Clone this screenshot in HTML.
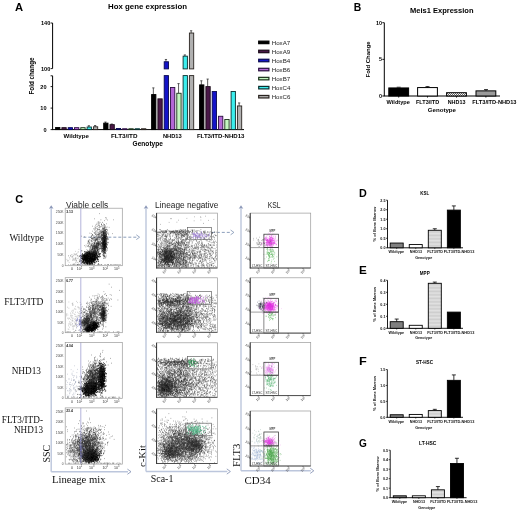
<!DOCTYPE html>
<html><head><meta charset="utf-8"><style>
html,body{margin:0;padding:0;background:#fff;width:520px;height:512px;overflow:hidden}
svg{display:block;will-change:transform}

</style></head><body>
<svg width="520" height="512" viewBox="0 0 520 512">
<defs>
<filter id="bl" x="-5%" y="-5%" width="110%" height="110%"><feGaussianBlur stdDeviation="1.5"/></filter>
<pattern id="chk" width="2" height="2" patternUnits="userSpaceOnUse"><rect width="2" height="2" fill="#fff"/><rect width="1" height="1" fill="#666"/><rect x="1" y="1" width="1" height="1" fill="#666"/></pattern>
<pattern id="dots" width="1" height="1.4" patternUnits="userSpaceOnUse"><rect width="1" height="1.4" fill="#e2e2e2"/><rect width="1" height=".5" fill="#c4c4c4"/></pattern>
</defs>
<text x="15" y="10.8" font-size="11.2" font-family="Liberation Sans" font-weight="bold" textLength="8.1" lengthAdjust="spacingAndGlyphs">A</text>
<text x="108" y="9.4" font-size="7.3" font-family="Liberation Sans" font-weight="bold" textLength="79" lengthAdjust="spacingAndGlyphs">Hox gene expression</text>
<line x1="52.6" y1="23" x2="52.6" y2="68.6" stroke="#000" stroke-width="1"/>
<line x1="50.6" y1="23.0" x2="52.6" y2="23.0" stroke="#000" stroke-width="0.9"/>
<text x="50.3" y="25.0" font-size="5.6" font-family="Liberation Sans" font-weight="bold" text-anchor="end">140</text>
<line x1="50.6" y1="68.6" x2="52.6" y2="68.6" stroke="#000" stroke-width="0.9"/>
<text x="50.3" y="70.6" font-size="5.6" font-family="Liberation Sans" font-weight="bold" text-anchor="end">100</text>
<line x1="52.6" y1="75.8" x2="52.6" y2="129.6" stroke="#000" stroke-width="1"/>
<line x1="50.6" y1="75.8" x2="52.6" y2="75.8" stroke="#000" stroke-width="0.9"/>
<line x1="50.6" y1="86.6" x2="52.6" y2="86.6" stroke="#000" stroke-width="0.9"/>
<text x="46.6" y="88.6" font-size="5.6" font-family="Liberation Sans" font-weight="bold" text-anchor="end">20</text>
<line x1="50.6" y1="108.1" x2="52.6" y2="108.1" stroke="#000" stroke-width="0.9"/>
<text x="46.6" y="110.1" font-size="5.6" font-family="Liberation Sans" font-weight="bold" text-anchor="end">10</text>
<line x1="50.6" y1="129.6" x2="52.6" y2="129.6" stroke="#000" stroke-width="0.9"/>
<text x="46.6" y="131.6" font-size="5.6" font-family="Liberation Sans" font-weight="bold" text-anchor="end">0</text>
<line x1="52.1" y1="129.6" x2="244" y2="129.6" stroke="#000" stroke-width="1"/>
<text x="34.2" y="76" font-size="6.3" font-family="Liberation Sans" font-weight="bold" text-anchor="middle" textLength="37" lengthAdjust="spacingAndGlyphs" transform="rotate(-90 34.2 76)">Fold change</text>
<text x="63.5" y="138" font-size="6.2" font-family="Liberation Sans" font-weight="bold" textLength="25.4" lengthAdjust="spacingAndGlyphs">Wildtype</text>
<text x="111" y="138" font-size="6.2" font-family="Liberation Sans" font-weight="bold" textLength="26.5" lengthAdjust="spacingAndGlyphs">FLT3/ITD</text>
<text x="162.9" y="138" font-size="6.2" font-family="Liberation Sans" font-weight="bold" textLength="18.9" lengthAdjust="spacingAndGlyphs">NHD13</text>
<text x="196.9" y="138" font-size="6.2" font-family="Liberation Sans" font-weight="bold" textLength="47.6" lengthAdjust="spacingAndGlyphs">FLT3/ITD-NHD13</text>
<text x="132.6" y="145.6" font-size="6.6" font-family="Liberation Sans" font-weight="bold" textLength="30.3" lengthAdjust="spacingAndGlyphs">Genotype</text>
<rect x="55.60" y="127.45" width="4.30" height="2.15" fill="#000000" stroke="#000" stroke-width="0.9"/>
<rect x="61.90" y="127.66" width="4.30" height="1.94" fill="#4a1848" stroke="#1a0a18" stroke-width="0.9"/>
<rect x="68.20" y="127.66" width="4.30" height="1.94" fill="#1414c8" stroke="#0a0a50" stroke-width="0.9"/>
<rect x="74.50" y="127.66" width="4.30" height="1.94" fill="#b466d6" stroke="#2a1040" stroke-width="0.9"/>
<rect x="80.80" y="127.66" width="4.30" height="1.94" fill="#c4f6c0" stroke="#1a301a" stroke-width="0.9"/>
<line x1="88.85000000000001" y1="125.72999999999999" x2="88.85000000000001" y2="127.02" stroke="#333" stroke-width="0.8"/>
<line x1="87.75000000000001" y1="125.72999999999999" x2="89.95" y2="125.72999999999999" stroke="#333" stroke-width="0.8"/>
<rect x="87.10" y="127.02" width="4.30" height="2.58" fill="#3ceeee" stroke="#0a3030" stroke-width="0.9"/>
<line x1="95.15" y1="125.515" x2="95.15" y2="126.80499999999999" stroke="#333" stroke-width="0.8"/>
<line x1="94.05000000000001" y1="125.515" x2="96.25" y2="125.515" stroke="#333" stroke-width="0.8"/>
<rect x="93.40" y="126.80" width="4.30" height="2.80" fill="#b0b0b0" stroke="#2a2420" stroke-width="0.9"/>
<line x1="105.45" y1="122.07499999999999" x2="105.45" y2="123.14999999999999" stroke="#333" stroke-width="0.8"/>
<line x1="104.35000000000001" y1="122.07499999999999" x2="106.55" y2="122.07499999999999" stroke="#333" stroke-width="0.8"/>
<rect x="103.70" y="123.15" width="4.30" height="6.45" fill="#000000" stroke="#000" stroke-width="0.9"/>
<line x1="111.75" y1="124.00999999999999" x2="111.75" y2="124.655" stroke="#333" stroke-width="0.8"/>
<line x1="110.65" y1="124.00999999999999" x2="112.85" y2="124.00999999999999" stroke="#333" stroke-width="0.8"/>
<rect x="110.00" y="124.66" width="4.30" height="4.94" fill="#4a1848" stroke="#1a0a18" stroke-width="0.9"/>
<rect x="116.30" y="128.53" width="4.30" height="1.07" fill="#1414c8" stroke="#0a0a50" stroke-width="0.9"/>
<rect x="122.60" y="128.74" width="4.30" height="0.86" fill="#b466d6" stroke="#2a1040" stroke-width="0.9"/>
<rect x="128.90" y="128.74" width="4.30" height="0.86" fill="#c4f6c0" stroke="#1a301a" stroke-width="0.9"/>
<rect x="135.20" y="128.74" width="4.30" height="0.86" fill="#3ceeee" stroke="#0a3030" stroke-width="0.9"/>
<rect x="141.50" y="128.74" width="4.30" height="0.86" fill="#b0b0b0" stroke="#2a2420" stroke-width="0.9"/>
<line x1="153.35" y1="87.89" x2="153.35" y2="94.55499999999999" stroke="#333" stroke-width="0.8"/>
<line x1="152.25" y1="87.89" x2="154.45" y2="87.89" stroke="#333" stroke-width="0.8"/>
<rect x="151.60" y="94.55" width="4.30" height="35.05" fill="#000000" stroke="#000" stroke-width="0.9"/>
<rect x="157.90" y="98.85" width="4.30" height="30.75" fill="#4a1848" stroke="#1a0a18" stroke-width="0.9"/>
<line x1="165.95" y1="59.48" x2="165.95" y2="61.76" stroke="#333" stroke-width="0.8"/>
<line x1="164.85" y1="59.48" x2="167.04999999999998" y2="59.48" stroke="#333" stroke-width="0.8"/>
<rect x="164.20" y="61.76" width="4.30" height="7.14" fill="#1414c8" stroke="#0a0a50" stroke-width="0.9"/>
<rect x="164.20" y="75.60" width="4.30" height="54.00" fill="#1414c8" stroke="#0a0a50" stroke-width="0.9"/>
<rect x="170.50" y="87.46" width="4.30" height="42.14" fill="#b466d6" stroke="#2a1040" stroke-width="0.9"/>
<line x1="178.54999999999998" y1="83.59" x2="178.54999999999998" y2="93.265" stroke="#333" stroke-width="0.8"/>
<line x1="177.45" y1="83.59" x2="179.64999999999998" y2="83.59" stroke="#333" stroke-width="0.8"/>
<rect x="176.80" y="93.27" width="4.30" height="36.33" fill="#c4f6c0" stroke="#1a301a" stroke-width="0.9"/>
<line x1="184.85" y1="54.919999999999995" x2="184.85" y2="56.17399999999999" stroke="#333" stroke-width="0.8"/>
<line x1="183.75" y1="54.919999999999995" x2="185.95" y2="54.919999999999995" stroke="#333" stroke-width="0.8"/>
<rect x="183.10" y="56.17" width="4.30" height="12.73" fill="#3ceeee" stroke="#0a3030" stroke-width="0.9"/>
<rect x="183.10" y="75.60" width="4.30" height="54.00" fill="#3ceeee" stroke="#0a3030" stroke-width="0.9"/>
<line x1="191.15" y1="30.75200000000001" x2="191.15" y2="33.03200000000001" stroke="#333" stroke-width="0.8"/>
<line x1="190.05" y1="30.75200000000001" x2="192.25" y2="30.75200000000001" stroke="#333" stroke-width="0.8"/>
<rect x="189.40" y="33.03" width="4.30" height="35.87" fill="#b0b0b0" stroke="#2a2420" stroke-width="0.9"/>
<rect x="189.40" y="75.60" width="4.30" height="54.00" fill="#b0b0b0" stroke="#2a2420" stroke-width="0.9"/>
<line x1="201.35" y1="80.79499999999999" x2="201.35" y2="84.88" stroke="#333" stroke-width="0.8"/>
<line x1="200.25" y1="80.79499999999999" x2="202.45" y2="80.79499999999999" stroke="#333" stroke-width="0.8"/>
<rect x="199.60" y="84.88" width="4.30" height="44.72" fill="#000000" stroke="#000" stroke-width="0.9"/>
<line x1="207.65" y1="79.07499999999999" x2="207.65" y2="86.6" stroke="#333" stroke-width="0.8"/>
<line x1="206.55" y1="79.07499999999999" x2="208.75" y2="79.07499999999999" stroke="#333" stroke-width="0.8"/>
<rect x="205.90" y="86.60" width="4.30" height="43.00" fill="#4a1848" stroke="#1a0a18" stroke-width="0.9"/>
<rect x="212.20" y="91.54" width="4.30" height="38.06" fill="#1414c8" stroke="#0a0a50" stroke-width="0.9"/>
<rect x="218.50" y="116.27" width="4.30" height="13.33" fill="#b466d6" stroke="#2a1040" stroke-width="0.9"/>
<rect x="224.80" y="119.49" width="4.30" height="10.11" fill="#c4f6c0" stroke="#1a301a" stroke-width="0.9"/>
<rect x="231.10" y="91.54" width="4.30" height="38.06" fill="#3ceeee" stroke="#0a3030" stroke-width="0.9"/>
<line x1="239.15" y1="102.94" x2="239.15" y2="105.94999999999999" stroke="#333" stroke-width="0.8"/>
<line x1="238.05" y1="102.94" x2="240.25" y2="102.94" stroke="#333" stroke-width="0.8"/>
<rect x="237.40" y="105.95" width="4.30" height="23.65" fill="#b0b0b0" stroke="#2a2420" stroke-width="0.9"/>
<rect x="258.70" y="41.15" width="10.20" height="2.50" fill="#000000" stroke="#000" stroke-width="1.2"/>
<text x="271.7" y="44.6" font-size="6.2" font-family="Liberation Sans" fill="#222" textLength="18.6" lengthAdjust="spacingAndGlyphs">HoxA7</text>
<rect x="258.70" y="50.20" width="10.20" height="2.50" fill="#4a1848" stroke="#1a0a18" stroke-width="1.2"/>
<text x="271.7" y="53.650000000000006" font-size="6.2" font-family="Liberation Sans" fill="#222" textLength="18.6" lengthAdjust="spacingAndGlyphs">HoxA9</text>
<rect x="258.70" y="59.25" width="10.20" height="2.50" fill="#1414c8" stroke="#0a0a50" stroke-width="1.2"/>
<text x="271.7" y="62.7" font-size="6.2" font-family="Liberation Sans" fill="#222" textLength="18.6" lengthAdjust="spacingAndGlyphs">HoxB4</text>
<rect x="258.70" y="68.30" width="10.20" height="2.50" fill="#b466d6" stroke="#2a1040" stroke-width="1.2"/>
<text x="271.7" y="71.75" font-size="6.2" font-family="Liberation Sans" fill="#222" textLength="18.6" lengthAdjust="spacingAndGlyphs">HoxB6</text>
<rect x="258.70" y="77.35" width="10.20" height="2.50" fill="#c4f6c0" stroke="#1a301a" stroke-width="1.2"/>
<text x="271.7" y="80.8" font-size="6.2" font-family="Liberation Sans" fill="#222" textLength="18.6" lengthAdjust="spacingAndGlyphs">HoxB7</text>
<rect x="258.70" y="86.40" width="10.20" height="2.50" fill="#3ceeee" stroke="#0a3030" stroke-width="1.2"/>
<text x="271.7" y="89.85000000000001" font-size="6.2" font-family="Liberation Sans" fill="#222" textLength="18.6" lengthAdjust="spacingAndGlyphs">HoxC4</text>
<rect x="258.70" y="95.45" width="10.20" height="2.50" fill="#b0b0b0" stroke="#2a2420" stroke-width="1.2"/>
<text x="271.7" y="98.9" font-size="6.2" font-family="Liberation Sans" fill="#222" textLength="18.6" lengthAdjust="spacingAndGlyphs">HoxC6</text>
<text x="353.8" y="11" font-size="10" font-family="Liberation Sans" font-weight="bold" textLength="7.5" lengthAdjust="spacingAndGlyphs">B</text>
<text x="410" y="13.3" font-size="7.3" font-family="Liberation Sans" font-weight="bold" textLength="63.5" lengthAdjust="spacingAndGlyphs">Meis1 Expression</text>
<line x1="384.3" y1="22.7" x2="384.3" y2="96" stroke="#000" stroke-width="1"/>
<line x1="382.3" y1="22.700000000000003" x2="384.3" y2="22.700000000000003" stroke="#000" stroke-width="0.9"/>
<text x="381.90000000000003" y="24.700000000000003" font-size="5.4" font-family="Liberation Sans" font-weight="bold" text-anchor="end">10</text>
<line x1="382.3" y1="59.35" x2="384.3" y2="59.35" stroke="#000" stroke-width="0.9"/>
<text x="381.90000000000003" y="61.35" font-size="5.4" font-family="Liberation Sans" font-weight="bold" text-anchor="end">5</text>
<line x1="382.3" y1="96.0" x2="384.3" y2="96.0" stroke="#000" stroke-width="0.9"/>
<text x="381.90000000000003" y="98.0" font-size="5.4" font-family="Liberation Sans" font-weight="bold" text-anchor="end">0</text>
<line x1="383.8" y1="96" x2="500" y2="96" stroke="#000" stroke-width="1"/>
<text x="370.2" y="59.4" font-size="5.9" font-family="Liberation Sans" font-weight="bold" text-anchor="middle" textLength="36" lengthAdjust="spacingAndGlyphs" transform="rotate(-90 370.2 59.4)">Fold Change</text>
<rect x="388.80" y="87.94" width="19.80" height="8.06" fill="#000" stroke="#000" stroke-width="1"/>
<line x1="398.7" y1="96" x2="398.7" y2="97.6" stroke="#000" stroke-width="0.8"/>
<rect x="417.60" y="87.57" width="19.80" height="8.43" fill="#fff" stroke="#000" stroke-width="1"/>
<line x1="427.5" y1="96" x2="427.5" y2="97.6" stroke="#000" stroke-width="0.8"/>
<rect x="446.60" y="92.70" width="19.80" height="3.30" fill="url(#chk)" stroke="#000" stroke-width="1"/>
<line x1="456.5" y1="96" x2="456.5" y2="97.6" stroke="#000" stroke-width="0.8"/>
<rect x="476.00" y="90.87" width="19.80" height="5.13" fill="#9a9a9a" stroke="#000" stroke-width="1"/>
<line x1="485.9" y1="96" x2="485.9" y2="97.6" stroke="#000" stroke-width="0.8"/>
<line x1="425.5" y1="86.6" x2="429.5" y2="86.6" stroke="#000" stroke-width="0.8"/>
<line x1="427.5" y1="86.6" x2="427.5" y2="87.6" stroke="#000" stroke-width="0.8"/>
<line x1="484" y1="89.6" x2="488" y2="89.6" stroke="#000" stroke-width="0.8"/>
<line x1="486" y1="89.6" x2="486" y2="90.8" stroke="#000" stroke-width="0.8"/>
<line x1="396.7" y1="87.2" x2="400.7" y2="87.2" stroke="#000" stroke-width="0.7"/>
<text x="386.5" y="103.8" font-size="5.6" font-family="Liberation Sans" font-weight="bold" textLength="23.4" lengthAdjust="spacingAndGlyphs">Wildtype</text>
<text x="416" y="103.8" font-size="5.6" font-family="Liberation Sans" font-weight="bold" textLength="23.2" lengthAdjust="spacingAndGlyphs">FLT3/ITD</text>
<text x="447.7" y="103.8" font-size="5.6" font-family="Liberation Sans" font-weight="bold" textLength="17.7" lengthAdjust="spacingAndGlyphs">NHD13</text>
<text x="472.3" y="103.8" font-size="5.6" font-family="Liberation Sans" font-weight="bold" textLength="44.2" lengthAdjust="spacingAndGlyphs">FLT3/ITD-NHD13</text>
<text x="427.8" y="112.3" font-size="6.1" font-family="Liberation Sans" font-weight="bold" textLength="28.2" lengthAdjust="spacingAndGlyphs">Genotype</text>
<text x="359" y="197.2" font-size="11" font-family="Liberation Sans" font-weight="bold" textLength="7.8" lengthAdjust="spacingAndGlyphs">D</text>
<text x="420.3" y="194.5" font-size="4.6" font-family="Liberation Sans" font-weight="bold" textLength="8.9" lengthAdjust="spacingAndGlyphs">KSL</text>
<line x1="387.5" y1="200.2" x2="387.5" y2="247.8" stroke="#000" stroke-width="0.9"/>
<line x1="386.0" y1="247.8" x2="387.5" y2="247.8" stroke="#000" stroke-width="0.7"/>
<text x="385.5" y="249.10000000000002" font-size="3.7" font-family="Liberation Sans" font-weight="bold" text-anchor="end" fill="#111">0.0</text>
<line x1="386.0" y1="238.28" x2="387.5" y2="238.28" stroke="#000" stroke-width="0.7"/>
<text x="385.5" y="239.58" font-size="3.7" font-family="Liberation Sans" font-weight="bold" text-anchor="end" fill="#111">0.5</text>
<line x1="386.0" y1="228.76" x2="387.5" y2="228.76" stroke="#000" stroke-width="0.7"/>
<text x="385.5" y="230.06" font-size="3.7" font-family="Liberation Sans" font-weight="bold" text-anchor="end" fill="#111">1.0</text>
<line x1="386.0" y1="219.24" x2="387.5" y2="219.24" stroke="#000" stroke-width="0.7"/>
<text x="385.5" y="220.54000000000002" font-size="3.7" font-family="Liberation Sans" font-weight="bold" text-anchor="end" fill="#111">1.5</text>
<line x1="386.0" y1="209.72" x2="387.5" y2="209.72" stroke="#000" stroke-width="0.7"/>
<text x="385.5" y="211.02" font-size="3.7" font-family="Liberation Sans" font-weight="bold" text-anchor="end" fill="#111">2.0</text>
<line x1="386.0" y1="200.2" x2="387.5" y2="200.2" stroke="#000" stroke-width="0.7"/>
<text x="385.5" y="201.5" font-size="3.7" font-family="Liberation Sans" font-weight="bold" text-anchor="end" fill="#111">2.5</text>
<line x1="387.1" y1="247.8" x2="463" y2="247.8" stroke="#000" stroke-width="0.9"/>
<rect x="390.20" y="243.04" width="13.00" height="4.76" fill="#808080" stroke="#000" stroke-width="0.9"/>
<line x1="396.7" y1="247.8" x2="396.7" y2="249.10000000000002" stroke="#000" stroke-width="0.6"/>
<rect x="409.25" y="244.56" width="13.00" height="3.24" fill="#ffffff" stroke="#000" stroke-width="0.9"/>
<line x1="415.75" y1="247.8" x2="415.75" y2="249.10000000000002" stroke="#000" stroke-width="0.6"/>
<line x1="434.8" y1="228.76" x2="434.8" y2="230.2832" stroke="#000" stroke-width="0.8"/>
<line x1="432.8" y1="228.76" x2="436.8" y2="228.76" stroke="#000" stroke-width="0.8"/>
<rect x="428.30" y="230.28" width="13.00" height="17.52" fill="url(#dots)" stroke="#000" stroke-width="0.9"/>
<line x1="434.8" y1="247.8" x2="434.8" y2="249.10000000000002" stroke="#000" stroke-width="0.6"/>
<line x1="453.85" y1="205.91199999999998" x2="453.85" y2="210.1008" stroke="#000" stroke-width="0.8"/>
<line x1="451.85" y1="205.91199999999998" x2="455.85" y2="205.91199999999998" stroke="#000" stroke-width="0.8"/>
<rect x="447.35" y="210.10" width="13.00" height="37.70" fill="#000000" stroke="#000" stroke-width="0.9"/>
<line x1="453.85" y1="247.8" x2="453.85" y2="249.10000000000002" stroke="#000" stroke-width="0.6"/>
<text x="388.59999999999997" y="253.3" font-size="3.9" font-family="Liberation Sans" font-weight="bold" fill="#111" textLength="15.5" lengthAdjust="spacingAndGlyphs">Wildtype</text>
<text x="409.85" y="253.3" font-size="3.9" font-family="Liberation Sans" font-weight="bold" fill="#111" textLength="12.2" lengthAdjust="spacingAndGlyphs">NHD13</text>
<text x="427.2" y="253.3" font-size="3.9" font-family="Liberation Sans" font-weight="bold" fill="#111" textLength="15.7" lengthAdjust="spacingAndGlyphs">FLT3/ITD</text>
<text x="443.85" y="253.3" font-size="3.9" font-family="Liberation Sans" font-weight="bold" fill="#111" textLength="30.5" lengthAdjust="spacingAndGlyphs">FLT3/ITD-NHD13</text>
<text x="415.2" y="259.3" font-size="4.3" font-family="Liberation Sans" font-weight="bold" fill="#111" textLength="17" lengthAdjust="spacingAndGlyphs">Genotype</text>
<text x="376.2" y="224.0" font-size="4.1" font-family="Liberation Sans" font-weight="bold" text-anchor="middle" fill="#111" textLength="35" lengthAdjust="spacingAndGlyphs" transform="rotate(-90 376.2 224.0)">% of Bone Marrow</text>
<text x="359" y="273.8" font-size="11" font-family="Liberation Sans" font-weight="bold" textLength="7.8" lengthAdjust="spacingAndGlyphs">E</text>
<text x="419.8" y="275" font-size="4.6" font-family="Liberation Sans" font-weight="bold" textLength="9.9" lengthAdjust="spacingAndGlyphs">MPP</text>
<line x1="387.5" y1="280.3" x2="387.5" y2="328.3" stroke="#000" stroke-width="0.9"/>
<line x1="386.0" y1="328.3" x2="387.5" y2="328.3" stroke="#000" stroke-width="0.7"/>
<text x="385.5" y="329.6" font-size="3.7" font-family="Liberation Sans" font-weight="bold" text-anchor="end" fill="#111">0.0</text>
<line x1="386.0" y1="316.3" x2="387.5" y2="316.3" stroke="#000" stroke-width="0.7"/>
<text x="385.5" y="317.6" font-size="3.7" font-family="Liberation Sans" font-weight="bold" text-anchor="end" fill="#111">0.1</text>
<line x1="386.0" y1="304.3" x2="387.5" y2="304.3" stroke="#000" stroke-width="0.7"/>
<text x="385.5" y="305.6" font-size="3.7" font-family="Liberation Sans" font-weight="bold" text-anchor="end" fill="#111">0.2</text>
<line x1="386.0" y1="292.3" x2="387.5" y2="292.3" stroke="#000" stroke-width="0.7"/>
<text x="385.5" y="293.6" font-size="3.7" font-family="Liberation Sans" font-weight="bold" text-anchor="end" fill="#111">0.3</text>
<line x1="386.0" y1="280.3" x2="387.5" y2="280.3" stroke="#000" stroke-width="0.7"/>
<text x="385.5" y="281.6" font-size="3.7" font-family="Liberation Sans" font-weight="bold" text-anchor="end" fill="#111">0.4</text>
<line x1="387.1" y1="328.3" x2="463" y2="328.3" stroke="#000" stroke-width="0.9"/>
<line x1="396.7" y1="319.06" x2="396.7" y2="321.7" stroke="#000" stroke-width="0.8"/>
<line x1="394.7" y1="319.06" x2="398.7" y2="319.06" stroke="#000" stroke-width="0.8"/>
<rect x="390.20" y="321.70" width="13.00" height="6.60" fill="#808080" stroke="#000" stroke-width="0.9"/>
<line x1="396.7" y1="328.3" x2="396.7" y2="329.6" stroke="#000" stroke-width="0.6"/>
<rect x="409.25" y="325.30" width="13.00" height="3.00" fill="#ffffff" stroke="#000" stroke-width="0.9"/>
<line x1="415.75" y1="328.3" x2="415.75" y2="329.6" stroke="#000" stroke-width="0.6"/>
<line x1="434.8" y1="282.1" x2="434.8" y2="283.3" stroke="#000" stroke-width="0.8"/>
<line x1="432.8" y1="282.1" x2="436.8" y2="282.1" stroke="#000" stroke-width="0.8"/>
<rect x="428.30" y="283.30" width="13.00" height="45.00" fill="url(#dots)" stroke="#000" stroke-width="0.9"/>
<line x1="434.8" y1="328.3" x2="434.8" y2="329.6" stroke="#000" stroke-width="0.6"/>
<rect x="447.35" y="312.10" width="13.00" height="16.20" fill="#000000" stroke="#000" stroke-width="0.9"/>
<line x1="453.85" y1="328.3" x2="453.85" y2="329.6" stroke="#000" stroke-width="0.6"/>
<text x="388.59999999999997" y="333.6" font-size="3.9" font-family="Liberation Sans" font-weight="bold" fill="#111" textLength="15.5" lengthAdjust="spacingAndGlyphs">Wildtype</text>
<text x="409.85" y="333.6" font-size="3.9" font-family="Liberation Sans" font-weight="bold" fill="#111" textLength="12.2" lengthAdjust="spacingAndGlyphs">NHD13</text>
<text x="427.2" y="333.6" font-size="3.9" font-family="Liberation Sans" font-weight="bold" fill="#111" textLength="15.7" lengthAdjust="spacingAndGlyphs">FLT3/ITD</text>
<text x="443.85" y="333.6" font-size="3.9" font-family="Liberation Sans" font-weight="bold" fill="#111" textLength="30.5" lengthAdjust="spacingAndGlyphs">FLT3/ITD-NHD13</text>
<text x="415.2" y="339.3" font-size="4.3" font-family="Liberation Sans" font-weight="bold" fill="#111" textLength="17" lengthAdjust="spacingAndGlyphs">Genotype</text>
<text x="376.2" y="304.3" font-size="4.1" font-family="Liberation Sans" font-weight="bold" text-anchor="middle" fill="#111" textLength="35" lengthAdjust="spacingAndGlyphs" transform="rotate(-90 376.2 304.3)">% of Bone Marrow</text>
<text x="359" y="365.3" font-size="11" font-family="Liberation Sans" font-weight="bold" textLength="7.8" lengthAdjust="spacingAndGlyphs">F</text>
<text x="416" y="364.2" font-size="4.6" font-family="Liberation Sans" font-weight="bold" textLength="17" lengthAdjust="spacingAndGlyphs">ST-HSC</text>
<line x1="387.3" y1="369.5" x2="387.3" y2="417.3" stroke="#000" stroke-width="0.9"/>
<line x1="385.8" y1="417.3" x2="387.3" y2="417.3" stroke="#000" stroke-width="0.7"/>
<text x="385.3" y="418.6" font-size="3.7" font-family="Liberation Sans" font-weight="bold" text-anchor="end" fill="#111">0.0</text>
<line x1="385.8" y1="401.3666666666667" x2="387.3" y2="401.3666666666667" stroke="#000" stroke-width="0.7"/>
<text x="385.3" y="402.6666666666667" font-size="3.7" font-family="Liberation Sans" font-weight="bold" text-anchor="end" fill="#111">0.5</text>
<line x1="385.8" y1="385.43333333333334" x2="387.3" y2="385.43333333333334" stroke="#000" stroke-width="0.7"/>
<text x="385.3" y="386.73333333333335" font-size="3.7" font-family="Liberation Sans" font-weight="bold" text-anchor="end" fill="#111">1.0</text>
<line x1="385.8" y1="369.5" x2="387.3" y2="369.5" stroke="#000" stroke-width="0.7"/>
<text x="385.3" y="370.8" font-size="3.7" font-family="Liberation Sans" font-weight="bold" text-anchor="end" fill="#111">1.5</text>
<line x1="386.90000000000003" y1="417.3" x2="463" y2="417.3" stroke="#000" stroke-width="0.9"/>
<rect x="390.20" y="414.75" width="13.00" height="2.55" fill="#808080" stroke="#000" stroke-width="0.9"/>
<line x1="396.7" y1="417.3" x2="396.7" y2="418.6" stroke="#000" stroke-width="0.6"/>
<rect x="409.25" y="414.43" width="13.00" height="2.87" fill="#ffffff" stroke="#000" stroke-width="0.9"/>
<line x1="415.75" y1="417.3" x2="415.75" y2="418.6" stroke="#000" stroke-width="0.6"/>
<line x1="434.8" y1="409.33333333333337" x2="434.8" y2="410.608" stroke="#000" stroke-width="0.8"/>
<line x1="432.8" y1="409.33333333333337" x2="436.8" y2="409.33333333333337" stroke="#000" stroke-width="0.8"/>
<rect x="428.30" y="410.61" width="13.00" height="6.69" fill="url(#dots)" stroke="#000" stroke-width="0.9"/>
<line x1="434.8" y1="417.3" x2="434.8" y2="418.6" stroke="#000" stroke-width="0.6"/>
<line x1="453.85" y1="374.9173333333333" x2="453.85" y2="380.3346666666667" stroke="#000" stroke-width="0.8"/>
<line x1="451.85" y1="374.9173333333333" x2="455.85" y2="374.9173333333333" stroke="#000" stroke-width="0.8"/>
<rect x="447.35" y="380.33" width="13.00" height="36.97" fill="#000000" stroke="#000" stroke-width="0.9"/>
<line x1="453.85" y1="417.3" x2="453.85" y2="418.6" stroke="#000" stroke-width="0.6"/>
<text x="388.59999999999997" y="423.1" font-size="3.9" font-family="Liberation Sans" font-weight="bold" fill="#111" textLength="15.5" lengthAdjust="spacingAndGlyphs">Wildtype</text>
<text x="409.85" y="423.1" font-size="3.9" font-family="Liberation Sans" font-weight="bold" fill="#111" textLength="12.2" lengthAdjust="spacingAndGlyphs">NHD13</text>
<text x="427.2" y="423.1" font-size="3.9" font-family="Liberation Sans" font-weight="bold" fill="#111" textLength="15.7" lengthAdjust="spacingAndGlyphs">FLT3/ITD</text>
<text x="443.85" y="423.1" font-size="3.9" font-family="Liberation Sans" font-weight="bold" fill="#111" textLength="30.5" lengthAdjust="spacingAndGlyphs">FLT3/ITD-NHD13</text>
<text x="415.2" y="428.8" font-size="4.3" font-family="Liberation Sans" font-weight="bold" fill="#111" textLength="17" lengthAdjust="spacingAndGlyphs">Genotype</text>
<text x="376.0" y="393.4" font-size="4.1" font-family="Liberation Sans" font-weight="bold" text-anchor="middle" fill="#111" textLength="35" lengthAdjust="spacingAndGlyphs" transform="rotate(-90 376.0 393.4)">% of Bone Marrow</text>
<text x="359" y="447.3" font-size="11" font-family="Liberation Sans" font-weight="bold" textLength="7.8" lengthAdjust="spacingAndGlyphs">G</text>
<text x="419" y="444.5" font-size="4.6" font-family="Liberation Sans" font-weight="bold" textLength="17.4" lengthAdjust="spacingAndGlyphs">LT-HSC</text>
<line x1="390.2" y1="450.2" x2="390.2" y2="497.7" stroke="#000" stroke-width="0.9"/>
<line x1="388.7" y1="497.7" x2="390.2" y2="497.7" stroke="#000" stroke-width="0.7"/>
<text x="388.2" y="499.0" font-size="3.7" font-family="Liberation Sans" font-weight="bold" text-anchor="end" fill="#111">0.0</text>
<line x1="388.7" y1="488.2" x2="390.2" y2="488.2" stroke="#000" stroke-width="0.7"/>
<text x="388.2" y="489.5" font-size="3.7" font-family="Liberation Sans" font-weight="bold" text-anchor="end" fill="#111">0.1</text>
<line x1="388.7" y1="478.7" x2="390.2" y2="478.7" stroke="#000" stroke-width="0.7"/>
<text x="388.2" y="480.0" font-size="3.7" font-family="Liberation Sans" font-weight="bold" text-anchor="end" fill="#111">0.2</text>
<line x1="388.7" y1="469.2" x2="390.2" y2="469.2" stroke="#000" stroke-width="0.7"/>
<text x="388.2" y="470.5" font-size="3.7" font-family="Liberation Sans" font-weight="bold" text-anchor="end" fill="#111">0.3</text>
<line x1="388.7" y1="459.7" x2="390.2" y2="459.7" stroke="#000" stroke-width="0.7"/>
<text x="388.2" y="461.0" font-size="3.7" font-family="Liberation Sans" font-weight="bold" text-anchor="end" fill="#111">0.4</text>
<line x1="388.7" y1="450.2" x2="390.2" y2="450.2" stroke="#000" stroke-width="0.7"/>
<text x="388.2" y="451.5" font-size="3.7" font-family="Liberation Sans" font-weight="bold" text-anchor="end" fill="#111">0.5</text>
<line x1="389.8" y1="497.7" x2="466.6" y2="497.7" stroke="#000" stroke-width="0.9"/>
<rect x="393.30" y="495.80" width="13.00" height="1.90" fill="#808080" stroke="#000" stroke-width="0.9"/>
<line x1="399.8" y1="497.7" x2="399.8" y2="499.0" stroke="#000" stroke-width="0.6"/>
<rect x="412.35" y="495.80" width="13.00" height="1.90" fill="#ffffff" stroke="#000" stroke-width="0.9"/>
<line x1="418.85" y1="497.7" x2="418.85" y2="499.0" stroke="#000" stroke-width="0.6"/>
<line x1="437.90000000000003" y1="486.585" x2="437.90000000000003" y2="489.815" stroke="#000" stroke-width="0.8"/>
<line x1="435.90000000000003" y1="486.585" x2="439.90000000000003" y2="486.585" stroke="#000" stroke-width="0.8"/>
<rect x="431.40" y="489.81" width="13.00" height="7.88" fill="url(#dots)" stroke="#000" stroke-width="0.9"/>
<line x1="437.90000000000003" y1="497.7" x2="437.90000000000003" y2="499.0" stroke="#000" stroke-width="0.6"/>
<line x1="456.95000000000005" y1="458.275" x2="456.95000000000005" y2="463.5" stroke="#000" stroke-width="0.8"/>
<line x1="454.95000000000005" y1="458.275" x2="458.95000000000005" y2="458.275" stroke="#000" stroke-width="0.8"/>
<rect x="450.45" y="463.50" width="13.00" height="34.20" fill="#000000" stroke="#000" stroke-width="0.9"/>
<line x1="456.95000000000005" y1="497.7" x2="456.95000000000005" y2="499.0" stroke="#000" stroke-width="0.6"/>
<text x="391.7" y="503.3" font-size="3.9" font-family="Liberation Sans" font-weight="bold" fill="#111" textLength="15.5" lengthAdjust="spacingAndGlyphs">Wildtype</text>
<text x="412.95000000000005" y="503.3" font-size="3.9" font-family="Liberation Sans" font-weight="bold" fill="#111" textLength="12.2" lengthAdjust="spacingAndGlyphs">NHD13</text>
<text x="430.3" y="503.3" font-size="3.9" font-family="Liberation Sans" font-weight="bold" fill="#111" textLength="15.7" lengthAdjust="spacingAndGlyphs">FLT3/ITD</text>
<text x="446.95000000000005" y="503.3" font-size="3.9" font-family="Liberation Sans" font-weight="bold" fill="#111" textLength="30.5" lengthAdjust="spacingAndGlyphs">FLT3/ITD-NHD13</text>
<text x="418.3" y="509" font-size="4.3" font-family="Liberation Sans" font-weight="bold" fill="#111" textLength="17" lengthAdjust="spacingAndGlyphs">Genotype</text>
<text x="378.9" y="473.95" font-size="4.1" font-family="Liberation Sans" font-weight="bold" text-anchor="middle" fill="#111" textLength="35" lengthAdjust="spacingAndGlyphs" transform="rotate(-90 378.9 473.95)">% of Bone Marrow</text>
<text x="15.2" y="203" font-size="10.3" font-family="Liberation Sans" font-weight="bold" textLength="7.9" lengthAdjust="spacingAndGlyphs">C</text>
<text x="66" y="207.7" font-size="8.5" font-family="Liberation Sans" fill="#222" textLength="42.3" lengthAdjust="spacingAndGlyphs">Viable cells</text>
<text x="155.1" y="207.7" font-size="8.5" font-family="Liberation Sans" fill="#222" textLength="63.2" lengthAdjust="spacingAndGlyphs">Lineage negative</text>
<text x="267.8" y="207.7" font-size="8.5" font-family="Liberation Sans" fill="#222" textLength="12.8" lengthAdjust="spacingAndGlyphs">KSL</text>
<text x="9.4" y="240.5" font-size="9.4" font-family="Liberation Serif" fill="#111" textLength="34.4" lengthAdjust="spacingAndGlyphs">Wildtype</text>
<text x="4.2" y="305.3" font-size="9.4" font-family="Liberation Serif" fill="#111" textLength="39.2" lengthAdjust="spacingAndGlyphs">FLT3/ITD</text>
<text x="11.7" y="373.7" font-size="9.4" font-family="Liberation Serif" fill="#111" textLength="29.3" lengthAdjust="spacingAndGlyphs">NHD13</text>
<text x="1.8" y="422.8" font-size="9.4" font-family="Liberation Serif" fill="#111" textLength="41.2" lengthAdjust="spacingAndGlyphs">FLT3/ITD-</text>
<text x="14" y="433.4" font-size="9.4" font-family="Liberation Serif" fill="#111" textLength="29" lengthAdjust="spacingAndGlyphs">NHD13</text>
<text x="52" y="482.6" font-size="11" font-family="Liberation Serif" fill="#111" textLength="53.6" lengthAdjust="spacingAndGlyphs">Lineage mix</text>
<text x="150.8" y="482" font-size="10.4" font-family="Liberation Serif" fill="#111" textLength="22.6" lengthAdjust="spacingAndGlyphs">Sca-1</text>
<text x="244.6" y="484" font-size="10.6" font-family="Liberation Serif" fill="#111" textLength="26" lengthAdjust="spacingAndGlyphs">CD34</text>
<text x="50" y="453.6" font-size="11" font-family="Liberation Serif" text-anchor="middle" fill="#111" textLength="17.6" lengthAdjust="spacingAndGlyphs" transform="rotate(-90 50 453.6)">SSC</text>
<text x="145.5" y="456" font-size="11" font-family="Liberation Serif" text-anchor="middle" fill="#111" textLength="22" lengthAdjust="spacingAndGlyphs" transform="rotate(-90 145.5 456)">c-Kit</text>
<text x="239.8" y="455.4" font-size="11" font-family="Liberation Serif" text-anchor="middle" fill="#111" textLength="23.2" lengthAdjust="spacingAndGlyphs" transform="rotate(-90 239.8 455.4)">FLT3</text>
<line x1="51.2" y1="208" x2="51.2" y2="471.7" stroke="#bcc6dc" stroke-width="1.4"/>
<line x1="51.2" y1="471.7" x2="128" y2="471.7" stroke="#bcc6dc" stroke-width="1.4"/>
<path d="M48.900000000000006 208.8L51.2 205.3L53.5 208.8L51.2 208Z" fill="#8c98b8"/>
<path d="M127.4 469.09999999999997L131 471.7L127.4 474.3" fill="none" stroke="#8c98b8" stroke-width="0.9"/>
<line x1="146" y1="208" x2="146" y2="471.5" stroke="#bcc6dc" stroke-width="1.4"/>
<line x1="146" y1="471.5" x2="227.4" y2="471.5" stroke="#bcc6dc" stroke-width="1.4"/>
<path d="M143.7 208.8L146 205.3L148.3 208.8L146 208Z" fill="#8c98b8"/>
<path d="M226.8 468.9L230.4 471.5L226.8 474.1" fill="none" stroke="#8c98b8" stroke-width="0.9"/>
<line x1="241" y1="208" x2="241" y2="470.8" stroke="#bcc6dc" stroke-width="1.4"/>
<line x1="241" y1="470.8" x2="310.8" y2="470.8" stroke="#bcc6dc" stroke-width="1.4"/>
<path d="M238.7 208.8L241 205.3L243.3 208.8L241 208Z" fill="#8c98b8"/>
<path d="M310.2 468.2L313.8 470.8L310.2 473.40000000000003" fill="none" stroke="#8c98b8" stroke-width="0.9"/>
<line x1="83.3" y1="237.2" x2="136.5" y2="237.2" stroke="#7f93b3" stroke-width="0.9" stroke-dasharray="3 2"/>
<path d="M136.3 234.8L139.6 237.2L136.3 239.6" fill="none" stroke="#7f93b3" stroke-width="0.8"/>
<line x1="211.8" y1="232.4" x2="231" y2="232.4" stroke="#7f93b3" stroke-width="0.9" stroke-dasharray="3 2"/>
<path d="M230.6 230L233.9 232.4L230.6 234.8" fill="none" stroke="#7f93b3" stroke-width="0.8"/>
<path transform="scale(.2)" d="M0 0m474 1236h4m4 1h4m-26 12h4m-16 2h4m33 0h4m-82 3h4m26 0h4m44 0h4m-13 2h4m-36 1h4m4 0h4m11 0h4m-50 1h4m15 1h4m-1 0h4m16 0h4m-39 1h4m4 0h4m2 0h4m1 0h4m18 0h4m-2 0h4m4 0h4m-44 1h4m3 0h4m-3 0h4m24 0h4m-51 1h4m-1 0h4m-2 0h4m-2 0h4m15 0h4m13 0h4m6 0h4m-51 1h4m5 0h4m-2 0h4m-3 0h4m-1 0h4m0 0h4m5 0h4m-2 0h4m-1 0h4m-2 0h4m-29 1h4m16 0h4m-2 0h4m-1 0h4m3 0h4m-58 1h4m9 0h4m4 0h4m-2 0h4m13 0h4m-40 1h4m8 0h4m-3 0h4m-1 0h4m12 0h4m2 0h4m-1 0h4m-3 0h4m-2 0h4m-1 0h4m-2 0h4m-3 0h4m-27 1h4m-1 0h4m4 0h4m-3 0h4m-2 0h4m3 0h4m2 0h4m-2 0h4m-75 1h4m13 0h4m-1 0h4m1 0h4m1 0h4m-1 0h4m-1 0h4m-2 0h4m-3 0h4m-1 0h4m3 0h4m-3 0h4m1 0h4m23 0h4m-73 1h4m5 0h4m-3 0h4m3 0h4m0 0h4m-2 0h4m0 0h4m3 0h4m3 0h4m8 0h4m-3 0h4m-3 0h4m-3 0h4m-2 0h4m14 0h4m-84 1h4m2 0h4m10 0h4m-3 0h4m0 0h4m-2 0h4m-3 0h4m-2 0h4m-2 0h4m-3 0h4m-3 0h4m-3 0h4m1 0h4m0 0h4m-3 0h4m4 0h4m-3 0h4m16 0h4m-3 0h4m-69 1h4m-3 0h4m3 0h4m-1 0h4m-3 0h4m2 0h4m-2 0h4m0 0h4m1 0h4m-3 0h4m3 0h4m-3 0h4m0 0h4m3 0h4m-1 0h4m10 0h4m-91 1h4m19 0h4m-2 0h4m0 0h4m-3 0h4m-2 0h4m-2 0h4m-3 0h4m0 0h4m0 0h4m-3 0h4m-2 0h4m-2 0h4m-2 0h4m-3 0h4m-3 0h4m-3 0h4m2 0h4m-1 0h4m0 0h4m0 0h4m7 0h4m-75 1h4m10 0h4m-2 0h4m-1 0h4m-3 0h4m-2 0h4m-3 0h4m-3 0h4m-2 0h4m-3 0h4m-3 0h4m-3 0h4m-2 0h4m-2 0h4m3 0h4m-3 0h4m-3 0h4m-3 0h4m-3 0h4m0 0h4m-3 0h4m-1 0h4m-2 0h4m0 0h4m3 0h4m-77 1h4m2 0h4m2 0h4m8 0h4m1 0h4m1 0h4m0 0h4m-3 0h4m-2 0h4m-1 0h4m2 0h4m6 0h4m-3 0h4m0 0h4m-61 1h4m1 0h4m-2 0h4m-1 0h4m0 0h4m-2 0h4m-2 0h4m-2 0h4m-2 0h4m-1 0h4m-2 0h4m-3 0h4m-2 0h4m-3 0h4m-1 0h4m-3 0h4m-1 0h4m0 0h4m-2 0h4m-2 0h4m3 0h4m-1 0h4m-2 0h4m16 0h4m-96 1h4m7 0h4m-1 0h4m-3 0h4m-1 0h4m-2 0h4m3 0h4m-3 0h4m-3 0h4m-2 0h4m-2 0h4m0 0h4m-3 0h4m-2 0h4m-3 0h4m-2 0h4m-1 0h4m-3 0h4m-3 0h4m2 0h4m-2 0h4m0 0h4m1 0h4m4 0h4m-3 0h4m-68 1h4m-2 0h4m-1 0h4m-3 0h4m2 0h4m-1 0h4m-2 0h4m-1 0h4m-1 0h4m-2 0h4m-2 0h4m-2 0h4m-3 0h4m-1 0h4m-3 0h4m-2 0h4m-1 0h4m-2 0h4m-3 0h4m-3 0h4m2 0h4m-1 0h4m-3 0h4m0 0h4m-3 0h4m-1 0h4m-3 0h4m-80 1h4m4 0h4m-2 0h4m1 0h4m1 0h4m-3 0h4m1 0h4m-2 0h4m-3 0h4m-3 0h4m5 0h4m-3 0h4m-2 0h4m2 0h4m-2 0h4m-3 0h4m-3 0h4m-2 0h4m-3 0h4m-3 0h4m-3 0h4m-2 0h4m-2 0h4m-2 0h4m1 0h4m-1 0h4m0 0h4m-3 0h4m3 0h4m-88 1h4m24 0h4m-3 0h4m-3 0h4m-2 0h4m0 0h4m-2 0h4m-1 0h4m0 0h4m-2 0h4m-3 0h4m-1 0h4m-1 0h4m-3 0h4m3 0h4m-2 0h4m-1 0h4m-2 0h4m-1 0h4m1 0h4m2 0h4m-3 0h4m-2 0h4m4 0h4m-77 1h4m-1 0h4m4 0h4m-2 0h4m-3 0h4m0 0h4m-1 0h4m-3 0h4m-3 0h4m-2 0h4m-3 0h4m-2 0h4m1 0h4m-3 0h4m-3 0h4m-1 0h4m-1 0h4m-2 0h4m-1 0h4m-2 0h4m-1 0h4m-3 0h4m0 0h4m-85 1h4m19 0h4m-2 0h4m-3 0h4m-1 0h4m0 0h4m-3 0h4m-3 0h4m-2 0h4m-3 0h4m-2 0h4m5 0h4m-3 0h4m-3 0h4m-2 0h4m-2 0h4m-3 0h4m-2 0h4m-2 0h4m-2 0h4m0 0h4m-3 0h4m-3 0h4m-2 0h4m3 0h4m0 0h4m12 0h4m-82 1h4m7 0h4m-3 0h4m-3 0h4m-3 0h4m-1 0h4m-2 0h4m-3 0h4m-1 0h4m-3 0h4m-3 0h4m-3 0h4m-3 0h4m-2 0h4m-2 0h4m-3 0h4m-2 0h4m-3 0h4m-2 0h4m-1 0h4m-2 0h4m-1 0h4m-3 0h4m-2 0h4m-1 0h4m19 0h4m-87 1h4m1 0h4m-2 0h4m1 0h4m-3 0h4m-2 0h4m-2 0h4m1 0h4m-3 0h4m-3 0h4m-1 0h4m-3 0h4m-2 0h4m0 0h4m-3 0h4m-3 0h4m-2 0h4m-3 0h4m-2 0h4m-1 0h4m-3 0h4m-3 0h4m-1 0h4m-2 0h4m-1 0h4m0 0h4m-3 0h4m-1 0h4m-3 0h4m-1 0h4m-1 0h4m4 0h4m-3 0h4m1 0h4m-3 0h4m0 0h4m2 0h4m-98 1h4m-1 0h4m1 0h4m1 0h4m-1 0h4m-3 0h4m-3 0h4m-2 0h4m-3 0h4m0 0h4m-2 0h4m0 0h4m-3 0h4m-3 0h4m-3 0h4m-3 0h4m-3 0h4m-3 0h4m-3 0h4m-3 0h4m0 0h4m-3 0h4m-3 0h4m-2 0h4m-3 0h4m-3 0h4m0 0h4m-3 0h4m-2 0h4m0 0h4m-3 0h4m-53 1h4m-2 0h4m-3 0h4m-1 0h4m-1 0h4m1 0h4m0 0h4m-1 0h4m-3 0h4m-3 0h4m-3 0h4m-3 0h4m-1 0h4m-3 0h4m-3 0h4m-2 0h4m-3 0h4m-3 0h4m-3 0h4m4 0h4m2 0h4m0 0h4m1 0h4m1 0h4m-84 1h4m10 0h4m1 0h4m-1 0h4m-3 0h4m-2 0h4m0 0h4m-2 0h4m-2 0h4m-1 0h4m-3 0h4m-3 0h4m-3 0h4m-2 0h4m-3 0h4m-3 0h4m-3 0h4m-3 0h4m-3 0h4m-2 0h4m-3 0h4m-3 0h4m-2 0h4m-3 0h4m-3 0h4m-2 0h4m-1 0h4m-3 0h4m2 0h4m-2 0h4m1 0h4m-2 0h4m-70 1h4m2 0h4m-3 0h4m-2 0h4m-1 0h4m-3 0h4m-2 0h4m-2 0h4m-1 0h4m-3 0h4m-1 0h4m0 0h4m-3 0h4m-2 0h4m-3 0h4m-3 0h4m-3 0h4m-3 0h4m-3 0h4m-3 0h4m-3 0h4m-2 0h4m-2 0h4m-2 0h4m-2 0h4m1 0h4m-1 0h4m-1 0h4m-3 0h4m-3 0h4m-3 0h4m6 0h4m-2 0h4m7 0h4m-80 1h4m-2 0h4m0 0h4m0 0h4m-3 0h4m-2 0h4m-3 0h4m1 0h4m-3 0h4m-3 0h4m-2 0h4m-3 0h4m-3 0h4m-2 0h4m-2 0h4m-3 0h4m-3 0h4m-2 0h4m-2 0h4m-3 0h4m-3 0h4m-3 0h4m-3 0h4m-2 0h4m-2 0h4m0 0h4m2 0h4m0 0h4m-2 0h4m-3 0h4m0 0h4m0 0h4m-71 1h4m6 0h4m-3 0h4m0 0h4m-3 0h4m-3 0h4m4 0h4m-3 0h4m-3 0h4m-3 0h4m-3 0h4m-1 0h4m-3 0h4m-3 0h4m-2 0h4m1 0h4m-3 0h4m-3 0h4m-3 0h4m-3 0h4m1 0h4m-3 0h4m1 0h4m-70 1h4m4 0h4m0 0h4m2 0h4m-2 0h4m2 0h4m-1 0h4m-3 0h4m-3 0h4m-3 0h4m-2 0h4m-3 0h4m-3 0h4m-3 0h4m-3 0h4m-3 0h4m-2 0h4m-3 0h4m-3 0h4m-3 0h4m-3 0h4m0 0h4m-3 0h4m-3 0h4m-1 0h4m-3 0h4m4 0h4m11 0h4m-82 1h4m-2 0h4m-3 0h4m4 0h4m4 0h4m-3 0h4m-3 0h4m3 0h4m-1 0h4m-1 0h4m-3 0h4m-3 0h4m-1 0h4m-2 0h4m-3 0h4m0 0h4m-2 0h4m-3 0h4m-3 0h4m-3 0h4m0 0h4m-3 0h4m-3 0h4m0 0h4m-66 1h4m-3 0h4m0 0h4m-1 0h4m5 0h4m-3 0h4m-1 0h4m-3 0h4m2 0h4m-2 0h4m-3 0h4m1 0h4m-1 0h4m-3 0h4m-3 0h4m-1 0h4m-3 0h4m-3 0h4m-2 0h4m-2 0h4m-3 0h4m3 0h4m0 0h4m7 0h4m0 0h4m-74 1h4m0 0h4m-3 0h4m-3 0h4m-2 0h4m-1 0h4m-3 0h4m0 0h4m-1 0h4m-3 0h4m-3 0h4m-3 0h4m-3 0h4m-1 0h4m-3 0h4m-3 0h4m-3 0h4m-3 0h4m-3 0h4m-3 0h4m-2 0h4m-3 0h4m-1 0h4m-2 0h4m1 0h4m-3 0h4m-3 0h4m-1 0h4m-1 0h4m-2 0h4m-3 0h4m-2 0h4m-1 0h4m-3 0h4m-77 1h4m1 0h4m-2 0h4m1 0h4m1 0h4m-3 0h4m-2 0h4m2 0h4m-3 0h4m-3 0h4m-2 0h4m5 0h4m-2 0h4m-3 0h4m-3 0h4m-1 0h4m-3 0h4m-3 0h4m-3 0h4m-2 0h4m-3 0h4m-2 0h4m-1 0h4m-2 0h4m3 0h4m-3 0h4m8 0h4m-1 0h4m-77 1h4m-1 0h4m-3 0h4m-3 0h4m0 0h4m-1 0h4m-3 0h4m-2 0h4m-2 0h4m-3 0h4m-3 0h4m1 0h4m-3 0h4m0 0h4m-1 0h4m-2 0h4m-3 0h4m-2 0h4m-2 0h4m-3 0h4m1 0h4m-3 0h4m2 0h4m-3 0h4m-3 0h4m1 0h4m-64 1h4m1 0h4m2 0h4m-1 0h4m-2 0h4m-3 0h4m-3 0h4m-2 0h4m-3 0h4m-3 0h4m0 0h4m-3 0h4m-3 0h4m-3 0h4m-3 0h4m-3 0h4m-3 0h4m-2 0h4m-3 0h4m-3 0h4m-3 0h4m-1 0h4m-2 0h4m-3 0h4m-1 0h4m-2 0h4m-2 0h4m-1 0h4m-3 0h4m-1 0h4m-2 0h4m1 0h4m6 0h4m-75 1h4m-3 0h4m-2 0h4m-1 0h4m2 0h4m-1 0h4m-2 0h4m-3 0h4m-2 0h4m-2 0h4m-3 0h4m-2 0h4m-3 0h4m-2 0h4m0 0h4m-3 0h4m-3 0h4m-3 0h4m-3 0h4m-3 0h4m-1 0h4m-3 0h4m-1 0h4m-3 0h4m-3 0h4m-2 0h4m-1 0h4m-2 0h4m-1 0h4m11 0h4m2 0h4m-82 1h4m5 0h4m-3 0h4m-3 0h4m-1 0h4m-2 0h4m0 0h4m2 0h4m-2 0h4m-2 0h4m-1 0h4m-3 0h4m-1 0h4m-2 0h4m0 0h4m8 0h4m-2 0h4m0 0h4m-3 0h4m-56 1h4m-1 0h4m2 0h4m-3 0h4m-2 0h4m-3 0h4m-3 0h4m-3 0h4m0 0h4m0 0h4m-3 0h4m-3 0h4m4 0h4m-2 0h4m-3 0h4m-3 0h4m-2 0h4m-2 0h4m-2 0h4m-3 0h4m-1 0h4m1 0h4m0 0h4m-66 1h4m-2 0h4m-3 0h4m-2 0h4m-1 0h4m-3 0h4m-3 0h4m2 0h4m2 0h4m-2 0h4m-1 0h4m-1 0h4m-3 0h4m-2 0h4m-3 0h4m-2 0h4m0 0h4m-3 0h4m-1 0h4m-2 0h4m-1 0h4m-3 0h4m-3 0h4m-3 0h4m12 0h4m-87 1h4m18 0h4m-3 0h4m-1 0h4m-2 0h4m-3 0h4m-3 0h4m5 0h4m-2 0h4m-2 0h4m-3 0h4m-1 0h4m-3 0h4m-3 0h4m3 0h4m-3 0h4m-2 0h4m-3 0h4m-2 0h4m-3 0h4m-3 0h4m-56 1h4m-2 0h4m4 0h4m-1 0h4m-3 0h4m-2 0h4m-3 0h4m-3 0h4m3 0h4m-2 0h4m-3 0h4m2 0h4m1 0h4m0 0h4m-3 0h4m-2 0h4m-2 0h4m-2 0h4m4 0h4m-60 1h4m5 0h4m-2 0h4m-1 0h4m-1 0h4m-3 0h4m1 0h4m-2 0h4m1 0h4m0 0h4m-2 0h4m-2 0h4m-3 0h4m-1 0h4m-3 0h4m-58 1h4m-1 0h4m20 0h4m-3 0h4m-2 0h4m1 0h4m-2 0h4m3 0h4m0 0h4m5 0h4m-3 0h4m0 0h4m1 0h4m-60 1h4m2 0h4m-1 0h4m-3 0h4m-3 0h4m-2 0h4m-3 0h4m1 0h4m-3 0h4m-3 0h4m-3 0h4m-3 0h4m0 0h4m-2 0h4m-1 0h4m3 0h4m0 0h4m0 0h4m-2 0h4m5 0h4m-83 1h4m0 0h4m9 0h4m-1 0h4m2 0h4m4 0h4m3 0h4m-3 0h4m-3 0h4m-2 0h4m-1 0h4m-2 0h4m-3 0h4m5 0h4m-3 0h4m-2 0h4m9 0h4m14 0h4m-3 0h4m-67 1h4m5 0h4m5 0h4m-3 0h4m-1 0h4m1 0h4m-3 0h4m0 0h4m-3 0h4m2 0h4m-3 0h4m11 0h4m-70 1h4m16 0h4m-1 0h4m-2 0h4m-2 0h4m-3 0h4m2 0h4m-3 0h4m-2 0h4m-3 0h4m-3 0h4m-2 0h4m-51 1h4m13 0h4m-3 0h4m3 0h4m-3 0h4m-3 0h4m-2 0h4m3 0h4m7 0h4m19 0h4m-70 1h4m13 0h4m-3 0h4m7 0h4m-1 0h4m3 0h4m0 0h4m-3 0h4m5 0h4m-64 1h4m0 0h4m4 0h4m2 0h4m4 0h4m6 0h4m-1 0h4m2 0h4m1 0h4m4 0h4m-59 1h4m3 0h4m10 0h4m1 0h4m5 0h4m3 0h4m-34 1h4m-2 0h4m1 0h4m1 0h4m16 0h4m-2 0h4m10 0h4m-3 0h4m-57 1h4m0 0h4m4 0h4m1 0h4m0 0h4m-1 0h4m-2 0h4m12 0h4m-2 0h4m10 0h4m-48 1h4m1 0h4m-3 0h4m4 0h4m-3 0h4m7 0h4m-56 1h4m4 0h4m18 0h4m2 0h4m-2 0h4m-2 0h4m5 0h4m-41 1h4m-1 0h4m9 0h4m-3 0h4m10 0h4m5 0h4m-1 0h4m-38 1h4m0 0h4m9 0h4m3 0h4m-21 1h4m11 0h4m4 0h4m29 0h4m-58 1h4m29 0h4m-35 2h4m7 0h4m0 0h4m4 0h4m-42 1h4m7 0h4m8 0h4m-63 1h4m53 0h4" stroke="#000" stroke-width="4" fill="none" filter="url(#bl)"/>
<path transform="scale(.2)" d="M0 0m510 1112h3m6 12h3m0 0h3m-4 1h3m-9 5h3m7 0h3m-5 3h3m-5 3h3m-4 1h3m-6 4h3m2 2h3m-11 1h3m-5 1h3m-2 0h3m3 1h3m8 0h3m-13 1h3m6 0h3m-6 1h3m1 0h3m-14 2h3m3 1h3m-9 1h3m1 0h3m-1 0h3m-10 1h3m0 0h3m3 0h3m-10 1h3m13 0h3m-27 1h3m1 1h3m-2 0h3m5 0h3m-10 1h3m-18 1h3m8 0h3m0 0h3m1 0h3m-12 1h3m15 0h3m-25 1h3m-1 0h3m8 0h3m0 0h3m-1 0h3m-11 1h3m3 0h3m-11 1h3m-4 1h3m-2 0h3m-13 1h3m4 0h3m-1 0h3m0 0h3m-2 0h3m1 0h3m-20 1h3m7 0h3m0 0h3m1 0h3m-2 0h3m-1 0h3m7 0h3m-24 1h3m-2 0h3m-1 0h3m0 0h3m2 0h3m4 0h3m-20 1h3m-4 1h3m-1 0h3m-2 0h3m3 0h3m1 0h3m-18 1h3m1 0h3m4 0h3m-15 1h3m4 0h3m3 0h3m1 0h3m-15 1h3m-2 0h3m0 0h3m5 1h3m-1 0h3m-15 1h3m7 0h3m-2 0h3m-26 1h3m1 0h3m5 0h3m-2 0h3m3 0h3m-1 0h3m-18 1h3m-2 0h3m-2 0h3m1 0h3m1 0h3m1 0h3m-21 1h3m3 0h3m1 0h3m-2 0h3m-9 1h3m-2 0h3m0 0h3m-14 1h3m3 0h3m-2 0h3m1 0h3m-2 0h3m0 0h3m-2 0h3m-2 0h3m0 0h3m2 0h3m-13 1h3m-2 0h3m-1 0h3m4 0h3m-15 1h3m0 0h3m2 0h3m-24 1h3m4 0h3m-1 0h3m-1 0h3m0 0h3m-2 0h3m0 0h3m-2 0h3m-7 1h3m-2 0h3m4 0h3m-2 0h3m-2 0h3m-21 1h3m-2 0h3m1 0h3m0 0h3m-1 0h3m0 0h3m-2 0h3m6 0h3m-25 1h3m-1 0h3m-1 0h3m-2 0h3m-2 0h3m-2 0h3m0 0h3m-2 0h3m-12 1h3m-2 0h3m-1 0h3m-2 0h3m-2 0h3m-2 0h3m1 0h3m-1 0h3m-18 1h3m3 1h3m-1 0h3m0 0h3m3 0h3m-23 1h3m-2 0h3m3 0h3m1 0h3m-2 0h3m-2 0h3m-17 1h3m-2 0h3m-1 0h3m0 0h3m-1 0h3m0 0h3m-1 0h3m-1 0h3m0 0h3m5 0h3m-36 1h3m5 0h3m5 0h3m-1 0h3m-1 0h3m-2 0h3m10 0h3m-27 1h3m-1 0h3m0 0h3m1 0h3m4 0h3m-2 0h3m-18 1h3m-1 0h3m-1 0h3m4 0h3m-2 0h3m-24 1h3m5 0h3m-1 0h3m-2 0h3m-1 0h3m0 0h3m-1 0h3m-1 0h3m-2 0h3m3 0h3m-25 1h3m-2 0h3m-2 0h3m2 0h3m1 0h3m-2 0h3m1 0h3m2 0h3m-2 0h3m-24 1h3m-2 0h3m-2 0h3m-2 0h3m-2 0h3m2 0h3m-1 0h3m-1 0h3m-1 0h3m-25 1h3m-1 0h3m10 0h3m-2 0h3m7 0h3m0 0h3m4 0h3m-32 1h3m-2 0h3m-1 0h3m1 0h3m0 0h3m0 0h3m-2 0h3m5 0h3m-23 1h3m-2 0h3m1 0h3m-2 0h3m-1 0h3m3 0h3m2 0h3m-26 1h3m5 0h3m-2 0h3m-2 0h3m-2 0h3m0 0h3m4 0h3m-21 1h3m-1 0h3m-2 0h3m1 0h3m-2 0h3m-2 0h3m-2 0h3m0 0h3m-21 1h3m5 0h3m-2 0h3m2 0h3m2 0h3m-25 1h3m2 0h3m2 0h3m4 0h3m0 0h3m-1 0h3m1 0h3m-23 1h3m0 0h3m3 0h3m-2 0h3m0 0h3m-2 0h3m-13 1h3m-1 0h3m-2 0h3m-1 0h3m0 0h3m4 0h3m0 0h3m-24 1h3m2 0h3m-2 0h3m-2 0h3m-2 0h3m-2 0h3m0 0h3m-2 0h3m-2 0h3m4 0h3m-15 1h3m-1 0h3m-11 1h3m-1 0h3m-2 0h3m-2 0h3m-2 0h3m0 0h3m5 0h3m-32 1h3m5 0h3m1 0h3m0 0h3m2 0h3m-2 0h3m0 0h3m-2 0h3m-20 1h3m3 0h3m-2 0h3m0 0h3m-2 0h3m3 0h3m0 0h3m-24 1h3m6 0h3m-1 0h3m-1 0h3m-2 0h3m2 0h3m-16 1h3m-1 0h3m-1 0h3m-2 0h3m-2 0h3m-1 0h3m-2 0h3m0 0h3m-27 1h3m6 0h3m1 0h3m-1 0h3m-2 0h3m-2 0h3m-2 0h3m-2 0h3m-2 0h3m11 0h3m0 0h3m-35 1h3m3 0h3m-2 0h3m0 0h3m-1 0h3m6 0h3m1 0h3m-25 1h3m-1 0h3m-1 0h3m1 0h3m0 0h3m-2 0h3m-1 0h3m-2 0h3m-2 0h3m-19 1h3m1 0h3m2 0h3m3 0h3m-1 0h3m-21 1h3m0 0h3m0 0h3m0 0h3m-1 0h3m0 0h3m5 0h3m-31 1h3m-2 0h3m5 0h3m-2 0h3m3 0h3m-2 0h3m0 0h3m-2 0h3m-2 0h3m2 0h3m-24 1h3m-1 0h3m-2 0h3m0 0h3m0 0h3m1 0h3m0 0h3m-18 1h3m-2 0h3m3 0h3m-2 0h3m-2 0h3m2 0h3m0 0h3m-2 0h3m-18 1h3m-2 0h3m-2 0h3m3 0h3m-2 0h3m-2 0h3m3 0h3m-22 1h3m-1 0h3m-2 0h3m-1 0h3m-2 0h3m-2 0h3m-2 0h3m-1 0h3m-2 0h3m-2 0h3m5 0h3m-25 1h3m1 0h3m-2 0h3m2 0h3m1 0h3m-1 0h3m-2 0h3m3 0h3m-1 0h3m-24 1h3m1 0h3m0 0h3m-2 0h3m-2 0h3m-12 1h3m4 0h3m-1 0h3m-2 0h3m0 0h3m5 0h3m-29 1h3m6 0h3m1 0h3m2 0h3m-2 0h3m-2 0h3m3 0h3m-24 1h3m2 0h3m-2 0h3m-1 0h3m0 0h3m-2 0h3m-2 0h3m-2 0h3m-1 0h3m-24 1h3m2 0h3m-2 0h3m-2 0h3m0 0h3m1 0h3m-1 0h3m-2 0h3m-2 0h3m-17 1h3m1 0h3m-1 0h3m-1 0h3m-2 0h3m-1 0h3m-2 0h3m-16 1h3m0 0h3m-1 0h3m5 0h3m3 0h3m-18 1h3m-1 0h3m-2 0h3m-2 0h3m6 0h3m-2 0h3m-24 1h3m0 0h3m-1 0h3m2 0h3m-1 0h3m-1 0h3m1 0h3m-16 1h3m2 0h3m-2 0h3m0 0h3m-2 0h3m1 0h3m-2 0h3m-2 0h3m-23 1h3m1 0h3m1 0h3m-1 0h3m0 0h3m1 0h3m0 0h3m-2 0h3m-18 1h3m0 0h3m-1 0h3m-2 0h3m5 0h3m-2 0h3m-27 1h3m11 0h3m-4 1h3m3 0h3m-2 0h3m3 0h3m-22 1h3m0 0h3m-2 0h3m-2 0h3m-1 0h3m-2 0h3m-1 0h3m-2 0h3m0 0h3m-23 1h3m8 0h3m3 0h3m5 0h3m-1 0h3m-26 1h3m-2 0h3m-2 0h3m-1 0h3m-2 0h3m-2 0h3m-2 0h3m-2 0h3m6 0h3m-1 0h3m-20 1h3m-1 0h3m-1 0h3m-2 0h3m-1 0h3m1 0h3m-20 1h3m8 0h3m-2 0h3m-2 0h3m-2 0h3m2 0h3m-2 0h3m-17 1h3m-1 0h3m2 0h3m12 0h3m-32 1h3m2 0h3m-2 0h3m-1 0h3m0 0h3m-1 0h3m-1 0h3m-2 0h3m2 0h3m-19 1h3m5 0h3m-2 0h3m-1 0h3m-1 0h3m-2 0h3m-2 0h3m-12 1h3m1 0h3m-1 0h3m-19 1h3m-1 0h3m0 0h3m3 0h3m-1 0h3m-1 0h3m-9 1h3m9 0h3m-15 1h3m-2 0h3m-2 0h3m-2 0h3m-2 0h3m5 0h3m-11 1h3m0 0h3m-10 1h3m4 0h3m-1 0h3m-2 0h3m7 0h3m-27 1h3m2 0h3m0 0h3m6 0h3m-21 1h3m-2 0h3m2 0h3m3 0h3m-21 1h3m12 0h3m-2 0h3m3 0h3m-20 1h3m0 0h3m5 0h3m-1 0h3m-2 0h3m-18 1h3m6 0h3m-2 0h3m-11 1h3m1 0h3m0 0h3m9 0h3m-28 1h3m8 0h3m-2 1h3m2 0h3m1 0h3m-21 1h3m2 0h3m7 0h3m-8 2h3m-7 1h3m3 0h3m-2 0h3m-1 0h3m-17 1h3m7 0h3m-3 1h3m1 0h3m0 0h3m-14 1h3m8 0h3m-8 1h3m2 0h3m-12 1h3m8 0h3m-29 1h3m10 0h3m2 0h3m-9 3h3m-4 3h3m6 1h3m-11 1h3m-2 0h3m-2 0h3m10 0h3m-15 1h3m1 0h3m-2 3h3m-8 2h3m3 0h3m-6 1h3m-3 1h3m6 0h3m-5 2h3m-14 5h3m0 0h3m2 0h3" stroke="#111" stroke-width="3" fill="none" filter="url(#bl)"/>
<path transform="scale(.2)" d="M0 0m505 1181h3m-14 11h3m-41 1h3m24 1h3m1 1h3m-8 1h3m20 0h3m-37 4h3m6 3h3m-5 1h3m-5 1h3m34 0h3m-29 1h3m10 0h3m9 0h3m-23 1h3m16 1h3m-25 1h3m-49 1h3m23 0h3m24 0h3m-5 2h3m-29 1h3m1 0h3m10 0h3m24 0h3m-23 1h3m-1 0h3m-2 0h3m8 0h3m1 1h3m-44 1h3m8 0h3m6 0h3m-2 0h3m-2 0h3m11 0h3m30 0h3m-71 1h3m-2 0h3m0 0h3m22 0h3m3 0h3m-22 1h3m-1 0h3m-1 0h3m-1 0h3m0 0h3m-26 1h3m5 0h3m-1 0h3m0 0h3m-1 0h3m-2 0h3m0 0h3m-46 1h3m29 0h3m-2 0h3m-2 0h3m-1 0h3m1 0h3m6 0h3m5 0h3m-17 1h3m-1 0h3m-2 0h3m5 0h3m-17 1h3m7 0h3m2 0h3m-33 1h3m13 0h3m6 0h3m-2 0h3m-34 1h3m12 0h3m5 0h3m-37 1h3m12 0h3m5 0h3m2 0h3m1 0h3m-24 1h3m5 0h3m13 0h3m2 0h3m-28 1h3m14 0h3m-2 0h3m-1 0h3m8 0h3m-47 1h3m8 0h3m4 0h3m1 0h3m-1 0h3m1 0h3m-28 1h3m0 0h3m14 0h3m2 0h3m10 0h3m1 0h3m-43 1h3m8 0h3m5 0h3m18 0h3m-41 1h3m0 0h3m-1 0h3m-1 0h3m3 0h3m-2 0h3m-2 0h3m6 0h3m9 0h3m1 0h3m-41 1h3m-2 0h3m-2 0h3m10 0h3m13 0h3m7 0h3m-56 1h3m4 0h3m6 0h3m-1 0h3m0 0h3m2 0h3m0 0h3m3 0h3m-32 1h3m3 0h3m6 0h3m-1 0h3m-2 0h3m2 0h3m0 0h3m-30 1h3m10 0h3m1 0h3m-20 1h3m-2 0h3m10 0h3m-2 0h3m6 0h3m-2 0h3m3 0h3m-29 1h3m4 0h3m2 0h3m0 0h3m7 0h3m-34 1h3m8 0h3m4 0h3m0 0h3m-1 0h3m0 0h3m-32 1h3m7 0h3m6 0h3m3 0h3m0 0h3m13 0h3m-43 1h3m6 0h3m-2 0h3m-2 0h3m-2 0h3m6 0h3m0 0h3m0 0h3m4 0h3m0 0h3m-41 1h3m16 0h3m18 0h3m-36 1h3m-2 0h3m4 0h3m3 0h3m1 0h3m5 0h3m6 0h3m-41 1h3m6 0h3m-1 0h3m5 0h3m-37 1h3m8 0h3m-1 0h3m0 0h3m3 0h3m-2 0h3m6 0h3m0 0h3m0 0h3m7 0h3m-43 1h3m10 0h3m-2 0h3m33 0h3m-63 1h3m11 0h3m-2 0h3m6 0h3m-2 0h3m2 0h3m4 0h3m1 0h3m-29 1h3m3 0h3m14 0h3m-35 1h3m-1 0h3m35 0h3m17 0h3m-50 1h3m5 0h3m1 0h3m7 0h3m2 0h3m-41 1h3m0 0h3m4 0h3m9 0h3m5 0h3m1 0h3m0 0h3m-25 1h3m-2 0h3m-1 0h3m-1 0h3m-1 0h3m4 0h3m-1 0h3m-45 1h3m22 0h3m15 0h3m-31 1h3m6 0h3m1 0h3m-1 0h3m-27 1h3m6 0h3m2 0h3m-2 0h3m5 0h3m-1 0h3m0 0h3m3 0h3m-30 1h3m-2 0h3m17 0h3m-2 0h3m-26 1h3m0 0h3m7 0h3m1 0h3m4 0h3m4 0h3m0 0h3m-40 1h3m10 0h3m-1 0h3m-2 0h3m-2 0h3m2 0h3m4 0h3m-23 1h3m1 0h3m-1 0h3m2 0h3m15 0h3m-45 1h3m4 0h3m-2 0h3m5 0h3m9 0h3m3 0h3m-1 0h3m-34 1h3m8 0h3m1 0h3m-1 0h3m6 0h3m5 0h3m2 0h3m-51 1h3m-2 0h3m10 0h3m-2 0h3m-2 0h3m6 0h3m3 0h3m-2 0h3m5 0h3m-29 1h3m2 0h3m-1 0h3m7 0h3m2 0h3m5 0h3m-2 0h3m-32 1h3m17 0h3m-32 1h3m2 0h3m12 0h3m13 0h3m-15 1h3m-2 0h3m6 0h3m3 0h3m-42 1h3m-2 0h3m23 0h3m-34 1h3m16 0h3m6 0h3m4 0h3m-33 1h3m9 0h3m-19 1h3m38 0h3m-44 2h3m23 0h3m-33 1h3m-10 1h3m-1 0h3m30 0h3m-9 1h3m-17 1h3m1 0h3m2 0h3m-1 0h3m-10 1h3m-2 0h3m-1 0h3m-22 1h3m7 0h3m0 2h3m-1 0h3m-11 1h3m21 0h3m-28 1h3m24 1h3m-11 1h3m-18 1h3m-10 1h3m6 1h3m-11 1h3m10 1h3m-10 9h3m5 5h3" stroke="#222" stroke-width="3" fill="none" filter="url(#bl)"/>
<path transform="scale(.2)" d="M0 0m497 1068h3m27 20h3m0 2h3m-61 4h3m54 2h3m-29 3h3m59 0h3m-31 1h3m-19 3h3m-35 6h3m1 1h3m-3 2h3m3 0h3m-18 4h3m4 2h3m3 1h3m31 0h3m-28 1h3m6 0h3m-37 2h3m21 0h3m-1 0h3m-22 3h3m-1 0h3m-17 1h3m28 0h3m-17 1h3m14 1h3m-16 1h3m-38 2h3m31 0h3m-20 1h3m4 1h3m14 0h3m-2 0h3m-34 2h3m34 0h3m21 0h3m-38 1h3m-9 1h3m23 0h3m22 0h3m-71 1h3m47 0h3m0 0h3m-37 1h3m14 1h3m-33 1h3m30 0h3m-43 1h3m40 1h3m-54 1h3m0 0h3m13 0h3m32 0h3m-14 1h3m12 0h3m-43 1h3m27 0h3m-29 1h3m-1 0h3m2 0h3m17 0h3m-23 1h3m36 0h3m-63 1h3m7 0h3m-16 1h3m31 0h3m17 0h3m-30 1h3m6 2h3m-30 1h3m18 0h3m-20 1h3m6 0h3m16 0h3m-55 1h3m11 1h3m29 0h3m4 0h3m13 0h3m-22 1h3m14 0h3m-52 1h3m16 0h3m-2 0h3m3 1h3m15 0h3m-2 0h3m5 0h3m-37 1h3m21 0h3m-56 1h3m32 0h3m0 0h3m-35 1h3m15 0h3m17 0h3m15 0h3m-49 1h3m15 0h3m9 0h3m0 0h3m-49 1h3m17 0h3m7 0h3m5 0h3m14 0h3m-82 1h3m21 0h3m5 0h3m57 0h3m-47 1h3m-42 1h3m37 0h3m3 0h3m23 0h3m30 0h3m-90 1h3m12 0h3m11 0h3m10 0h3m-44 2h3m16 0h3m-1 0h3m-1 0h3m17 0h3m-37 1h3m4 0h3m-2 0h3m15 0h3m3 0h3m-59 1h3m-2 0h3m12 0h3m2 0h3m3 0h3m-2 0h3m14 0h3m-2 0h3m6 0h3m23 0h3m-56 1h3m-30 1h3m41 0h3m7 0h3m-27 1h3m4 0h3m6 0h3m9 0h3m-42 1h3m13 0h3m16 0h3m-64 1h3m3 0h3m20 0h3m12 0h3m13 0h3m-49 1h3m19 0h3m17 0h3m-2 0h3m13 0h3m-66 1h3m-61 1h3m69 0h3m25 0h3m-53 1h3m25 0h3m11 0h3m21 0h3m-71 1h3m23 0h3m6 0h3m8 0h3m4 0h3m-91 1h3m76 0h3m21 0h3m0 0h3m-54 1h3m15 0h3m0 0h3m-2 0h3m-10 1h3m0 0h3m-45 1h3m18 0h3m-2 0h3m7 0h3m-2 0h3m1 0h3m2 0h3m-27 1h3m27 0h3m6 0h3m3 0h3m-62 1h3m9 0h3m2 0h3m11 0h3m9 0h3m3 0h3m-1 0h3m-47 1h3m39 0h3m29 0h3m-82 1h3m0 0h3m1 0h3m15 0h3m0 0h3m0 0h3m8 0h3m-37 1h3m5 0h3m-2 0h3m12 0h3m14 0h3m14 0h3m-64 1h3m18 0h3m21 0h3m-54 1h3m80 0h3m-67 1h3m38 0h3m-59 1h3m0 0h3m11 0h3m3 0h3m-2 0h3m-7 1h3m-1 0h3m-1 0h3m4 0h3m3 0h3m-2 0h3m3 0h3m10 0h3m-55 1h3m2 0h3m2 0h3m5 0h3m-2 0h3m-43 1h3m0 1h3m25 0h3m1 0h3m6 0h3m15 0h3m-56 1h3m3 0h3m12 0h3m11 0h3m-26 1h3m5 0h3m1 0h3m6 0h3m22 0h3m-73 1h3m-5 1h3m14 0h3m-2 0h3m17 0h3m-7 1h3m22 0h3m-2 0h3m14 0h3m-2 0h3m-64 1h3m-17 1h3m40 0h3m6 0h3m-55 1h3m15 0h3m14 0h3m9 1h3m39 0h3m-94 1h3m11 0h3m32 0h3m12 0h3m-69 1h3m5 0h3m22 0h3m30 0h3m-18 1h3m30 0h3m-47 1h3m-2 0h3m-2 0h3m20 0h3m-60 1h3m38 0h3m-6 1h3m4 0h3m-33 1h3m22 0h3m4 0h3m-59 2h3m17 0h3m3 0h3m5 0h3m-2 0h3m21 0h3m2 0h3m-62 1h3m3 0h3m24 0h3m-30 1h3m39 0h3m7 0h3m-41 1h3m1 0h3m14 0h3m-2 0h3m4 1h3m-27 1h3m9 0h3m-27 1h3m0 0h3m19 0h3m8 0h3m5 1h3m-73 1h3m8 0h3m11 0h3m0 0h3m13 0h3m-1 0h3m-26 1h3m4 0h3m15 0h3m13 0h3m-74 1h3m30 0h3m-17 1h3m20 0h3m-27 1h3m36 0h3m1 0h3m-1 0h3m-53 1h3m0 0h3m26 0h3m-2 0h3m26 0h3m14 0h3m-70 2h3m1 0h3m22 0h3m32 0h3m-86 1h3m13 1h3m3 0h3m17 0h3m14 0h3m-41 1h3m-1 1h3m13 0h3m9 0h3m1 0h3m20 0h3m-27 1h3m-17 1h3m3 0h3m15 0h3m-23 1h3m-14 1h3m20 0h3m-13 1h3m19 0h3m-48 1h3m27 0h3m15 0h3m-11 1h3m16 0h3m-51 1h3m38 0h3m-49 1h3m4 1h3m15 0h3m-52 1h3m58 0h3m-20 1h3m-29 3h3m-6 1h3m27 0h3m-14 1h3m-15 1h3m38 0h3m-44 2h3m-31 1h3m0 0h3m36 2h3m-2 0h3m17 1h3m-51 3h3m18 4h3m10 5h3m-21 2h3m-15 3h3m25 1h3m-39 2h3m16 0h3m-20 6h3m31 0h3m-12 1h3m-2 1h3m-28 9h3m-34 8h3" stroke="#333" stroke-width="3" fill="none" filter="url(#bl)"/>
<path transform="scale(.2)" d="M0 0m393 1247h3m-21 10h3m14 2h3m-7 2h3m-22 7h3m11 0h3m-12 2h3m3 0h3m-28 3h3m15 0h3m-13 1h3m7 0h3m0 0h3m1 0h3m-32 3h3m33 0h3m-49 1h3m6 0h3m13 0h3m17 1h3m-47 1h3m40 0h3m9 0h3m-42 1h3m30 0h3m-44 1h3m8 0h3m-9 3h3m4 0h3m-2 0h3m12 2h3m-36 1h3m52 1h3m-14 1h3m1 0h3m18 0h3m-54 1h3m9 0h3m0 0h3m-7 1h3m8 1h3m-21 1h3m4 0h3m-29 1h3m25 0h3m0 0h3m-13 1h3m30 0h3m-72 1h3m38 1h3m-13 1h3m28 0h3m-1 0h3m-37 1h3m2 0h3m23 0h3m-37 1h3m16 0h3m-44 1h3m32 0h3m3 1h3m0 0h3m-45 1h3m-6 1h3m67 0h3m-29 1h3m11 3h3m-23 2h3m-34 1h3m37 0h3m1 0h3m-13 3h3m30 0h3m-22 1h3m8 0h3m-35 3h3m-9 1h3m-4 1h3m4 1h3m-22 1h3m-1 1h3" stroke="#888" stroke-width="3" fill="none" filter="url(#bl)"/>
<path transform="scale(.2)" d="M0 0m360 1322h3m2 0h3m1 0h3m4 0h3m10 0h3m21 0h3m2 0h3m4 0h3m1 0h3m11 0h3m11 0h3m0 0h3m3 0h3m3 0h3m17 0h3m4 0h3m34 0h3m2 0h3m-2 0h3m7 0h3m14 0h3m1 0h3m-1 0h3m23 0h3m-264 1h3m42 0h3m-1 0h3m-2 0h3m-2 0h3m5 0h3m10 0h3m25 0h3m-2 0h3m15 0h3m4 0h3m19 0h3m0 0h3m1 0h3m9 0h3m20 0h3m5 0h3m14 0h3m3 0h3m33 0h3m-230 1h3m9 0h3m10 0h3m1 0h3m-1 0h3m4 0h3m22 0h3m38 0h3m17 0h3m1 0h3m5 0h3m-2 0h3m0 0h3m9 0h3m1 0h3m13 0h3m12 0h3m7 0h3m11 0h3m-2 0h3m2 0h3m0 0h3m-1 0h3" stroke="#666" stroke-width="3" fill="none" filter="url(#bl)"/>
<line x1="80.8" y1="208.2" x2="80.8" y2="265.7" stroke="#8080c0" stroke-width="0.6"/>
<rect x="65.20" y="208.20" width="57.10" height="57.50" fill="none" stroke="#9a9a9a" stroke-width="0.7"/>
<text x="63.6" y="212.79999999999998" font-size="3.2" font-family="Liberation Sans" text-anchor="end" fill="#444" textLength="7.8" lengthAdjust="spacingAndGlyphs">250K</text>
<text x="63.6" y="223.6" font-size="3.2" font-family="Liberation Sans" text-anchor="end" fill="#444" textLength="7.8" lengthAdjust="spacingAndGlyphs">200K</text>
<text x="63.6" y="234.39999999999998" font-size="3.2" font-family="Liberation Sans" text-anchor="end" fill="#444" textLength="7.8" lengthAdjust="spacingAndGlyphs">150K</text>
<text x="63.6" y="245.2" font-size="3.2" font-family="Liberation Sans" text-anchor="end" fill="#444" textLength="7.8" lengthAdjust="spacingAndGlyphs">100K</text>
<text x="63.6" y="255.99999999999997" font-size="3.2" font-family="Liberation Sans" text-anchor="end" fill="#444" textLength="6" lengthAdjust="spacingAndGlyphs">50K</text>
<text x="63.6" y="266.8" font-size="3.2" font-family="Liberation Sans" text-anchor="end" fill="#444">0</text>
<text x="72" y="270.3" font-size="3.6" font-family="Liberation Sans" text-anchor="middle" fill="#333">0</text>
<text x="76.7" y="270.3" font-size="3.6" font-family="Liberation Sans" fill="#333">10<tspan dy="-1.3" font-size="2.6">2</tspan></text>
<text x="89.0" y="270.3" font-size="3.6" font-family="Liberation Sans" fill="#333">10<tspan dy="-1.3" font-size="2.6">3</tspan></text>
<text x="102.39999999999999" y="270.3" font-size="3.6" font-family="Liberation Sans" fill="#333">10<tspan dy="-1.3" font-size="2.6">4</tspan></text>
<text x="114.1" y="270.3" font-size="3.6" font-family="Liberation Sans" fill="#333">10<tspan dy="-1.3" font-size="2.6">5</tspan></text>
<text x="66.2" y="212.6" font-size="3.4" font-family="Liberation Sans" font-weight="bold" fill="#222">3.13</text>
<path transform="scale(.2)" d="M0 0m494 1588h4m-18 13h4m-5 1h4m10 0h4m21 3h4m-60 1h4m2 0h4m2 0h4m2 0h4m21 0h4m-39 1h4m-8 1h4m-13 1h4m10 0h4m26 0h4m-49 1h4m0 0h4m21 0h4m3 0h4m-44 1h4m8 0h4m3 0h4m1 0h4m2 0h4m-35 1h4m22 0h4m20 0h4m-49 1h4m6 0h4m-1 0h4m1 0h4m-1 0h4m-3 0h4m-20 1h4m-1 0h4m-1 0h4m-3 0h4m13 0h4m3 0h4m-3 0h4m-63 1h4m13 0h4m4 0h4m-1 0h4m0 0h4m1 0h4m-1 0h4m8 0h4m0 0h4m-36 1h4m5 0h4m4 0h4m-3 0h4m-3 0h4m1 0h4m4 0h4m-61 1h4m29 0h4m2 0h4m-3 0h4m-1 0h4m0 0h4m-28 1h4m0 0h4m-1 0h4m-3 0h4m-2 0h4m-2 0h4m1 0h4m0 0h4m3 0h4m11 0h4m-67 1h4m0 0h4m7 0h4m-3 0h4m10 0h4m1 0h4m2 0h4m-2 0h4m4 0h4m-64 1h4m20 0h4m-2 0h4m4 0h4m1 0h4m-3 0h4m-3 0h4m-3 0h4m0 0h4m-2 0h4m1 0h4m-26 1h4m-3 0h4m-3 0h4m-2 0h4m5 0h4m-2 0h4m0 0h4m-2 0h4m-39 1h4m-3 0h4m-2 0h4m1 0h4m-1 0h4m5 0h4m-3 0h4m0 0h4m-2 0h4m-1 0h4m-3 0h4m0 0h4m-46 1h4m2 0h4m8 0h4m-1 0h4m-2 0h4m-2 0h4m-1 0h4m-2 0h4m0 0h4m-2 0h4m-1 0h4m-2 0h4m7 0h4m-60 1h4m7 0h4m-2 0h4m0 0h4m-3 0h4m-1 0h4m-3 0h4m0 0h4m-3 0h4m-2 0h4m-2 0h4m-3 0h4m-1 0h4m-1 0h4m-1 0h4m0 0h4m-2 0h4m-3 0h4m-3 0h4m6 0h4m-58 1h4m4 0h4m-2 0h4m-2 0h4m1 0h4m-2 0h4m-3 0h4m0 0h4m-3 0h4m-1 0h4m-1 0h4m-3 0h4m2 0h4m-1 0h4m9 0h4m-76 1h4m10 0h4m2 0h4m4 0h4m-3 0h4m1 0h4m-2 0h4m-3 0h4m-1 0h4m-3 0h4m0 0h4m-3 0h4m7 0h4m2 0h4m-3 0h4m-54 1h4m3 0h4m0 0h4m0 0h4m-2 0h4m-2 0h4m-3 0h4m-1 0h4m-3 0h4m-3 0h4m-3 0h4m-1 0h4m-3 0h4m-2 0h4m-3 0h4m0 0h4m-3 0h4m-3 0h4m-3 0h4m-1 0h4m4 0h4m-61 1h4m10 0h4m0 0h4m0 0h4m-2 0h4m0 0h4m-3 0h4m-3 0h4m-3 0h4m-3 0h4m-3 0h4m-3 0h4m-3 0h4m0 0h4m-1 0h4m-3 0h4m-3 0h4m-3 0h4m1 0h4m-3 0h4m-49 1h4m-1 0h4m0 0h4m0 0h4m-1 0h4m-3 0h4m-2 0h4m-3 0h4m0 0h4m-3 0h4m-3 0h4m-3 0h4m-3 0h4m-1 0h4m-3 0h4m-2 0h4m0 0h4m-3 0h4m0 0h4m0 0h4m-64 1h4m13 0h4m-1 0h4m3 0h4m-3 0h4m-2 0h4m2 0h4m-1 0h4m0 0h4m-2 0h4m-2 0h4m-3 0h4m-1 0h4m-2 0h4m-3 0h4m-3 0h4m4 0h4m-1 0h4m-56 1h4m-2 0h4m1 0h4m-3 0h4m-2 0h4m-3 0h4m0 0h4m-3 0h4m-3 0h4m-2 0h4m-3 0h4m-2 0h4m-3 0h4m-2 0h4m-1 0h4m-2 0h4m-3 0h4m-2 0h4m0 0h4m-1 0h4m8 0h4m7 0h4m-64 1h4m-2 0h4m-2 0h4m3 0h4m-3 0h4m-2 0h4m-3 0h4m-3 0h4m-3 0h4m-3 0h4m-3 0h4m-2 0h4m-3 0h4m-2 0h4m-1 0h4m0 0h4m-2 0h4m-2 0h4m-2 0h4m6 0h4m2 0h4m-62 1h4m5 0h4m-3 0h4m0 0h4m-3 0h4m-2 0h4m-1 0h4m-3 0h4m-3 0h4m-3 0h4m0 0h4m-3 0h4m-3 0h4m-3 0h4m-2 0h4m-3 0h4m-3 0h4m-3 0h4m-2 0h4m-2 0h4m-2 0h4m-1 0h4m-2 0h4m-3 0h4m-1 0h4m-2 0h4m-2 0h4m-62 1h4m2 0h4m2 0h4m-3 0h4m-3 0h4m-2 0h4m-2 0h4m-2 0h4m-2 0h4m-2 0h4m-3 0h4m-3 0h4m-3 0h4m-2 0h4m-3 0h4m-2 0h4m-3 0h4m-3 0h4m-1 0h4m-3 0h4m2 0h4m2 0h4m-3 0h4m11 0h4m-65 1h4m4 0h4m-1 0h4m-3 0h4m-3 0h4m-3 0h4m-2 0h4m2 0h4m-2 0h4m-3 0h4m-2 0h4m-3 0h4m-3 0h4m0 0h4m-3 0h4m-2 0h4m-3 0h4m-3 0h4m-3 0h4m-3 0h4m-2 0h4m-49 1h4m-2 0h4m1 0h4m-3 0h4m-3 0h4m-2 0h4m-3 0h4m-2 0h4m-3 0h4m-3 0h4m-2 0h4m-2 0h4m-2 0h4m-2 0h4m-3 0h4m-3 0h4m-3 0h4m-3 0h4m-3 0h4m-2 0h4m-1 0h4m-2 0h4m-2 0h4m-2 0h4m-2 0h4m-2 0h4m-2 0h4m1 0h4m0 0h4m2 0h4m-55 1h4m-1 0h4m-3 0h4m-2 0h4m-3 0h4m-2 0h4m-3 0h4m-3 0h4m-3 0h4m-3 0h4m-3 0h4m-3 0h4m-3 0h4m-3 0h4m-3 0h4m-3 0h4m-2 0h4m-3 0h4m0 0h4m-3 0h4m-1 0h4m-3 0h4m1 0h4m-1 0h4m-58 1h4m4 0h4m-2 0h4m1 0h4m-2 0h4m-3 0h4m-3 0h4m-3 0h4m-1 0h4m1 0h4m-3 0h4m-3 0h4m-3 0h4m-3 0h4m-3 0h4m-3 0h4m-2 0h4m-2 0h4m-1 0h4m-2 0h4m-3 0h4m-3 0h4m1 0h4m2 0h4m-3 0h4m-56 1h4m1 0h4m2 0h4m-1 0h4m-3 0h4m-3 0h4m-3 0h4m-3 0h4m-3 0h4m-1 0h4m-3 0h4m-3 0h4m-1 0h4m-3 0h4m-2 0h4m-3 0h4m-2 0h4m-3 0h4m-2 0h4m-3 0h4m-2 0h4m-3 0h4m-2 0h4m6 0h4m-55 1h4m-3 0h4m-1 0h4m-3 0h4m0 0h4m-3 0h4m-3 0h4m-3 0h4m-3 0h4m-2 0h4m-3 0h4m-3 0h4m-2 0h4m-2 0h4m0 0h4m-3 0h4m-3 0h4m-2 0h4m-2 0h4m-3 0h4m-2 0h4m-2 0h4m0 0h4m3 0h4m-2 0h4m-3 0h4m-1 0h4m-64 1h4m8 0h4m0 0h4m-2 0h4m-3 0h4m-3 0h4m-2 0h4m2 0h4m-2 0h4m0 0h4m2 0h4m-3 0h4m0 0h4m-3 0h4m-3 0h4m-3 0h4m4 0h4m-58 1h4m3 0h4m-2 0h4m0 0h4m-3 0h4m-1 0h4m-3 0h4m-2 0h4m-3 0h4m-3 0h4m-3 0h4m-2 0h4m-2 0h4m-3 0h4m-2 0h4m-3 0h4m-2 0h4m-3 0h4m-1 0h4m-1 0h4m-2 0h4m-2 0h4m-51 1h4m0 0h4m0 0h4m2 0h4m-3 0h4m-1 0h4m-3 0h4m-3 0h4m-3 0h4m-3 0h4m-3 0h4m-2 0h4m-2 0h4m-3 0h4m-3 0h4m-1 0h4m0 0h4m-2 0h4m-2 0h4m-3 0h4m4 0h4m-3 0h4m-3 0h4m-46 1h4m-1 0h4m-3 0h4m0 0h4m-3 0h4m-3 0h4m-3 0h4m-3 0h4m-3 0h4m-3 0h4m-3 0h4m-3 0h4m-3 0h4m-2 0h4m-1 0h4m-1 0h4m-2 0h4m-3 0h4m-3 0h4m-3 0h4m-3 0h4m4 0h4m2 0h4m-58 1h4m3 0h4m0 0h4m-3 0h4m0 0h4m0 0h4m-3 0h4m-3 0h4m0 0h4m-3 0h4m-3 0h4m-3 0h4m-3 0h4m-2 0h4m-3 0h4m-3 0h4m-3 0h4m-1 0h4m3 0h4m-1 0h4m-45 1h4m-1 0h4m-2 0h4m-3 0h4m-3 0h4m0 0h4m-3 0h4m3 0h4m-1 0h4m-3 0h4m0 0h4m1 0h4m-1 0h4m6 0h4m-3 0h4m-67 1h4m1 0h4m-1 0h4m2 0h4m-2 0h4m4 0h4m0 0h4m-3 0h4m0 0h4m-3 0h4m-3 0h4m-2 0h4m-3 0h4m-2 0h4m-3 0h4m-3 0h4m-2 0h4m-3 0h4m-1 0h4m0 0h4m3 0h4m-52 1h4m-2 0h4m7 0h4m-3 0h4m-3 0h4m4 0h4m0 0h4m-2 0h4m-2 0h4m2 0h4m-3 0h4m3 0h4m14 0h4m-60 1h4m1 0h4m-3 0h4m-1 0h4m2 0h4m-2 0h4m-3 0h4m-2 0h4m0 0h4m-2 0h4m-3 0h4m1 0h4m-3 0h4m2 0h4m-56 1h4m6 0h4m-3 0h4m1 0h4m-3 0h4m-3 0h4m-3 0h4m-3 0h4m-3 0h4m3 0h4m-2 0h4m7 0h4m-3 0h4m-3 0h4m-39 1h4m-2 0h4m2 0h4m-3 0h4m-3 0h4m2 0h4m4 0h4m-3 0h4m-3 0h4m-2 0h4m3 0h4m0 0h4m7 0h4m-48 1h4m-2 0h4m-3 0h4m1 0h4m7 0h4m-1 0h4m-3 0h4m-2 0h4m-2 0h4m-3 0h4m1 0h4m-3 0h4m-39 1h4m0 0h4m-2 0h4m-3 0h4m-1 0h4m-3 0h4m-2 0h4m-3 0h4m-3 0h4m-3 0h4m5 0h4m-2 0h4m-52 1h4m9 0h4m5 0h4m-3 0h4m2 0h4m5 0h4m0 0h4m0 0h4m1 0h4m-2 0h4m-32 1h4m9 0h4m7 0h4m7 0h4m-43 1h4m-2 0h4m3 0h4m0 0h4m6 0h4m-3 0h4m0 0h4m6 0h4m-38 1h4m0 0h4m1 0h4m9 0h4m-39 1h4m2 0h4m5 0h4m0 0h4m1 0h4m6 0h4m-44 1h4m12 0h4m8 0h4m-12 1h4m1 0h4m23 0h4" stroke="#000" stroke-width="4" fill="none" filter="url(#bl)"/>
<path transform="scale(.2)" d="M0 0m516 1500h3m0 2h3m-3 10h3m-1 2h3m-26 2h3m25 1h3m-7 2h3m-11 2h3m-3 7h3m0 0h3m-2 0h3m2 0h3m-14 3h3m-15 2h3m1 0h3m7 0h3m3 0h3m-14 2h3m-2 0h3m-7 1h3m3 0h3m6 0h3m6 0h3m-30 1h3m6 0h3m1 0h3m-2 0h3m-2 0h3m-21 1h3m13 0h3m-1 0h3m-9 1h3m10 0h3m-12 1h3m-8 1h3m-1 0h3m-2 0h3m-7 1h3m1 0h3m0 0h3m0 0h3m-2 0h3m0 0h3m-19 1h3m0 0h3m2 0h3m7 0h3m-22 1h3m2 0h3m-6 1h3m1 0h3m-1 0h3m4 0h3m-19 1h3m0 0h3m4 0h3m-1 0h3m-1 0h3m6 0h3m-22 1h3m-1 0h3m-1 0h3m7 0h3m-19 1h3m10 0h3m-25 1h3m3 0h3m5 0h3m0 0h3m6 0h3m-14 1h3m-13 1h3m9 0h3m1 0h3m1 0h3m-32 1h3m0 0h3m10 0h3m2 0h3m-2 0h3m0 0h3m7 0h3m-23 1h3m8 0h3m1 0h3m-22 1h3m7 0h3m-1 0h3m9 0h3m-24 1h3m0 0h3m-1 0h3m-1 0h3m0 0h3m3 0h3m-20 1h3m6 0h3m-2 0h3m-1 0h3m4 0h3m7 0h3m-30 1h3m0 0h3m0 0h3m0 0h3m6 0h3m-25 1h3m0 0h3m-2 0h3m2 0h3m-2 0h3m-1 0h3m-2 0h3m-2 0h3m-18 1h3m6 0h3m1 0h3m0 0h3m-13 1h3m0 0h3m-1 0h3m-2 0h3m-2 0h3m2 0h3m-18 1h3m1 0h3m5 0h3m-2 0h3m-21 1h3m5 0h3m-2 0h3m-2 0h3m-1 0h3m-2 0h3m0 0h3m-2 0h3m-1 0h3m2 0h3m-30 1h3m5 0h3m0 0h3m2 0h3m1 0h3m-2 0h3m-2 0h3m-19 1h3m9 0h3m1 0h3m3 0h3m-20 1h3m-1 0h3m-1 0h3m0 0h3m-1 0h3m-2 0h3m-2 0h3m-2 0h3m-2 0h3m-24 1h3m1 0h3m-1 0h3m0 0h3m1 0h3m1 0h3m0 0h3m-23 1h3m3 0h3m-2 0h3m-2 0h3m0 0h3m-2 0h3m-2 0h3m-1 0h3m-2 0h3m0 0h3m-24 1h3m-2 0h3m-1 0h3m-1 0h3m3 0h3m1 0h3m0 0h3m-2 0h3m5 0h3m-29 1h3m4 0h3m-2 0h3m-2 0h3m-2 0h3m1 0h3m-1 0h3m0 0h3m-1 0h3m-17 1h3m-1 0h3m-2 0h3m-2 0h3m-2 0h3m-1 0h3m-2 0h3m0 0h3m-1 0h3m-21 1h3m-1 0h3m0 0h3m-2 0h3m0 0h3m0 0h3m-15 1h3m-2 0h3m-2 0h3m1 0h3m-1 0h3m4 0h3m0 0h3m-24 1h3m-1 0h3m-1 0h3m1 0h3m0 0h3m-2 0h3m-2 0h3m-2 0h3m-1 0h3m0 0h3m-19 1h3m7 0h3m-2 0h3m0 0h3m-2 0h3m4 0h3m4 0h3m-31 1h3m0 0h3m-1 0h3m-1 0h3m-2 0h3m-2 0h3m2 0h3m7 0h3m-33 1h3m9 0h3m0 0h3m-1 0h3m-2 0h3m-2 0h3m2 0h3m1 0h3m-23 1h3m-2 0h3m0 0h3m0 0h3m-2 0h3m-2 0h3m-2 0h3m3 0h3m-1 0h3m0 0h3m-27 1h3m5 0h3m-2 0h3m-2 0h3m-2 0h3m3 0h3m-1 0h3m4 0h3m-26 1h3m-2 0h3m-1 0h3m5 0h3m-1 0h3m-2 0h3m-1 0h3m-25 1h3m0 0h3m-1 0h3m-1 0h3m-1 0h3m0 0h3m0 0h3m3 0h3m-19 1h3m1 0h3m0 0h3m3 0h3m1 0h3m-17 1h3m2 0h3m0 0h3m0 0h3m-1 0h3m-21 1h3m9 0h3m-2 0h3m-15 1h3m-2 0h3m4 0h3m1 0h3m3 0h3m-10 1h3m4 0h3m1 0h3m1 0h3m-1 0h3m-24 1h3m-1 0h3m-2 0h3m-1 0h3m-2 0h3m4 0h3m-23 1h3m5 0h3m0 0h3m-16 1h3m1 0h3m0 0h3m0 0h3m-2 0h3m-14 1h3m-2 0h3m10 0h3m0 0h3m-2 0h3m-26 1h3m12 0h3m-2 0h3m7 0h3m-26 1h3m5 0h3m2 0h3m6 0h3m4 0h3m-30 1h3m3 0h3m2 0h3m1 0h3m-1 0h3m-22 1h3m6 0h3m-2 0h3m0 0h3m2 0h3m-2 0h3m-11 1h3m12 0h3m-24 1h3m3 0h3m-1 0h3m-2 0h3m-2 0h3m0 0h3m-1 0h3m1 0h3m-30 1h3m12 0h3m6 0h3m-1 0h3m-17 1h3m1 0h3m1 0h3m-17 1h3m3 0h3m-8 1h3m12 0h3m-2 0h3m1 0h3m-17 1h3m0 0h3m-1 0h3m10 0h3m-14 1h3m-2 0h3m2 0h3m-11 1h3m-2 0h3m-10 1h3m4 0h3m-2 0h3m3 0h3m2 0h3m-34 1h3m8 0h3m5 0h3m7 0h3m-19 2h3m3 0h3m-6 1h3m3 0h3m-12 2h3m2 6h3m-5 4h3m-13 1h3m5 1h3m2 3h3m-12 1h3m6 4h3m-3 3h3m8 2h3m-17 6h3m-7 6h3" stroke="#111" stroke-width="3" fill="none" filter="url(#bl)"/>
<path transform="scale(.2)" d="M0 0m450 1567h3m-5 6h3m-1 0h3m-18 1h3m6 0h3m7 0h3m-1 0h3m-45 1h3m33 1h3m-25 1h3m12 0h3m-6 1h3m10 0h3m-24 2h3m0 0h3m11 0h3m-18 2h3m17 0h3m14 0h3m-42 1h3m3 0h3m8 0h3m-23 1h3m1 0h3m6 0h3m-12 1h3m0 0h3m2 0h3m0 0h3m6 0h3m-26 1h3m10 0h3m3 0h3m3 0h3m-24 1h3m-17 1h3m16 0h3m0 0h3m5 0h3m2 0h3m-38 1h3m8 0h3m1 0h3m-19 1h3m11 0h3m4 0h3m2 0h3m-24 1h3m10 0h3m5 0h3m-16 1h3m-1 0h3m1 0h3m1 0h3m-2 0h3m-1 0h3m2 0h3m-35 1h3m0 0h3m2 0h3m0 0h3m0 0h3m1 0h3m-1 0h3m1 0h3m3 0h3m-26 1h3m4 0h3m1 0h3m2 0h3m-2 0h3m-2 0h3m2 0h3m6 0h3m-39 1h3m1 0h3m3 0h3m-1 0h3m0 0h3m-1 0h3m1 0h3m9 0h3m-39 1h3m5 0h3m-1 0h3m-1 0h3m0 0h3m9 0h3m-2 0h3m-2 0h3m-16 1h3m9 0h3m9 0h3m3 0h3m-54 1h3m7 0h3m0 0h3m4 0h3m-1 0h3m8 0h3m4 0h3m1 0h3m-51 1h3m16 0h3m1 0h3m-2 0h3m-2 0h3m-2 0h3m-2 0h3m-1 0h3m7 0h3m4 0h3m-55 1h3m11 0h3m8 0h3m0 0h3m-2 0h3m5 0h3m2 0h3m-50 1h3m7 0h3m8 0h3m-2 0h3m-1 0h3m5 0h3m1 0h3m-1 0h3m-2 0h3m2 0h3m-2 0h3m-2 0h3m-32 1h3m3 0h3m4 0h3m14 0h3m0 0h3m-25 1h3m1 0h3m-2 0h3m-2 0h3m3 0h3m0 0h3m-1 0h3m-2 0h3m9 0h3m-57 1h3m12 0h3m5 0h3m2 0h3m-1 0h3m4 0h3m23 0h3m-55 1h3m0 0h3m0 0h3m-2 0h3m9 0h3m3 0h3m-1 0h3m-2 0h3m-45 1h3m6 0h3m-1 0h3m5 0h3m-2 0h3m-2 0h3m1 0h3m-1 0h3m-2 0h3m8 0h3m0 0h3m-2 0h3m5 0h3m4 0h3m-52 1h3m11 0h3m-1 0h3m-2 0h3m-2 0h3m-1 0h3m2 0h3m-1 0h3m-1 0h3m16 0h3m1 0h3m-50 1h3m6 0h3m3 0h3m1 0h3m-1 0h3m0 0h3m-2 0h3m-1 0h3m0 0h3m-1 0h3m-34 1h3m3 0h3m-2 0h3m1 0h3m1 0h3m1 0h3m-1 0h3m-2 0h3m0 0h3m15 0h3m-59 1h3m-1 0h3m1 0h3m1 0h3m-1 0h3m1 0h3m-2 0h3m1 0h3m-1 0h3m8 0h3m-2 0h3m-2 0h3m0 0h3m-1 0h3m-1 0h3m-2 0h3m3 0h3m-1 0h3m-50 1h3m9 0h3m1 0h3m-2 0h3m-1 0h3m0 0h3m-1 0h3m-2 0h3m8 0h3m1 0h3m11 0h3m-49 1h3m3 0h3m-1 0h3m-1 0h3m0 0h3m0 0h3m-1 0h3m-2 0h3m3 0h3m-2 0h3m1 0h3m-1 0h3m-45 1h3m1 0h3m2 0h3m-2 0h3m3 0h3m-2 0h3m4 0h3m0 0h3m7 0h3m7 0h3m-2 0h3m-1 0h3m-52 1h3m5 0h3m0 0h3m2 0h3m0 0h3m-2 0h3m-1 0h3m-1 0h3m-1 0h3m0 0h3m0 0h3m4 0h3m-39 1h3m0 0h3m-2 0h3m-1 0h3m-2 0h3m2 0h3m-2 0h3m5 0h3m-23 1h3m3 0h3m9 0h3m-1 0h3m-2 0h3m-1 0h3m-2 0h3m1 0h3m-1 0h3m-1 0h3m5 0h3m15 0h3m1 0h3m-71 1h3m0 0h3m10 0h3m2 0h3m0 0h3m1 0h3m-2 0h3m-2 0h3m-2 0h3m-1 0h3m-2 0h3m8 0h3m0 0h3m2 0h3m-46 1h3m1 0h3m19 0h3m1 0h3m5 0h3m-46 1h3m3 0h3m2 0h3m-1 0h3m-2 0h3m0 0h3m6 0h3m-2 0h3m-1 0h3m2 0h3m-2 0h3m-52 1h3m3 0h3m12 0h3m2 0h3m0 0h3m1 0h3m1 0h3m0 0h3m1 0h3m-29 1h3m10 0h3m16 0h3m-2 0h3m-52 1h3m1 0h3m17 0h3m5 0h3m3 0h3m-1 0h3m-2 0h3m-2 0h3m-1 0h3m3 0h3m-38 1h3m6 0h3m-2 0h3m-2 0h3m1 0h3m3 0h3m0 0h3m1 0h3m7 0h3m-44 1h3m6 0h3m-2 0h3m-2 0h3m3 0h3m1 0h3m9 0h3m-39 1h3m13 0h3m-26 1h3m15 0h3m14 0h3m8 0h3m-33 1h3m-1 0h3m6 0h3m-1 0h3m-1 0h3m7 0h3m-34 1h3m-1 0h3m9 0h3m-43 1h3m36 0h3m13 0h3m2 0h3m7 0h3m-44 1h3m10 0h3m7 0h3m-2 0h3m0 0h3m11 0h3m-44 1h3m19 0h3m-1 0h3m-34 1h3m20 0h3m-13 1h3m6 0h3m10 0h3m-26 1h3m1 0h3m-20 1h3m16 2h3m-9 2h3m-2 1h3m-13 1h3m8 0h3m0 0h3m2 0h3m-16 5h3m23 4h3" stroke="#222" stroke-width="3" fill="none" filter="url(#bl)"/>
<path transform="scale(.2)" d="M0 0m544 1421h3m9 15h3m38 16h3m-82 6h3m4 11h3m-39 1h3m29 2h3m25 1h3m-56 2h3m57 1h3m-81 2h3m3 0h3m43 0h3m-2 0h3m-71 1h3m5 1h3m38 0h3m-5 1h3m-16 2h3m-12 1h3m15 0h3m0 1h3m-66 1h3m66 1h3m-29 1h3m17 0h3m-28 1h3m14 0h3m0 0h3m-22 1h3m-18 1h3m66 0h3m-54 1h3m20 0h3m5 1h3m2 0h3m26 0h3m-65 1h3m38 0h3m-81 1h3m54 0h3m4 0h3m-42 1h3m23 1h3m47 0h3m-102 1h3m21 0h3m48 0h3m-46 1h3m21 1h3m21 0h3m8 0h3m38 0h3m-113 1h3m6 0h3m55 0h3m-95 1h3m70 0h3m2 0h3m-53 2h3m27 0h3m-7 1h3m-28 1h3m1 0h3m-20 1h3m-8 1h3m-2 0h3m5 0h3m2 0h3m1 0h3m6 0h3m0 0h3m3 0h3m3 0h3m13 0h3m-67 1h3m17 0h3m46 0h3m-67 1h3m10 0h3m3 0h3m26 0h3m-77 1h3m11 0h3m5 0h3m55 0h3m0 0h3m-35 1h3m0 0h3m5 0h3m8 0h3m-58 1h3m15 0h3m18 0h3m29 0h3m-82 1h3m34 0h3m17 0h3m14 0h3m-69 1h3m18 0h3m0 0h3m18 0h3m13 0h3m20 0h3m-109 1h3m46 0h3m47 0h3m-105 1h3m10 0h3m18 0h3m6 0h3m7 0h3m13 0h3m9 0h3m-2 0h3m-60 1h3m1 0h3m31 0h3m1 0h3m5 0h3m2 0h3m0 0h3m20 0h3m-24 1h3m12 0h3m-98 1h3m29 0h3m11 0h3m3 0h3m1 0h3m19 0h3m-55 1h3m6 0h3m10 0h3m3 0h3m-1 0h3m-23 1h3m29 0h3m2 0h3m4 0h3m4 0h3m13 0h3m-94 1h3m11 0h3m9 0h3m2 0h3m-5 1h3m0 0h3m2 0h3m11 0h3m8 0h3m4 0h3m-55 1h3m46 0h3m0 0h3m5 0h3m2 0h3m-65 1h3m-1 0h3m14 0h3m-2 0h3m14 0h3m-2 0h3m-59 1h3m10 0h3m-1 0h3m-1 0h3m16 0h3m2 0h3m1 0h3m1 0h3m18 0h3m19 0h3m-105 1h3m12 0h3m3 0h3m1 0h3m-2 0h3m11 0h3m6 0h3m1 0h3m-1 0h3m5 0h3m3 0h3m0 0h3m-2 0h3m4 0h3m-64 1h3m8 0h3m1 0h3m6 0h3m3 0h3m8 0h3m5 0h3m32 0h3m-78 1h3m5 0h3m20 0h3m7 0h3m-63 1h3m29 0h3m2 0h3m-1 0h3m13 0h3m-75 1h3m12 0h3m10 0h3m0 0h3m0 0h3m11 0h3m10 0h3m7 0h3m49 0h3m-114 1h3m29 0h3m-2 0h3m15 0h3m4 0h3m-58 1h3m12 0h3m4 0h3m10 0h3m10 0h3m2 0h3m-94 1h3m49 0h3m9 0h3m12 0h3m13 0h3m3 0h3m-27 1h3m-2 0h3m5 0h3m31 0h3m-101 1h3m1 0h3m13 0h3m-1 0h3m7 0h3m11 0h3m17 0h3m-2 0h3m18 0h3m-81 1h3m24 0h3m3 0h3m2 0h3m38 0h3m1 0h3m4 0h3m-93 1h3m12 0h3m6 0h3m-2 0h3m-2 0h3m12 0h3m5 0h3m6 0h3m-1 0h3m0 0h3m8 0h3m-66 1h3m20 0h3m33 0h3m-1 0h3m-75 1h3m2 0h3m1 0h3m6 0h3m0 0h3m11 0h3m-2 0h3m1 0h3m8 0h3m20 0h3m-111 1h3m7 0h3m53 0h3m9 0h3m12 0h3m10 0h3m4 0h3m-70 1h3m10 0h3m-1 0h3m4 0h3m-1 0h3m-1 0h3m3 0h3m3 0h3m-33 1h3m0 0h3m12 0h3m7 0h3m1 0h3m10 0h3m3 0h3m-93 1h3m-1 0h3m20 0h3m3 0h3m5 0h3m0 0h3m6 0h3m18 0h3m20 0h3m-116 1h3m37 0h3m14 0h3m3 0h3m0 0h3m7 0h3m2 0h3m-70 1h3m4 0h3m14 0h3m16 0h3m-1 0h3m-2 0h3m4 0h3m-2 0h3m13 0h3m-2 0h3m7 0h3m7 0h3m31 0h3m-102 1h3m-2 0h3m1 0h3m11 0h3m1 0h3m21 0h3m0 0h3m-2 0h3m8 0h3m5 0h3m-100 1h3m29 0h3m-1 0h3m16 0h3m4 0h3m12 0h3m8 0h3m-2 0h3m0 0h3m-61 1h3m23 0h3m2 0h3m12 0h3m1 0h3m-74 1h3m18 0h3m7 0h3m1 0h3m6 0h3m-2 0h3m-1 0h3m10 0h3m12 0h3m2 0h3m-105 1h3m24 0h3m25 0h3m4 0h3m15 0h3m8 0h3m13 0h3m6 0h3m-95 1h3m22 0h3m3 0h3m5 0h3m-22 1h3m16 0h3m12 0h3m8 0h3m20 0h3m14 0h3m-99 1h3m16 0h3m5 0h3m4 0h3m30 0h3m-98 1h3m30 0h3m9 0h3m1 0h3m11 0h3m-2 0h3m7 0h3m0 0h3m1 0h3m-48 1h3m2 0h3m0 0h3m3 0h3m6 0h3m18 0h3m-69 1h3m9 0h3m6 0h3m4 0h3m14 0h3m1 0h3m5 0h3m14 0h3m-49 1h3m8 0h3m2 0h3m2 0h3m-2 0h3m2 0h3m16 0h3m-80 1h3m32 0h3m0 0h3m-1 0h3m-57 1h3m11 0h3m24 0h3m2 0h3m11 0h3m-1 0h3m2 0h3m-1 0h3m2 0h3m4 0h3m-2 0h3m-75 1h3m1 0h3m4 0h3m17 0h3m7 0h3m27 0h3m20 0h3m-2 0h3m-2 0h3m-71 1h3m-1 0h3m4 0h3m-2 0h3m4 0h3m1 0h3m1 0h3m-2 0h3m-2 0h3m0 0h3m4 0h3m16 0h3m-98 1h3m9 0h3m-2 0h3m30 0h3m5 0h3m3 0h3m24 0h3m-1 0h3m8 0h3m14 0h3m-76 1h3m0 0h3m9 0h3m1 0h3m3 0h3m9 0h3m5 0h3m5 0h3m10 0h3m11 0h3m-129 1h3m25 0h3m1 0h3m8 0h3m15 0h3m-1 0h3m4 0h3m20 0h3m-51 1h3m10 0h3m8 0h3m6 0h3m38 0h3m0 0h3m-116 1h3m13 0h3m-2 0h3m4 0h3m1 0h3m9 0h3m1 0h3m-2 0h3m2 0h3m-2 0h3m2 0h3m-2 0h3m8 0h3m11 0h3m41 0h3m-111 1h3m5 0h3m2 0h3m2 0h3m0 0h3m18 0h3m33 0h3m-87 1h3m26 0h3m6 0h3m2 0h3m0 0h3m0 0h3m-2 0h3m-2 0h3m2 0h3m0 0h3m7 0h3m-2 0h3m0 0h3m-64 1h3m16 0h3m-2 0h3m7 0h3m16 0h3m-18 1h3m1 0h3m10 0h3m-63 1h3m-1 0h3m11 0h3m14 0h3m6 0h3m40 0h3m7 0h3m4 0h3m-116 1h3m20 0h3m8 0h3m1 0h3m-2 0h3m35 0h3m-66 1h3m3 0h3m17 0h3m28 0h3m2 0h3m2 0h3m2 0h3m-65 1h3m7 0h3m-2 0h3m1 0h3m15 0h3m13 0h3m2 0h3m5 0h3m-83 1h3m13 0h3m8 0h3m-1 0h3m9 0h3m-1 0h3m9 0h3m-61 1h3m13 0h3m9 0h3m19 0h3m25 0h3m3 0h3m4 0h3m-119 1h3m40 0h3m9 0h3m5 0h3m2 0h3m34 0h3m25 0h3m-111 1h3m10 0h3m12 0h3m2 0h3m-2 0h3m-2 0h3m-2 0h3m5 0h3m0 0h3m-2 0h3m6 0h3m-1 0h3m10 0h3m-62 1h3m-1 0h3m5 0h3m1 0h3m5 0h3m8 0h3m-1 0h3m6 0h3m-68 1h3m17 0h3m45 0h3m1 0h3m-74 1h3m21 0h3m8 0h3m2 0h3m2 0h3m9 0h3m6 0h3m4 0h3m-72 1h3m7 0h3m21 0h3m22 0h3m-31 1h3m1 0h3m53 0h3m-58 1h3m0 0h3m27 0h3m-86 1h3m1 0h3m19 0h3m-2 0h3m22 0h3m-1 0h3m-1 0h3m2 0h3m1 0h3m1 0h3m24 0h3m-54 1h3m29 0h3m-1 0h3m-2 0h3m1 0h3m19 0h3m-51 1h3m2 0h3m7 0h3m-72 1h3m25 0h3m25 0h3m-1 0h3m3 0h3m13 0h3m-64 1h3m7 0h3m-2 0h3m20 0h3m0 0h3m9 0h3m2 0h3m0 0h3m4 0h3m19 0h3m-93 1h3m12 0h3m6 0h3m7 0h3m2 0h3m43 0h3m-85 1h3m7 0h3m4 0h3m-20 1h3m34 0h3m15 0h3m-64 1h3m0 0h3m34 0h3m4 0h3m2 0h3m10 0h3m-71 1h3m-2 0h3m11 0h3m5 0h3m4 0h3m11 0h3m-1 0h3m17 0h3m0 0h3m-2 0h3m25 0h3m-114 1h3m26 0h3m-2 0h3m3 0h3m5 0h3m39 0h3m-1 0h3m16 0h3m-86 1h3m33 0h3m51 0h3m8 0h3m-98 1h3m0 0h3m6 0h3m14 0h3m6 0h3m7 0h3m-28 1h3m-1 0h3m22 0h3m13 0h3m-116 1h3m25 0h3m8 0h3m7 0h3m-2 0h3m6 0h3m2 0h3m-2 0h3m10 0h3m10 0h3m-72 1h3m-2 0h3m49 0h3m-1 1h3m-1 0h3m14 0h3m-90 1h3m18 0h3m3 0h3m3 0h3m13 0h3m3 0h3m1 0h3m20 0h3m8 0h3m-1 0h3m12 0h3m5 0h3m-93 1h3m3 0h3m23 0h3m13 0h3m-33 1h3m7 0h3m45 0h3m-104 1h3m3 0h3m6 0h3m27 0h3m26 0h3m-1 0h3m-55 1h3m3 0h3m27 0h3m-51 1h3m51 0h3m-46 1h3m-10 1h3m1 0h3m30 0h3m29 0h3m-73 1h3m60 0h3m35 0h3m-99 1h3m71 0h3m33 0h3m-75 1h3m-43 1h3m3 0h3m38 0h3m18 1h3m-62 1h3m0 0h3m4 0h3m41 0h3m-31 2h3m-75 1h3m59 1h3m17 0h3m-58 1h3m19 1h3m6 0h3m3 0h3m12 0h3m-2 0h3m-40 1h3m30 0h3m1 0h3m-56 1h3m28 0h3m10 1h3m59 0h3m-86 1h3m23 0h3m-42 3h3m13 0h3m56 0h3m-38 2h3m2 1h3m10 0h3m-16 1h3m-6 1h3m-5 2h3m-79 2h3m20 0h3m7 0h3m16 1h3m18 1h3m-16 1h3m-79 4h3m82 1h3m-30 1h3m-27 1h3m72 2h3m-98 2h3m49 2h3m11 0h3m-40 5h3" stroke="#333" stroke-width="3" fill="none" filter="url(#bl)"/>
<path transform="scale(.2)" d="M0 0m380 1507h3m-40 3h3m53 2h3m-17 1h3m-25 2h3m-7 3h3m-2 1h3m42 2h3m-45 2h3m35 1h3m-41 1h3m-3 2h3m11 5h3m32 1h3m-30 2h3m2 0h3m-58 1h3m55 2h3m-2 2h3m-54 1h3m27 1h3m18 3h3m-24 1h3m2 1h3m-17 3h3m-8 3h3m39 1h3m-37 1h3m-12 3h3m36 0h3m-24 3h3m8 0h3m26 0h3m-6 1h3m-56 2h3m-13 1h3m11 1h3m25 0h3m3 0h3m-68 2h3m64 0h3m-50 2h3m39 0h3m-26 1h3m-45 2h3m41 0h3m-39 2h3m70 0h3m-58 2h3m30 0h3m-42 1h3m9 0h3m-35 1h3m58 0h3m8 1h3m-27 1h3m3 0h3m-13 2h3m-24 1h3m2 0h3m21 1h3m33 0h3m-32 1h3m-37 3h3m-15 1h3m69 0h3m-81 1h3m20 0h3m1 0h3m17 0h3m-41 1h3m26 2h3m-38 1h3m28 1h3m-24 1h3m36 0h3m-14 3h3m-23 1h3m0 0h3m32 0h3m3 0h3m-42 1h3m13 0h3m-6 2h3m3 2h3m12 1h3m-37 1h3m-20 1h3m24 0h3m41 1h3m-66 1h3m16 3h3m5 0h3m-35 1h3m39 1h3m-17 1h3m21 0h3m-42 1h3m-25 2h3m4 0h3m24 0h3m-27 1h3m6 0h3m13 1h3m36 2h3m-59 1h3m-10 1h3m15 2h3m55 0h3m-89 1h3m34 0h3m-17 1h3m-2 1h3m3 0h3m-13 1h3m-18 4h3m15 3h3m37 4h3m-68 2h3m1 2h3m29 4h3m13 1h3m-18 1h3m25 2h3m-36 4h3m-9 1h3" stroke="#888" stroke-width="3" fill="none" filter="url(#bl)"/>
<path transform="scale(.2)" d="M0 0m334 1659h3m2 0h3m1 0h3m2 0h3m18 0h3m27 0h3m5 0h3m4 0h3m1 0h3m66 0h3m1 0h3m2 0h3m3 0h3m-1 0h3m3 0h3m13 0h3m2 0h3m5 0h3m4 0h3m16 0h3m20 0h3m-1 0h3m-260 1h3m2 0h3m11 0h3m60 0h3m14 0h3m-2 0h3m-2 0h3m6 0h3m0 0h3m9 0h3m12 0h3m21 0h3m-1 0h3m5 0h3m11 0h3m1 0h3m11 0h3m23 0h3m11 0h3m4 0h3m0 0h3m5 0h3" stroke="#666" stroke-width="3" fill="none" filter="url(#bl)"/>
<line x1="80.8" y1="277.7" x2="80.8" y2="332.7" stroke="#8080c0" stroke-width="0.6"/>
<rect x="65.20" y="277.70" width="57.10" height="55.00" fill="none" stroke="#9a9a9a" stroke-width="0.7"/>
<text x="63.6" y="282.3" font-size="3.2" font-family="Liberation Sans" text-anchor="end" fill="#444" textLength="7.8" lengthAdjust="spacingAndGlyphs">250K</text>
<text x="63.6" y="292.6" font-size="3.2" font-family="Liberation Sans" text-anchor="end" fill="#444" textLength="7.8" lengthAdjust="spacingAndGlyphs">200K</text>
<text x="63.6" y="302.90000000000003" font-size="3.2" font-family="Liberation Sans" text-anchor="end" fill="#444" textLength="7.8" lengthAdjust="spacingAndGlyphs">150K</text>
<text x="63.6" y="313.2" font-size="3.2" font-family="Liberation Sans" text-anchor="end" fill="#444" textLength="7.8" lengthAdjust="spacingAndGlyphs">100K</text>
<text x="63.6" y="323.5" font-size="3.2" font-family="Liberation Sans" text-anchor="end" fill="#444" textLength="6" lengthAdjust="spacingAndGlyphs">50K</text>
<text x="63.6" y="333.8" font-size="3.2" font-family="Liberation Sans" text-anchor="end" fill="#444">0</text>
<text x="72" y="337.3" font-size="3.6" font-family="Liberation Sans" text-anchor="middle" fill="#333">0</text>
<text x="76.7" y="337.3" font-size="3.6" font-family="Liberation Sans" fill="#333">10<tspan dy="-1.3" font-size="2.6">2</tspan></text>
<text x="89.0" y="337.3" font-size="3.6" font-family="Liberation Sans" fill="#333">10<tspan dy="-1.3" font-size="2.6">3</tspan></text>
<text x="102.39999999999999" y="337.3" font-size="3.6" font-family="Liberation Sans" fill="#333">10<tspan dy="-1.3" font-size="2.6">4</tspan></text>
<text x="114.1" y="337.3" font-size="3.6" font-family="Liberation Sans" fill="#333">10<tspan dy="-1.3" font-size="2.6">5</tspan></text>
<text x="66.2" y="282.09999999999997" font-size="3.4" font-family="Liberation Sans" font-weight="bold" fill="#222">6.77</text>
<path transform="scale(.2)" d="M0 0m478 1888h4m8 0h4m-27 1h4m-36 1h4m25 0h4m13 4h4m-40 4h4m-3 0h4m-3 0h4m-2 0h4m2 0h4m4 1h4m23 0h4m-2 0h4m-7 2h4m-46 1h4m12 1h4m14 1h4m-31 1h4m14 0h4m-41 2h4m7 0h4m3 0h4m0 0h4m6 0h4m10 0h4m-22 1h4m29 0h4m-51 1h4m27 0h4m6 0h4m-38 1h4m3 0h4m16 0h4m2 0h4m-45 1h4m3 0h4m-2 0h4m6 0h4m2 0h4m-46 1h4m6 0h4m-2 0h4m-1 0h4m3 0h4m-1 0h4m2 0h4m6 0h4m28 0h4m-79 1h4m15 0h4m-1 0h4m3 0h4m2 0h4m-3 0h4m13 0h4m1 0h4m-22 1h4m3 0h4m-1 0h4m-54 1h4m16 0h4m0 0h4m1 0h4m-2 0h4m4 0h4m10 0h4m-48 1h4m13 0h4m5 0h4m-3 0h4m-2 0h4m2 0h4m-2 0h4m18 0h4m-72 1h4m5 0h4m-3 0h4m-3 0h4m1 0h4m-3 0h4m13 0h4m-3 0h4m-3 0h4m-1 0h4m-2 0h4m-2 0h4m-1 0h4m-59 1h4m1 0h4m3 0h4m3 0h4m-1 0h4m7 0h4m-1 0h4m-2 0h4m6 0h4m-2 0h4m0 0h4m4 0h4m-58 1h4m12 0h4m-2 0h4m0 0h4m-1 0h4m-3 0h4m-1 0h4m-2 0h4m-2 0h4m3 0h4m1 0h4m-2 0h4m3 0h4m-3 0h4m7 0h4m6 0h4m-72 1h4m-3 0h4m15 0h4m0 0h4m3 0h4m1 0h4m2 0h4m0 0h4m-3 0h4m-2 0h4m-62 1h4m9 0h4m-1 0h4m3 0h4m-2 0h4m-3 0h4m14 0h4m-1 0h4m-1 0h4m1 0h4m-2 0h4m-1 0h4m-57 1h4m15 0h4m1 0h4m16 0h4m-3 0h4m-3 0h4m-2 0h4m-68 1h4m25 0h4m-2 0h4m-1 0h4m-3 0h4m-3 0h4m-2 0h4m-3 0h4m2 0h4m3 0h4m3 0h4m-2 0h4m5 0h4m-2 0h4m-68 1h4m1 0h4m-3 0h4m11 0h4m-2 0h4m0 0h4m-3 0h4m-2 0h4m3 0h4m2 0h4m8 0h4m4 0h4m-73 1h4m8 0h4m-2 0h4m-3 0h4m-3 0h4m4 0h4m2 0h4m-3 0h4m0 0h4m2 0h4m-1 0h4m-3 0h4m-2 0h4m-3 0h4m3 0h4m-3 0h4m-1 0h4m10 0h4m4 0h4m-76 1h4m1 0h4m8 0h4m2 0h4m-3 0h4m-1 0h4m-2 0h4m0 0h4m-2 0h4m0 0h4m2 0h4m-3 0h4m2 0h4m-2 0h4m-50 1h4m-3 0h4m-3 0h4m-3 0h4m5 0h4m-3 0h4m-2 0h4m-3 0h4m5 0h4m0 0h4m-3 0h4m-1 0h4m-2 0h4m0 0h4m0 0h4m16 0h4m-65 1h4m1 0h4m-2 0h4m4 0h4m-3 0h4m0 0h4m-3 0h4m-3 0h4m-2 0h4m-3 0h4m-1 0h4m-1 0h4m-3 0h4m-3 0h4m-1 0h4m-3 0h4m2 0h4m9 0h4m9 0h4m-90 1h4m2 0h4m-2 0h4m-3 0h4m0 0h4m4 0h4m-1 0h4m-1 0h4m-3 0h4m-3 0h4m5 0h4m-3 0h4m-3 0h4m-2 0h4m-2 0h4m4 0h4m-2 0h4m-3 0h4m26 0h4m2 0h4m-102 1h4m13 0h4m-3 0h4m-2 0h4m-3 0h4m-2 0h4m-2 0h4m-1 0h4m6 0h4m-3 0h4m-3 0h4m1 0h4m-3 0h4m-3 0h4m-3 0h4m-1 0h4m12 0h4m2 0h4m1 0h4m3 0h4m-80 1h4m-1 0h4m3 0h4m-1 0h4m-3 0h4m-1 0h4m-2 0h4m-3 0h4m-3 0h4m-1 0h4m-3 0h4m2 0h4m0 0h4m-3 0h4m3 0h4m-3 0h4m-2 0h4m-2 0h4m-3 0h4m-1 0h4m0 0h4m-2 0h4m8 0h4m-72 1h4m-2 0h4m-2 0h4m2 0h4m-1 0h4m-2 0h4m-3 0h4m-3 0h4m-1 0h4m-2 0h4m-2 0h4m0 0h4m-3 0h4m10 0h4m0 0h4m-1 0h4m-3 0h4m-3 0h4m-3 0h4m9 0h4m1 0h4m10 0h4m-73 1h4m-1 0h4m-1 0h4m-1 0h4m-3 0h4m-3 0h4m-2 0h4m-1 0h4m-3 0h4m-3 0h4m0 0h4m3 0h4m0 0h4m-3 0h4m13 0h4m-92 1h4m19 0h4m-2 0h4m-2 0h4m0 0h4m-3 0h4m-3 0h4m-1 0h4m0 0h4m-1 0h4m0 0h4m1 0h4m-2 0h4m-3 0h4m-3 0h4m-3 0h4m-1 0h4m-3 0h4m1 0h4m4 0h4m-82 1h4m28 0h4m-1 0h4m-2 0h4m1 0h4m-3 0h4m-3 0h4m4 0h4m-2 0h4m-2 0h4m-3 0h4m-3 0h4m-2 0h4m-1 0h4m-3 0h4m-2 0h4m-3 0h4m-1 0h4m-2 0h4m5 0h4m1 0h4m-2 0h4m-2 0h4m-78 1h4m6 0h4m-2 0h4m1 0h4m-3 0h4m-3 0h4m-1 0h4m-1 0h4m-3 0h4m-1 0h4m-2 0h4m-3 0h4m-3 0h4m-3 0h4m-2 0h4m-2 0h4m-3 0h4m0 0h4m1 0h4m-3 0h4m-1 0h4m-1 0h4m-3 0h4m-2 0h4m-3 0h4m-3 0h4m-49 1h4m-1 0h4m2 0h4m-1 0h4m0 0h4m-3 0h4m-1 0h4m1 0h4m-3 0h4m-2 0h4m-3 0h4m-3 0h4m0 0h4m6 0h4m6 0h4m-2 0h4m0 0h4m-93 1h4m7 0h4m3 0h4m15 0h4m-2 0h4m-3 0h4m-2 0h4m-1 0h4m0 0h4m-3 0h4m-3 0h4m-2 0h4m-2 0h4m-2 0h4m-3 0h4m-3 0h4m-1 0h4m0 0h4m-3 0h4m-3 0h4m-3 0h4m-2 0h4m2 0h4m-3 0h4m-1 0h4m6 0h4m-78 1h4m7 0h4m2 0h4m-3 0h4m-2 0h4m0 0h4m-3 0h4m-3 0h4m-2 0h4m-1 0h4m-3 0h4m-3 0h4m-3 0h4m-1 0h4m-2 0h4m-3 0h4m0 0h4m-3 0h4m-1 0h4m-1 0h4m-66 1h4m-1 0h4m-1 0h4m6 0h4m1 0h4m-2 0h4m-3 0h4m0 0h4m-1 0h4m-3 0h4m-3 0h4m-3 0h4m-2 0h4m-1 0h4m-1 0h4m-2 0h4m-2 0h4m-3 0h4m-3 0h4m-2 0h4m-2 0h4m-1 0h4m-2 0h4m0 0h4m0 0h4m-2 0h4m1 0h4m10 0h4m-64 1h4m-3 0h4m-3 0h4m-3 0h4m-1 0h4m-2 0h4m0 0h4m-3 0h4m1 0h4m1 0h4m-3 0h4m-1 0h4m-1 0h4m0 0h4m1 0h4m13 0h4m2 0h4m-85 1h4m-2 0h4m-2 0h4m-3 0h4m9 0h4m-3 0h4m-3 0h4m-2 0h4m-3 0h4m-1 0h4m-1 0h4m-3 0h4m-3 0h4m-3 0h4m-3 0h4m-3 0h4m-3 0h4m-3 0h4m-2 0h4m-3 0h4m-3 0h4m-3 0h4m-3 0h4m2 0h4m-2 0h4m-3 0h4m-2 0h4m-2 0h4m-3 0h4m-2 0h4m-2 0h4m-1 0h4m-1 0h4m17 0h4m-118 1h4m25 0h4m-3 0h4m1 0h4m-3 0h4m-3 0h4m-1 0h4m-3 0h4m2 0h4m-2 0h4m-3 0h4m-2 0h4m-3 0h4m-2 0h4m-3 0h4m-3 0h4m-2 0h4m-3 0h4m-3 0h4m-2 0h4m-3 0h4m-2 0h4m2 0h4m0 0h4m0 0h4m-3 0h4m-3 0h4m3 0h4m-3 0h4m5 0h4m-87 1h4m6 0h4m1 0h4m3 0h4m-3 0h4m0 0h4m-3 0h4m-2 0h4m0 0h4m2 0h4m-1 0h4m-3 0h4m-3 0h4m-3 0h4m-2 0h4m-3 0h4m-2 0h4m-2 0h4m1 0h4m-3 0h4m-2 0h4m-3 0h4m5 0h4m12 0h4m12 0h4m-119 1h4m2 0h4m0 0h4m-2 0h4m-1 0h4m-1 0h4m15 0h4m-3 0h4m-3 0h4m0 0h4m0 0h4m-2 0h4m-3 0h4m-2 0h4m-3 0h4m-2 0h4m-2 0h4m-2 0h4m-3 0h4m-2 0h4m-2 0h4m-2 0h4m-2 0h4m1 0h4m-3 0h4m0 0h4m-3 0h4m-3 0h4m-1 0h4m3 0h4m-1 0h4m0 0h4m-100 1h4m-1 0h4m0 0h4m6 0h4m21 0h4m-2 0h4m5 0h4m-2 0h4m-3 0h4m-3 0h4m0 0h4m-3 0h4m-1 0h4m-2 0h4m-3 0h4m-2 0h4m-3 0h4m-1 0h4m-3 0h4m-2 0h4m-3 0h4m1 0h4m-2 0h4m4 0h4m1 0h4m1 0h4m-88 1h4m6 0h4m-2 0h4m-1 0h4m-2 0h4m-3 0h4m-1 0h4m-2 0h4m-3 0h4m-2 0h4m-3 0h4m-3 0h4m-3 0h4m-2 0h4m-3 0h4m0 0h4m-3 0h4m-3 0h4m-3 0h4m-3 0h4m-2 0h4m-3 0h4m-3 0h4m-3 0h4m-3 0h4m-3 0h4m-2 0h4m-2 0h4m2 0h4m6 0h4m-2 0h4m1 0h4m2 0h4m-81 1h4m2 0h4m-3 0h4m-1 0h4m-3 0h4m-2 0h4m-1 0h4m-3 0h4m-3 0h4m-3 0h4m-2 0h4m-2 0h4m-3 0h4m-3 0h4m-2 0h4m3 0h4m-1 0h4m-3 0h4m-2 0h4m-1 0h4m-2 0h4m-3 0h4m-3 0h4m-1 0h4m-3 0h4m0 0h4m4 0h4m-3 0h4m-75 1h4m15 0h4m2 0h4m0 0h4m1 0h4m-3 0h4m-2 0h4m-1 0h4m-3 0h4m-2 0h4m-3 0h4m-1 0h4m-3 0h4m-3 0h4m-1 0h4m-3 0h4m-1 0h4m-1 0h4m-1 0h4m-1 0h4m2 0h4m-2 0h4m-64 1h4m-2 0h4m-3 0h4m-2 0h4m-1 0h4m-1 0h4m-2 0h4m-3 0h4m0 0h4m-3 0h4m-2 0h4m-2 0h4m-3 0h4m2 0h4m-2 0h4m-3 0h4m-3 0h4m-3 0h4m-3 0h4m-3 0h4m-3 0h4m1 0h4m-1 0h4m-3 0h4m-2 0h4m0 0h4m14 0h4m-88 1h4m10 0h4m1 0h4m-3 0h4m-1 0h4m-3 0h4m-2 0h4m-3 0h4m-1 0h4m0 0h4m-3 0h4m-2 0h4m-2 0h4m-3 0h4m-2 0h4m-1 0h4m-3 0h4m-2 0h4m3 0h4m-3 0h4m1 0h4m1 0h4m-2 0h4m-2 0h4m-3 0h4m14 0h4m-95 1h4m3 0h4m6 0h4m-1 0h4m0 0h4m-2 0h4m-2 0h4m-1 0h4m-3 0h4m-2 0h4m-3 0h4m-2 0h4m-2 0h4m-3 0h4m0 0h4m-3 0h4m-1 0h4m-1 0h4m2 0h4m-3 0h4m-3 0h4m-1 0h4m-3 0h4m7 0h4m-75 1h4m8 0h4m4 0h4m5 0h4m-2 0h4m2 0h4m1 0h4m-2 0h4m-2 0h4m-3 0h4m-2 0h4m0 0h4m-3 0h4m-3 0h4m-3 0h4m-1 0h4m-3 0h4m-2 0h4m-2 0h4m4 0h4m-75 1h4m2 0h4m-2 0h4m2 0h4m1 0h4m-1 0h4m3 0h4m0 0h4m1 0h4m-2 0h4m2 0h4m7 0h4m-3 0h4m-54 1h4m1 0h4m0 0h4m-1 0h4m4 0h4m-3 0h4m0 0h4m-3 0h4m-1 0h4m-3 0h4m-3 0h4m-3 0h4m1 0h4m-3 0h4m-3 0h4m-2 0h4m-3 0h4m-2 0h4m-3 0h4m-3 0h4m-1 0h4m1 0h4m-3 0h4m-2 0h4m-70 1h4m12 0h4m0 0h4m4 0h4m0 0h4m-1 0h4m0 0h4m2 0h4m-3 0h4m-2 0h4m-3 0h4m-3 0h4m-2 0h4m1 0h4m-2 0h4m-2 0h4m-3 0h4m-2 0h4m-2 0h4m-71 1h4m1 0h4m7 0h4m-1 0h4m-3 0h4m0 0h4m1 0h4m-1 0h4m-2 0h4m1 0h4m-1 0h4m-3 0h4m2 0h4m-2 0h4m-2 0h4m-1 0h4m-1 0h4m2 0h4m10 0h4m5 0h4m-90 1h4m-2 0h4m13 0h4m-3 0h4m5 0h4m-3 0h4m-3 0h4m-3 0h4m0 0h4m-2 0h4m-2 0h4m-3 0h4m2 0h4m1 0h4m-1 0h4m4 0h4m7 0h4m-60 1h4m6 0h4m-1 0h4m-3 0h4m3 0h4m-2 0h4m-3 0h4m-1 0h4m3 0h4m-2 0h4m13 0h4m-74 1h4m5 0h4m-2 0h4m0 0h4m-3 0h4m2 0h4m-2 0h4m0 0h4m-3 0h4m-1 0h4m1 0h4m-3 0h4m0 0h4m-1 0h4m7 0h4m-1 0h4m-49 1h4m1 0h4m8 0h4m-3 0h4m1 0h4m-1 0h4m-2 0h4m-3 0h4m-3 0h4m-3 0h4m-3 0h4m-2 0h4m-3 0h4m6 0h4m1 0h4m7 0h4m-72 1h4m1 0h4m-1 0h4m-1 0h4m2 0h4m-2 0h4m2 0h4m2 0h4m-2 0h4m-1 0h4m-3 0h4m21 0h4m-48 1h4m-1 0h4m-3 0h4m-2 0h4m-2 0h4m-1 0h4m3 0h4m4 0h4m-3 0h4m-3 0h4m2 0h4m4 0h4m21 0h4m-93 1h4m2 0h4m0 0h4m-1 0h4m3 0h4m6 0h4m-3 0h4m-1 0h4m-2 0h4m-1 0h4m-2 0h4m1 0h4m0 0h4m-50 1h4m1 0h4m3 0h4m2 0h4m5 0h4m0 0h4m7 0h4m8 0h4m-57 1h4m5 0h4m9 0h4m11 0h4m1 0h4m-1 0h4m-3 0h4m1 0h4m-3 0h4m-30 1h4m2 0h4m1 0h4m3 0h4m0 0h4m-56 1h4m2 0h4m-2 0h4m1 0h4m9 0h4m-1 0h4m2 0h4m-2 0h4m-3 0h4m1 0h4m5 0h4m-45 1h4m-3 0h4m1 0h4m-2 0h4m-2 0h4m0 0h4m5 0h4m5 0h4m6 0h4m-2 0h4m-57 1h4m18 0h4m0 0h4m8 0h4m8 0h4m-59 1h4m-1 0h4m-1 0h4m6 0h4m5 0h4m0 0h4m20 0h4m1 0h4m-88 1h4m35 0h4m7 0h4m-1 0h4m4 0h4m2 0h4m4 0h4m9 0h4m-81 1h4m25 0h4m9 0h4m-3 0h4m8 0h4m-26 1h4m8 0h4m8 0h4m-35 1h4m8 0h4m1 0h4m31 0h4m-42 1h4m-2 0h4m0 0h4m1 0h4m-28 1h4m2 0h4m4 0h4m-3 0h4m0 0h4m10 0h4m1 0h4m1 0h4m3 0h4m-52 1h4m3 0h4m0 0h4m5 0h4m30 0h4m-81 1h4m26 0h4m-8 2h4m6 0h4m-1 0h4m6 1h4m-41 1h4m7 1h4m37 0h4m-53 1h4m21 0h4m0 0h4m-57 3h4" stroke="#000" stroke-width="4" fill="none" filter="url(#bl)"/>
<path transform="scale(.2)" d="M0 0m518 1798h4m-26 5h4m16 11h4m-18 2h4m-1 1h4m-13 1h4m1 0h4m15 0h4m-27 2h4m9 1h4m-4 1h4m2 1h4m-12 2h4m-9 1h4m9 0h4m6 0h4m-23 2h4m10 1h4m-26 1h4m0 0h4m0 2h4m2 0h4m-10 1h4m-3 0h4m-1 0h4m-7 2h4m-2 0h4m5 0h4m-7 1h4m-23 1h4m-1 0h4m-1 0h4m-1 0h4m-7 1h4m7 0h4m-18 1h4m-3 0h4m-2 0h4m-1 1h4m0 1h4m1 0h4m-1 0h4m-32 1h4m-1 0h4m2 0h4m0 0h4m-1 0h4m0 0h4m6 0h4m-21 1h4m-3 0h4m8 0h4m2 0h4m-34 1h4m6 0h4m-2 0h4m17 0h4m-14 1h4m-2 0h4m-22 1h4m-3 0h4m0 0h4m-2 0h4m-2 0h4m-3 0h4m-1 0h4m-1 0h4m-3 0h4m-12 1h4m8 0h4m-22 1h4m-2 0h4m2 0h4m-19 1h4m3 0h4m4 0h4m-13 1h4m7 0h4m-3 0h4m-2 0h4m-15 1h4m-3 0h4m2 0h4m-1 0h4m-3 0h4m-20 1h4m-2 0h4m14 0h4m1 1h4m-39 1h4m6 0h4m-1 0h4m-2 0h4m-3 0h4m0 0h4m7 0h4m-26 1h4m0 0h4m-3 0h4m4 0h4m2 0h4m-25 1h4m1 0h4m4 0h4m6 0h4m-3 0h4m-27 1h4m-2 0h4m0 0h4m-2 0h4m-3 0h4m-2 0h4m1 0h4m-1 0h4m-2 0h4m-29 1h4m4 0h4m1 0h4m1 0h4m-3 0h4m-2 0h4m-3 0h4m1 0h4m-3 0h4m-27 1h4m2 0h4m-1 0h4m4 0h4m-20 1h4m1 0h4m-2 0h4m-3 0h4m-1 0h4m-2 0h4m0 0h4m-15 1h4m-2 0h4m-3 0h4m-3 0h4m-3 0h4m0 0h4m-2 0h4m-1 0h4m-27 1h4m7 0h4m3 0h4m-3 0h4m-3 0h4m-10 1h4m-21 1h4m7 0h4m4 0h4m-2 0h4m6 0h4m-30 1h4m-1 0h4m-2 0h4m-3 0h4m-1 0h4m-1 0h4m-2 0h4m0 0h4m-3 0h4m4 0h4m-26 1h4m2 0h4m-2 0h4m-2 0h4m-2 0h4m-2 0h4m-3 0h4m0 0h4m-41 1h4m9 0h4m2 0h4m-1 0h4m-3 0h4m-2 0h4m-3 0h4m-3 0h4m13 0h4m-43 1h4m4 0h4m1 0h4m1 0h4m-3 0h4m-1 0h4m-3 0h4m1 0h4m-21 1h4m-3 0h4m-3 0h4m-2 0h4m-2 0h4m0 0h4m-2 0h4m-3 0h4m-2 0h4m-1 0h4m8 0h4m-34 1h4m1 0h4m-3 0h4m-2 0h4m-3 0h4m1 0h4m-1 0h4m5 0h4m-34 1h4m-3 0h4m-1 0h4m-2 0h4m-1 0h4m1 0h4m-3 0h4m-1 0h4m-3 0h4m-2 0h4m-28 1h4m0 0h4m-3 0h4m0 0h4m-3 0h4m-3 0h4m-3 0h4m-2 0h4m-2 0h4m4 0h4m-27 1h4m-2 0h4m1 0h4m0 0h4m-2 0h4m-3 0h4m-1 0h4m-2 0h4m2 0h4m-3 0h4m-27 1h4m0 0h4m4 0h4m-3 0h4m-3 0h4m0 0h4m-19 1h4m-3 0h4m-2 0h4m-3 0h4m-3 0h4m0 0h4m-3 0h4m2 0h4m-2 0h4m-3 0h4m-23 1h4m3 0h4m-3 0h4m3 0h4m-2 0h4m-3 0h4m-25 1h4m-3 0h4m-3 0h4m-2 0h4m0 0h4m3 0h4m-1 0h4m-2 0h4m-28 1h4m-1 0h4m-1 0h4m-2 0h4m-1 0h4m-3 0h4m-3 0h4m-3 0h4m1 0h4m0 0h4m-3 0h4m-3 0h4m-2 0h4m-21 1h4m-2 0h4m-3 0h4m-3 0h4m-3 0h4m-2 0h4m-1 0h4m-29 1h4m1 0h4m1 0h4m-3 0h4m-1 0h4m-2 0h4m-3 0h4m-2 0h4m-3 0h4m-30 1h4m1 0h4m1 0h4m2 0h4m-2 0h4m-3 0h4m-2 0h4m-3 0h4m-3 0h4m-3 0h4m-3 0h4m-1 0h4m-3 0h4m2 0h4m-1 0h4m-31 1h4m1 0h4m-3 0h4m-2 0h4m-2 0h4m1 0h4m-3 0h4m2 0h4m-24 1h4m0 0h4m-3 0h4m-3 0h4m-3 0h4m-3 0h4m-3 0h4m-3 0h4m-2 0h4m-3 0h4m-3 0h4m0 0h4m1 0h4m-2 0h4m1 0h4m-2 0h4m-31 1h4m-2 0h4m-1 0h4m-3 0h4m-3 0h4m-3 0h4m-2 0h4m-3 0h4m5 0h4m-3 0h4m-39 1h4m12 0h4m-1 0h4m-2 0h4m-1 0h4m6 0h4m-39 1h4m4 0h4m0 0h4m-2 0h4m-2 0h4m-3 0h4m0 0h4m-3 0h4m0 0h4m-23 1h4m0 0h4m-3 0h4m-2 0h4m-2 0h4m-1 0h4m1 0h4m-3 0h4m-3 0h4m2 0h4m-3 0h4m-20 1h4m-1 0h4m-3 0h4m-2 0h4m-3 0h4m-3 0h4m-1 0h4m-29 1h4m1 0h4m1 0h4m1 0h4m-2 0h4m1 0h4m-3 0h4m-3 0h4m-18 1h4m-2 0h4m-3 0h4m-3 0h4m-2 0h4m4 0h4m3 0h4m3 0h4m-32 1h4m2 0h4m-3 0h4m-2 0h4m-1 0h4m8 0h4m-34 1h4m7 0h4m-3 0h4m-3 0h4m-3 0h4m6 0h4m-24 1h4m3 0h4m-2 0h4m-3 0h4m0 0h4m3 0h4m1 0h4m-34 1h4m5 0h4m-3 0h4m-2 0h4m-3 0h4m-3 0h4m-3 0h4m-3 0h4m-3 0h4m-3 0h4m0 0h4m-1 0h4m-31 1h4m3 0h4m0 0h4m-3 0h4m0 0h4m2 0h4m-2 0h4m0 0h4m-31 1h4m6 0h4m-3 0h4m1 0h4m-3 0h4m-3 0h4m-3 0h4m-20 1h4m-3 0h4m1 0h4m1 0h4m-3 0h4m-10 1h4m1 0h4m-2 0h4m8 0h4m-35 1h4m4 0h4m-1 0h4m0 0h4m-1 0h4m2 0h4m-2 0h4m-18 1h4m-2 0h4m0 0h4m-2 0h4m-3 0h4m-1 0h4m-20 1h4m3 0h4m0 0h4m-1 0h4m-2 0h4m-3 0h4m1 0h4m5 0h4m-35 1h4m2 0h4m2 0h4m-2 0h4m-2 0h4m0 0h4m-22 1h4m-2 0h4m-3 0h4m-2 0h4m-3 0h4m0 0h4m1 0h4m-2 0h4m-2 0h4m-3 0h4m-2 0h4m-26 1h4m1 0h4m-3 0h4m0 0h4m0 0h4m2 0h4m-2 0h4m-36 1h4m6 0h4m-3 0h4m-1 0h4m0 0h4m-3 0h4m-3 0h4m-3 0h4m-2 0h4m-3 0h4m-2 0h4m1 0h4m-26 1h4m-2 0h4m1 0h4m-3 0h4m-1 0h4m5 0h4m-23 1h4m-3 0h4m0 0h4m-3 0h4m-3 0h4m-1 0h4m-3 0h4m-1 0h4m-1 0h4m2 0h4m-33 1h4m-3 0h4m0 0h4m-2 0h4m-3 0h4m-3 0h4m1 0h4m0 0h4m-1 0h4m-1 0h4m7 0h4m-39 1h4m1 0h4m0 0h4m0 0h4m-2 0h4m-3 0h4m-1 0h4m1 0h4m-31 1h4m-3 0h4m2 0h4m3 0h4m-3 0h4m-1 0h4m-2 0h4m-6 1h4m-20 1h4m5 0h4m-2 0h4m-3 0h4m-3 0h4m-2 0h4m0 0h4m-17 1h4m-2 0h4m-2 0h4m-3 0h4m1 0h4m-3 0h4m-3 0h4m-2 0h4m-2 0h4m-15 1h4m-2 0h4m-1 0h4m-18 1h4m3 0h4m0 0h4m-3 0h4m-2 0h4m0 0h4m-1 0h4m-3 0h4m-16 1h4m-3 0h4m3 0h4m-12 1h4m-3 0h4m1 0h4m-2 0h4m4 0h4m-21 1h4m9 0h4m-3 0h4m-16 1h4m-2 0h4m-1 0h4m-3 0h4m-2 0h4m4 0h4m-30 1h4m0 0h4m2 0h4m2 0h4m-3 0h4m-2 0h4m-3 0h4m-27 1h4m-3 0h4m8 0h4m0 0h4m4 0h4m-19 1h4m-2 0h4m0 0h4m1 0h4m-3 0h4m-2 0h4m-2 0h4m-23 1h4m1 0h4m1 0h4m2 0h4m0 0h4m-26 1h4m-3 0h4m-3 0h4m3 0h4m-3 0h4m-14 1h4m-1 0h4m0 0h4m2 0h4m8 1h4m-26 1h4m-1 0h4m-2 0h4m-3 0h4m2 0h4m0 0h4m-1 0h4m-32 1h4m11 0h4m-9 1h4m4 0h4m-2 0h4m1 0h4m9 0h4m-27 1h4m-1 0h4m10 0h4m-21 1h4m1 0h4m3 0h4m5 0h4m-33 1h4m6 0h4m-6 1h4m7 0h4m5 0h4m-17 1h4m-3 0h4m3 0h4m-33 1h4m6 0h4m7 0h4m4 0h4m-21 1h4m-3 1h4m-2 1h4m-2 0h4m-1 0h4m-2 1h4m-25 1h4m3 1h4m2 0h4m-2 0h4m-11 2h4m1 1h4m10 0h4m-13 1h4m-18 1h4m20 1h4m-28 2h4m22 0h4m-27 1h4m1 0h4m3 0h4m-3 1h4m-8 1h4m14 2h4m-30 1h4m19 1h4m-17 3h4m-22 2h4m0 1h4m6 0h4m-8 4h4m1 2h4m-12 7h4m4 5h4m-3 4h4" stroke="#000" stroke-width="4" fill="none" filter="url(#bl)"/>
<path transform="scale(.2)" d="M0 0m513 1752h3m-6 9h3m-13 6h3m-2 5h3m-48 3h3m36 5h3m2 1h3m-3 3h3m-26 1h3m-10 4h3m-2 1h3m46 0h3m27 2h3m-37 2h3m-48 2h3m11 0h3m12 3h3m8 0h3m-44 2h3m5 0h3m25 0h3m-34 2h3m-6 1h3m10 0h3m-47 1h3m36 0h3m-8 1h3m22 1h3m-53 2h3m41 0h3m33 0h3m-69 1h3m1 0h3m30 0h3m-8 1h3m-9 1h3m-24 2h3m1 0h3m3 0h3m-37 1h3m48 0h3m-20 1h3m13 0h3m9 0h3m46 0h3m-89 1h3m4 0h3m3 0h3m10 0h3m8 0h3m-37 1h3m-7 1h3m5 0h3m13 0h3m-2 0h3m0 0h3m-40 1h3m13 0h3m21 0h3m2 0h3m-66 1h3m53 0h3m-43 1h3m-8 1h3m9 0h3m6 0h3m21 0h3m24 0h3m-79 1h3m14 0h3m5 0h3m24 0h3m18 0h3m-56 1h3m17 0h3m47 0h3m-92 1h3m11 0h3m10 0h3m10 0h3m3 0h3m3 0h3m2 0h3m-1 0h3m0 0h3m-62 1h3m6 0h3m26 0h3m5 0h3m7 0h3m16 0h3m-66 1h3m19 0h3m0 0h3m0 0h3m-56 1h3m12 0h3m6 0h3m19 0h3m1 0h3m-1 0h3m-2 0h3m9 0h3m-60 1h3m12 0h3m14 0h3m0 0h3m17 0h3m-1 0h3m-66 1h3m22 0h3m-1 0h3m2 0h3m-2 0h3m8 0h3m24 0h3m-55 1h3m1 0h3m44 0h3m0 0h3m-2 0h3m-70 1h3m18 0h3m6 0h3m4 0h3m11 0h3m-2 0h3m15 0h3m-76 1h3m12 0h3m14 0h3m14 0h3m5 0h3m-1 0h3m-97 1h3m44 0h3m-8 1h3m10 0h3m0 0h3m19 0h3m7 0h3m-46 1h3m4 0h3m8 0h3m18 0h3m-2 0h3m-2 0h3m-56 1h3m6 0h3m-2 0h3m5 0h3m35 0h3m8 0h3m12 0h3m-74 1h3m9 0h3m-1 0h3m-1 0h3m-2 0h3m5 0h3m13 0h3m22 0h3m-89 1h3m28 0h3m44 0h3m-54 1h3m20 0h3m6 0h3m-52 1h3m14 0h3m11 0h3m3 0h3m23 0h3m4 0h3m-2 0h3m2 0h3m-64 1h3m5 0h3m14 0h3m15 0h3m-58 1h3m3 0h3m25 0h3m8 0h3m4 0h3m-41 1h3m0 0h3m17 0h3m5 0h3m2 0h3m7 0h3m-78 1h3m15 0h3m25 0h3m-2 0h3m-2 0h3m3 0h3m5 0h3m0 0h3m3 0h3m-2 0h3m-1 0h3m-2 0h3m-82 1h3m13 0h3m11 0h3m13 0h3m-1 0h3m4 0h3m8 0h3m2 0h3m-1 0h3m16 0h3m-113 1h3m51 0h3m14 0h3m11 0h3m20 0h3m-1 0h3m-85 1h3m18 0h3m0 0h3m9 0h3m-1 0h3m1 0h3m-36 1h3m2 0h3m13 0h3m-1 0h3m-2 0h3m4 0h3m0 0h3m25 0h3m-84 1h3m12 0h3m7 0h3m0 0h3m-2 0h3m3 0h3m1 0h3m0 0h3m7 0h3m-2 0h3m-2 0h3m8 0h3m-1 0h3m-1 0h3m-75 1h3m13 0h3m0 0h3m1 0h3m1 0h3m14 0h3m-1 0h3m4 0h3m-2 0h3m-1 0h3m0 0h3m3 0h3m-1 0h3m12 0h3m-71 1h3m0 0h3m13 0h3m4 0h3m-2 0h3m-1 0h3m1 0h3m1 0h3m14 0h3m1 0h3m-2 0h3m-72 1h3m14 0h3m0 0h3m1 0h3m9 0h3m0 0h3m3 0h3m6 0h3m3 0h3m11 0h3m1 0h3m-61 1h3m19 0h3m13 0h3m7 0h3m3 0h3m6 0h3m0 0h3m-81 1h3m7 0h3m-2 0h3m0 0h3m5 0h3m6 0h3m-2 0h3m3 0h3m5 0h3m-2 0h3m5 0h3m-2 0h3m4 0h3m-64 1h3m8 0h3m-2 0h3m0 0h3m-2 0h3m0 0h3m11 0h3m-1 0h3m10 0h3m0 0h3m-81 1h3m23 0h3m-1 0h3m1 0h3m4 0h3m-2 0h3m9 0h3m4 0h3m11 0h3m2 0h3m18 0h3m-104 1h3m17 0h3m2 0h3m4 0h3m3 0h3m0 0h3m11 0h3m16 0h3m4 0h3m3 0h3m-73 1h3m19 0h3m3 0h3m23 0h3m11 0h3m3 0h3m-74 1h3m2 0h3m13 0h3m3 0h3m1 0h3m4 0h3m5 0h3m0 0h3m5 0h3m-2 0h3m-60 1h3m2 0h3m2 0h3m-1 0h3m0 0h3m3 0h3m3 0h3m12 0h3m-2 0h3m-2 0h3m11 0h3m3 0h3m-2 0h3m14 0h3m-2 0h3m-99 1h3m13 0h3m11 0h3m4 0h3m-1 0h3m3 0h3m-1 0h3m4 0h3m3 0h3m0 0h3m0 0h3m2 0h3m4 0h3m-2 0h3m5 0h3m1 0h3m3 0h3m1 0h3m-111 1h3m25 0h3m8 0h3m-1 0h3m23 0h3m9 0h3m0 0h3m-1 0h3m5 0h3m-1 0h3m4 0h3m-97 1h3m21 0h3m1 0h3m5 0h3m1 0h3m7 0h3m7 0h3m1 0h3m9 0h3m-2 0h3m1 0h3m-67 1h3m11 0h3m2 0h3m1 0h3m5 0h3m2 0h3m0 0h3m13 0h3m0 0h3m0 0h3m3 0h3m-97 1h3m28 0h3m0 0h3m5 0h3m4 0h3m-1 0h3m-1 0h3m9 0h3m-2 0h3m3 0h3m-2 0h3m-2 0h3m-1 0h3m4 0h3m6 0h3m1 0h3m-68 1h3m-1 0h3m2 0h3m1 0h3m-2 0h3m4 0h3m-1 0h3m4 0h3m0 0h3m7 0h3m-2 0h3m11 0h3m0 0h3m9 0h3m3 0h3m-92 1h3m21 0h3m8 0h3m5 0h3m2 0h3m10 0h3m-2 0h3m0 0h3m0 0h3m3 0h3m-75 1h3m15 0h3m-1 0h3m3 0h3m0 0h3m2 0h3m6 0h3m0 0h3m-2 0h3m0 0h3m3 0h3m-64 1h3m15 0h3m14 0h3m3 0h3m4 0h3m2 0h3m2 0h3m5 0h3m8 0h3m-81 1h3m3 0h3m14 0h3m6 0h3m0 0h3m9 0h3m-2 0h3m17 0h3m5 0h3m-68 1h3m8 0h3m1 0h3m-1 0h3m3 0h3m0 0h3m-1 0h3m-2 0h3m-1 0h3m-1 0h3m-2 0h3m0 0h3m26 0h3m-1 0h3m6 0h3m-83 1h3m8 0h3m0 0h3m0 0h3m9 0h3m8 0h3m-2 0h3m-1 0h3m3 0h3m1 0h3m-2 0h3m-70 1h3m13 0h3m14 0h3m9 0h3m-2 0h3m0 0h3m8 0h3m0 0h3m0 0h3m-2 0h3m10 0h3m-56 1h3m1 0h3m8 0h3m13 0h3m0 0h3m-1 0h3m10 0h3m28 0h3m-105 1h3m24 0h3m7 0h3m0 0h3m1 0h3m4 0h3m-2 0h3m12 0h3m7 0h3m8 0h3m-91 1h3m0 0h3m5 0h3m1 0h3m2 0h3m6 0h3m2 0h3m-2 0h3m-1 0h3m3 0h3m-1 0h3m18 0h3m10 0h3m-75 1h3m-1 0h3m6 0h3m-2 0h3m-2 0h3m0 0h3m0 0h3m1 0h3m-1 0h3m2 0h3m-2 0h3m-1 0h3m12 0h3m4 0h3m6 0h3m3 0h3m-100 1h3m21 0h3m4 0h3m2 0h3m5 0h3m3 0h3m4 0h3m7 0h3m0 0h3m12 0h3m6 0h3m-41 1h3m-2 0h3m6 0h3m11 0h3m13 0h3m-81 1h3m10 0h3m1 0h3m-1 0h3m3 0h3m-1 0h3m3 0h3m-1 0h3m0 0h3m2 0h3m5 0h3m-56 1h3m36 0h3m-2 0h3m-1 0h3m2 0h3m-2 0h3m1 0h3m2 0h3m5 0h3m-1 0h3m-2 0h3m0 0h3m1 0h3m21 0h3m-117 1h3m19 0h3m-2 0h3m6 0h3m-1 0h3m1 0h3m0 0h3m9 0h3m12 0h3m3 0h3m5 0h3m6 0h3m9 0h3m-92 1h3m16 0h3m-2 0h3m0 0h3m-2 0h3m6 0h3m-2 0h3m-2 0h3m-2 0h3m9 0h3m-1 0h3m-2 0h3m17 0h3m14 0h3m-105 1h3m15 0h3m8 0h3m14 0h3m-1 0h3m2 0h3m-1 0h3m2 0h3m0 0h3m-1 0h3m2 0h3m-2 0h3m0 0h3m3 0h3m4 0h3m-63 1h3m-1 0h3m4 0h3m5 0h3m4 0h3m-1 0h3m1 0h3m1 0h3m-1 0h3m-2 0h3m15 0h3m-74 1h3m23 0h3m3 0h3m1 0h3m5 0h3m7 0h3m0 0h3m-1 0h3m3 0h3m1 0h3m-1 0h3m15 0h3m-105 1h3m15 0h3m15 0h3m-2 0h3m16 0h3m2 0h3m6 0h3m17 0h3m2 0h3m-81 1h3m19 0h3m24 0h3m-2 0h3m3 0h3m-2 0h3m6 0h3m16 0h3m-69 1h3m16 0h3m-2 0h3m-1 0h3m5 0h3m1 0h3m-1 0h3m-2 0h3m-2 0h3m1 0h3m0 0h3m-1 0h3m-77 1h3m7 0h3m1 0h3m2 0h3m4 0h3m3 0h3m-1 0h3m0 0h3m0 0h3m2 0h3m-1 0h3m-2 0h3m0 0h3m1 0h3m0 0h3m9 0h3m12 0h3m1 0h3m-88 1h3m12 0h3m2 0h3m15 0h3m6 0h3m-2 0h3m0 0h3m-2 0h3m0 0h3m7 0h3m-1 0h3m6 0h3m6 0h3m-2 0h3m-2 0h3m-87 1h3m13 0h3m1 0h3m7 0h3m8 0h3m-2 0h3m1 0h3m-1 0h3m-1 0h3m-1 0h3m6 0h3m-1 0h3m4 0h3m-85 1h3m25 0h3m-1 0h3m13 0h3m6 0h3m-2 0h3m30 0h3m-85 1h3m-2 0h3m-1 0h3m7 0h3m1 0h3m14 0h3m4 0h3m3 0h3m-2 0h3m-1 0h3m0 0h3m3 0h3m-1 0h3m1 0h3m-69 1h3m14 0h3m2 0h3m6 0h3m-1 0h3m1 0h3m7 0h3m3 0h3m0 0h3m-2 0h3m-2 0h3m0 0h3m-1 0h3m27 0h3m-96 1h3m0 0h3m9 0h3m-2 0h3m3 0h3m5 0h3m6 0h3m-2 0h3m0 0h3m-2 0h3m-1 0h3m4 0h3m10 0h3m0 0h3m-2 0h3m8 0h3m-1 0h3m4 0h3m-88 1h3m4 0h3m2 0h3m21 0h3m6 0h3m-2 0h3m4 0h3m11 0h3m-2 0h3m30 0h3m7 0h3m-89 1h3m7 0h3m-2 0h3m15 0h3m5 0h3m0 0h3m5 0h3m-63 1h3m2 0h3m-2 0h3m5 0h3m-2 0h3m2 0h3m3 0h3m1 0h3m12 0h3m1 0h3m7 0h3m-69 1h3m10 0h3m3 0h3m2 0h3m-2 0h3m1 0h3m6 0h3m6 0h3m-2 0h3m-2 0h3m3 0h3m1 0h3m5 0h3m8 0h3m18 0h3m-77 1h3m0 0h3m3 0h3m-2 0h3m0 0h3m0 0h3m1 0h3m3 0h3m-2 0h3m0 0h3m11 0h3m7 0h3m-93 1h3m3 0h3m16 0h3m9 0h3m2 0h3m4 0h3m-2 0h3m21 0h3m3 0h3m3 0h3m3 0h3m0 0h3m-81 1h3m4 0h3m2 0h3m-1 0h3m4 0h3m6 0h3m3 0h3m0 0h3m17 0h3m6 0h3m17 0h3m-99 1h3m13 0h3m-1 0h3m-2 0h3m3 0h3m3 0h3m7 0h3m0 0h3m-2 0h3m9 0h3m-2 0h3m26 0h3m-2 0h3m-86 1h3m7 0h3m-1 0h3m11 0h3m-2 0h3m0 0h3m-53 1h3m14 0h3m23 0h3m1 0h3m1 0h3m5 0h3m-2 0h3m-65 1h3m6 0h3m26 0h3m12 0h3m-2 0h3m3 0h3m0 0h3m2 0h3m4 0h3m-91 1h3m36 0h3m2 0h3m-2 0h3m5 0h3m4 0h3m-1 0h3m3 0h3m0 0h3m7 0h3m-1 0h3m-1 0h3m-1 0h3m26 0h3m-90 1h3m13 0h3m-2 0h3m2 0h3m4 0h3m8 0h3m8 0h3m17 0h3m16 0h3m-125 1h3m0 0h3m54 0h3m3 0h3m9 0h3m-1 0h3m-1 0h3m14 0h3m-74 1h3m21 0h3m-1 0h3m10 0h3m6 0h3m2 0h3m1 0h3m0 0h3m1 0h3m-2 0h3m3 0h3m-88 1h3m33 0h3m8 0h3m-1 0h3m2 0h3m20 0h3m2 0h3m-34 1h3m-2 0h3m0 0h3m1 0h3m-2 0h3m5 0h3m10 0h3m-55 1h3m1 0h3m-2 0h3m7 0h3m2 0h3m27 0h3m5 0h3m32 0h3m-132 1h3m21 0h3m13 0h3m11 0h3m4 0h3m2 0h3m13 0h3m0 0h3m6 0h3m-1 0h3m-76 1h3m-2 0h3m14 0h3m7 0h3m8 0h3m21 0h3m7 0h3m-85 1h3m5 0h3m4 0h3m-1 0h3m2 0h3m-1 0h3m12 0h3m7 0h3m3 0h3m3 0h3m-43 1h3m9 0h3m-1 0h3m1 0h3m2 0h3m0 0h3m-2 0h3m-2 0h3m-2 0h3m26 0h3m-67 1h3m11 0h3m6 0h3m2 0h3m-2 0h3m4 0h3m-1 0h3m2 0h3m0 0h3m-2 0h3m7 0h3m1 0h3m10 0h3m-68 1h3m1 0h3m1 0h3m2 0h3m3 0h3m0 0h3m7 0h3m-1 0h3m5 0h3m-47 1h3m17 0h3m-2 0h3m14 0h3m16 0h3m-50 1h3m4 0h3m-2 0h3m7 0h3m17 0h3m1 0h3m-73 1h3m9 0h3m18 0h3m-2 0h3m2 0h3m2 0h3m-2 0h3m-1 0h3m-1 0h3m8 0h3m3 0h3m8 0h3m2 0h3m-95 1h3m26 0h3m43 0h3m9 0h3m-72 1h3m20 0h3m-9 1h3m0 0h3m6 0h3m4 0h3m-2 0h3m4 0h3m1 0h3m3 0h3m-57 1h3m14 0h3m-2 0h3m3 0h3m-31 1h3m0 0h3m15 0h3m5 0h3m10 0h3m8 0h3m16 0h3m-59 1h3m7 0h3m3 0h3m25 0h3m6 0h3m-103 1h3m35 0h3m-1 0h3m1 0h3m3 0h3m9 0h3m-2 0h3m3 0h3m-2 0h3m2 0h3m14 0h3m6 0h3m7 0h3m-106 1h3m16 0h3m24 0h3m0 0h3m-2 0h3m-11 1h3m3 0h3m-15 1h3m19 0h3m10 0h3m11 0h3m-80 1h3m2 0h3m15 0h3m15 0h3m2 0h3m24 0h3m4 0h3m-72 1h3m4 0h3m0 0h3m-2 0h3m10 0h3m8 0h3m15 0h3m0 0h3m-47 1h3m16 0h3m1 0h3m-2 0h3m-2 0h3m-1 0h3m4 0h3m-46 1h3m14 0h3m-2 0h3m-2 0h3m4 0h3m-1 0h3m-2 0h3m23 0h3m20 0h3m-75 1h3m36 0h3m8 0h3m-75 1h3m8 0h3m5 0h3m2 0h3m2 0h3m39 0h3m-63 1h3m22 0h3m3 0h3m15 0h3m-15 1h3m40 0h3m11 0h3m-87 1h3m-2 0h3m16 1h3m11 0h3m-22 1h3m-2 0h3m9 0h3m-43 1h3m16 0h3m10 0h3m0 0h3m22 0h3m-57 1h3m9 0h3m19 0h3m1 0h3m24 0h3m-110 1h3m10 0h3m40 0h3m5 0h3m5 0h3m11 0h3m6 0h3m-36 1h3m38 0h3m-74 1h3m24 0h3m44 0h3m-60 1h3m3 0h3m9 0h3m-2 0h3m2 0h3m-1 0h3m61 0h3m-82 1h3m22 0h3m-39 1h3m0 0h3m34 0h3m-33 1h3m-1 0h3m7 0h3m9 0h3m2 0h3m-87 1h3m45 0h3m14 0h3m1 0h3m-9 2h3m0 0h3m-15 1h3m-14 1h3m-4 2h3m15 0h3m4 0h3m-6 1h3m5 0h3m8 0h3m-39 3h3m1 0h3m4 0h3m5 2h3m-26 1h3m44 0h3m-31 2h3m-42 2h3m45 0h3m25 0h3m-52 1h3m20 0h3m7 6h3m3 1h3m-17 4h3m-56 1h3m38 1h3m-5 1h3" stroke="#222" stroke-width="3" fill="none" filter="url(#bl)"/>
<path transform="scale(.2)" d="M0 0m370 1829h3m13 18h3m-35 1h3m7 8h3m16 7h3m-27 3h3m-25 5h3m18 0h3m0 5h3m1 3h3m3 0h3m6 1h3m15 3h3m-18 2h3m-20 3h3m13 1h3m-45 6h3m4 0h3m7 0h3m6 3h3m1 0h3m-16 4h3m5 0h3m4 0h3m18 0h3m-31 1h3m-36 1h3m40 3h3m0 2h3m9 1h3m-17 1h3m-2 0h3m-43 1h3m10 0h3m38 1h3m-18 1h3m-34 1h3m44 0h3m-23 4h3m-14 1h3m8 1h3m-42 2h3m11 0h3m-2 0h3m1 0h3m1 2h3m8 2h3m39 0h3m-48 2h3m14 1h3m11 0h3m-46 4h3m-22 1h3m38 0h3m7 1h3m-21 1h3m2 2h3m24 0h3m15 1h3m-88 3h3m13 0h3m15 0h3m-20 1h3m41 0h3m-30 1h3m4 0h3m32 1h3m0 1h3m-64 1h3m1 0h3m41 3h3m-64 2h3m6 0h3m6 0h3m17 0h3m-38 2h3m11 1h3m20 1h3m-31 3h3m59 4h3m-65 1h3m23 0h3m-10 1h3m-24 3h3m19 4h3m-9 1h3m-31 1h3m6 4h3m19 2h3m33 1h3m-67 1h3m16 1h3m27 0h3m-47 1h3" stroke="#8890a8" stroke-width="3" fill="none" filter="url(#bl)"/>
<path transform="scale(.2)" d="M0 0m339 1985h3m24 0h3m2 0h3m58 0h3m41 0h3m1 0h3m2 0h3m38 0h3m25 0h3m7 0h3m-1 0h3m6 0h3m-242 1h3m-2 0h3m0 0h3m21 0h3m47 0h3m0 0h3m49 0h3m26 0h3m13 0h3m14 0h3m14 0h3m11 0h3m7 0h3m16 0h3m3 0h3m-242 1h3m12 0h3m10 0h3m19 0h3m4 0h3m38 0h3m21 0h3m17 0h3m14 0h3m21 0h3m2 0h3m11 0h3m-2 0h3m4 0h3m-2 0h3m26 0h3m-242 1h3m21 0h3m16 0h3m9 0h3m7 0h3m7 0h3m51 0h3m9 0h3m2 0h3m3 0h3m11 0h3m13 0h3m20 0h3m11 0h3" stroke="#666" stroke-width="3" fill="none" filter="url(#bl)"/>
<line x1="80.8" y1="342.4" x2="80.8" y2="398.3" stroke="#8080c0" stroke-width="0.6"/>
<rect x="65.20" y="342.40" width="57.10" height="55.90" fill="none" stroke="#9a9a9a" stroke-width="0.7"/>
<text x="63.6" y="347.0" font-size="3.2" font-family="Liberation Sans" text-anchor="end" fill="#444" textLength="7.8" lengthAdjust="spacingAndGlyphs">250K</text>
<text x="63.6" y="357.48" font-size="3.2" font-family="Liberation Sans" text-anchor="end" fill="#444" textLength="7.8" lengthAdjust="spacingAndGlyphs">200K</text>
<text x="63.6" y="367.96000000000004" font-size="3.2" font-family="Liberation Sans" text-anchor="end" fill="#444" textLength="7.8" lengthAdjust="spacingAndGlyphs">150K</text>
<text x="63.6" y="378.44" font-size="3.2" font-family="Liberation Sans" text-anchor="end" fill="#444" textLength="7.8" lengthAdjust="spacingAndGlyphs">100K</text>
<text x="63.6" y="388.92" font-size="3.2" font-family="Liberation Sans" text-anchor="end" fill="#444" textLength="6" lengthAdjust="spacingAndGlyphs">50K</text>
<text x="63.6" y="399.40000000000003" font-size="3.2" font-family="Liberation Sans" text-anchor="end" fill="#444">0</text>
<text x="72" y="402.90000000000003" font-size="3.6" font-family="Liberation Sans" text-anchor="middle" fill="#333">0</text>
<text x="76.7" y="402.90000000000003" font-size="3.6" font-family="Liberation Sans" fill="#333">10<tspan dy="-1.3" font-size="2.6">2</tspan></text>
<text x="89.0" y="402.90000000000003" font-size="3.6" font-family="Liberation Sans" fill="#333">10<tspan dy="-1.3" font-size="2.6">3</tspan></text>
<text x="102.39999999999999" y="402.90000000000003" font-size="3.6" font-family="Liberation Sans" fill="#333">10<tspan dy="-1.3" font-size="2.6">4</tspan></text>
<text x="114.1" y="402.90000000000003" font-size="3.6" font-family="Liberation Sans" fill="#333">10<tspan dy="-1.3" font-size="2.6">5</tspan></text>
<text x="66.2" y="346.79999999999995" font-size="3.4" font-family="Liberation Sans" font-weight="bold" fill="#222">4.04</text>
<path transform="scale(.2)" d="M0 0m425 2231h4m35 2h4m-23 2h4m9 0h4m23 1h4m-21 4h4m11 2h4m-43 1h4m40 0h4m-47 1h4m1 0h4m0 0h4m6 2h4m-6 1h4m-3 0h4m15 0h4m-57 1h4m11 0h4m16 0h4m-3 0h4m9 0h4m-39 1h4m-3 0h4m0 0h4m1 0h4m4 0h4m-3 0h4m-31 1h4m-3 0h4m3 0h4m8 0h4m15 0h4m-3 0h4m2 0h4m-68 1h4m14 0h4m-3 0h4m-2 0h4m17 0h4m9 0h4m-59 1h4m6 0h4m11 0h4m12 0h4m-3 0h4m-25 1h4m18 0h4m8 0h4m12 0h4m-54 1h4m3 0h4m-1 0h4m-3 0h4m15 0h4m11 0h4m-41 1h4m-1 0h4m2 0h4m-1 0h4m15 0h4m-64 1h4m10 0h4m26 0h4m4 0h4m-24 1h4m-2 0h4m0 0h4m-3 0h4m1 0h4m2 0h4m4 0h4m-3 0h4m7 0h4m5 0h4m-75 1h4m-3 0h4m-2 0h4m13 0h4m-2 0h4m9 0h4m-2 0h4m9 0h4m-43 1h4m0 0h4m0 0h4m-2 0h4m-3 0h4m-1 0h4m1 0h4m12 0h4m3 0h4m19 0h4m-99 1h4m8 0h4m1 0h4m0 0h4m6 0h4m0 0h4m1 0h4m24 0h4m-1 0h4m21 0h4m-71 1h4m26 0h4m0 0h4m-3 0h4m15 0h4m-59 1h4m1 0h4m-1 0h4m6 0h4m-3 0h4m-3 0h4m0 0h4m5 0h4m6 0h4m-3 0h4m-45 1h4m-3 0h4m4 0h4m6 0h4m1 0h4m5 0h4m-3 0h4m-56 1h4m-1 0h4m4 0h4m4 0h4m3 0h4m1 0h4m-3 0h4m11 0h4m-3 0h4m0 0h4m8 0h4m4 0h4m8 0h4m-103 1h4m10 0h4m1 0h4m1 0h4m9 0h4m2 0h4m-1 0h4m-3 0h4m4 0h4m-3 0h4m5 0h4m-1 0h4m41 0h4m-82 1h4m-3 0h4m4 0h4m-2 0h4m-3 0h4m-2 0h4m-2 0h4m-2 0h4m-2 0h4m-1 0h4m0 0h4m8 0h4m4 0h4m5 0h4m-64 1h4m-2 0h4m-3 0h4m-2 0h4m2 0h4m-2 0h4m9 0h4m1 0h4m-2 0h4m2 0h4m-55 1h4m-3 0h4m3 0h4m-3 0h4m-1 0h4m-3 0h4m-1 0h4m-1 0h4m1 0h4m3 0h4m-2 0h4m1 0h4m-3 0h4m-2 0h4m-3 0h4m-3 0h4m-3 0h4m1 0h4m3 0h4m16 0h4m3 0h4m-114 1h4m-1 0h4m25 0h4m-3 0h4m5 0h4m0 0h4m2 0h4m-3 0h4m4 0h4m2 0h4m-1 0h4m3 0h4m15 0h4m19 0h4m-106 1h4m10 0h4m0 0h4m3 0h4m-2 0h4m-3 0h4m-3 0h4m12 0h4m5 0h4m-3 0h4m7 0h4m-2 0h4m2 0h4m5 0h4m-81 1h4m2 0h4m13 0h4m-3 0h4m-3 0h4m-1 0h4m-1 0h4m-3 0h4m-3 0h4m-2 0h4m-3 0h4m-3 0h4m-3 0h4m-2 0h4m3 0h4m-3 0h4m-1 0h4m7 0h4m-88 1h4m12 0h4m3 0h4m6 0h4m-2 0h4m-3 0h4m-2 0h4m-2 0h4m-2 0h4m-2 0h4m-2 0h4m2 0h4m2 0h4m-3 0h4m-3 0h4m-1 0h4m1 0h4m2 0h4m-1 0h4m-3 0h4m-2 0h4m-68 1h4m21 0h4m3 0h4m-1 0h4m0 0h4m4 0h4m13 0h4m0 0h4m-66 1h4m-1 0h4m1 0h4m8 0h4m-2 0h4m-3 0h4m-3 0h4m-1 0h4m-3 0h4m0 0h4m-3 0h4m-1 0h4m-1 0h4m-1 0h4m-3 0h4m-2 0h4m-2 0h4m5 0h4m8 0h4m0 0h4m2 0h4m-81 1h4m3 0h4m0 0h4m-1 0h4m1 0h4m-3 0h4m1 0h4m-1 0h4m-2 0h4m-1 0h4m-2 0h4m2 0h4m-2 0h4m-2 0h4m1 0h4m-2 0h4m-3 0h4m-2 0h4m0 0h4m4 0h4m-69 1h4m-3 0h4m-2 0h4m9 0h4m-3 0h4m-2 0h4m-2 0h4m-2 0h4m-1 0h4m3 0h4m2 0h4m0 0h4m-2 0h4m-3 0h4m12 0h4m6 0h4m1 0h4m-104 1h4m8 0h4m4 0h4m5 0h4m-1 0h4m-3 0h4m1 0h4m-2 0h4m-1 0h4m0 0h4m-3 0h4m-1 0h4m-3 0h4m0 0h4m1 0h4m-2 0h4m-3 0h4m10 0h4m8 0h4m2 0h4m-81 1h4m-1 0h4m-2 0h4m4 0h4m-2 0h4m-2 0h4m-1 0h4m0 0h4m6 0h4m2 0h4m-3 0h4m-3 0h4m2 0h4m-2 0h4m0 0h4m9 0h4m0 0h4m10 0h4m-96 1h4m10 0h4m2 0h4m-2 0h4m0 0h4m-2 0h4m-3 0h4m-3 0h4m2 0h4m-3 0h4m-2 0h4m-3 0h4m-1 0h4m-3 0h4m-3 0h4m-3 0h4m-2 0h4m-3 0h4m0 0h4m-3 0h4m-3 0h4m0 0h4m-3 0h4m7 0h4m3 0h4m-100 1h4m10 0h4m4 0h4m6 0h4m-1 0h4m4 0h4m-3 0h4m1 0h4m-3 0h4m2 0h4m0 0h4m-2 0h4m-2 0h4m3 0h4m-1 0h4m0 0h4m-2 0h4m2 0h4m-3 0h4m3 0h4m-72 1h4m3 0h4m-3 0h4m0 0h4m-1 0h4m0 0h4m2 0h4m-1 0h4m1 0h4m-3 0h4m-2 0h4m-1 0h4m-3 0h4m2 0h4m-3 0h4m3 0h4m0 0h4m-3 0h4m-72 1h4m-1 0h4m7 0h4m-3 0h4m-3 0h4m-2 0h4m-3 0h4m0 0h4m5 0h4m-3 0h4m0 0h4m4 0h4m2 0h4m-2 0h4m-1 0h4m-2 0h4m-1 0h4m-1 0h4m-1 0h4m-2 0h4m-78 1h4m16 0h4m-3 0h4m-3 0h4m-3 0h4m1 0h4m-2 0h4m-2 0h4m1 0h4m-1 0h4m5 0h4m13 0h4m5 0h4m1 0h4m7 0h4m-74 1h4m-2 0h4m-2 0h4m3 0h4m7 0h4m0 0h4m-3 0h4m2 0h4m-3 0h4m-2 0h4m-3 0h4m-3 0h4m-2 0h4m-3 0h4m-1 0h4m-3 0h4m-2 0h4m-65 1h4m0 0h4m10 0h4m-2 0h4m1 0h4m-1 0h4m0 0h4m0 0h4m-2 0h4m-3 0h4m1 0h4m-3 0h4m-2 0h4m-3 0h4m0 0h4m-1 0h4m-1 0h4m-3 0h4m-61 1h4m4 0h4m-2 0h4m0 0h4m-2 0h4m11 0h4m2 0h4m0 0h4m-3 0h4m-3 0h4m-3 0h4m-1 0h4m-1 0h4m-1 0h4m-1 0h4m-2 0h4m0 0h4m-2 0h4m-2 0h4m-1 0h4m-71 1h4m3 0h4m6 0h4m-2 0h4m3 0h4m-2 0h4m-3 0h4m-2 0h4m-3 0h4m3 0h4m-3 0h4m-3 0h4m-1 0h4m1 0h4m12 0h4m1 0h4m4 0h4m-67 1h4m3 0h4m-3 0h4m6 0h4m-1 0h4m-1 0h4m5 0h4m0 0h4m-3 0h4m-2 0h4m-1 0h4m3 0h4m0 0h4m-3 0h4m-70 1h4m5 0h4m-3 0h4m-3 0h4m-2 0h4m-2 0h4m-1 0h4m-2 0h4m-2 0h4m-2 0h4m7 0h4m4 0h4m-2 0h4m-1 0h4m-1 0h4m2 0h4m13 0h4m-104 1h4m11 0h4m8 0h4m-3 0h4m3 0h4m-2 0h4m0 0h4m-2 0h4m0 0h4m-2 0h4m-2 0h4m-2 0h4m-3 0h4m0 0h4m-3 0h4m1 0h4m3 0h4m-2 0h4m1 0h4m-3 0h4m0 0h4m-68 1h4m8 0h4m-3 0h4m8 0h4m-2 0h4m-1 0h4m-1 0h4m3 0h4m-3 0h4m-2 0h4m-1 0h4m-3 0h4m-3 0h4m6 0h4m-2 0h4m1 0h4m-3 0h4m1 0h4m-3 0h4m-67 1h4m9 0h4m3 0h4m-2 0h4m-3 0h4m-2 0h4m-3 0h4m-2 0h4m0 0h4m1 0h4m-3 0h4m-3 0h4m5 0h4m0 0h4m-2 0h4m12 0h4m-85 1h4m2 0h4m11 0h4m-2 0h4m5 0h4m-2 0h4m-3 0h4m-3 0h4m1 0h4m-1 0h4m0 0h4m-1 0h4m4 0h4m-3 0h4m2 0h4m9 0h4m-93 1h4m21 0h4m-2 0h4m0 0h4m7 0h4m-3 0h4m3 0h4m5 0h4m0 0h4m10 0h4m1 0h4m-68 1h4m15 0h4m11 0h4m-2 0h4m3 0h4m0 0h4m-1 0h4m9 0h4m-88 1h4m25 0h4m-2 0h4m1 0h4m-2 0h4m-3 0h4m1 0h4m0 0h4m4 0h4m9 0h4m-2 0h4m-2 0h4m-2 0h4m13 0h4m8 0h4m-90 1h4m-1 0h4m6 0h4m7 0h4m0 0h4m7 0h4m0 0h4m3 0h4m0 0h4m-3 0h4m-2 0h4m1 0h4m-64 1h4m8 0h4m2 0h4m-1 0h4m9 0h4m-3 0h4m-3 0h4m1 0h4m0 0h4m4 0h4m-1 0h4m-3 0h4m-2 0h4m-1 0h4m2 0h4m-2 0h4m-3 0h4m-67 1h4m14 0h4m-2 0h4m12 0h4m-3 0h4m3 0h4m-3 0h4m9 0h4m2 0h4m-77 1h4m-1 0h4m2 0h4m9 0h4m4 0h4m-3 0h4m0 0h4m20 0h4m12 0h4m-69 1h4m-2 0h4m2 0h4m1 0h4m6 0h4m-3 0h4m-1 0h4m-3 0h4m-3 0h4m-2 0h4m-2 0h4m-1 0h4m-3 0h4m3 0h4m0 0h4m-2 0h4m3 0h4m-63 1h4m13 0h4m2 0h4m-3 0h4m-2 0h4m-2 0h4m6 0h4m-1 0h4m9 0h4m1 0h4m-71 1h4m2 0h4m17 0h4m4 0h4m-3 0h4m-3 0h4m6 0h4m10 0h4m-42 1h4m8 0h4m1 0h4m15 0h4m8 0h4m-62 1h4m1 0h4m15 0h4m-1 0h4m-3 0h4m7 0h4m-41 1h4m-3 0h4m-3 0h4m20 0h4m-1 0h4m3 0h4m-74 1h4m23 0h4m18 0h4m11 0h4m-2 0h4m11 0h4m-65 1h4m25 0h4m5 0h4m5 0h4m-3 0h4m-31 1h4m5 0h4m-1 0h4m41 0h4m-92 1h4m17 0h4m13 0h4m-17 1h4m3 0h4m-1 0h4m9 0h4m24 0h4m-47 1h4m1 0h4m20 1h4m-2 3h4m-36 1h4" stroke="#000" stroke-width="4" fill="none" filter="url(#bl)"/>
<path transform="scale(.2)" d="M0 0m431 2055h3m12 36h3m-4 8h3m-52 5h3m36 6h3m12 3h3m-40 1h3m25 0h3m-27 2h3m-29 2h3m19 1h3m15 1h3m57 7h3m31 0h3m-91 1h3m61 0h3m-98 1h3m13 1h3m-20 1h3m7 0h3m85 2h3m7 0h3m-186 1h3m136 1h3m21 0h3m-57 2h3m10 0h3m65 0h3m-85 1h3m36 0h3m-68 1h3m18 0h3m9 0h3m-78 1h3m68 0h3m11 0h3m6 0h3m-48 1h3m12 0h3m3 0h3m34 0h3m-75 2h3m30 0h3m30 0h3m1 0h3m-72 1h3m18 0h3m1 0h3m2 0h3m6 0h3m2 0h3m4 1h3m5 0h3m21 0h3m-98 1h3m33 0h3m24 0h3m-2 0h3m19 0h3m14 0h3m5 0h3m-69 1h3m-25 1h3m8 0h3m6 0h3m26 0h3m53 0h3m-188 1h3m41 0h3m25 0h3m65 0h3m1 0h3m12 0h3m1 0h3m-2 0h3m-52 1h3m2 0h3m5 0h3m30 0h3m-78 1h3m6 0h3m30 0h3m-1 0h3m20 0h3m-1 0h3m-60 1h3m-2 0h3m62 0h3m-73 1h3m15 0h3m-2 0h3m16 0h3m-53 1h3m29 0h3m-32 1h3m3 0h3m57 0h3m-58 1h3m10 0h3m6 0h3m6 0h3m9 0h3m5 0h3m-2 0h3m-111 1h3m2 0h3m10 0h3m36 0h3m10 0h3m-1 0h3m4 0h3m23 0h3m-114 1h3m27 0h3m43 0h3m-52 1h3m41 0h3m0 0h3m59 0h3m-64 1h3m10 0h3m14 0h3m63 0h3m-136 1h3m25 0h3m28 0h3m-66 1h3m57 0h3m-2 0h3m-1 0h3m-2 0h3m0 0h3m41 0h3m-101 1h3m-2 0h3m-1 0h3m21 0h3m0 0h3m19 0h3m6 0h3m22 0h3m-92 1h3m3 0h3m22 0h3m2 0h3m4 0h3m31 0h3m5 0h3m-70 1h3m3 0h3m5 0h3m21 0h3m17 0h3m-72 1h3m52 0h3m-51 1h3m14 0h3m-61 1h3m21 0h3m16 0h3m9 0h3m30 0h3m-1 0h3m15 0h3m-85 1h3m7 0h3m2 0h3m2 0h3m5 0h3m18 0h3m49 0h3m4 0h3m-139 1h3m14 0h3m46 0h3m11 0h3m2 0h3m39 0h3m-114 1h3m2 0h3m14 0h3m16 0h3m13 0h3m13 0h3m10 0h3m-65 1h3m11 0h3m2 0h3m0 0h3m12 0h3m11 0h3m36 0h3m25 0h3m-149 1h3m2 0h3m6 0h3m24 0h3m24 0h3m1 0h3m15 0h3m-102 1h3m16 0h3m6 0h3m24 0h3m4 0h3m-2 0h3m19 0h3m-2 0h3m-1 0h3m8 0h3m-115 1h3m-1 0h3m24 0h3m8 0h3m5 0h3m17 0h3m0 0h3m30 0h3m-104 1h3m67 0h3m14 0h3m7 0h3m10 0h3m12 0h3m-108 1h3m6 0h3m1 0h3m12 0h3m0 0h3m0 0h3m6 0h3m1 0h3m13 0h3m11 0h3m52 0h3m-114 1h3m0 0h3m12 0h3m13 0h3m-1 0h3m-2 0h3m20 0h3m8 0h3m-120 1h3m1 0h3m32 0h3m0 0h3m3 0h3m3 0h3m14 0h3m-2 0h3m33 0h3m-102 1h3m32 0h3m9 0h3m5 0h3m0 0h3m1 0h3m9 0h3m-1 0h3m1 0h3m6 0h3m14 0h3m70 0h3m-173 1h3m26 0h3m10 0h3m29 0h3m-1 0h3m29 0h3m-119 1h3m13 0h3m3 0h3m0 0h3m11 0h3m9 0h3m4 0h3m2 0h3m8 0h3m12 0h3m0 0h3m-127 1h3m27 0h3m21 0h3m4 0h3m9 0h3m7 0h3m1 0h3m12 0h3m22 0h3m1 0h3m68 0h3m-191 1h3m8 0h3m49 0h3m-1 0h3m-2 0h3m3 0h3m3 0h3m0 0h3m5 0h3m21 0h3m-115 1h3m7 0h3m52 0h3m0 0h3m-2 0h3m3 0h3m-2 0h3m3 0h3m1 0h3m-1 0h3m4 0h3m6 0h3m0 0h3m2 0h3m1 0h3m1 0h3m24 0h3m-107 1h3m7 0h3m14 0h3m18 0h3m5 0h3m1 0h3m-82 1h3m4 0h3m24 0h3m-2 0h3m4 0h3m11 0h3m-1 0h3m6 0h3m4 0h3m13 0h3m12 0h3m3 0h3m-126 1h3m8 0h3m6 0h3m8 0h3m3 0h3m5 0h3m1 0h3m0 0h3m-2 0h3m2 0h3m8 0h3m10 0h3m3 0h3m1 0h3m4 0h3m6 0h3m-100 1h3m14 0h3m14 0h3m0 0h3m-1 0h3m-2 0h3m-2 0h3m-2 0h3m2 0h3m3 0h3m7 0h3m1 0h3m4 0h3m20 0h3m5 0h3m14 0h3m-125 1h3m9 0h3m-2 0h3m9 0h3m10 0h3m-2 0h3m0 0h3m7 0h3m-1 0h3m5 0h3m18 0h3m-1 0h3m16 0h3m51 0h3m-158 1h3m3 0h3m8 0h3m0 0h3m4 0h3m2 0h3m4 0h3m3 0h3m5 0h3m19 0h3m-1 0h3m4 0h3m19 0h3m-91 1h3m7 0h3m4 0h3m2 0h3m4 0h3m11 0h3m3 0h3m-1 0h3m5 0h3m3 0h3m5 0h3m2 0h3m25 0h3m-116 1h3m44 0h3m8 0h3m-1 0h3m4 0h3m1 0h3m5 0h3m-2 0h3m30 0h3m-129 1h3m9 0h3m-1 0h3m6 0h3m-1 0h3m0 0h3m4 0h3m9 0h3m8 0h3m9 0h3m1 0h3m0 0h3m0 0h3m3 0h3m4 0h3m41 0h3m-142 1h3m19 0h3m21 0h3m2 0h3m-2 0h3m34 0h3m7 0h3m9 0h3m-1 0h3m-2 0h3m4 0h3m-134 1h3m34 0h3m-1 0h3m13 0h3m-2 0h3m4 0h3m2 0h3m0 0h3m0 0h3m-1 0h3m0 0h3m-2 0h3m2 0h3m20 0h3m13 0h3m-170 1h3m35 0h3m1 0h3m14 0h3m0 0h3m-2 0h3m4 0h3m3 0h3m1 0h3m5 0h3m4 0h3m2 0h3m5 0h3m6 0h3m11 0h3m-2 0h3m3 0h3m0 0h3m48 0h3m38 0h3m-226 1h3m39 0h3m8 0h3m11 0h3m11 0h3m5 0h3m4 0h3m-1 0h3m3 0h3m2 0h3m2 0h3m4 0h3m2 0h3m-2 0h3m4 0h3m-1 0h3m9 0h3m-1 0h3m-140 1h3m28 0h3m19 0h3m-2 0h3m-1 0h3m0 0h3m8 0h3m-1 0h3m8 0h3m5 0h3m1 0h3m2 0h3m-2 0h3m4 0h3m0 0h3m23 0h3m-153 1h3m8 0h3m15 0h3m9 0h3m4 0h3m-1 0h3m1 0h3m1 0h3m3 0h3m3 0h3m17 0h3m1 0h3m15 0h3m6 0h3m1 0h3m2 0h3m-71 1h3m-1 0h3m17 0h3m1 0h3m1 0h3m3 0h3m1 0h3m8 0h3m-2 0h3m3 0h3m50 0h3m-150 1h3m13 0h3m3 0h3m-1 0h3m15 0h3m-2 0h3m3 0h3m-2 0h3m1 0h3m-2 0h3m10 0h3m2 0h3m1 0h3m1 0h3m-1 0h3m3 0h3m-1 0h3m16 0h3m-1 0h3m-129 1h3m23 0h3m18 0h3m-1 0h3m2 0h3m-1 0h3m1 0h3m-1 0h3m1 0h3m12 0h3m4 0h3m-2 0h3m3 0h3m-1 0h3m21 0h3m-115 1h3m0 0h3m23 0h3m7 0h3m16 0h3m5 0h3m2 0h3m-1 0h3m-1 0h3m-1 0h3m-1 0h3m5 0h3m1 0h3m-1 0h3m1 0h3m12 0h3m-105 1h3m6 0h3m8 0h3m20 0h3m2 0h3m7 0h3m-1 0h3m-2 0h3m0 0h3m4 0h3m4 0h3m0 0h3m9 0h3m1 0h3m4 0h3m0 0h3m-95 1h3m19 0h3m0 0h3m0 0h3m0 0h3m0 0h3m1 0h3m-1 0h3m-2 0h3m3 0h3m-1 0h3m7 0h3m9 0h3m8 0h3m9 0h3m-106 1h3m1 0h3m0 0h3m-1 0h3m-2 0h3m16 0h3m-1 0h3m4 0h3m-2 0h3m9 0h3m-1 0h3m5 0h3m1 0h3m-1 0h3m5 0h3m15 0h3m29 0h3m-128 1h3m0 0h3m-1 0h3m7 0h3m-1 0h3m6 0h3m4 0h3m0 0h3m1 0h3m3 0h3m2 0h3m2 0h3m-2 0h3m2 0h3m27 0h3m-87 1h3m16 0h3m7 0h3m3 0h3m3 0h3m8 0h3m1 0h3m9 0h3m5 0h3m1 0h3m-1 0h3m6 0h3m5 0h3m1 0h3m-134 1h3m-2 0h3m0 0h3m19 0h3m2 0h3m8 0h3m-2 0h3m0 0h3m0 0h3m8 0h3m-2 0h3m4 0h3m-2 0h3m2 0h3m-2 0h3m-2 0h3m5 0h3m0 0h3m13 0h3m-2 0h3m-2 0h3m9 0h3m16 0h3m37 0h3m-188 1h3m31 0h3m6 0h3m0 0h3m-1 0h3m8 0h3m2 0h3m1 0h3m3 0h3m-2 0h3m1 0h3m3 0h3m1 0h3m1 0h3m1 0h3m-1 0h3m-2 0h3m15 0h3m15 0h3m10 0h3m5 0h3m-169 1h3m26 0h3m0 0h3m2 0h3m0 0h3m0 0h3m5 0h3m5 0h3m1 0h3m-1 0h3m-2 0h3m7 0h3m-1 0h3m1 0h3m-2 0h3m5 0h3m-2 0h3m20 0h3m8 0h3m0 0h3m9 0h3m-2 0h3m1 0h3m-108 1h3m5 0h3m1 0h3m7 0h3m9 0h3m7 0h3m1 0h3m-2 0h3m0 0h3m-2 0h3m-1 0h3m2 0h3m-2 0h3m-2 0h3m9 0h3m6 0h3m8 0h3m8 0h3m-2 0h3m42 0h3m-144 1h3m5 0h3m4 0h3m-2 0h3m9 0h3m3 0h3m-1 0h3m11 0h3m4 0h3m5 0h3m9 0h3m2 0h3m2 0h3m9 0h3m-1 0h3m36 0h3m-179 1h3m32 0h3m-1 0h3m12 0h3m-2 0h3m8 0h3m0 0h3m3 0h3m-1 0h3m8 0h3m0 0h3m-1 0h3m35 0h3m13 0h3m-148 1h3m2 0h3m4 0h3m4 0h3m1 0h3m7 0h3m11 0h3m1 0h3m10 0h3m5 0h3m8 0h3m5 0h3m0 0h3m7 0h3m4 0h3m12 0h3m8 0h3m8 0h3m0 0h3m1 0h3m19 0h3m-165 1h3m-2 0h3m19 0h3m9 0h3m-1 0h3m4 0h3m-1 0h3m0 0h3m-1 0h3m0 0h3m-2 0h3m0 0h3m0 0h3m-2 0h3m6 0h3m-1 0h3m-2 0h3m11 0h3m-1 0h3m8 0h3m5 0h3m12 0h3m-135 1h3m-1 0h3m-2 0h3m30 0h3m-1 0h3m-1 0h3m4 0h3m-1 0h3m1 0h3m-2 0h3m0 0h3m-2 0h3m-1 0h3m10 0h3m-2 0h3m-1 0h3m3 0h3m-1 0h3m-1 0h3m-2 0h3m1 0h3m-1 0h3m3 0h3m0 0h3m18 0h3m-109 1h3m-1 0h3m11 0h3m-2 0h3m-2 0h3m-2 0h3m0 0h3m6 0h3m10 0h3m2 0h3m3 0h3m1 0h3m2 0h3m-1 0h3m6 0h3m0 0h3m0 0h3m4 0h3m3 0h3m9 0h3m10 0h3m-2 0h3m-132 1h3m8 0h3m-1 0h3m-1 0h3m2 0h3m7 0h3m-2 0h3m2 0h3m-2 0h3m-2 0h3m-1 0h3m1 0h3m-2 0h3m2 0h3m2 0h3m-2 0h3m2 0h3m-1 0h3m1 0h3m3 0h3m1 0h3m8 0h3m-2 0h3m8 0h3m-2 0h3m-2 0h3m-2 0h3m11 0h3m1 0h3m12 0h3m10 0h3m-189 1h3m74 0h3m0 0h3m1 0h3m2 0h3m0 0h3m9 0h3m5 0h3m-2 0h3m15 0h3m13 0h3m-125 1h3m11 0h3m8 0h3m13 0h3m25 0h3m5 0h3m0 0h3m1 0h3m2 0h3m5 0h3m8 0h3m5 0h3m6 0h3m-122 1h3m39 0h3m5 0h3m-1 0h3m1 0h3m-2 0h3m9 0h3m-1 0h3m7 0h3m-2 0h3m4 0h3m7 0h3m6 0h3m46 0h3m-199 1h3m0 0h3m12 0h3m31 0h3m7 0h3m-1 0h3m19 0h3m1 0h3m-2 0h3m6 0h3m7 0h3m0 0h3m17 0h3m2 0h3m-2 0h3m-2 0h3m16 0h3m9 0h3m-137 1h3m-2 0h3m-2 0h3m24 0h3m11 0h3m2 0h3m6 0h3m0 0h3m3 0h3m7 0h3m2 0h3m9 0h3m3 0h3m4 0h3m2 0h3m54 0h3m-168 1h3m15 0h3m0 0h3m0 0h3m-1 0h3m11 0h3m1 0h3m3 0h3m3 0h3m-1 0h3m0 0h3m-2 0h3m-2 0h3m-1 0h3m7 0h3m-2 0h3m8 0h3m9 0h3m-1 0h3m3 0h3m0 0h3m-2 0h3m-1 0h3m1 0h3m-2 0h3m8 0h3m-151 1h3m26 0h3m28 0h3m0 0h3m13 0h3m-2 0h3m-2 0h3m5 0h3m-1 0h3m-1 0h3m-2 0h3m-1 0h3m1 0h3m-2 0h3m5 0h3m-2 0h3m-1 0h3m1 0h3m0 0h3m2 0h3m26 0h3m-163 1h3m33 0h3m12 0h3m6 0h3m0 0h3m8 0h3m2 0h3m4 0h3m-2 0h3m-2 0h3m-1 0h3m1 0h3m-2 0h3m4 0h3m0 0h3m-2 0h3m4 0h3m2 0h3m7 0h3m22 0h3m2 0h3m-136 1h3m7 0h3m1 0h3m10 0h3m1 0h3m7 0h3m-2 0h3m3 0h3m-2 0h3m0 0h3m-1 0h3m-1 0h3m-2 0h3m-2 0h3m2 0h3m-2 0h3m3 0h3m0 0h3m0 0h3m0 0h3m2 0h3m-2 0h3m19 0h3m0 0h3m17 0h3m-153 1h3m22 0h3m14 0h3m12 0h3m15 0h3m-1 0h3m3 0h3m-2 0h3m-2 0h3m1 0h3m-1 0h3m1 0h3m2 0h3m-1 0h3m2 0h3m10 0h3m-2 0h3m5 0h3m38 0h3m-143 1h3m16 0h3m1 0h3m1 0h3m-1 0h3m3 0h3m8 0h3m-2 0h3m3 0h3m0 0h3m1 0h3m4 0h3m-2 0h3m9 0h3m-1 0h3m-2 0h3m0 0h3m-1 0h3m18 0h3m-1 0h3m-2 0h3m6 0h3m9 0h3m-163 1h3m43 0h3m-1 0h3m2 0h3m-1 0h3m-2 0h3m-2 0h3m3 0h3m-1 0h3m-1 0h3m11 0h3m-1 0h3m-1 0h3m20 0h3m1 0h3m7 0h3m6 0h3m10 0h3m1 0h3m3 0h3m0 0h3m-174 1h3m30 0h3m31 0h3m2 0h3m0 0h3m0 0h3m0 0h3m1 0h3m0 0h3m4 0h3m1 0h3m-2 0h3m-1 0h3m6 0h3m-2 0h3m6 0h3m10 0h3m16 0h3m-149 1h3m40 0h3m5 0h3m-2 0h3m0 0h3m8 0h3m0 0h3m0 0h3m0 0h3m-1 0h3m2 0h3m3 0h3m1 0h3m2 0h3m5 0h3m-1 0h3m0 0h3m-2 0h3m3 0h3m2 0h3m9 0h3m-109 1h3m27 0h3m1 0h3m3 0h3m15 0h3m0 0h3m-1 0h3m5 0h3m-2 0h3m-2 0h3m2 0h3m30 0h3m-115 1h3m1 0h3m-2 0h3m8 0h3m5 0h3m-1 0h3m4 0h3m-1 0h3m1 0h3m1 0h3m8 0h3m-2 0h3m-1 0h3m-1 0h3m3 0h3m0 0h3m3 0h3m3 0h3m3 0h3m1 0h3m0 0h3m16 0h3m13 0h3m-130 1h3m18 0h3m8 0h3m0 0h3m-2 0h3m0 0h3m11 0h3m0 0h3m0 0h3m-1 0h3m11 0h3m1 0h3m1 0h3m6 0h3m-2 0h3m-1 0h3m9 0h3m2 0h3m28 0h3m-133 1h3m-1 0h3m0 0h3m1 0h3m12 0h3m3 0h3m4 0h3m0 0h3m12 0h3m-1 0h3m-2 0h3m-1 0h3m-2 0h3m-2 0h3m8 0h3m1 0h3m-1 0h3m13 0h3m2 0h3m4 0h3m10 0h3m-153 1h3m40 0h3m7 0h3m0 0h3m10 0h3m-1 0h3m-2 0h3m4 0h3m8 0h3m4 0h3m-1 0h3m-1 0h3m2 0h3m-2 0h3m4 0h3m6 0h3m3 0h3m-2 0h3m-115 1h3m4 0h3m-1 0h3m-1 0h3m7 0h3m2 0h3m4 0h3m1 0h3m-1 0h3m3 0h3m7 0h3m5 0h3m-2 0h3m7 0h3m-2 0h3m-1 0h3m-1 0h3m-1 0h3m-1 0h3m0 0h3m-1 0h3m8 0h3m13 0h3m28 0h3m-175 1h3m6 0h3m18 0h3m12 0h3m1 0h3m0 0h3m-1 0h3m-1 0h3m5 0h3m7 0h3m-2 0h3m-1 0h3m1 0h3m-1 0h3m-1 0h3m2 0h3m3 0h3m3 0h3m6 0h3m0 0h3m-2 0h3m6 0h3m35 0h3m-2 0h3m-134 1h3m25 0h3m5 0h3m-2 0h3m12 0h3m5 0h3m0 0h3m1 0h3m37 0h3m10 0h3m8 0h3m-123 1h3m0 0h3m19 0h3m12 0h3m-1 0h3m-1 0h3m3 0h3m3 0h3m10 0h3m-2 0h3m1 0h3m5 0h3m2 0h3m-106 1h3m2 0h3m-2 0h3m2 0h3m7 0h3m3 0h3m-2 0h3m1 0h3m-2 0h3m0 0h3m4 0h3m2 0h3m0 0h3m3 0h3m-2 0h3m1 0h3m-1 0h3m-2 0h3m0 0h3m16 0h3m16 0h3m14 0h3m-137 1h3m16 0h3m1 0h3m1 0h3m7 0h3m10 0h3m0 0h3m6 0h3m1 0h3m-2 0h3m11 0h3m-2 0h3m-1 0h3m1 0h3m3 0h3m6 0h3m-2 0h3m2 0h3m3 0h3m1 0h3m4 0h3m20 0h3m-166 1h3m5 0h3m35 0h3m0 0h3m-1 0h3m4 0h3m1 0h3m0 0h3m0 0h3m-2 0h3m0 0h3m-2 0h3m3 0h3m4 0h3m4 0h3m4 0h3m-2 0h3m3 0h3m-2 0h3m4 0h3m14 0h3m9 0h3m8 0h3m-121 1h3m4 0h3m2 0h3m2 0h3m6 0h3m1 0h3m-1 0h3m-1 0h3m12 0h3m7 0h3m2 0h3m8 0h3m8 0h3m2 0h3m7 0h3m-132 1h3m32 0h3m1 0h3m2 0h3m12 0h3m-2 0h3m-1 0h3m0 0h3m7 0h3m0 0h3m1 0h3m3 0h3m1 0h3m2 0h3m-1 0h3m-1 0h3m12 0h3m5 0h3m-1 0h3m9 0h3m-2 0h3m-131 1h3m16 0h3m-1 0h3m2 0h3m11 0h3m10 0h3m6 0h3m-2 0h3m13 0h3m-2 0h3m-1 0h3m4 0h3m3 0h3m0 0h3m12 0h3m1 0h3m0 0h3m-108 1h3m-2 0h3m2 0h3m7 0h3m0 0h3m5 0h3m0 0h3m-2 0h3m11 0h3m0 0h3m-1 0h3m0 0h3m0 0h3m23 0h3m-1 0h3m3 0h3m-135 1h3m14 0h3m19 0h3m-2 0h3m-1 0h3m5 0h3m1 0h3m6 0h3m-2 0h3m14 0h3m7 0h3m8 0h3m0 0h3m0 0h3m-2 0h3m0 0h3m-1 0h3m6 0h3m33 0h3m-155 1h3m8 0h3m4 0h3m7 0h3m7 0h3m4 0h3m16 0h3m2 0h3m1 0h3m0 0h3m-1 0h3m2 0h3m0 0h3m3 0h3m8 0h3m10 0h3m10 0h3m7 0h3m13 0h3m-2 0h3m-158 1h3m31 0h3m5 0h3m7 0h3m8 0h3m2 0h3m1 0h3m2 0h3m19 0h3m-1 0h3m0 0h3m-2 0h3m10 0h3m10 0h3m34 0h3m-183 1h3m18 0h3m2 0h3m14 0h3m6 0h3m4 0h3m-1 0h3m11 0h3m3 0h3m-2 0h3m4 0h3m5 0h3m20 0h3m-1 0h3m0 0h3m13 0h3m17 0h3m2 0h3m15 0h3m-138 1h3m3 0h3m2 0h3m19 0h3m2 0h3m12 0h3m9 0h3m0 0h3m3 0h3m-1 0h3m-1 0h3m5 0h3m1 0h3m27 0h3m-168 1h3m25 0h3m3 0h3m2 0h3m3 0h3m2 0h3m2 0h3m0 0h3m-2 0h3m12 0h3m5 0h3m-1 0h3m-1 0h3m1 0h3m-1 0h3m4 0h3m6 0h3m-1 0h3m-1 0h3m6 0h3m7 0h3m1 0h3m18 0h3m-138 1h3m3 0h3m24 0h3m6 0h3m-2 0h3m0 0h3m6 0h3m2 0h3m3 0h3m7 0h3m0 0h3m-2 0h3m36 0h3m-2 0h3m20 0h3m-158 1h3m44 0h3m13 0h3m-2 0h3m11 0h3m0 0h3m23 0h3m3 0h3m3 0h3m7 0h3m19 0h3m-139 1h3m21 0h3m4 0h3m-1 0h3m0 0h3m5 0h3m6 0h3m2 0h3m6 0h3m9 0h3m6 0h3m1 0h3m1 0h3m17 0h3m36 0h3m-174 1h3m31 0h3m14 0h3m9 0h3m7 0h3m0 0h3m0 0h3m0 0h3m1 0h3m6 0h3m-2 0h3m2 0h3m25 0h3m4 0h3m-127 1h3m7 0h3m23 0h3m10 0h3m3 0h3m-2 0h3m5 0h3m30 0h3m-2 0h3m0 0h3m3 0h3m25 0h3m-134 1h3m6 0h3m24 0h3m8 0h3m-1 0h3m-2 0h3m3 0h3m0 0h3m5 0h3m10 0h3m0 0h3m-2 0h3m-80 1h3m5 0h3m1 0h3m6 0h3m0 0h3m8 0h3m3 0h3m7 0h3m2 0h3m0 0h3m1 0h3m-2 0h3m5 0h3m-1 0h3m7 0h3m0 0h3m5 0h3m5 0h3m8 0h3m13 0h3m-158 1h3m16 0h3m30 0h3m-2 0h3m8 0h3m-1 0h3m-1 0h3m1 0h3m-2 0h3m0 0h3m-1 0h3m1 0h3m12 0h3m-1 0h3m7 0h3m21 0h3m-103 1h3m4 0h3m4 0h3m4 0h3m11 0h3m7 0h3m13 0h3m-1 0h3m3 0h3m1 0h3m1 0h3m-2 0h3m5 0h3m6 0h3m-108 1h3m8 0h3m12 0h3m4 0h3m-1 0h3m-1 0h3m1 0h3m3 0h3m-1 0h3m4 0h3m27 0h3m-2 0h3m12 0h3m-2 0h3m-90 1h3m8 0h3m-2 0h3m21 0h3m3 0h3m0 0h3m4 0h3m4 0h3m35 0h3m7 0h3m-107 1h3m0 0h3m-2 0h3m13 0h3m0 0h3m5 0h3m0 0h3m0 0h3m3 0h3m-98 1h3m61 0h3m-1 0h3m0 0h3m25 0h3m-1 0h3m3 0h3m3 0h3m0 0h3m9 0h3m5 0h3m18 0h3m-138 1h3m10 0h3m14 0h3m-2 0h3m2 0h3m2 0h3m5 0h3m0 0h3m2 0h3m3 0h3m-2 0h3m22 0h3m12 0h3m0 0h3m9 0h3m-116 1h3m27 0h3m22 0h3m4 0h3m-1 0h3m-2 0h3m0 0h3m-2 0h3m-1 0h3m0 0h3m-2 0h3m2 0h3m1 0h3m0 0h3m5 0h3m1 0h3m1 0h3m0 0h3m-78 1h3m25 0h3m-2 0h3m1 0h3m-1 0h3m-1 0h3m2 0h3m0 0h3m3 0h3m2 0h3m3 0h3m9 0h3m-2 0h3m-1 0h3m-2 0h3m-64 1h3m7 0h3m2 0h3m6 0h3m4 0h3m29 0h3m18 0h3m-128 1h3m16 0h3m1 0h3m2 0h3m0 0h3m-1 0h3m8 0h3m17 0h3m7 0h3m26 0h3m-94 1h3m3 0h3m1 0h3m9 0h3m1 0h3m1 0h3m34 0h3m17 0h3m-111 1h3m38 0h3m10 0h3m6 0h3m5 0h3m1 0h3m15 0h3m5 0h3m2 0h3m-102 1h3m26 0h3m3 0h3m4 0h3m4 0h3m11 0h3m3 0h3m4 0h3m-2 0h3m-2 0h3m2 0h3m3 0h3m13 0h3m32 0h3m-121 1h3m9 0h3m10 0h3m1 0h3m-2 0h3m2 0h3m-1 0h3m-2 0h3m4 0h3m2 0h3m14 0h3m29 0h3m-146 1h3m-2 0h3m33 0h3m3 0h3m16 0h3m2 0h3m-2 0h3m1 0h3m4 0h3m18 0h3m2 0h3m1 0h3m3 0h3m5 0h3m5 0h3m25 0h3m-152 1h3m5 0h3m5 0h3m16 0h3m6 0h3m0 0h3m2 0h3m-1 0h3m3 0h3m1 0h3m3 0h3m-2 0h3m-2 0h3m21 0h3m42 0h3m-124 1h3m12 0h3m4 0h3m11 0h3m6 0h3m-1 0h3m-2 0h3m4 0h3m11 0h3m18 0h3m12 0h3m7 0h3m-95 1h3m5 0h3m-2 0h3m1 0h3m-2 0h3m3 0h3m4 0h3m0 0h3m10 0h3m-1 0h3m-83 1h3m43 0h3m10 0h3m0 0h3m0 0h3m0 0h3m2 0h3m2 0h3m-1 0h3m0 0h3m8 0h3m22 0h3m8 0h3m-167 1h3m36 0h3m13 0h3m17 0h3m-2 0h3m3 0h3m3 0h3m4 0h3m-2 0h3m21 0h3m9 0h3m5 0h3m-99 1h3m51 0h3m5 0h3m-1 0h3m-1 0h3m41 0h3m4 0h3m-143 1h3m27 0h3m9 0h3m6 0h3m11 0h3m-1 0h3m2 0h3m14 0h3m27 0h3m-76 1h3m12 0h3m9 0h3m12 0h3m3 0h3m2 0h3m9 0h3m2 0h3m-63 1h3m0 0h3m8 0h3m2 0h3m-62 1h3m29 0h3m0 0h3m2 0h3m0 0h3m10 0h3m4 0h3m6 0h3m27 0h3m0 0h3m-69 1h3m37 0h3m21 0h3m-1 0h3m-87 1h3m3 0h3m17 0h3m15 0h3m-2 0h3m10 0h3m-84 1h3m41 0h3m-2 0h3m4 0h3m2 0h3m4 0h3m22 0h3m-48 1h3m5 0h3m0 0h3m5 0h3m2 0h3m-2 0h3m82 0h3m-136 1h3m-2 0h3m8 0h3m81 0h3m-92 1h3m6 0h3m39 0h3m1 0h3m-101 1h3m1 0h3m9 0h3m-2 0h3m32 0h3m17 0h3m37 0h3m18 0h3m-144 1h3m24 0h3m6 0h3m25 0h3m6 0h3m-38 1h3m56 0h3m-21 1h3m8 0h3m4 0h3m-97 1h3m8 0h3m16 0h3m47 0h3m12 0h3m17 0h3m6 0h3m26 0h3m-108 1h3m14 0h3m22 0h3m22 0h3m-81 1h3m0 0h3m37 0h3m2 0h3m41 0h3m-110 1h3m11 0h3m0 0h3m14 0h3m-2 0h3m26 0h3m-1 0h3m15 0h3m3 0h3m-1 0h3m21 0h3m-64 1h3m12 0h3m6 0h3m27 0h3m-118 1h3m33 0h3m0 0h3m7 0h3m2 0h3m15 0h3m-58 1h3m4 0h3m14 0h3m7 0h3m9 0h3m52 0h3m-118 1h3m40 0h3m1 0h3m0 0h3m-1 0h3m20 0h3m25 0h3m11 0h3m-1 0h3m-105 1h3m0 0h3m36 0h3m12 0h3m-1 0h3m6 0h3m15 0h3m-103 1h3m19 0h3m51 1h3m8 0h3m16 0h3m-71 1h3m15 0h3m13 0h3m6 0h3m-14 1h3m-2 0h3m-10 1h3m9 0h3m-72 1h3m50 0h3m-51 1h3m3 0h3m53 0h3m10 0h3m34 0h3m-51 1h3m11 0h3m-52 1h3m33 0h3" stroke="#2a2a2a" stroke-width="3" fill="none" filter="url(#bl)"/>
<path transform="scale(.2)" d="M0 0m388 2146h3m-55 12h3m31 7h3m-14 10h3m5 0h3m7 5h3m17 6h3m-37 6h3m-4 2h3m12 1h3m-21 5h3m43 1h3m-72 2h3m29 1h3m4 2h3m-3 1h3m-21 2h3m16 1h3m-42 1h3m22 0h3m-2 1h3m2 1h3m-26 1h3m38 3h3m14 0h3m-70 2h3m-1 0h3m28 0h3m13 0h3m9 0h3m-38 1h3m7 1h3m16 0h3m-61 1h3m18 0h3m28 0h3m2 1h3m-38 1h3m33 0h3m-45 1h3m0 0h3m17 0h3m-22 1h3m47 0h3m-50 1h3m-6 1h3m7 0h3m8 0h3m-43 1h3m13 0h3m5 1h3m11 0h3m5 0h3m2 0h3m-12 3h3m-25 1h3m9 0h3m30 0h3m-37 1h3m32 0h3m-36 1h3m-40 1h3m19 0h3m48 0h3m-54 1h3m6 0h3m-2 0h3m-2 0h3m18 0h3m-51 2h3m16 0h3m-13 1h3m-2 0h3m39 0h3m-53 1h3m4 0h3m10 0h3m11 0h3m-40 1h3m14 0h3m-10 2h3m0 0h3m15 0h3m21 0h3m-29 1h3m-35 1h3m28 1h3m4 0h3m29 0h3m-46 1h3m0 0h3m-33 1h3m26 0h3m5 1h3m17 0h3m-5 1h3m-36 1h3m18 0h3m11 0h3m-45 1h3m17 0h3m1 0h3m30 0h3m-64 1h3m3 0h3m3 0h3m0 0h3m1 0h3m35 0h3m-66 1h3m16 0h3m0 0h3m12 0h3m27 0h3m-64 1h3m10 0h3m13 1h3m-27 1h3m35 0h3m-42 1h3m6 0h3m9 0h3m18 0h3m-43 1h3m4 0h3m5 0h3m-36 1h3m72 0h3m-71 1h3m-1 0h3m10 0h3m2 0h3m12 0h3m12 0h3m9 1h3m-70 1h3m14 0h3m10 0h3m4 0h3m-32 1h3m33 2h3m1 0h3m-13 1h3m1 1h3m28 0h3m-63 1h3m29 0h3m-11 1h3m8 0h3m8 0h3m-58 1h3m11 0h3m34 0h3m19 0h3m-24 1h3m-51 1h3m22 0h3m-1 0h3m8 0h3m-36 2h3m20 1h3m-14 5h3m16 0h3m-13 1h3m11 0h3m-23 1h3m41 5h3m-41 1h3m6 1h3m23 1h3m-35 3h3m-10 1h3m-18 1h3m26 0h3m-14 1h3m-7 1h3m-2 1h3m12 1h3m6 0h3m-28 1h3m11 2h3m-15 5h3m26 2h3m6 0h3m-2 2h3m-63 1h3m21 0h3m31 0h3m1 0h3m0 0h3m8 0h3m2 0h3m20 0h3m2 0h3m5 0h3m21 0h3m3 0h3m8 0h3m27 0h3m13 0h3m18 0h3m14 0h3m5 0h3m-251 1h3m6 0h3m18 0h3m50 0h3m38 0h3m12 0h3m21 0h3m9 0h3m-2 0h3m-1 0h3m0 0h3m5 0h3m-2 0h3m0 0h3m-2 0h3m19 0h3m-2 0h3m1 0h3m26 0h3m-258 1h3m5 0h3m19 0h3m2 0h3m12 0h3m26 0h3m7 0h3m10 0h3m2 0h3m16 0h3m11 0h3m20 0h3m-1 0h3m6 0h3m-2 0h3m20 0h3m-2 0h3m8 0h3m14 0h3m11 0h3m18 0h3" stroke="#555" stroke-width="3" fill="none" filter="url(#bl)"/>
<line x1="80.8" y1="407.9" x2="80.8" y2="464.1" stroke="#8080c0" stroke-width="0.6"/>
<rect x="65.20" y="407.90" width="57.10" height="56.20" fill="none" stroke="#9a9a9a" stroke-width="0.7"/>
<text x="63.6" y="412.5" font-size="3.2" font-family="Liberation Sans" text-anchor="end" fill="#444" textLength="7.8" lengthAdjust="spacingAndGlyphs">250K</text>
<text x="63.6" y="423.04" font-size="3.2" font-family="Liberation Sans" text-anchor="end" fill="#444" textLength="7.8" lengthAdjust="spacingAndGlyphs">200K</text>
<text x="63.6" y="433.58000000000004" font-size="3.2" font-family="Liberation Sans" text-anchor="end" fill="#444" textLength="7.8" lengthAdjust="spacingAndGlyphs">150K</text>
<text x="63.6" y="444.12" font-size="3.2" font-family="Liberation Sans" text-anchor="end" fill="#444" textLength="7.8" lengthAdjust="spacingAndGlyphs">100K</text>
<text x="63.6" y="454.66" font-size="3.2" font-family="Liberation Sans" text-anchor="end" fill="#444" textLength="6" lengthAdjust="spacingAndGlyphs">50K</text>
<text x="63.6" y="465.20000000000005" font-size="3.2" font-family="Liberation Sans" text-anchor="end" fill="#444">0</text>
<text x="72" y="468.70000000000005" font-size="3.6" font-family="Liberation Sans" text-anchor="middle" fill="#333">0</text>
<text x="76.7" y="468.70000000000005" font-size="3.6" font-family="Liberation Sans" fill="#333">10<tspan dy="-1.3" font-size="2.6">2</tspan></text>
<text x="89.0" y="468.70000000000005" font-size="3.6" font-family="Liberation Sans" fill="#333">10<tspan dy="-1.3" font-size="2.6">3</tspan></text>
<text x="102.39999999999999" y="468.70000000000005" font-size="3.6" font-family="Liberation Sans" fill="#333">10<tspan dy="-1.3" font-size="2.6">4</tspan></text>
<text x="114.1" y="468.70000000000005" font-size="3.6" font-family="Liberation Sans" fill="#333">10<tspan dy="-1.3" font-size="2.6">5</tspan></text>
<text x="66.2" y="412.29999999999995" font-size="3.4" font-family="Liberation Sans" font-weight="bold" fill="#222">23.4</text>
<path transform="scale(.2)" d="M0 0m395 1584h3m5 5h3m-8 1h3m-14 1h3m13 1h3m-20 3h3m-5 2h3m10 0h3m-5 1h3m-18 3h3m-1 0h3m2 0h3m10 1h3m-8 1h3m-4 2h3m-17 1h3m6 3h3m3 0h3m2 0h3m0 0h3m-5 2h3m-8 2h3m-2 3h3m0 1h3m-7 2h3m-1 2h3m0 0h3m-25 1h3m14 0h3m-13 1h3m18 0h3m-16 2h3m-8 4h3m15 1h3m-23 3h3m12 1h3m-3 2h3m-1 9h3m-12 6h3" stroke="#6060c0" stroke-width="3" fill="none" filter="url(#bl)"/>
<path transform="scale(.2)" d="M0 0m411 2175h3m-23 7h3m27 2h3m-18 8h3m-3 9h3m-8 1h3m11 0h3m-20 5h3m-2 4h3m1 8h3m3 0h3m-17 8h3m4 0h3m4 0h3m-12 5h3m4 0h3m-13 2h3m2 0h3m1 1h3m1 1h3m-7 3h3m7 0h3m-15 1h3m-6 2h3m15 0h3m-23 1h3m18 3h3m-18 1h3m0 0h3m-19 3h3m5 2h3m-1 0h3m-2 0h3m-1 0h3m-3 2h3m-7 11h3m1 1h3m-6 1h3m8 1h3m-8 6h3m-1 2h3m-5 4h3m-7 2h3m-1 0h3m-17 3h3m14 1h3m-10 18h3" stroke="#7070b8" stroke-width="3" fill="none" filter="url(#bl)"/>
<path transform="scale(.2)" d="M0 0m825 1209h3m29 10h3m-2 2h3m1 1h3m-22 3h3m-14 5h3m35 0h3m-40 1h3m-2 0h3m6 1h3m18 0h3m-32 2h3m7 2h3m-30 1h3m18 0h3m-28 1h3m84 2h3m-55 1h3m-24 1h3m30 0h3m-29 1h3m1 0h3m32 0h3m-27 1h3m15 0h3m0 0h3m-53 1h3m47 0h3m7 0h3m-69 1h3m44 0h3m-61 1h3m13 0h3m48 0h3m-86 1h3m14 0h3m-2 0h3m23 0h3m-2 0h3m3 0h3m5 0h3m7 0h3m-48 1h3m14 0h3m2 0h3m-2 0h3m3 0h3m9 0h3m-47 1h3m26 0h3m9 0h3m-1 0h3m6 0h3m10 0h3m-49 1h3m22 0h3m13 0h3m-1 1h3m8 0h3m3 0h3m-101 1h3m15 0h3m1 0h3m6 0h3m6 0h3m9 0h3m3 0h3m1 0h3m11 0h3m4 0h3m7 0h3m-2 0h3m-65 1h3m5 0h3m3 0h3m-1 0h3m1 0h3m0 0h3m6 0h3m1 0h3m-34 1h3m-2 0h3m15 0h3m-37 1h3m34 0h3m5 0h3m-50 1h3m0 0h3m2 0h3m4 0h3m4 0h3m-2 0h3m-2 0h3m-2 0h3m1 0h3m-2 0h3m3 0h3m3 0h3m6 0h3m0 0h3m1 0h3m-73 1h3m13 0h3m4 0h3m-1 0h3m2 0h3m3 0h3m-2 0h3m9 0h3m-2 0h3m1 0h3m-2 0h3m4 0h3m24 0h3m5 0h3m-96 1h3m7 0h3m8 0h3m-2 0h3m2 0h3m6 0h3m2 0h3m-2 0h3m0 0h3m14 0h3m-2 0h3m-37 1h3m0 0h3m10 0h3m7 0h3m0 0h3m-2 0h3m-1 0h3m21 0h3m-100 1h3m29 0h3m1 0h3m-1 0h3m-2 0h3m-2 0h3m20 0h3m2 0h3m7 0h3m-82 1h3m14 0h3m14 0h3m6 0h3m3 0h3m-1 0h3m1 0h3m14 0h3m-41 1h3m17 0h3m-1 0h3m-1 0h3m-1 0h3m-58 1h3m23 0h3m2 0h3m0 0h3m0 0h3m-1 0h3m-1 0h3m14 0h3m0 0h3m9 0h3m-61 1h3m13 0h3m-1 0h3m10 0h3m10 0h3m-1 0h3m-2 0h3m5 0h3m12 0h3m33 0h3m-120 1h3m0 0h3m-2 0h3m10 0h3m4 0h3m-1 0h3m0 0h3m-1 0h3m-1 0h3m22 0h3m-2 0h3m-1 0h3m3 0h3m-81 1h3m6 0h3m4 0h3m3 0h3m13 0h3m4 0h3m0 0h3m2 0h3m2 0h3m-1 0h3m1 0h3m-2 0h3m3 0h3m5 0h3m-70 1h3m14 0h3m2 0h3m3 0h3m-1 0h3m1 0h3m10 0h3m4 0h3m2 0h3m-45 1h3m3 0h3m6 0h3m-2 0h3m-1 0h3m3 0h3m0 0h3m-1 0h3m6 0h3m1 0h3m11 0h3m6 0h3m-87 1h3m-1 0h3m14 0h3m-2 0h3m4 0h3m16 0h3m4 0h3m1 0h3m-2 0h3m-2 0h3m0 0h3m7 0h3m22 0h3m-1 0h3m6 0h3m-99 1h3m0 0h3m8 0h3m2 0h3m3 0h3m3 0h3m21 0h3m-74 1h3m16 0h3m8 0h3m6 0h3m5 0h3m5 0h3m1 0h3m4 0h3m2 0h3m-1 0h3m4 0h3m-84 1h3m7 0h3m0 0h3m12 0h3m10 0h3m2 0h3m3 0h3m-1 0h3m1 0h3m14 0h3m-1 0h3m-73 1h3m13 0h3m2 0h3m12 0h3m14 0h3m1 0h3m11 0h3m9 0h3m11 0h3m-94 1h3m-2 0h3m-2 0h3m11 0h3m12 0h3m-2 0h3m-2 0h3m0 0h3m-1 0h3m-1 0h3m9 0h3m1 0h3m4 0h3m1 0h3m29 0h3m-110 1h3m11 0h3m8 0h3m3 0h3m-1 0h3m0 0h3m4 0h3m-2 0h3m4 0h3m-2 0h3m-2 0h3m-2 0h3m2 0h3m2 0h3m-2 0h3m-2 0h3m8 0h3m-67 1h3m2 0h3m4 0h3m6 0h3m6 0h3m6 0h3m1 0h3m-58 1h3m10 0h3m2 0h3m-1 0h3m5 0h3m4 0h3m1 0h3m-1 0h3m0 0h3m-1 0h3m3 0h3m1 0h3m-2 0h3m-59 1h3m19 0h3m6 0h3m1 0h3m0 0h3m-2 0h3m3 0h3m13 0h3m5 0h3m-49 1h3m4 0h3m1 0h3m-1 0h3m13 0h3m8 0h3m9 0h3m4 0h3m-90 1h3m0 0h3m9 0h3m6 0h3m-2 0h3m-1 0h3m1 0h3m0 0h3m-2 0h3m1 0h3m-1 0h3m6 0h3m2 0h3m-2 0h3m0 0h3m-2 0h3m1 0h3m-1 0h3m6 0h3m-65 1h3m4 0h3m5 0h3m-2 0h3m1 0h3m2 0h3m-2 0h3m7 0h3m2 0h3m-2 0h3m1 0h3m2 0h3m-2 0h3m3 0h3m-59 1h3m8 0h3m1 0h3m0 0h3m-2 0h3m-2 0h3m2 0h3m-2 0h3m-2 0h3m-2 0h3m0 0h3m13 0h3m-2 0h3m4 0h3m-73 1h3m-1 0h3m19 0h3m-2 0h3m0 0h3m-1 0h3m0 0h3m3 0h3m5 0h3m2 0h3m1 0h3m0 0h3m-2 0h3m-2 0h3m-1 0h3m1 0h3m5 0h3m-73 1h3m-1 0h3m-2 0h3m1 0h3m18 0h3m-2 0h3m1 0h3m1 0h3m1 0h3m-2 0h3m1 0h3m-1 0h3m3 0h3m-1 0h3m2 0h3m-1 0h3m0 0h3m-1 0h3m3 0h3m-52 1h3m-2 0h3m1 0h3m4 0h3m-1 0h3m12 0h3m2 0h3m2 0h3m2 0h3m-44 1h3m0 0h3m-2 0h3m0 0h3m1 0h3m5 0h3m-2 0h3m0 0h3m6 0h3m-2 0h3m-1 0h3m-2 0h3m-2 0h3m-1 0h3m14 0h3m6 0h3m-75 1h3m3 0h3m-2 0h3m1 0h3m3 0h3m-1 0h3m3 0h3m-2 0h3m2 0h3m3 0h3m20 0h3m-69 1h3m5 0h3m7 0h3m0 0h3m-2 0h3m0 0h3m-1 0h3m0 0h3m8 0h3m0 0h3m8 0h3m-59 1h3m12 0h3m-1 0h3m-1 0h3m-1 0h3m22 0h3m6 0h3m-2 0h3m-2 0h3m-60 1h3m6 0h3m-2 0h3m-2 0h3m12 0h3m-1 0h3m-1 0h3m3 0h3m13 0h3m8 0h3m-52 1h3m-2 0h3m3 0h3m4 0h3m-1 0h3m0 0h3m-2 0h3m-1 0h3m-1 0h3m-57 1h3m12 0h3m6 0h3m-2 0h3m-2 0h3m1 0h3m-2 0h3m1 0h3m0 0h3m0 0h3m15 0h3m-1 0h3m7 0h3m3 0h3m-75 1h3m-1 0h3m10 0h3m9 0h3m-2 0h3m11 0h3m-2 0h3m-2 0h3m6 0h3m3 0h3m1 0h3m-1 0h3m-66 1h3m8 0h3m3 0h3m7 0h3m-2 0h3m4 0h3m-1 0h3m-2 0h3m-2 0h3m0 0h3m2 0h3m1 0h3m11 0h3m5 0h3m-72 1h3m10 0h3m1 0h3m-1 0h3m0 0h3m-2 0h3m-2 0h3m-2 0h3m1 0h3m0 0h3m9 0h3m-2 0h3m-1 0h3m1 0h3m2 0h3m-65 1h3m14 0h3m3 0h3m-1 0h3m3 0h3m1 0h3m3 0h3m-1 0h3m8 0h3m2 0h3m17 0h3m-1 0h3m4 0h3m-90 1h3m2 0h3m3 0h3m2 0h3m2 0h3m-1 0h3m1 0h3m3 0h3m2 0h3m-2 0h3m-2 0h3m7 0h3m-2 0h3m4 0h3m2 0h3m-1 0h3m-60 1h3m0 0h3m2 0h3m3 0h3m5 0h3m6 0h3m-2 0h3m7 0h3m10 0h3m-76 1h3m16 0h3m2 0h3m1 0h3m4 0h3m-2 0h3m-2 0h3m0 0h3m1 0h3m2 0h3m1 0h3m0 0h3m0 0h3m0 0h3m4 0h3m9 0h3m-53 1h3m-2 0h3m1 0h3m2 0h3m1 0h3m-2 0h3m17 0h3m17 0h3m35 0h3m-110 1h3m-1 0h3m3 0h3m-1 0h3m-1 0h3m-1 0h3m0 0h3m6 0h3m10 0h3m1 0h3m53 0h3m-108 1h3m-1 0h3m33 0h3m-2 0h3m-1 0h3m-2 0h3m0 0h3m4 0h3m1 0h3m-2 0h3m0 0h3m7 0h3m2 0h3m-69 1h3m4 0h3m-2 0h3m0 0h3m11 0h3m-1 0h3m9 0h3m2 0h3m-69 1h3m9 0h3m2 0h3m10 0h3m6 0h3m0 0h3m2 0h3m6 0h3m7 0h3m18 0h3m-87 1h3m16 0h3m-1 0h3m-1 0h3m8 0h3m5 0h3m-36 1h3m-1 0h3m11 0h3m-1 0h3m7 0h3m13 0h3m6 0h3m-44 1h3m5 0h3m4 0h3m0 0h3m-1 0h3m-1 0h3m0 0h3m4 0h3m0 0h3m6 0h3m3 0h3m10 0h3m-87 1h3m6 0h3m9 0h3m6 0h3m-2 0h3m1 0h3m0 0h3m8 0h3m2 0h3m3 0h3m7 0h3m18 0h3m-54 1h3m6 0h3m2 0h3m-1 0h3m0 0h3m-58 1h3m5 0h3m1 0h3m7 0h3m2 0h3m4 0h3m2 0h3m-2 0h3m0 0h3m1 0h3m12 0h3m0 0h3m21 0h3m-66 1h3m0 0h3m1 0h3m11 0h3m9 0h3m1 0h3m-1 0h3m17 0h3m-95 1h3m17 0h3m10 0h3m24 0h3m0 0h3m-2 0h3m17 0h3m-77 1h3m-1 0h3m9 0h3m10 0h3m5 0h3m-2 0h3m0 0h3m-1 0h3m10 0h3m2 0h3m2 0h3m12 0h3m-58 1h3m-2 0h3m-2 0h3m8 0h3m-2 0h3m18 0h3m-28 1h3m-10 1h3m18 0h3m10 0h3m5 0h3m6 0h3m-79 1h3m18 0h3m0 0h3m30 0h3m-41 1h3m10 0h3m1 0h3m-35 1h3m10 0h3m38 0h3m-71 1h3m0 0h3m13 0h3m25 0h3m5 0h3m10 0h3m-35 1h3m8 0h3m-1 0h3m-33 1h3m3 0h3m17 0h3m2 0h3m-14 1h3m2 0h3m1 0h3m6 0h3m-19 1h3m2 0h3m6 0h3m6 0h3m5 0h3m-9 1h3m19 0h3m-72 1h3m-27 1h3m-2 0h3m11 0h3m0 0h3m8 0h3m59 0h3m-90 1h3m25 0h3m17 0h3m4 0h3m31 0h3m-73 1h3m5 0h3m3 0h3m5 0h3m40 0h3m-57 1h3m9 0h3m8 0h3m-53 1h3m7 0h3m0 2h3m55 0h3m-17 1h3" stroke="#111" stroke-width="3" fill="none" filter="url(#bl)"/>
<path transform="scale(.2)" d="M0 0m1016 1117h3m-217 38h3m41 0h3m12 0h3m45 0h3m9 0h3m-116 1h3m21 0h3m4 0h3m4 0h3m22 0h3m2 0h3m46 0h3m-103 1h3m36 0h3m16 0h3m-57 1h3m15 0h3m0 0h3m1 0h3m21 0h3m18 0h3m-84 1h3m9 0h3m-2 0h3m24 0h3m26 0h3m8 0h3m0 0h3m-102 1h3m56 0h3m2 0h3m91 0h3m37 0h3m67 0h3m-265 1h3m2 0h3m6 0h3m1 0h3m31 0h3m26 0h3m-1 0h3m6 0h3m37 0h3m72 0h3m3 0h3m12 0h3m7 0h3m22 0h3m5 0h3m-295 1h3m11 0h3m15 0h3m26 0h3m21 0h3m10 0h3m8 0h3m16 0h3m37 0h3m81 0h3m16 0h3m-269 1h3m22 0h3m53 0h3m2 0h3m1 0h3m12 0h3m46 0h3m31 0h3m22 0h3m-220 1h3m22 0h3m43 0h3m4 0h3m35 0h3m64 0h3m9 0h3m42 0h3m25 0h3m0 0h3m-262 1h3m68 0h3m3 0h3m39 0h3m84 0h3m11 0h3m1 0h3m34 0h3m-2 0h3m-251 1h3m25 0h3m7 0h3m4 0h3m25 0h3m39 0h3m72 0h3m-172 1h3m15 0h3m9 0h3m22 0h3m7 0h3m3 0h3m9 0h3m8 0h3m77 0h3m10 0h3m34 0h3m-213 1h3m50 0h3m9 0h3m72 0h3m-173 1h3m28 0h3m29 0h3m10 0h3m27 0h3m4 0h3m-2 0h3m-130 1h3m6 0h3m57 0h3m8 0h3m0 0h3m18 0h3m5 0h3m6 0h3m-1 0h3m0 0h3m0 0h3m5 0h3m10 0h3m58 0h3m35 0h3m-271 1h3m-2 0h3m33 0h3m6 0h3m0 0h3m8 0h3m-2 0h3m28 0h3m14 0h3m3 0h3m0 0h3m12 0h3m0 0h3m-2 0h3m3 0h3m32 0h3m4 0h3m22 0h3m29 0h3m23 0h3m-245 1h3m76 0h3m140 0h3m4 0h3m-231 1h3m26 0h3m31 0h3m9 0h3m13 0h3m2 0h3m7 0h3m1 0h3m3 0h3m27 0h3m12 0h3m35 0h3m15 0h3m39 0h3m-289 1h3m3 0h3m29 0h3m36 0h3m7 0h3m3 0h3m-1 0h3m5 0h3m1 0h3m12 0h3m7 0h3m19 0h3m9 0h3m-165 1h3m18 0h3m1 0h3m62 0h3m25 0h3m5 0h3m13 0h3m59 0h3m43 0h3m-168 1h3m12 0h3m24 0h3m47 0h3m70 0h3m-248 1h3m13 0h3m11 0h3m56 0h3m19 0h3m1 0h3m13 0h3m3 0h3m59 0h3m78 0h3m-245 1h3m11 0h3m48 0h3m10 0h3m0 0h3m23 0h3m34 0h3m54 0h3m37 0h3m2 0h3m-282 1h3m5 0h3m32 0h3m16 0h3m38 0h3m3 0h3m3 0h3m2 0h3m120 0h3m-238 1h3m7 0h3m4 0h3m0 0h3m3 0h3m43 0h3m22 0h3m-2 0h3m5 0h3m2 0h3m111 0h3m16 0h3m9 0h3m-280 1h3m32 0h3m7 0h3m15 0h3m8 0h3m15 0h3m67 0h3m39 0h3m-172 1h3m1 0h3m-2 0h3m1 0h3m84 0h3m12 0h3m11 0h3m99 0h3m-265 1h3m14 0h3m1 0h3m19 0h3m45 0h3m22 0h3m8 0h3m3 0h3m24 0h3m24 0h3m5 0h3m23 0h3m-167 1h3m33 0h3m2 0h3m4 0h3m9 0h3m5 0h3m13 0h3m70 0h3m20 0h3m2 0h3m29 0h3m-1 0h3m-274 1h3m84 0h3m8 0h3m40 0h3m7 0h3m84 0h3m-203 1h3m17 0h3m37 0h3m45 0h3m45 0h3m-2 0h3m4 0h3m51 0h3m16 0h3m-199 1h3m3 0h3m25 0h3m1 0h3m31 0h3m6 0h3m1 0h3m23 0h3m-185 1h3m5 0h3m21 0h3m61 0h3m28 0h3m29 0h3m12 0h3m22 0h3m1 0h3m11 0h3m50 0h3m-194 1h3m19 0h3m-106 1h3m6 0h3m17 0h3m0 0h3m62 0h3m46 0h3m0 0h3m70 0h3m-2 0h3m20 0h3m-250 1h3m15 0h3m64 0h3m20 0h3m23 0h3m0 0h3m11 0h3m24 0h3m7 0h3m-163 1h3m21 0h3m39 0h3m38 0h3m14 0h3m1 0h3m85 0h3m-224 1h3m26 0h3m24 0h3m4 0h3m1 0h3m37 0h3m5 0h3m81 0h3m-230 1h3m32 0h3m96 0h3m71 0h3m-218 1h3m0 0h3m8 0h3m-1 0h3m37 0h3m24 0h3m31 0h3m26 0h3m81 0h3m5 0h3m-237 1h3m18 0h3m8 0h3m26 0h3m38 0h3m5 0h3m0 0h3m139 0h3m22 0h3m-275 1h3m25 0h3m1 0h3m75 0h3m2 0h3m-2 0h3m10 0h3m-1 0h3m-2 0h3m84 0h3m0 0h3m39 0h3m-219 1h3m5 0h3m5 0h3m4 0h3m0 0h3m7 0h3m34 0h3m7 0h3m45 0h3m19 0h3m-179 1h3m3 0h3m30 0h3m52 0h3m53 0h3m52 0h3m2 0h3m-223 1h3m17 0h3m13 0h3m33 0h3m23 0h3m3 0h3m3 0h3m-98 1h3m11 0h3m2 0h3m15 0h3m21 0h3m0 0h3m35 0h3m70 0h3m28 0h3m12 0h3m5 0h3m-268 1h3m22 0h3m10 0h3m33 0h3m78 0h3m-150 1h3m17 0h3m40 0h3m4 0h3m33 0h3m1 0h3m54 0h3m-134 1h3m17 0h3m3 0h3m58 0h3m-2 0h3m21 0h3m2 0h3m2 0h3m19 0h3m-2 0h3m49 0h3m-208 1h3m6 0h3m20 0h3m11 0h3m5 0h3m6 0h3m13 0h3m5 0h3m7 0h3m77 0h3m58 0h3m-282 1h3m15 0h3m5 0h3m5 0h3m4 0h3m11 0h3m64 0h3m0 0h3m9 0h3m56 0h3m90 0h3m-238 1h3m47 0h3m9 0h3m91 0h3m46 0h3m-263 1h3m46 0h3m8 0h3m11 0h3m17 0h3m22 0h3m37 0h3m91 0h3m-224 1h3m9 0h3m57 0h3m15 0h3m12 0h3m67 0h3m-176 1h3m4 0h3m21 0h3m4 0h3m14 0h3m5 0h3m6 0h3m-2 0h3m7 0h3m-1 0h3m26 0h3m4 0h3m18 0h3m29 0h3m70 0h3m0 0h3m-275 1h3m30 0h3m54 0h3m7 0h3m8 0h3m5 0h3m39 0h3m47 0h3m37 0h3m-215 1h3m4 0h3m5 0h3m2 0h3m21 0h3m-2 0h3m2 0h3m0 0h3m5 0h3m10 0h3m19 0h3m10 0h3m110 0h3m7 0h3m8 0h3m-247 1h3m16 0h3m22 0h3m11 0h3m8 0h3m14 0h3m7 0h3m6 0h3m42 0h3m-181 1h3m18 0h3m15 0h3m21 0h3m7 0h3m19 0h3m6 0h3m0 0h3m4 0h3m13 0h3m117 0h3m7 0h3m-266 1h3m-2 0h3m4 0h3m25 0h3m0 0h3m25 0h3m14 0h3m1 0h3m2 0h3m6 0h3m6 0h3m74 0h3m11 0h3m-1 0h3m-202 1h3m33 0h3m11 0h3m3 0h3m18 0h3m-2 0h3m18 0h3m7 0h3m11 0h3m11 0h3m38 0h3m6 0h3m8 0h3m-189 1h3m0 0h3m20 0h3m3 0h3m14 0h3m4 0h3m8 0h3m-1 0h3m5 0h3m18 0h3m-121 1h3m28 0h3m6 0h3m1 0h3m-1 0h3m26 0h3m16 0h3m3 0h3m-1 0h3m4 0h3m7 0h3m35 0h3m13 0h3m63 0h3m-192 1h3m11 0h3m8 0h3m5 0h3m4 0h3m19 0h3m23 0h3m96 0h3m28 0h3m-270 1h3m9 0h3m14 0h3m14 0h3m14 0h3m17 0h3m33 0h3m56 0h3m22 0h3m2 0h3m-126 1h3m8 0h3m10 0h3m19 0h3m52 0h3m-201 1h3m37 0h3m28 0h3m-2 0h3m16 0h3m6 0h3m9 0h3m9 0h3m9 0h3m14 0h3m44 0h3m15 0h3m-219 1h3m12 0h3m24 0h3m6 0h3m14 0h3m12 0h3m11 0h3m0 0h3m36 0h3m85 0h3m30 0h3m-250 1h3m15 0h3m43 0h3m19 0h3m10 0h3m6 0h3m15 0h3m44 0h3m18 0h3m9 0h3m17 0h3m7 0h3m0 0h3m-234 1h3m3 0h3m3 0h3m6 0h3m16 0h3m6 0h3m9 0h3m13 0h3m0 0h3m24 0h3m0 0h3m-1 0h3m0 0h3m3 0h3m32 0h3m7 0h3m36 0h3m27 0h3m12 0h3m13 0h3m-292 1h3m7 0h3m52 0h3m8 0h3m8 0h3m10 0h3m1 0h3m0 0h3m1 0h3m-1 0h3m-2 0h3m9 0h3m7 0h3m11 0h3m10 0h3m66 0h3m26 0h3m9 0h3m1 0h3m-235 1h3m7 0h3m22 0h3m0 0h3m-2 0h3m-2 0h3m22 0h3m23 0h3m-1 0h3m6 0h3m-2 0h3m21 0h3m46 0h3m1 0h3m3 0h3m25 0h3m1 0h3m14 0h3m-261 1h3m22 0h3m-1 0h3m4 0h3m35 0h3m8 0h3m4 0h3m19 0h3m31 0h3m36 0h3m3 0h3m22 0h3m-2 0h3m-226 1h3m9 0h3m3 0h3m11 0h3m10 0h3m20 0h3m9 0h3m28 0h3m50 0h3m8 0h3m20 0h3m-2 0h3m13 0h3m18 0h3m-251 1h3m38 0h3m8 0h3m0 0h3m0 0h3m27 0h3m28 0h3m38 0h3m-163 1h3m73 0h3m5 0h3m25 0h3m45 0h3m30 0h3m0 0h3m40 0h3m-231 1h3m35 0h3m35 0h3m0 0h3m17 0h3m25 0h3m77 0h3m-229 1h3m28 0h3m13 0h3m6 0h3m-1 0h3m19 0h3m6 0h3m65 0h3m11 0h3m48 0h3m5 0h3m3 0h3m-232 1h3m3 0h3m35 0h3m30 0h3m3 0h3m-1 0h3m38 0h3m2 0h3m7 0h3m8 0h3m0 0h3m10 0h3m14 0h3m1 0h3m26 0h3m14 0h3m7 0h3m-242 1h3m1 0h3m13 0h3m1 0h3m32 0h3m9 0h3m4 0h3m2 0h3m0 0h3m-1 0h3m-1 0h3m6 0h3m1 0h3m26 0h3m3 0h3m-1 0h3m30 0h3m31 0h3m4 0h3m11 0h3m-240 1h3m37 0h3m65 0h3m16 0h3m18 0h3m75 0h3m13 0h3m-2 0h3m18 0h3m-1 0h3m0 0h3m17 0h3m-272 1h3m18 0h3m36 0h3m1 0h3m18 0h3m63 0h3m8 0h3m0 0h3m7 0h3m-1 0h3m14 0h3m10 0h3m17 0h3m3 0h3m11 0h3m-245 1h3m8 0h3m6 0h3m27 0h3m6 0h3m9 0h3m-1 0h3m-2 0h3m29 0h3m0 0h3m2 0h3m9 0h3m47 0h3m4 0h3m-2 0h3m17 0h3m18 0h3m-247 1h3m1 0h3m29 0h3m7 0h3m5 0h3m11 0h3m-1 0h3m18 0h3m1 0h3m38 0h3m2 0h3m41 0h3m25 0h3m-223 1h3m11 0h3m71 0h3m2 0h3m9 0h3m7 0h3m11 0h3m4 0h3m3 0h3m18 0h3m14 0h3m6 0h3m79 0h3m-244 1h3m1 0h3m0 0h3m-2 0h3m1 0h3m6 0h3m12 0h3m23 0h3m16 0h3m5 0h3m13 0h3m41 0h3m6 0h3m11 0h3m58 0h3m-254 1h3m14 0h3m-1 0h3m-1 0h3m8 0h3m8 0h3m-1 0h3m12 0h3m-1 0h3m10 0h3m13 0h3m7 0h3m59 0h3m9 0h3m64 0h3m6 0h3m-241 1h3m17 0h3m-2 0h3m-2 0h3m4 0h3m8 0h3m8 0h3m4 0h3m-2 0h3m9 0h3m2 0h3m2 0h3m5 0h3m2 0h3m10 0h3m65 0h3m45 0h3m27 0h3m3 0h3m-239 1h3m15 0h3m31 0h3m4 0h3m3 0h3m-2 0h3m26 0h3m23 0h3m8 0h3m5 0h3m40 0h3m21 0h3m-256 1h3m27 0h3m-1 0h3m5 0h3m13 0h3m2 0h3m11 0h3m17 0h3m3 0h3m5 0h3m9 0h3m31 0h3m5 0h3m7 0h3m15 0h3m-1 0h3m16 0h3m-2 0h3m-214 1h3m3 0h3m5 0h3m47 0h3m-2 0h3m7 0h3m8 0h3m-1 0h3m-2 0h3m8 0h3m12 0h3m8 0h3m2 0h3m0 0h3m-1 0h3m76 0h3m3 0h3m-192 1h3m-2 0h3m1 0h3m12 0h3m0 0h3m7 0h3m2 0h3m8 0h3m-2 0h3m-2 0h3m3 0h3m7 0h3m15 0h3m-1 0h3m6 0h3m22 0h3m70 0h3m2 0h3m-239 1h3m-2 0h3m4 0h3m26 0h3m27 0h3m24 0h3m8 0h3m3 0h3m9 0h3m3 0h3m-2 0h3m1 0h3m63 0h3m11 0h3m-192 1h3m61 0h3m12 0h3m2 0h3m21 0h3m21 0h3m14 0h3m58 0h3m1 0h3m3 0h3m13 0h3m-264 1h3m21 0h3m1 0h3m9 0h3m20 0h3m19 0h3m-2 0h3m3 0h3m10 0h3m8 0h3m11 0h3m-1 0h3m7 0h3m15 0h3m74 0h3m0 0h3m21 0h3m-226 1h3m-1 0h3m5 0h3m4 0h3m17 0h3m2 0h3m5 0h3m-1 0h3m-2 0h3m39 0h3m12 0h3m19 0h3m45 0h3m27 0h3m9 0h3m24 0h3m-267 1h3m1 0h3m5 0h3m9 0h3m5 0h3m26 0h3m4 0h3m7 0h3m6 0h3m-1 0h3m10 0h3m11 0h3m1 0h3m29 0h3m4 0h3m37 0h3m13 0h3m9 0h3m11 0h3m20 0h3m-262 1h3m3 0h3m10 0h3m12 0h3m6 0h3m18 0h3m3 0h3m9 0h3m16 0h3m46 0h3m62 0h3m-236 1h3m15 0h3m25 0h3m-2 0h3m6 0h3m12 0h3m1 0h3m24 0h3m2 0h3m32 0h3m11 0h3m-2 0h3m38 0h3m20 0h3m-236 1h3m0 0h3m41 0h3m8 0h3m3 0h3m-2 0h3m4 0h3m18 0h3m16 0h3m-2 0h3m6 0h3m6 0h3m29 0h3m3 0h3m3 0h3m29 0h3m60 0h3m3 0h3m-259 1h3m0 0h3m4 0h3m5 0h3m5 0h3m43 0h3m4 0h3m14 0h3m6 0h3m1 0h3m0 0h3m40 0h3m21 0h3m52 0h3m28 0h3m-282 1h3m57 0h3m4 0h3m-2 0h3m14 0h3m3 0h3m-1 0h3m0 0h3m2 0h3m-2 0h3m9 0h3m31 0h3m32 0h3m20 0h3m14 0h3m18 0h3m6 0h3m8 0h3m-1 0h3m-264 1h3m-1 0h3m-2 0h3m19 0h3m5 0h3m12 0h3m-2 0h3m1 0h3m4 0h3m27 0h3m13 0h3m1 0h3m83 0h3m21 0h3m-237 1h3m26 0h3m38 0h3m-2 0h3m4 0h3m-1 0h3m27 0h3m-1 0h3m5 0h3m5 0h3m3 0h3m19 0h3m1 0h3m10 0h3m37 0h3m52 0h3m-270 1h3m-2 0h3m8 0h3m8 0h3m35 0h3m17 0h3m3 0h3m-2 0h3m13 0h3m4 0h3m-2 0h3m1 0h3m4 0h3m7 0h3m10 0h3m19 0h3m-2 0h3m12 0h3m9 0h3m-1 0h3m4 0h3m7 0h3m17 0h3m0 0h3m11 0h3m-234 1h3m-2 0h3m7 0h3m-1 0h3m-2 0h3m11 0h3m30 0h3m29 0h3m9 0h3m6 0h3m58 0h3m57 0h3m33 0h3m-286 1h3m4 0h3m8 0h3m17 0h3m0 0h3m7 0h3m2 0h3m24 0h3m1 0h3m2 0h3m6 0h3m3 0h3m16 0h3m5 0h3m-2 0h3m6 0h3m14 0h3m72 0h3m-249 1h3m-1 0h3m15 0h3m15 0h3m26 0h3m33 0h3m5 0h3m10 0h3m1 0h3m16 0h3m8 0h3m20 0h3m15 0h3m7 0h3m80 0h3m-283 1h3m6 0h3m7 0h3m18 0h3m6 0h3m35 0h3m11 0h3m-1 0h3m10 0h3m12 0h3m39 0h3m-1 0h3m21 0h3m62 0h3m-1 0h3m8 0h3m-292 1h3m6 0h3m18 0h3m18 0h3m11 0h3m-2 0h3m-2 0h3m-1 0h3m13 0h3m1 0h3m3 0h3m2 0h3m14 0h3m29 0h3m11 0h3m7 0h3m-2 0h3m103 0h3m-241 1h3m9 0h3m1 0h3m25 0h3m1 0h3m-1 0h3m5 0h3m2 0h3m5 0h3m4 0h3m1 0h3m3 0h3m-1 0h3m-1 0h3m6 0h3m67 0h3m43 0h3m4 0h3m-267 1h3m33 0h3m4 0h3m4 0h3m4 0h3m1 0h3m10 0h3m5 0h3m0 0h3m4 0h3m-2 0h3m18 0h3m5 0h3m-1 0h3m0 0h3m6 0h3m32 0h3m-2 0h3m13 0h3m47 0h3m0 0h3m11 0h3m3 0h3m-250 1h3m41 0h3m19 0h3m19 0h3m8 0h3m14 0h3m-1 0h3m1 0h3m1 0h3m20 0h3m5 0h3m1 0h3m0 0h3m0 0h3m-2 0h3m9 0h3m22 0h3m9 0h3m52 0h3m-286 1h3m3 0h3m25 0h3m8 0h3m-2 0h3m30 0h3m9 0h3m-2 0h3m-2 0h3m4 0h3m2 0h3m1 0h3m-2 0h3m2 0h3m17 0h3m4 0h3m22 0h3m17 0h3m40 0h3m-214 1h3m7 0h3m1 0h3m-2 0h3m-2 0h3m2 0h3m1 0h3m4 0h3m6 0h3m16 0h3m5 0h3m2 0h3m4 0h3m6 0h3m-1 0h3m-1 0h3m-2 0h3m5 0h3m18 0h3m41 0h3m14 0h3m18 0h3m7 0h3m-231 1h3m13 0h3m3 0h3m0 0h3m12 0h3m2 0h3m2 0h3m27 0h3m15 0h3m15 0h3m0 0h3m9 0h3m4 0h3m22 0h3m7 0h3m11 0h3m12 0h3m6 0h3m8 0h3m24 0h3m-1 0h3m9 0h3m17 0h3m-284 1h3m16 0h3m4 0h3m-2 0h3m48 0h3m5 0h3m13 0h3m5 0h3m1 0h3m-1 0h3m10 0h3m3 0h3m13 0h3m50 0h3m28 0h3m11 0h3m-264 1h3m13 0h3m5 0h3m-2 0h3m-1 0h3m-1 0h3m-2 0h3m51 0h3m22 0h3m16 0h3m1 0h3m10 0h3m9 0h3m1 0h3m8 0h3m2 0h3m70 0h3m-211 1h3m6 0h3m2 0h3m21 0h3m2 0h3m7 0h3m4 0h3m37 0h3m7 0h3m22 0h3m38 0h3m10 0h3m55 0h3m-292 1h3m15 0h3m17 0h3m52 0h3m34 0h3m4 0h3m12 0h3m21 0h3m8 0h3m6 0h3m11 0h3m-1 0h3m50 0h3m-270 1h3m10 0h3m3 0h3m9 0h3m32 0h3m13 0h3m1 0h3m33 0h3m16 0h3m3 0h3m8 0h3m1 0h3m46 0h3m4 0h3m16 0h3m-202 1h3m44 0h3m-1 0h3m-2 0h3m7 0h3m2 0h3m-1 0h3m0 0h3m3 0h3m4 0h3m10 0h3m23 0h3m17 0h3m5 0h3m13 0h3m59 0h3m0 0h3m-264 1h3m23 0h3m1 0h3m6 0h3m22 0h3m-1 0h3m6 0h3m-2 0h3m7 0h3m6 0h3m2 0h3m3 0h3m6 0h3m4 0h3m-2 0h3m22 0h3m4 0h3m10 0h3m4 0h3m2 0h3m29 0h3m23 0h3m-187 1h3m12 0h3m32 0h3m44 0h3m8 0h3m10 0h3m5 0h3m-1 0h3m25 0h3m15 0h3m29 0h3m19 0h3m-2 0h3m-261 1h3m18 0h3m25 0h3m11 0h3m5 0h3m-1 0h3m-2 0h3m10 0h3m14 0h3m0 0h3m12 0h3m23 0h3m18 0h3m24 0h3m1 0h3m10 0h3m-213 1h3m-2 0h3m37 0h3m37 0h3m-2 0h3m10 0h3m8 0h3m-1 0h3m-1 0h3m-1 0h3m11 0h3m16 0h3m8 0h3m12 0h3m17 0h3m16 0h3m-251 1h3m13 0h3m22 0h3m-1 0h3m8 0h3m9 0h3m4 0h3m15 0h3m-1 0h3m9 0h3m0 0h3m7 0h3m66 0h3m30 0h3m35 0h3m27 0h3m-2 0h3m-269 1h3m9 0h3m15 0h3m7 0h3m22 0h3m9 0h3m14 0h3m-1 0h3m2 0h3m9 0h3m4 0h3m30 0h3m24 0h3m34 0h3m22 0h3m-229 1h3m-2 0h3m1 0h3m0 0h3m0 0h3m2 0h3m26 0h3m0 0h3m4 0h3m12 0h3m-2 0h3m14 0h3m12 0h3m18 0h3m26 0h3m14 0h3m10 0h3m-218 1h3m6 0h3m14 0h3m24 0h3m11 0h3m6 0h3m5 0h3m0 0h3m2 0h3m13 0h3m1 0h3m4 0h3m-1 0h3m0 0h3m2 0h3m12 0h3m17 0h3m-2 0h3m13 0h3m0 0h3m66 0h3m-249 1h3m17 0h3m14 0h3m0 0h3m9 0h3m22 0h3m9 0h3m14 0h3m5 0h3m-1 0h3m0 0h3m-2 0h3m-1 0h3m0 0h3m-1 0h3m19 0h3m0 0h3m1 0h3m7 0h3m-2 0h3m-2 0h3m0 0h3m12 0h3m11 0h3m28 0h3m24 0h3m-263 1h3m16 0h3m4 0h3m20 0h3m-1 0h3m5 0h3m28 0h3m3 0h3m-2 0h3m2 0h3m19 0h3m13 0h3m3 0h3m3 0h3m45 0h3m12 0h3m8 0h3m6 0h3m-246 1h3m4 0h3m4 0h3m-2 0h3m33 0h3m35 0h3m11 0h3m4 0h3m11 0h3m17 0h3m2 0h3m6 0h3m21 0h3m3 0h3m25 0h3m14 0h3m27 0h3m19 0h3m-281 1h3m6 0h3m-2 0h3m34 0h3m23 0h3m-1 0h3m0 0h3m93 0h3m19 0h3m0 0h3m2 0h3m24 0h3m1 0h3m-225 1h3m25 0h3m13 0h3m-2 0h3m11 0h3m-1 0h3m1 0h3m7 0h3m-2 0h3m-1 0h3m-2 0h3m0 0h3m9 0h3m7 0h3m5 0h3m3 0h3m16 0h3m8 0h3m10 0h3m10 0h3m5 0h3m63 0h3m-1 0h3m7 0h3m-250 1h3m6 0h3m19 0h3m1 0h3m6 0h3m6 0h3m4 0h3m-1 0h3m8 0h3m35 0h3m10 0h3m-2 0h3m12 0h3m30 0h3m-1 0h3m20 0h3m-200 1h3m5 0h3m0 0h3m17 0h3m18 0h3m-1 0h3m3 0h3m9 0h3m12 0h3m0 0h3m-1 0h3m5 0h3m18 0h3m13 0h3m5 0h3m2 0h3m26 0h3m39 0h3m30 0h3m-292 1h3m39 0h3m-1 0h3m44 0h3m6 0h3m3 0h3m1 0h3m-1 0h3m13 0h3m21 0h3m19 0h3m44 0h3m40 0h3m9 0h3m-236 1h3m1 0h3m23 0h3m20 0h3m12 0h3m1 0h3m-2 0h3m-2 0h3m5 0h3m-1 0h3m27 0h3m0 0h3m38 0h3m6 0h3m34 0h3m2 0h3m2 0h3m16 0h3m12 0h3m-272 1h3m0 0h3m16 0h3m-2 0h3m7 0h3m1 0h3m0 0h3m4 0h3m1 0h3m1 0h3m23 0h3m1 0h3m37 0h3m10 0h3m74 0h3m37 0h3m-274 1h3m7 0h3m3 0h3m9 0h3m-1 0h3m-1 0h3m-2 0h3m0 0h3m-1 0h3m-2 0h3m1 0h3m-2 0h3m3 0h3m0 0h3m17 0h3m8 0h3m28 0h3m6 0h3m1 0h3m6 0h3m73 0h3m2 0h3m5 0h3m-237 1h3m17 0h3m16 0h3m-2 0h3m24 0h3m22 0h3m-1 0h3m-2 0h3m5 0h3m9 0h3m10 0h3m0 0h3m25 0h3m-2 0h3m10 0h3m26 0h3m20 0h3m50 0h3m4 0h3m-269 1h3m0 0h3m4 0h3m31 0h3m2 0h3m0 0h3m7 0h3m18 0h3m9 0h3m0 0h3m7 0h3m22 0h3m85 0h3m-220 1h3m28 0h3m4 0h3m0 0h3m31 0h3m0 0h3m1 0h3m9 0h3m4 0h3m2 0h3m-1 0h3m3 0h3m8 0h3m33 0h3m34 0h3m12 0h3m53 0h3m-289 1h3m23 0h3m27 0h3m-1 0h3m27 0h3m8 0h3m19 0h3m0 0h3m39 0h3m90 0h3m-241 1h3m34 0h3m7 0h3m13 0h3m2 0h3m14 0h3m9 0h3m-1 0h3m3 0h3m43 0h3m11 0h3m27 0h3m12 0h3m-219 1h3m0 0h3m10 0h3m13 0h3m11 0h3m0 0h3m2 0h3m24 0h3m28 0h3m2 0h3m0 0h3m-1 0h3m13 0h3m69 0h3m-207 1h3m23 0h3m8 0h3m4 0h3m1 0h3m20 0h3m0 0h3m5 0h3m-1 0h3m3 0h3m16 0h3m23 0h3m7 0h3m-1 0h3m80 0h3m22 0h3m1 0h3m-285 1h3m15 0h3m0 0h3m12 0h3m-1 0h3m9 0h3m-2 0h3m3 0h3m4 0h3m2 0h3m48 0h3m-2 0h3m9 0h3m-1 0h3m54 0h3m-2 0h3m11 0h3m0 0h3m25 0h3m37 0h3m-278 1h3m8 0h3m9 0h3m20 0h3m4 0h3m17 0h3m10 0h3m2 0h3m-2 0h3m7 0h3m28 0h3m0 0h3m68 0h3m18 0h3m-230 1h3m31 0h3m16 0h3m4 0h3m2 0h3m9 0h3m-1 0h3m12 0h3m7 0h3m1 0h3m7 0h3m11 0h3m3 0h3m21 0h3m48 0h3m-193 1h3m0 0h3m22 0h3m48 0h3m101 0h3m11 0h3m-216 1h3m-2 0h3m34 0h3m4 0h3m6 0h3m6 0h3m10 0h3m16 0h3m-1 0h3m18 0h3m23 0h3m60 0h3m46 0h3m-216 1h3m15 0h3m8 0h3m6 0h3m-1 0h3m2 0h3m11 0h3m3 0h3m10 0h3m4 0h3m25 0h3m34 0h3m-1 0h3m-195 1h3m-2 0h3m19 0h3m7 0h3m13 0h3m21 0h3m6 0h3m6 0h3m1 0h3m10 0h3m-2 0h3m-2 0h3m11 0h3m0 0h3m-1 0h3m119 0h3m14 0h3m-288 1h3m25 0h3m35 0h3m28 0h3m7 0h3m-1 0h3m6 0h3m1 0h3m1 0h3m-2 0h3m5 0h3m0 0h3m0 0h3m5 0h3m4 0h3m-1 0h3m82 0h3m-219 1h3m5 0h3m3 0h3m14 0h3m21 0h3m15 0h3m0 0h3m-2 0h3m-2 0h3m30 0h3m29 0h3m11 0h3m31 0h3m36 0h3m2 0h3m-268 1h3m13 0h3m1 0h3m20 0h3m3 0h3m3 0h3m22 0h3m8 0h3m13 0h3m7 0h3m9 0h3m0 0h3m10 0h3m-2 0h3m74 0h3m-220 1h3m24 0h3m40 0h3m-2 0h3m-1 0h3m-2 0h3m21 0h3m7 0h3m15 0h3m4 0h3m16 0h3m5 0h3m-2 0h3m22 0h3m25 0h3m-208 1h3m7 0h3m23 0h3m18 0h3m2 0h3m-1 0h3m7 0h3m18 0h3m17 0h3m21 0h3m6 0h3m7 0h3m-173 1h3m45 0h3m41 0h3m11 0h3m19 0h3m-1 0h3m4 0h3m14 0h3m47 0h3m39 0h3m-244 1h3m90 0h3m3 0h3m0 0h3m1 0h3m8 0h3m11 0h3m6 0h3m19 0h3m34 0h3m21 0h3m39 0h3m3 0h3m0 0h3m-270 1h3m19 0h3m11 0h3m33 0h3m20 0h3m11 0h3m10 0h3m6 0h3m14 0h3m26 0h3m-1 0h3m15 0h3m7 0h3m23 0h3m5 0h3m-256 1h3m9 0h3m23 0h3m-2 0h3m0 0h3m30 0h3m7 0h3m12 0h3m8 0h3m12 0h3m2 0h3m3 0h3m22 0h3m0 0h3m5 0h3m-93 1h3m-2 0h3m-2 0h3m6 0h3m13 0h3m-1 0h3m-2 0h3m2 0h3m-2 0h3m4 0h3m-1 0h3m45 0h3m5 0h3m83 0h3m-273 1h3m6 0h3m25 0h3m16 0h3m18 0h3m2 0h3m7 0h3m10 0h3m1 0h3m4 0h3m16 0h3m7 0h3m38 0h3m30 0h3m33 0h3m6 0h3m-252 1h3m-2 0h3m5 0h3m5 0h3m-2 0h3m5 0h3m28 0h3m6 0h3m9 0h3m18 0h3m3 0h3m19 0h3m7 0h3m-122 1h3m8 0h3m25 0h3m22 0h3m9 0h3m13 0h3m3 0h3m15 0h3m23 0h3m-140 1h3m21 0h3m22 0h3m8 0h3m0 0h3m10 0h3m0 0h3m1 0h3m2 0h3m1 0h3m18 0h3m69 0h3m19 0h3m18 0h3m-264 1h3m-2 0h3m18 0h3m17 0h3m5 0h3m24 0h3m11 0h3m4 0h3m7 0h3m3 0h3m7 0h3m6 0h3m7 0h3m16 0h3m5 0h3m-1 0h3m11 0h3m8 0h3m23 0h3m12 0h3m11 0h3m8 0h3m-258 1h3m43 0h3m9 0h3m8 0h3m8 0h3m16 0h3m19 0h3m0 0h3m-1 0h3m77 0h3m0 0h3m1 0h3m-1 0h3m1 0h3m6 0h3m16 0h3m5 0h3m-261 1h3m30 0h3m19 0h3m13 0h3m53 0h3m0 0h3m8 0h3m61 0h3m62 0h3m-174 1h3m8 0h3m17 0h3m18 0h3m37 0h3m63 0h3m-1 0h3m-270 1h3m2 0h3m13 0h3m64 0h3m11 0h3m40 0h3m17 0h3m19 0h3m6 0h3m46 0h3m-231 1h3m7 0h3m49 0h3m6 0h3m14 0h3m13 0h3m-1 0h3m-1 0h3m4 0h3m0 0h3m3 0h3m51 0h3m29 0h3m43 0h3m-223 1h3m0 0h3m6 0h3m8 0h3m17 0h3m0 0h3m3 0h3m-1 0h3m14 0h3m75 0h3m17 0h3m27 0h3m0 0h3m-261 1h3m12 0h3m35 0h3m36 0h3m59 0h3m4 0h3m14 0h3m21 0h3m84 0h3m-258 1h3m14 0h3m-1 0h3m-1 0h3m-1 0h3m21 0h3m0 0h3m3 0h3m31 0h3m3 0h3m-2 0h3m12 0h3m71 0h3m54 0h3m-230 1h3m5 0h3m32 0h3m-1 0h3m40 0h3m50 0h3m10 0h3m40 0h3m-226 1h3m5 0h3m9 0h3m23 0h3m13 0h3m16 0h3m-2 0h3m9 0h3m-2 0h3m13 0h3m5 0h3m-2 0h3m4 0h3m52 0h3m25 0h3m9 0h3m44 0h3m-297 1h3m-1 0h3m1 0h3m26 0h3m62 0h3m15 0h3m3 0h3m17 0h3m-1 0h3m86 0h3m29 0h3m-130 1h3m29 0h3m45 0h3" stroke="#333" stroke-width="3" fill="none" filter="url(#bl)"/>
<path transform="scale(.2)" d="M0 0m836 1147h3m164 0h3m-211 1h3m4 0h3m119 0h3m-27 1h3m0 0h3m20 0h3m33 0h3m4 0h3m-59 1h3m0 0h3m35 0h3m-63 1h3m9 0h3m9 0h3m-91 1h3m42 0h3m16 0h3m14 0h3m11 0h3m-102 1h3m10 0h3m37 0h3m6 0h3m14 0h3m30 0h3m18 0h3m0 0h3m24 0h3m-183 1h3m4 0h3m1 0h3m59 0h3m2 0h3m8 0h3m30 0h3m2 0h3m1 0h3m39 0h3m-179 1h3m16 0h3m25 0h3m10 0h3m38 0h3m50 0h3m1 0h3m3 0h3m13 0h3m9 0h3m18 0h3m-209 1h3m17 0h3m18 0h3m8 0h3m-1 0h3m3 0h3m3 0h3m3 0h3m12 0h3m4 0h3m11 0h3m0 0h3m10 0h3m1 0h3m-2 0h3m30 0h3m49 0h3m-225 1h3m51 0h3m22 0h3m9 0h3m18 0h3m10 0h3m14 0h3m11 0h3m-146 1h3m38 0h3m-2 0h3m19 0h3m13 0h3m8 0h3m5 0h3m13 0h3m13 0h3m0 0h3m24 0h3m37 0h3m16 0h3m-186 1h3m16 0h3m17 0h3m-2 0h3m27 0h3m90 0h3m29 0h3m-265 1h3m-1 0h3m4 0h3m12 0h3m10 0h3m1 0h3m57 0h3m19 0h3m1 0h3m-2 0h3m96 0h3m-223 1h3m12 0h3m7 0h3m30 0h3m9 0h3m2 0h3m34 0h3m1 0h3m-1 0h3m29 0h3m12 0h3m-133 1h3m21 0h3m1 0h3m21 0h3m26 0h3m12 0h3m-2 0h3m8 0h3m-143 1h3m27 0h3m38 0h3m23 0h3m22 0h3m1 0h3m12 0h3m81 0h3m-232 1h3m26 0h3m26 0h3m15 0h3m19 0h3m38 0h3m-35 1h3m41 0h3m-71 1h3m82 0h3m-79 3h3m16 0h3" stroke="#222" stroke-width="3" fill="none" filter="url(#bl)"/>
<path transform="scale(.2)" d="M0 0m1027 1081h3m-60 3h3m27 0h3m0 3h3m-73 5h3m-84 1h3m0 0h3m210 4h3m-68 3h3m-114 1h3m147 1h3m-76 2h3m-89 7h3m-42 1h3m-47 10h3" stroke="#555" stroke-width="3" fill="none" filter="url(#bl)"/>
<path transform="scale(.2)" d="M0 0m1006 1158h4m-27 4h4m18 2h4m-43 1h4m15 1h4m-21 1h4m1 0h4m26 0h4m-46 1h4m3 0h4m14 0h4m7 0h4m46 0h4m-70 1h4m26 0h4m-27 2h4m28 0h4m-21 1h4m-3 0h4m19 0h4m-65 1h4m-3 0h4m0 0h4m14 0h4m50 0h4m-73 1h4m21 0h4m-29 1h4m67 0h4m-75 1h4m34 0h4m-40 1h4m-2 0h4m-3 0h4m19 0h4m-3 0h4m15 0h4m14 0h4m-65 1h4m-2 0h4m7 0h4m16 0h4m-29 1h4m-24 1h4m5 0h4m-2 0h4m10 0h4m1 0h4m9 0h4m15 0h4m-3 0h4m-61 1h4m10 0h4m5 0h4m9 0h4m13 0h4m-62 1h4m3 0h4m8 0h4m38 0h4m-76 2h4m4 0h4m27 0h4m22 0h4m13 0h4m-61 1h4m30 0h4m-56 1h4m26 0h4m-8 1h4m-10 2h4m25 0h4m-19 1h4m3 0h4m10 0h4m-57 1h4m35 0h4m-32 2h4m5 0h4" stroke="#a080d8" stroke-width="4" fill="none" filter="url(#bl)"/>
<rect x="187.60" y="227.40" width="24.00" height="11.90" fill="none" stroke="#666" stroke-width="0.7"/>
<rect x="156.60" y="213.10" width="60.80" height="54.90" fill="none" stroke="#9a9a9a" stroke-width="0.7"/>
<line x1="156.6" y1="213.1" x2="156.6" y2="268.4" stroke="#222" stroke-width="0.9"/>
<line x1="156.2" y1="268" x2="217.4" y2="268" stroke="#333" stroke-width="0.8"/>
<text x="155.2" y="218.79999999999998" font-size="3.3" font-family="Liberation Sans" fill="#333" text-anchor="end" transform="rotate(38 155.2 218.79999999999998)">10<tspan dy="-1" font-size="2.2">5</tspan></text>
<line x1="155.4" y1="217.79999999999998" x2="156.6" y2="217.79999999999998" stroke="#333" stroke-width="0.6"/>
<text x="155.2" y="232.87436363636363" font-size="3.3" font-family="Liberation Sans" fill="#333" text-anchor="end" transform="rotate(38 155.2 232.87436363636363)">10<tspan dy="-1" font-size="2.2">5</tspan></text>
<line x1="155.4" y1="231.87436363636363" x2="156.6" y2="231.87436363636363" stroke="#333" stroke-width="0.6"/>
<text x="155.2" y="246.94872727272727" font-size="3.3" font-family="Liberation Sans" fill="#333" text-anchor="end" transform="rotate(38 155.2 246.94872727272727)">10<tspan dy="-1" font-size="2.2">5</tspan></text>
<line x1="155.4" y1="245.94872727272727" x2="156.6" y2="245.94872727272727" stroke="#333" stroke-width="0.6"/>
<text x="155.2" y="261.0230909090909" font-size="3.3" font-family="Liberation Sans" fill="#333" text-anchor="end" transform="rotate(38 155.2 261.0230909090909)">10<tspan dy="-1" font-size="2.2">5</tspan></text>
<line x1="155.4" y1="260.0230909090909" x2="156.6" y2="260.0230909090909" stroke="#333" stroke-width="0.6"/>
<text x="164.7" y="272.6" font-size="3.3" font-family="Liberation Sans" fill="#333" text-anchor="middle" transform="rotate(-40 164.7 271.6)">10<tspan dy="-1" font-size="2.2">5</tspan></text>
<line x1="164.7" y1="268" x2="164.7" y2="269.2" stroke="#333" stroke-width="0.6"/>
<text x="179.6" y="272.6" font-size="3.3" font-family="Liberation Sans" fill="#333" text-anchor="middle" transform="rotate(-40 179.6 271.6)">10<tspan dy="-1" font-size="2.2">5</tspan></text>
<line x1="179.6" y1="268" x2="179.6" y2="269.2" stroke="#333" stroke-width="0.6"/>
<text x="194.5" y="272.6" font-size="3.3" font-family="Liberation Sans" fill="#333" text-anchor="middle" transform="rotate(-40 194.5 271.6)">10<tspan dy="-1" font-size="2.2">5</tspan></text>
<line x1="194.5" y1="268" x2="194.5" y2="269.2" stroke="#333" stroke-width="0.6"/>
<text x="209.39999999999998" y="272.6" font-size="3.3" font-family="Liberation Sans" fill="#333" text-anchor="middle" transform="rotate(-40 209.39999999999998 271.6)">10<tspan dy="-1" font-size="2.2">5</tspan></text>
<line x1="209.39999999999998" y1="268" x2="209.39999999999998" y2="269.2" stroke="#333" stroke-width="0.6"/>
<path transform="scale(.2)" d="M0 0m816 1470h3m-32 2h3m90 0h3m21 0h3m-82 2h3m56 0h3m-70 1h3m17 2h3m19 0h3m-16 1h3m-33 1h3m-2 1h3m76 0h3m-10 1h3m4 0h3m-62 1h3m5 0h3m35 0h3m-59 1h3m4 0h3m3 0h3m21 0h3m-45 1h3m48 0h3m-67 1h3m12 0h3m-22 1h3m23 0h3m17 0h3m5 0h3m23 0h3m0 1h3m-1 1h3m-1 0h3m11 0h3m23 0h3m38 0h3m-144 1h3m12 0h3m45 0h3m0 0h3m17 0h3m-108 1h3m0 0h3m9 0h3m9 0h3m10 0h3m24 0h3m17 0h3m32 0h3m14 0h3m-111 1h3m38 0h3m-57 1h3m-1 0h3m29 0h3m7 0h3m57 0h3m30 0h3m-127 1h3m0 0h3m6 0h3m7 0h3m7 0h3m11 0h3m6 0h3m55 0h3m-143 1h3m3 0h3m5 0h3m15 0h3m4 0h3m3 0h3m-2 0h3m20 0h3m47 0h3m1 0h3m7 0h3m-134 1h3m13 0h3m25 0h3m4 0h3m3 0h3m3 0h3m3 0h3m33 0h3m43 0h3m-178 1h3m13 0h3m1 0h3m18 0h3m-2 0h3m25 0h3m10 0h3m71 0h3m-135 1h3m11 0h3m33 0h3m42 0h3m20 0h3m46 0h3m-181 1h3m3 0h3m21 0h3m-2 0h3m2 0h3m26 0h3m21 0h3m14 0h3m6 0h3m-2 0h3m-119 1h3m11 0h3m13 0h3m15 0h3m7 0h3m12 0h3m40 0h3m9 0h3m17 0h3m-149 1h3m9 0h3m4 0h3m2 0h3m40 0h3m11 0h3m1 0h3m28 0h3m16 0h3m-161 1h3m10 0h3m30 0h3m39 0h3m3 0h3m10 0h3m11 0h3m14 0h3m-140 1h3m24 0h3m5 0h3m0 0h3m0 0h3m-2 0h3m2 0h3m13 0h3m33 0h3m2 0h3m8 0h3m1 0h3m21 0h3m3 0h3m-143 1h3m12 0h3m1 0h3m8 0h3m-1 0h3m6 0h3m11 0h3m0 0h3m26 0h3m0 0h3m2 0h3m6 0h3m3 0h3m-115 1h3m12 0h3m20 0h3m-2 0h3m8 0h3m17 0h3m-1 0h3m4 0h3m0 0h3m0 0h3m4 0h3m23 0h3m18 0h3m11 0h3m21 0h3m-1 0h3m-183 1h3m30 0h3m0 0h3m0 0h3m1 0h3m19 0h3m7 0h3m2 0h3m20 0h3m12 0h3m23 0h3m-152 1h3m-2 0h3m3 0h3m-1 0h3m20 0h3m10 0h3m4 0h3m5 0h3m18 0h3m-1 0h3m0 0h3m0 0h3m1 0h3m-2 0h3m0 0h3m-1 0h3m4 0h3m16 0h3m4 0h3m7 0h3m1 0h3m-142 1h3m26 0h3m1 0h3m6 0h3m0 0h3m9 0h3m14 0h3m11 0h3m7 0h3m0 0h3m0 0h3m-114 1h3m27 0h3m3 0h3m-2 0h3m4 0h3m1 0h3m6 0h3m2 0h3m3 0h3m15 0h3m15 0h3m17 0h3m14 0h3m16 0h3m-132 1h3m-2 0h3m20 0h3m4 0h3m7 0h3m28 0h3m-1 0h3m-2 0h3m31 0h3m-1 0h3m33 0h3m-176 1h3m13 0h3m12 0h3m5 0h3m3 0h3m-2 0h3m8 0h3m5 0h3m-2 0h3m0 0h3m2 0h3m2 0h3m1 0h3m3 0h3m3 0h3m-101 1h3m0 0h3m19 0h3m8 0h3m1 0h3m4 0h3m13 0h3m2 0h3m-1 0h3m24 0h3m12 0h3m-1 0h3m-104 1h3m7 0h3m-2 0h3m4 0h3m5 0h3m0 0h3m1 0h3m12 0h3m1 0h3m2 0h3m2 0h3m15 0h3m9 0h3m25 0h3m43 0h3m3 0h3m-179 1h3m-1 0h3m7 0h3m13 0h3m2 0h3m2 0h3m-2 0h3m4 0h3m4 0h3m25 0h3m1 0h3m7 0h3m-1 0h3m10 0h3m31 0h3m-138 1h3m4 0h3m1 0h3m2 0h3m19 0h3m1 0h3m5 0h3m-2 0h3m17 0h3m51 0h3m13 0h3m-135 1h3m-2 0h3m-2 0h3m23 0h3m2 0h3m33 0h3m24 0h3m-2 0h3m7 0h3m19 0h3m-2 0h3m23 0h3m-189 1h3m15 0h3m39 0h3m3 0h3m0 0h3m13 0h3m6 0h3m13 0h3m0 0h3m-86 1h3m3 0h3m0 0h3m11 0h3m4 0h3m42 0h3m19 0h3m7 0h3m-127 1h3m0 0h3m33 0h3m6 0h3m9 0h3m0 0h3m4 0h3m11 0h3m6 0h3m0 0h3m50 0h3m-166 1h3m24 0h3m44 0h3m1 0h3m7 0h3m32 0h3m0 0h3m8 0h3m-135 1h3m5 0h3m28 0h3m0 0h3m18 0h3m2 0h3m30 0h3m37 0h3m-142 1h3m13 0h3m3 0h3m17 0h3m30 0h3m-2 0h3m15 0h3m61 0h3m-130 1h3m10 0h3m0 0h3m35 0h3m24 0h3m-105 1h3m28 0h3m5 0h3m18 0h3m13 0h3m3 0h3m8 0h3m-1 0h3m-96 1h3m25 0h3m7 0h3m-2 0h3m1 0h3m-2 0h3m-1 0h3m79 0h3m-146 1h3m31 0h3m38 0h3m63 0h3m18 0h3m2 0h3m-109 1h3m1 0h3m4 0h3m6 0h3m15 0h3m67 0h3m-159 1h3m0 0h3m23 0h3m25 0h3m11 0h3m8 0h3m-57 1h3m9 0h3m31 0h3m-1 0h3m-89 1h3m3 0h3m2 0h3m25 0h3m13 0h3m-2 0h3m-20 1h3m1 0h3m2 0h3m18 0h3m-21 1h3m20 0h3m5 0h3m29 0h3m1 0h3m-92 1h3m47 1h3m40 0h3m46 1h3m-82 1h3m40 4h3m-146 1h3m117 0h3m-56 1h3m80 0h3m-49 1h3m-2 1h3m9 0h3m61 0h3m-119 1h3m28 0h3m-16 2h3m24 0h3m4 2h3m-51 1h3m-2 1h3m-44 1h3m61 0h3m15 0h3m-88 1h3m110 1h3m22 0h3m-2 0h3m-124 1h3m54 0h3m-95 1h3m50 0h3m44 0h3m14 0h3m-77 1h3m-8 1h3m2 0h3m4 0h3m61 0h3m-75 1h3m13 0h3m125 0h3m-184 1h3m-1 0h3m6 0h3m1 0h3m102 0h3m15 0h3m-57 1h3m12 0h3m33 0h3m-122 1h3m22 0h3m11 0h3m23 0h3m6 0h3m25 0h3m52 0h3m-133 1h3m18 0h3m9 0h3m-69 1h3m28 0h3m13 0h3m15 0h3m8 0h3m-69 1h3m54 0h3m0 0h3m17 0h3m-72 1h3m18 0h3m31 0h3m2 0h3m15 0h3m-94 1h3m66 1h3m5 0h3m23 0h3m25 0h3m-144 1h3m23 0h3m3 0h3m1 0h3m8 0h3m6 0h3m13 0h3m11 0h3m-99 1h3m2 0h3m44 0h3m14 0h3m7 0h3m39 0h3m-109 1h3m30 0h3m7 0h3m-2 0h3m8 0h3m10 0h3m29 0h3m34 0h3m-148 1h3m-1 0h3m0 0h3m10 0h3m10 0h3m17 0h3m0 0h3m1 0h3m-2 0h3m1 0h3m12 0h3m61 0h3m-147 1h3m52 0h3m28 0h3m0 0h3m10 0h3m19 0h3m50 0h3m-190 1h3m90 0h3m4 0h3m0 0h3m25 0h3m27 0h3m-134 1h3m9 0h3m1 0h3m16 0h3m30 0h3m-1 0h3m34 0h3m-134 1h3m0 0h3m73 0h3m3 0h3m-2 0h3m1 0h3m9 0h3m-86 1h3m16 0h3m34 0h3m-1 0h3m8 0h3m1 0h3m12 0h3m4 0h3m5 0h3m7 0h3m0 0h3m5 0h3m-1 0h3m-146 1h3m6 0h3m7 0h3m21 0h3m16 0h3m53 0h3m3 0h3m22 0h3m-129 1h3m1 0h3m19 0h3m18 0h3m-1 0h3m2 0h3m0 0h3m-2 0h3m3 0h3m11 0h3m5 0h3m-43 1h3m14 0h3m8 0h3m0 0h3m1 0h3m9 0h3m19 0h3m31 0h3m20 0h3m-213 1h3m17 0h3m-2 0h3m1 0h3m5 0h3m8 0h3m16 0h3m3 0h3m-1 0h3m9 0h3m5 0h3m0 0h3m14 0h3m-68 1h3m-1 0h3m11 0h3m7 0h3m1 0h3m4 0h3m0 0h3m13 0h3m-92 1h3m8 0h3m2 0h3m11 0h3m1 0h3m38 0h3m-2 0h3m-1 0h3m-1 0h3m-77 1h3m13 0h3m2 0h3m21 0h3m6 0h3m1 0h3m4 0h3m20 0h3m6 0h3m31 0h3m24 0h3m-145 1h3m9 0h3m-2 0h3m3 0h3m24 0h3m0 0h3m0 0h3m3 0h3m34 0h3m-110 1h3m11 0h3m5 0h3m2 0h3m55 0h3m7 0h3m9 0h3m-2 0h3m57 0h3m-174 1h3m9 0h3m26 0h3m9 0h3m13 0h3m1 0h3m10 0h3m8 0h3m61 0h3m7 0h3m-166 1h3m11 0h3m37 0h3m-2 0h3m2 0h3m4 0h3m-1 0h3m3 0h3m6 0h3m1 0h3m19 0h3m-1 0h3m55 0h3m-178 1h3m0 0h3m2 0h3m2 0h3m-1 0h3m8 0h3m16 0h3m10 0h3m17 0h3m0 0h3m2 0h3m0 0h3m30 0h3m10 0h3m-133 1h3m-2 0h3m-1 0h3m-1 0h3m10 0h3m10 0h3m-1 0h3m-1 0h3m-1 0h3m3 0h3m0 0h3m10 0h3m13 0h3m6 0h3m10 0h3m8 0h3m1 0h3m24 0h3m26 0h3m-172 1h3m19 0h3m-2 0h3m31 0h3m13 0h3m16 0h3m1 0h3m4 0h3m6 0h3m20 0h3m1 0h3m26 0h3m-187 1h3m4 0h3m6 0h3m0 0h3m3 0h3m19 0h3m-1 0h3m2 0h3m19 0h3m44 0h3m0 0h3m-1 0h3m3 0h3m-2 0h3m10 0h3m-152 1h3m3 0h3m-1 0h3m0 0h3m0 0h3m16 0h3m0 0h3m15 0h3m0 0h3m1 0h3m-2 0h3m3 0h3m0 0h3m14 0h3m8 0h3m16 0h3m1 0h3m0 0h3m4 0h3m6 0h3m-151 1h3m7 0h3m7 0h3m3 0h3m18 0h3m11 0h3m-1 0h3m1 0h3m4 0h3m1 0h3m-1 0h3m-1 0h3m8 0h3m0 0h3m10 0h3m33 0h3m-120 1h3m6 0h3m6 0h3m1 0h3m4 0h3m-1 0h3m-2 0h3m18 0h3m-1 0h3m3 0h3m3 0h3m4 0h3m9 0h3m9 0h3m3 0h3m12 0h3m3 0h3m13 0h3m-158 1h3m21 0h3m9 0h3m5 0h3m10 0h3m0 0h3m1 0h3m4 0h3m3 0h3m-2 0h3m18 0h3m6 0h3m2 0h3m-2 0h3m14 0h3m9 0h3m4 0h3m5 0h3m-177 1h3m37 0h3m16 0h3m4 0h3m1 0h3m-2 0h3m1 0h3m1 0h3m4 0h3m6 0h3m4 0h3m6 0h3m-2 0h3m-1 0h3m40 0h3m-129 1h3m26 0h3m-1 0h3m1 0h3m16 0h3m4 0h3m3 0h3m-2 0h3m7 0h3m5 0h3m9 0h3m36 0h3m-146 1h3m-2 0h3m8 0h3m3 0h3m3 0h3m3 0h3m-2 0h3m15 0h3m8 0h3m-2 0h3m0 0h3m-2 0h3m7 0h3m16 0h3m20 0h3m3 0h3m-147 1h3m21 0h3m4 0h3m10 0h3m2 0h3m10 0h3m0 0h3m11 0h3m-2 0h3m1 0h3m1 0h3m0 0h3m4 0h3m14 0h3m8 0h3m-2 0h3m19 0h3m42 0h3m-194 1h3m2 0h3m7 0h3m0 0h3m9 0h3m2 0h3m-1 0h3m20 0h3m4 0h3m5 0h3m6 0h3m-1 0h3m3 0h3m1 0h3m9 0h3m-1 0h3m3 0h3m3 0h3m69 0h3m-199 1h3m4 0h3m21 0h3m3 0h3m28 0h3m-2 0h3m-2 0h3m10 0h3m-1 0h3m2 0h3m14 0h3m3 0h3m6 0h3m3 0h3m-1 0h3m-127 1h3m1 0h3m4 0h3m39 0h3m2 0h3m13 0h3m-1 0h3m3 0h3m3 0h3m3 0h3m4 0h3m22 0h3m8 0h3m15 0h3m-118 1h3m1 0h3m0 0h3m13 0h3m-1 0h3m-2 0h3m-1 0h3m-1 0h3m-1 0h3m-2 0h3m-2 0h3m4 0h3m18 0h3m9 0h3m-1 0h3m16 0h3m-2 0h3m9 0h3m6 0h3m-163 1h3m6 0h3m13 0h3m4 0h3m4 0h3m8 0h3m8 0h3m-2 0h3m5 0h3m-2 0h3m3 0h3m2 0h3m-2 0h3m18 0h3m3 0h3m-1 0h3m29 0h3m16 0h3m0 0h3m14 0h3m-162 1h3m11 0h3m0 0h3m-1 0h3m5 0h3m4 0h3m16 0h3m-2 0h3m0 0h3m18 0h3m18 0h3m14 0h3m19 0h3m33 0h3m-194 1h3m7 0h3m9 0h3m-1 0h3m-1 0h3m13 0h3m2 0h3m3 0h3m-2 0h3m-2 0h3m4 0h3m-2 0h3m-1 0h3m-2 0h3m23 0h3m1 0h3m7 0h3m0 0h3m2 0h3m17 0h3m7 0h3m23 0h3m-189 1h3m40 0h3m20 0h3m5 0h3m5 0h3m1 0h3m-2 0h3m10 0h3m5 0h3m1 0h3m7 0h3m32 0h3m-2 0h3m7 0h3m20 0h3m-182 1h3m8 0h3m2 0h3m4 0h3m3 0h3m16 0h3m-2 0h3m-2 0h3m11 0h3m-2 0h3m8 0h3m1 0h3m1 0h3m2 0h3m2 0h3m-1 0h3m-1 0h3m3 0h3m5 0h3m3 0h3m24 0h3m-1 0h3m7 0h3m-161 1h3m7 0h3m13 0h3m0 0h3m20 0h3m-2 0h3m23 0h3m0 0h3m0 0h3m10 0h3m0 0h3m13 0h3m57 0h3m-174 1h3m12 0h3m16 0h3m21 0h3m0 0h3m5 0h3m2 0h3m0 0h3m27 0h3m26 0h3m-134 1h3m10 0h3m8 0h3m-1 0h3m6 0h3m1 0h3m-1 0h3m3 0h3m1 0h3m4 0h3m-1 0h3m-1 0h3m11 0h3m1 0h3m0 0h3m-2 0h3m-2 0h3m4 0h3m-2 0h3m-1 0h3m25 0h3m-1 0h3m-124 1h3m22 0h3m20 0h3m22 0h3m0 0h3m-2 0h3m6 0h3m23 0h3m9 0h3m41 0h3m18 0h3m-210 1h3m13 0h3m9 0h3m0 0h3m8 0h3m23 0h3m0 0h3m8 0h3m14 0h3m0 0h3m2 0h3m20 0h3m-2 0h3m20 0h3m19 0h3m-153 1h3m0 0h3m6 0h3m1 0h3m-1 0h3m10 0h3m7 0h3m6 0h3m6 0h3m2 0h3m10 0h3m3 0h3m8 0h3m70 0h3m-186 1h3m9 0h3m10 0h3m17 0h3m-1 0h3m-1 0h3m8 0h3m1 0h3m8 0h3m9 0h3m7 0h3m20 0h3m13 0h3m25 0h3m-172 1h3m9 0h3m27 0h3m11 0h3m-2 0h3m0 0h3m2 0h3m2 0h3m6 0h3m21 0h3m1 0h3m17 0h3m0 0h3m11 0h3m13 0h3m-171 1h3m-2 0h3m5 0h3m2 0h3m5 0h3m9 0h3m0 0h3m0 0h3m11 0h3m4 0h3m3 0h3m3 0h3m17 0h3m-1 0h3m31 0h3m1 0h3m3 0h3m-143 1h3m17 0h3m0 0h3m6 0h3m3 0h3m22 0h3m21 0h3m-2 0h3m4 0h3m0 0h3m10 0h3m18 0h3m16 0h3m20 0h3m-182 1h3m-1 0h3m4 0h3m3 0h3m3 0h3m8 0h3m6 0h3m3 0h3m4 0h3m2 0h3m7 0h3m2 0h3m-2 0h3m3 0h3m0 0h3m6 0h3m6 0h3m7 0h3m-2 0h3m11 0h3m13 0h3m-131 1h3m3 0h3m12 0h3m1 0h3m6 0h3m6 0h3m-2 0h3m-1 0h3m4 0h3m13 0h3m-2 0h3m37 0h3m1 0h3m-1 0h3m28 0h3m-1 0h3m-156 1h3m-1 0h3m7 0h3m-1 0h3m15 0h3m1 0h3m4 0h3m7 0h3m17 0h3m27 0h3m19 0h3m26 0h3m-148 1h3m3 0h3m4 0h3m12 0h3m7 0h3m0 0h3m0 0h3m-2 0h3m-1 0h3m-2 0h3m8 0h3m5 0h3m15 0h3m12 0h3m3 0h3m0 0h3m0 0h3m0 0h3m27 0h3m-2 0h3m-151 1h3m4 0h3m-2 0h3m31 0h3m4 0h3m10 0h3m1 0h3m-2 0h3m3 0h3m-1 0h3m-1 0h3m28 0h3m-1 0h3m12 0h3m6 0h3m-140 1h3m32 0h3m4 0h3m0 0h3m-2 0h3m7 0h3m37 0h3m62 0h3m-155 1h3m16 0h3m2 0h3m0 0h3m3 0h3m21 0h3m17 0h3m14 0h3m-1 0h3m-2 0h3m17 0h3m6 0h3m10 0h3m-165 1h3m2 0h3m16 0h3m5 0h3m-1 0h3m4 0h3m19 0h3m2 0h3m2 0h3m3 0h3m12 0h3m11 0h3m-2 0h3m7 0h3m-2 0h3m4 0h3m29 0h3m5 0h3m-147 1h3m4 0h3m10 0h3m6 0h3m0 0h3m9 0h3m8 0h3m2 0h3m-1 0h3m-1 0h3m2 0h3m4 0h3m3 0h3m-2 0h3m4 0h3m64 0h3m-126 1h3m2 0h3m12 0h3m10 0h3m10 0h3m17 0h3m8 0h3m0 0h3m16 0h3m-137 1h3m4 0h3m1 0h3m2 0h3m4 0h3m10 0h3m-1 0h3m22 0h3m22 0h3m4 0h3m9 0h3m-1 0h3m6 0h3m29 0h3m-163 1h3m12 0h3m18 0h3m0 0h3m3 0h3m4 0h3m32 0h3m-2 0h3m4 0h3m12 0h3m14 0h3m49 0h3m-191 1h3m42 0h3m6 0h3m5 0h3m12 0h3m4 0h3m-1 0h3m18 0h3m27 0h3m4 0h3m-110 1h3m-1 0h3m9 0h3m3 0h3m7 0h3m40 0h3m2 0h3m12 0h3m-2 0h3m17 0h3m4 0h3m-145 1h3m19 0h3m46 0h3m0 0h3m1 0h3m11 0h3m2 0h3m0 0h3m16 0h3m1 0h3m75 0h3m-174 1h3m2 0h3m6 0h3m3 0h3m18 0h3m1 0h3m2 0h3m-1 0h3m26 0h3m5 0h3m12 0h3m6 0h3m-105 1h3m-2 0h3m7 0h3m25 0h3m-1 0h3m0 0h3m22 0h3m3 0h3m11 0h3m28 0h3m-174 1h3m39 0h3m24 0h3m9 0h3m1 0h3m20 0h3m-1 0h3m-78 1h3m0 0h3m6 0h3m0 0h3m1 0h3m4 0h3m-2 0h3m4 0h3m26 0h3m0 0h3m2 0h3m11 0h3m4 0h3m-127 1h3m13 0h3m3 0h3m4 0h3m7 0h3m6 0h3m36 0h3m18 0h3m23 0h3m-96 1h3m18 0h3m89 0h3m-101 1h3m12 0h3m22 0h3m30 0h3m-117 1h3m6 0h3m4 0h3m-1 0h3m20 0h3m1 0h3m4 0h3m40 0h3m-92 1h3m2 0h3m11 0h3m3 0h3m9 0h3m1 0h3m22 0h3m33 0h3m14 0h3m-91 1h3m9 0h3m8 0h3m10 0h3m42 0h3m3 0h3m94 0h3m-208 1h3m-2 0h3m24 0h3m0 0h3m28 0h3m0 0h3m-106 1h3m12 0h3m16 0h3m35 0h3m14 0h3m14 0h3m9 0h3m-1 0h3m2 0h3m-52 1h3m15 0h3m2 0h3m-15 1h3m-2 0h3m20 0h3m4 0h3m-59 1h3m55 0h3m-58 1h3m54 0h3m4 0h3m-128 1h3m65 0h3m45 0h3m-57 2h3m-24 1h3m3 0h3m-12 1h3m57 0h3m-83 1h3m21 0h3m16 0h3m67 0h3m-95 1h3m1 0h3m-26 1h3m90 0h3m10 0h3m-55 1h3m29 0h3m150 0h3" stroke="#111" stroke-width="3" fill="none" filter="url(#bl)"/>
<path transform="scale(.2)" d="M0 0m945 1463h3m-88 4h3m-62 1h3m1 0h3m114 0h3m3 0h3m18 0h3m-141 1h3m9 0h3m52 0h3m56 0h3m-139 1h3m14 0h3m11 0h3m31 0h3m19 0h3m-98 1h3m33 0h3m18 0h3m-2 0h3m20 0h3m38 0h3m-1 0h3m-115 1h3m15 0h3m4 0h3m48 0h3m5 0h3m41 0h3m-141 1h3m7 0h3m28 0h3m16 0h3m30 0h3m14 0h3m1 0h3m26 0h3m-42 1h3m1 0h3m11 0h3m-122 1h3m21 0h3m2 0h3m3 0h3m15 0h3m18 0h3m39 0h3m-2 0h3m24 0h3m57 0h3m-202 1h3m14 0h3m21 0h3m45 0h3m37 0h3m2 0h3m5 0h3m27 0h3m18 0h3m1 0h3m30 0h3m42 0h3m-1 0h3m-277 1h3m88 0h3m4 0h3m3 0h3m31 0h3m2 0h3m95 0h3m-201 1h3m23 0h3m29 0h3m23 0h3m18 0h3m19 0h3m16 0h3m-2 0h3m-1 0h3m-186 1h3m-1 0h3m7 0h3m14 0h3m37 0h3m3 0h3m14 0h3m22 0h3m8 0h3m99 0h3m-245 1h3m-2 0h3m27 0h3m9 0h3m22 0h3m38 0h3m9 0h3m2 0h3m54 0h3m36 0h3m-216 1h3m77 0h3m22 0h3m-84 1h3m-2 0h3m27 0h3m22 0h3m24 0h3m16 0h3m-1 0h3m37 0h3m24 0h3m-218 1h3m33 0h3m34 0h3m10 0h3m12 0h3m35 0h3m19 0h3m36 0h3m8 0h3m36 0h3m-236 1h3m1 0h3m0 0h3m6 0h3m67 0h3m4 0h3m21 0h3m130 0h3m-251 1h3m85 0h3m21 0h3m11 0h3m14 0h3m2 0h3m40 0h3m31 0h3m-207 1h3m9 0h3m10 0h3m23 0h3m-2 0h3m56 0h3m23 0h3m9 0h3m7 0h3m34 0h3m3 0h3m16 0h3m-1 0h3m22 0h3m-291 1h3m24 0h3m66 0h3m9 0h3m6 0h3m6 0h3m45 0h3m31 0h3m45 0h3m-164 1h3m36 0h3m6 0h3m4 0h3m43 0h3m10 0h3m47 0h3m-225 1h3m15 0h3m44 0h3m2 0h3m1 0h3m32 0h3m-1 0h3m0 0h3m14 0h3m16 0h3m-2 0h3m11 0h3m20 0h3m-216 1h3m53 0h3m39 0h3m18 0h3m-1 0h3m45 0h3m79 0h3m9 0h3m-279 1h3m1 0h3m59 0h3m24 0h3m46 0h3m3 0h3m2 0h3m15 0h3m-164 1h3m82 0h3m0 0h3m3 0h3m45 0h3m35 0h3m42 0h3m34 0h3m-261 1h3m23 0h3m82 0h3m6 0h3m0 0h3m-1 0h3m7 0h3m0 0h3m4 0h3m35 0h3m44 0h3m19 0h3m-265 1h3m33 0h3m21 0h3m11 0h3m5 0h3m29 0h3m4 0h3m6 0h3m35 0h3m-147 1h3m3 0h3m60 0h3m-1 0h3m10 0h3m5 0h3m12 0h3m25 0h3m21 0h3m24 0h3m-207 1h3m117 0h3m-1 0h3m9 0h3m3 0h3m56 0h3m21 0h3m18 0h3m10 0h3m-231 1h3m45 0h3m-2 0h3m20 0h3m5 0h3m20 0h3m4 0h3m6 0h3m89 0h3m9 0h3m-225 1h3m17 0h3m-2 0h3m5 0h3m14 0h3m30 0h3m15 0h3m12 0h3m1 0h3m30 0h3m-193 1h3m71 0h3m-1 0h3m-2 0h3m13 0h3m9 0h3m16 0h3m27 0h3m34 0h3m35 0h3m7 0h3m-220 1h3m54 0h3m22 0h3m3 0h3m4 0h3m17 0h3m14 0h3m4 0h3m18 0h3m66 0h3m-252 1h3m40 0h3m0 0h3m67 0h3m25 0h3m9 0h3m26 0h3m45 0h3m35 0h3m5 0h3m-281 1h3m8 0h3m5 0h3m-1 0h3m0 0h3m41 0h3m42 0h3m72 0h3m47 0h3m26 0h3m12 0h3m-278 1h3m7 0h3m38 0h3m26 0h3m14 0h3m22 0h3m-2 0h3m-2 0h3m6 0h3m-1 0h3m84 0h3m-222 1h3m14 0h3m40 0h3m3 0h3m6 0h3m5 0h3m18 0h3m26 0h3m73 0h3m-1 0h3m24 0h3m5 0h3m-198 1h3m34 0h3m3 0h3m2 0h3m1 0h3m1 0h3m7 0h3m22 0h3m24 0h3m37 0h3m29 0h3m1 0h3m-186 1h3m31 0h3m-1 0h3m7 0h3m2 0h3m1 0h3m12 0h3m20 0h3m21 0h3m8 0h3m-201 1h3m3 0h3m14 0h3m4 0h3m13 0h3m6 0h3m-1 0h3m3 0h3m11 0h3m2 0h3m2 0h3m33 0h3m8 0h3m99 0h3m5 0h3m-239 1h3m8 0h3m5 0h3m8 0h3m21 0h3m8 0h3m9 0h3m1 0h3m11 0h3m34 0h3m61 0h3m-54 1h3m62 0h3m0 0h3m-185 1h3m8 0h3m7 0h3m16 0h3m10 0h3m29 0h3m1 0h3m-1 0h3m15 0h3m0 0h3m25 0h3m1 0h3m-2 0h3m17 0h3m-188 1h3m7 0h3m26 0h3m1 0h3m-2 0h3m25 0h3m5 0h3m17 0h3m4 0h3m8 0h3m1 0h3m19 0h3m17 0h3m66 0h3m14 0h3m-252 1h3m24 0h3m4 0h3m7 0h3m30 0h3m0 0h3m41 0h3m69 0h3m48 0h3m13 0h3m-291 1h3m1 0h3m10 0h3m2 0h3m53 0h3m24 0h3m4 0h3m16 0h3m19 0h3m17 0h3m79 0h3m-244 1h3m28 0h3m21 0h3m74 0h3m1 0h3m6 0h3m5 0h3m-1 0h3m85 0h3m4 0h3m1 0h3m-261 1h3m27 0h3m3 0h3m47 0h3m44 0h3m7 0h3m36 0h3m12 0h3m27 0h3m18 0h3m19 0h3m6 0h3m-288 1h3m1 0h3m3 0h3m2 0h3m23 0h3m27 0h3m-1 0h3m33 0h3m5 0h3m0 0h3m22 0h3m6 0h3m-1 0h3m7 0h3m42 0h3m4 0h3m13 0h3m-224 1h3m6 0h3m18 0h3m34 0h3m73 0h3m4 0h3m1 0h3m0 0h3m16 0h3m-1 0h3m29 0h3m52 0h3m-280 1h3m7 0h3m11 0h3m12 0h3m12 0h3m20 0h3m12 0h3m-1 0h3m21 0h3m17 0h3m42 0h3m57 0h3m38 0h3m-289 1h3m2 0h3m6 0h3m45 0h3m5 0h3m48 0h3m-1 0h3m1 0h3m-2 0h3m0 0h3m1 0h3m10 0h3m4 0h3m9 0h3m4 0h3m30 0h3m63 0h3m8 0h3m-1 0h3m-281 1h3m10 0h3m8 0h3m22 0h3m2 0h3m-1 0h3m35 0h3m-1 0h3m2 0h3m33 0h3m1 0h3m2 0h3m55 0h3m-1 0h3m4 0h3m27 0h3m-205 1h3m1 0h3m13 0h3m3 0h3m13 0h3m10 0h3m7 0h3m6 0h3m-1 0h3m-2 0h3m0 0h3m11 0h3m4 0h3m29 0h3m10 0h3m8 0h3m14 0h3m14 0h3m-239 1h3m15 0h3m21 0h3m9 0h3m36 0h3m14 0h3m30 0h3m4 0h3m58 0h3m17 0h3m-233 1h3m10 0h3m60 0h3m11 0h3m22 0h3m3 0h3m-2 0h3m40 0h3m-158 1h3m29 0h3m34 0h3m22 0h3m-1 0h3m4 0h3m12 0h3m2 0h3m10 0h3m4 0h3m67 0h3m2 0h3m4 0h3m-243 1h3m32 0h3m-1 0h3m42 0h3m6 0h3m9 0h3m55 0h3m39 0h3m60 0h3m-255 1h3m46 0h3m34 0h3m1 0h3m14 0h3m136 0h3m-2 0h3m-223 1h3m6 0h3m1 0h3m2 0h3m8 0h3m2 0h3m1 0h3m7 0h3m7 0h3m19 0h3m-1 0h3m-2 0h3m-1 0h3m27 0h3m16 0h3m9 0h3m14 0h3m-204 1h3m63 0h3m5 0h3m-1 0h3m51 0h3m36 0h3m4 0h3m3 0h3m7 0h3m-179 1h3m2 0h3m26 0h3m4 0h3m1 0h3m9 0h3m17 0h3m1 0h3m42 0h3m-1 0h3m0 0h3m16 0h3m18 0h3m-2 0h3m11 0h3m0 0h3m-2 0h3m9 0h3m-2 0h3m-222 1h3m35 0h3m0 0h3m85 0h3m2 0h3m110 0h3m11 0h3m-250 1h3m-2 0h3m43 0h3m41 0h3m-2 0h3m6 0h3m0 0h3m3 0h3m0 0h3m6 0h3m0 0h3m21 0h3m18 0h3m31 0h3m2 0h3m4 0h3m-2 0h3m11 0h3m-176 1h3m10 0h3m8 0h3m15 0h3m6 0h3m13 0h3m2 0h3m10 0h3m24 0h3m0 0h3m38 0h3m28 0h3m8 0h3m-272 1h3m-2 0h3m-2 0h3m12 0h3m0 0h3m22 0h3m4 0h3m2 0h3m30 0h3m20 0h3m-1 0h3m10 0h3m3 0h3m10 0h3m83 0h3m21 0h3m13 0h3m4 0h3m-279 1h3m78 0h3m3 0h3m4 0h3m18 0h3m12 0h3m1 0h3m2 0h3m-2 0h3m-2 0h3m26 0h3m23 0h3m50 0h3m-244 1h3m60 0h3m38 0h3m2 0h3m9 0h3m5 0h3m27 0h3m14 0h3m56 0h3m26 0h3m-250 1h3m8 0h3m8 0h3m5 0h3m13 0h3m0 0h3m13 0h3m2 0h3m15 0h3m-2 0h3m11 0h3m-2 0h3m-134 1h3m17 0h3m19 0h3m1 0h3m-2 0h3m11 0h3m3 0h3m33 0h3m-1 0h3m4 0h3m24 0h3m2 0h3m2 0h3m5 0h3m0 0h3m20 0h3m76 0h3m-253 1h3m31 0h3m46 0h3m2 0h3m11 0h3m2 0h3m18 0h3m11 0h3m23 0h3m36 0h3m-214 1h3m11 0h3m-2 0h3m-2 0h3m54 0h3m3 0h3m18 0h3m15 0h3m6 0h3m13 0h3m39 0h3m47 0h3m-254 1h3m35 0h3m9 0h3m10 0h3m21 0h3m-1 0h3m19 0h3m26 0h3m3 0h3m5 0h3m-1 0h3m6 0h3m-1 0h3m3 0h3m-173 1h3m18 0h3m16 0h3m27 0h3m9 0h3m35 0h3m13 0h3m21 0h3m31 0h3m-199 1h3m-2 0h3m10 0h3m78 0h3m9 0h3m5 0h3m-1 0h3m6 0h3m22 0h3m3 0h3m53 0h3m22 0h3m28 0h3m3 0h3m-273 1h3m5 0h3m4 0h3m7 0h3m0 0h3m5 0h3m0 0h3m40 0h3m-1 0h3m-2 0h3m44 0h3m11 0h3m33 0h3m27 0h3m19 0h3m4 0h3m12 0h3m-238 1h3m3 0h3m6 0h3m4 0h3m47 0h3m1 0h3m12 0h3m2 0h3m-2 0h3m24 0h3m-1 0h3m65 0h3m41 0h3m-249 1h3m7 0h3m0 0h3m8 0h3m0 0h3m9 0h3m28 0h3m17 0h3m20 0h3m-1 0h3m-1 0h3m4 0h3m4 0h3m13 0h3m3 0h3m8 0h3m3 0h3m-153 1h3m6 0h3m6 0h3m3 0h3m-1 0h3m2 0h3m40 0h3m-1 0h3m0 0h3m28 0h3m10 0h3m17 0h3m15 0h3m48 0h3m15 0h3m6 0h3m-282 1h3m42 0h3m10 0h3m3 0h3m6 0h3m2 0h3m28 0h3m8 0h3m25 0h3m11 0h3m2 0h3m16 0h3m-1 0h3m2 0h3m26 0h3m57 0h3m-273 1h3m1 0h3m2 0h3m19 0h3m14 0h3m4 0h3m9 0h3m2 0h3m0 0h3m16 0h3m20 0h3m27 0h3m119 0h3m-272 1h3m13 0h3m13 0h3m21 0h3m20 0h3m19 0h3m19 0h3m9 0h3m-2 0h3m4 0h3m33 0h3m31 0h3m18 0h3m-189 1h3m19 0h3m16 0h3m-1 0h3m0 0h3m5 0h3m1 0h3m19 0h3m3 0h3m14 0h3m6 0h3m8 0h3m29 0h3m52 0h3m-267 1h3m5 0h3m77 0h3m16 0h3m-1 0h3m10 0h3m16 0h3m30 0h3m44 0h3m5 0h3m46 0h3m-239 1h3m1 0h3m11 0h3m8 0h3m11 0h3m15 0h3m0 0h3m2 0h3m10 0h3m0 0h3m2 0h3m0 0h3m-2 0h3m4 0h3m5 0h3m-2 0h3m8 0h3m7 0h3m76 0h3m-255 1h3m4 0h3m1 0h3m19 0h3m11 0h3m2 0h3m0 0h3m-2 0h3m1 0h3m31 0h3m5 0h3m1 0h3m14 0h3m14 0h3m2 0h3m3 0h3m9 0h3m4 0h3m33 0h3m56 0h3m-2 0h3m7 0h3m-284 1h3m39 0h3m3 0h3m7 0h3m34 0h3m15 0h3m6 0h3m4 0h3m89 0h3m8 0h3m-2 0h3m25 0h3m-268 1h3m6 0h3m1 0h3m18 0h3m42 0h3m15 0h3m2 0h3m2 0h3m2 0h3m4 0h3m-1 0h3m22 0h3m-2 0h3m2 0h3m30 0h3m-1 0h3m12 0h3m45 0h3m16 0h3m13 0h3m-271 1h3m46 0h3m9 0h3m16 0h3m6 0h3m6 0h3m14 0h3m7 0h3m0 0h3m-1 0h3m2 0h3m4 0h3m-2 0h3m-2 0h3m3 0h3m37 0h3m5 0h3m20 0h3m-214 1h3m1 0h3m13 0h3m8 0h3m43 0h3m7 0h3m16 0h3m14 0h3m8 0h3m5 0h3m49 0h3m10 0h3m3 0h3m-228 1h3m39 0h3m-2 0h3m17 0h3m29 0h3m1 0h3m-1 0h3m-2 0h3m5 0h3m0 0h3m-1 0h3m8 0h3m17 0h3m-1 0h3m-2 0h3m8 0h3m8 0h3m32 0h3m21 0h3m8 0h3m25 0h3m-272 1h3m0 0h3m18 0h3m19 0h3m0 0h3m13 0h3m0 0h3m1 0h3m10 0h3m-2 0h3m4 0h3m3 0h3m48 0h3m-2 0h3m-161 1h3m17 0h3m8 0h3m0 0h3m39 0h3m0 0h3m4 0h3m15 0h3m3 0h3m0 0h3m5 0h3m12 0h3m4 0h3m8 0h3m45 0h3m36 0h3m-233 1h3m2 0h3m24 0h3m2 0h3m1 0h3m8 0h3m-2 0h3m11 0h3m3 0h3m3 0h3m4 0h3m3 0h3m-2 0h3m-1 0h3m0 0h3m7 0h3m2 0h3m-2 0h3m21 0h3m-1 0h3m9 0h3m-2 0h3m1 0h3m26 0h3m-200 1h3m22 0h3m29 0h3m8 0h3m34 0h3m0 0h3m1 0h3m7 0h3m6 0h3m2 0h3m21 0h3m18 0h3m1 0h3m78 0h3m8 0h3m-261 1h3m2 0h3m27 0h3m3 0h3m-2 0h3m5 0h3m8 0h3m-1 0h3m12 0h3m-2 0h3m5 0h3m4 0h3m7 0h3m22 0h3m31 0h3m4 0h3m-2 0h3m3 0h3m-205 1h3m30 0h3m6 0h3m9 0h3m12 0h3m11 0h3m10 0h3m8 0h3m1 0h3m5 0h3m17 0h3m7 0h3m1 0h3m18 0h3m17 0h3m15 0h3m-2 0h3m32 0h3m-211 1h3m0 0h3m12 0h3m26 0h3m3 0h3m1 0h3m1 0h3m15 0h3m1 0h3m0 0h3m-1 0h3m5 0h3m14 0h3m20 0h3m8 0h3m28 0h3m-193 1h3m1 0h3m81 0h3m35 0h3m11 0h3m9 0h3m17 0h3m66 0h3m-255 1h3m15 0h3m33 0h3m3 0h3m8 0h3m20 0h3m22 0h3m3 0h3m0 0h3m2 0h3m2 0h3m58 0h3m11 0h3m9 0h3m23 0h3m-264 1h3m-1 0h3m20 0h3m0 0h3m3 0h3m42 0h3m10 0h3m-2 0h3m5 0h3m10 0h3m0 0h3m-2 0h3m2 0h3m6 0h3m9 0h3m14 0h3m0 0h3m16 0h3m21 0h3m-2 0h3m9 0h3m25 0h3m-1 0h3m3 0h3m-243 1h3m36 0h3m8 0h3m-1 0h3m4 0h3m10 0h3m12 0h3m-1 0h3m9 0h3m11 0h3m-2 0h3m2 0h3m1 0h3m7 0h3m11 0h3m10 0h3m5 0h3m-1 0h3m19 0h3m25 0h3m-224 1h3m18 0h3m1 0h3m3 0h3m0 0h3m3 0h3m-1 0h3m31 0h3m21 0h3m3 0h3m11 0h3m7 0h3m33 0h3m15 0h3m9 0h3m-1 0h3m15 0h3m22 0h3m-250 1h3m6 0h3m-2 0h3m32 0h3m3 0h3m27 0h3m12 0h3m9 0h3m9 0h3m0 0h3m21 0h3m1 0h3m51 0h3m6 0h3m34 0h3m-254 1h3m41 0h3m-2 0h3m4 0h3m-1 0h3m16 0h3m-1 0h3m6 0h3m5 0h3m21 0h3m3 0h3m16 0h3m5 0h3m8 0h3m2 0h3m14 0h3m43 0h3m32 0h3m-263 1h3m39 0h3m1 0h3m31 0h3m5 0h3m-2 0h3m4 0h3m22 0h3m12 0h3m26 0h3m4 0h3m17 0h3m6 0h3m20 0h3m6 0h3m-255 1h3m33 0h3m-1 0h3m8 0h3m0 0h3m11 0h3m4 0h3m4 0h3m19 0h3m5 0h3m2 0h3m10 0h3m1 0h3m-2 0h3m56 0h3m10 0h3m5 0h3m20 0h3m38 0h3m-1 0h3m-282 1h3m0 0h3m12 0h3m4 0h3m8 0h3m3 0h3m31 0h3m14 0h3m-2 0h3m1 0h3m5 0h3m7 0h3m16 0h3m2 0h3m-2 0h3m-1 0h3m14 0h3m6 0h3m6 0h3m4 0h3m3 0h3m21 0h3m35 0h3m-224 1h3m9 0h3m0 0h3m-2 0h3m10 0h3m6 0h3m2 0h3m9 0h3m4 0h3m-2 0h3m-1 0h3m10 0h3m1 0h3m-2 0h3m-2 0h3m1 0h3m0 0h3m-1 0h3m11 0h3m7 0h3m-1 0h3m68 0h3m6 0h3m7 0h3m16 0h3m19 0h3m-277 1h3m-2 0h3m12 0h3m2 0h3m4 0h3m33 0h3m0 0h3m37 0h3m5 0h3m2 0h3m5 0h3m-2 0h3m-1 0h3m5 0h3m2 0h3m1 0h3m-1 0h3m5 0h3m9 0h3m8 0h3m0 0h3m31 0h3m42 0h3m-216 1h3m2 0h3m8 0h3m-1 0h3m3 0h3m6 0h3m1 0h3m11 0h3m-2 0h3m1 0h3m3 0h3m18 0h3m16 0h3m27 0h3m4 0h3m-167 1h3m62 0h3m-2 0h3m9 0h3m10 0h3m17 0h3m-2 0h3m-2 0h3m-1 0h3m-1 0h3m1 0h3m-1 0h3m88 0h3m28 0h3m-255 1h3m10 0h3m2 0h3m3 0h3m-1 0h3m5 0h3m-2 0h3m-2 0h3m5 0h3m7 0h3m11 0h3m-2 0h3m-1 0h3m4 0h3m4 0h3m7 0h3m8 0h3m1 0h3m-2 0h3m-1 0h3m5 0h3m3 0h3m19 0h3m27 0h3m37 0h3m38 0h3m-292 1h3m61 0h3m0 0h3m6 0h3m37 0h3m-1 0h3m-1 0h3m1 0h3m-2 0h3m0 0h3m13 0h3m8 0h3m23 0h3m20 0h3m22 0h3m9 0h3m-239 1h3m2 0h3m9 0h3m3 0h3m7 0h3m37 0h3m4 0h3m-1 0h3m8 0h3m2 0h3m10 0h3m14 0h3m0 0h3m28 0h3m1 0h3m11 0h3m4 0h3m42 0h3m5 0h3m-2 0h3m30 0h3m2 0h3m-280 1h3m55 0h3m11 0h3m7 0h3m38 0h3m4 0h3m1 0h3m0 0h3m1 0h3m1 0h3m18 0h3m1 0h3m7 0h3m6 0h3m4 0h3m25 0h3m45 0h3m-275 1h3m3 0h3m4 0h3m37 0h3m13 0h3m5 0h3m-1 0h3m-1 0h3m16 0h3m-2 0h3m-2 0h3m0 0h3m0 0h3m16 0h3m-1 0h3m14 0h3m16 0h3m42 0h3m26 0h3m-250 1h3m2 0h3m11 0h3m13 0h3m16 0h3m-2 0h3m29 0h3m1 0h3m33 0h3m1 0h3m10 0h3m-1 0h3m-1 0h3m0 0h3m4 0h3m-1 0h3m3 0h3m-2 0h3m3 0h3m5 0h3m50 0h3m18 0h3m-215 1h3m1 0h3m26 0h3m8 0h3m9 0h3m14 0h3m15 0h3m11 0h3m1 0h3m2 0h3m1 0h3m2 0h3m6 0h3m39 0h3m9 0h3m4 0h3m7 0h3m1 0h3m37 0h3m-267 1h3m-1 0h3m19 0h3m6 0h3m21 0h3m3 0h3m6 0h3m27 0h3m9 0h3m5 0h3m18 0h3m5 0h3m-175 1h3m1 0h3m21 0h3m18 0h3m11 0h3m10 0h3m16 0h3m-2 0h3m-2 0h3m6 0h3m14 0h3m-1 0h3m-1 0h3m12 0h3m43 0h3m4 0h3m9 0h3m16 0h3m4 0h3m2 0h3m31 0h3m-265 1h3m14 0h3m77 0h3m-2 0h3m9 0h3m-1 0h3m-1 0h3m6 0h3m16 0h3m6 0h3m24 0h3m4 0h3m4 0h3m1 0h3m8 0h3m14 0h3m15 0h3m-246 1h3m59 0h3m-1 0h3m26 0h3m-1 0h3m-2 0h3m3 0h3m-1 0h3m1 0h3m2 0h3m9 0h3m21 0h3m2 0h3m12 0h3m15 0h3m21 0h3m13 0h3m-214 1h3m3 0h3m3 0h3m5 0h3m3 0h3m42 0h3m0 0h3m12 0h3m20 0h3m21 0h3m11 0h3m38 0h3m58 0h3m-259 1h3m38 0h3m5 0h3m3 0h3m5 0h3m18 0h3m2 0h3m-2 0h3m11 0h3m-2 0h3m3 0h3m8 0h3m0 0h3m-1 0h3m8 0h3m14 0h3m23 0h3m18 0h3m9 0h3m19 0h3m-234 1h3m5 0h3m6 0h3m2 0h3m1 0h3m38 0h3m4 0h3m2 0h3m0 0h3m11 0h3m3 0h3m0 0h3m12 0h3m-2 0h3m15 0h3m72 0h3m11 0h3m-252 1h3m7 0h3m-2 0h3m21 0h3m-2 0h3m21 0h3m4 0h3m5 0h3m22 0h3m0 0h3m6 0h3m10 0h3m30 0h3m5 0h3m6 0h3m30 0h3m37 0h3m-256 1h3m3 0h3m34 0h3m8 0h3m0 0h3m-1 0h3m13 0h3m2 0h3m7 0h3m4 0h3m-2 0h3m21 0h3m0 0h3m-1 0h3m0 0h3m-1 0h3m2 0h3m18 0h3m1 0h3m9 0h3m84 0h3m23 0h3m-279 1h3m1 0h3m0 0h3m7 0h3m44 0h3m4 0h3m-2 0h3m14 0h3m2 0h3m2 0h3m5 0h3m0 0h3m5 0h3m-1 0h3m1 0h3m-2 0h3m35 0h3m0 0h3m39 0h3m-1 0h3m49 0h3m-233 1h3m11 0h3m10 0h3m14 0h3m5 0h3m0 0h3m1 0h3m0 0h3m1 0h3m2 0h3m6 0h3m-2 0h3m12 0h3m2 0h3m0 0h3m3 0h3m5 0h3m7 0h3m108 0h3m-282 1h3m12 0h3m21 0h3m1 0h3m25 0h3m-2 0h3m1 0h3m5 0h3m6 0h3m2 0h3m14 0h3m51 0h3m4 0h3m5 0h3m5 0h3m0 0h3m26 0h3m8 0h3m6 0h3m-237 1h3m57 0h3m2 0h3m5 0h3m-2 0h3m-1 0h3m56 0h3m-2 0h3m8 0h3m7 0h3m77 0h3m3 0h3m-252 1h3m34 0h3m4 0h3m16 0h3m15 0h3m25 0h3m21 0h3m13 0h3m17 0h3m11 0h3m11 0h3m-1 0h3m20 0h3m6 0h3m37 0h3m-261 1h3m15 0h3m50 0h3m45 0h3m5 0h3m3 0h3m7 0h3m2 0h3m12 0h3m18 0h3m-194 1h3m8 0h3m15 0h3m79 0h3m-1 0h3m4 0h3m-1 0h3m2 0h3m2 0h3m2 0h3m9 0h3m32 0h3m22 0h3m17 0h3m8 0h3m16 0h3m7 0h3m-280 1h3m24 0h3m16 0h3m9 0h3m7 0h3m-1 0h3m3 0h3m-2 0h3m2 0h3m0 0h3m14 0h3m24 0h3m-2 0h3m19 0h3m38 0h3m8 0h3m-204 1h3m30 0h3m4 0h3m10 0h3m30 0h3m21 0h3m0 0h3m6 0h3m16 0h3m-2 0h3m-1 0h3m8 0h3m11 0h3m4 0h3m4 0h3m9 0h3m5 0h3m23 0h3m-237 1h3m-2 0h3m22 0h3m-1 0h3m2 0h3m16 0h3m19 0h3m34 0h3m16 0h3m1 0h3m8 0h3m14 0h3m13 0h3m13 0h3m6 0h3m0 0h3m-209 1h3m18 0h3m-2 0h3m3 0h3m0 0h3m-1 0h3m40 0h3m18 0h3m3 0h3m4 0h3m18 0h3m20 0h3m6 0h3m9 0h3m1 0h3m22 0h3m15 0h3m29 0h3m2 0h3m-250 1h3m6 0h3m29 0h3m19 0h3m6 0h3m0 0h3m2 0h3m6 0h3m1 0h3m19 0h3m13 0h3m2 0h3m0 0h3m67 0h3m-217 1h3m-2 0h3m3 0h3m8 0h3m8 0h3m30 0h3m2 0h3m6 0h3m5 0h3m-1 0h3m2 0h3m4 0h3m2 0h3m13 0h3m7 0h3m-2 0h3m-2 0h3m4 0h3m10 0h3m2 0h3m-2 0h3m6 0h3m0 0h3m19 0h3m47 0h3m-232 1h3m16 0h3m50 0h3m7 0h3m-2 0h3m28 0h3m4 0h3m-2 0h3m2 0h3m0 0h3m-2 0h3m14 0h3m66 0h3m-237 1h3m0 0h3m53 0h3m-2 0h3m2 0h3m5 0h3m1 0h3m23 0h3m18 0h3m1 0h3m5 0h3m2 0h3m3 0h3m11 0h3m31 0h3m3 0h3m16 0h3m17 0h3m-214 1h3m11 0h3m48 0h3m11 0h3m-2 0h3m-1 0h3m4 0h3m20 0h3m3 0h3m-161 1h3m1 0h3m29 0h3m42 0h3m9 0h3m12 0h3m1 0h3m-2 0h3m3 0h3m5 0h3m-1 0h3m8 0h3m0 0h3m0 0h3m40 0h3m-164 1h3m15 0h3m17 0h3m2 0h3m19 0h3m22 0h3m2 0h3m3 0h3m18 0h3m-2 0h3m10 0h3m37 0h3m22 0h3m33 0h3m-256 1h3m14 0h3m4 0h3m8 0h3m22 0h3m23 0h3m18 0h3m29 0h3m35 0h3m-1 0h3m21 0h3m-200 1h3m7 0h3m13 0h3m34 0h3m4 0h3m12 0h3m22 0h3m6 0h3m1 0h3m-1 0h3m3 0h3m21 0h3m4 0h3m23 0h3m44 0h3m-214 1h3m1 0h3m9 0h3m2 0h3m16 0h3m2 0h3m1 0h3m-2 0h3m25 0h3m1 0h3m16 0h3m3 0h3m8 0h3m12 0h3m6 0h3m30 0h3m8 0h3m32 0h3m-218 1h3m4 0h3m49 0h3m8 0h3m3 0h3m3 0h3m9 0h3m-1 0h3m-1 0h3m-1 0h3m-1 0h3m-1 0h3m4 0h3m7 0h3m-2 0h3m3 0h3m16 0h3m37 0h3m24 0h3m-246 1h3m2 0h3m-1 0h3m28 0h3m24 0h3m20 0h3m5 0h3m21 0h3m-2 0h3m6 0h3m17 0h3m1 0h3m16 0h3m14 0h3m9 0h3m14 0h3m3 0h3m-199 1h3m-1 0h3m39 0h3m4 0h3m0 0h3m0 0h3m1 0h3m30 0h3m-1 0h3m-2 0h3m-1 0h3m7 0h3m0 0h3m8 0h3m51 0h3m-202 1h3m15 0h3m12 0h3m4 0h3m19 0h3m22 0h3m15 0h3m27 0h3m4 0h3m0 0h3m9 0h3m0 0h3m8 0h3m-1 0h3m6 0h3m66 0h3m-268 1h3m5 0h3m19 0h3m71 0h3m14 0h3m13 0h3m-2 0h3m-1 0h3m8 0h3m4 0h3m24 0h3m18 0h3m-2 0h3m-1 0h3m-217 1h3m-1 0h3m24 0h3m0 0h3m11 0h3m0 0h3m-2 0h3m11 0h3m30 0h3m1 0h3m16 0h3m1 0h3m-1 0h3m4 0h3m2 0h3m8 0h3m3 0h3m21 0h3m3 0h3m12 0h3m55 0h3m2 0h3m-263 1h3m76 0h3m6 0h3m3 0h3m-1 0h3m0 0h3m2 0h3m1 0h3m-2 0h3m6 0h3m3 0h3m-2 0h3m1 0h3m14 0h3m60 0h3m7 0h3m50 0h3m5 0h3m-253 1h3m10 0h3m14 0h3m27 0h3m-1 0h3m21 0h3m26 0h3m7 0h3m41 0h3m38 0h3m-213 1h3m-1 0h3m2 0h3m22 0h3m29 0h3m7 0h3m20 0h3m13 0h3m22 0h3m13 0h3m4 0h3m10 0h3m30 0h3m13 0h3m8 0h3m-253 1h3m6 0h3m3 0h3m73 0h3m3 0h3m-1 0h3m11 0h3m1 0h3m6 0h3m1 0h3m10 0h3m5 0h3m14 0h3m22 0h3m5 0h3m14 0h3m41 0h3m-288 1h3m28 0h3m-1 0h3m-2 0h3m10 0h3m30 0h3m4 0h3m3 0h3m14 0h3m1 0h3m8 0h3m0 0h3m7 0h3m6 0h3m66 0h3m-201 1h3m54 0h3m20 0h3m1 0h3m18 0h3m42 0h3m4 0h3m108 0h3m-263 1h3m72 0h3m3 0h3m1 0h3m15 0h3m17 0h3m-1 0h3m13 0h3m7 0h3m33 0h3m16 0h3m24 0h3m28 0h3m-228 1h3m25 0h3m2 0h3m3 0h3m10 0h3m-1 0h3m14 0h3m5 0h3m31 0h3m37 0h3m8 0h3m0 0h3m6 0h3m30 0h3m5 0h3m-247 1h3m-1 0h3m10 0h3m-1 0h3m22 0h3m5 0h3m8 0h3m18 0h3m1 0h3m70 0h3m4 0h3m4 0h3m6 0h3m41 0h3m-262 1h3m15 0h3m53 0h3m89 0h3m46 0h3m41 0h3m-246 1h3m27 0h3m3 0h3m12 0h3m5 0h3m2 0h3m17 0h3m97 0h3m26 0h3m-197 1h3m4 0h3m49 0h3m33 0h3m7 0h3m7 0h3m5 0h3m11 0h3m8 0h3m2 0h3m16 0h3m60 0h3m8 0h3m-2 0h3m-268 1h3m16 0h3m11 0h3m33 0h3m2 0h3m20 0h3m8 0h3m2 0h3m-1 0h3m14 0h3m21 0h3m20 0h3m0 0h3m61 0h3m2 0h3m5 0h3m-268 1h3m8 0h3m-2 0h3m3 0h3m-2 0h3m0 0h3m9 0h3m76 0h3m21 0h3m23 0h3m100 0h3m-254 1h3m26 0h3m57 0h3m24 0h3m48 0h3m10 0h3m65 0h3m5 0h3m-256 1h3m4 0h3m55 0h3m97 0h3m89 0h3m-180 1h3m18 0h3m-2 0h3m17 0h3m-1 0h3m59 0h3m-2 0h3m16 0h3m0 0h3m-207 1h3m5 0h3m1 0h3m0 0h3m3 0h3m2 0h3m3 0h3m2 0h3m9 0h3m8 0h3m1 0h3m15 0h3m1 0h3m0 0h3m2 0h3m3 0h3m10 0h3m50 0h3m7 0h3m14 0h3m6 0h3m-233 1h3m26 0h3m31 0h3m30 0h3m6 0h3m7 0h3m73 0h3m54 0h3m19 0h3m-280 1h3m-2 0h3m12 0h3m-2 0h3m48 0h3m9 0h3m3 0h3m20 0h3m4 0h3m3 0h3m27 0h3m5 0h3m96 0h3m-237 1h3m46 0h3m12 0h3m20 0h3m23 0h3m57 0h3m52 0h3m7 0h3m-1 0h3m-242 1h3m16 0h3m106 0h3m62 0h3m5 0h3m-218 1h3m9 0h3m27 0h3m30 0h3m36 0h3m2 0h3m5 0h3m-1 0h3m13 0h3m15 0h3m79 0h3m25 0h3m-281 1h3m1 0h3m29 0h3m23 0h3m-1 0h3m6 0h3m0 0h3m5 0h3m0 0h3m1 0h3m0 0h3m9 0h3m-1 0h3m5 0h3m23 0h3m24 0h3m47 0h3m2 0h3m31 0h3m-206 1h3m3 0h3m22 0h3m23 0h3m-2 0h3m32 0h3m76 0h3m-212 1h3m67 0h3m24 0h3m-2 0h3m22 0h3m100 0h3m33 0h3m-275 1h3m6 0h3m32 0h3m16 0h3m32 0h3m9 0h3m1 0h3m21 0h3m4 0h3m70 0h3m7 0h3m34 0h3m-259 1h3m3 0h3m35 0h3m27 0h3m14 0h3m1 0h3m10 0h3m1 0h3m16 0h3m47 0h3m78 0h3m-269 1h3m11 0h3m40 0h3m-2 0h3m11 0h3m28 0h3m21 0h3m-2 0h3m53 0h3m46 0h3m-245 1h3m129 0h3m-2 0h3m23 0h3m82 0h3m10 0h3m-262 1h3m7 0h3m15 0h3m11 0h3m19 0h3m16 0h3m11 0h3m5 0h3m1 0h3m-1 0h3m57 0h3m10 0h3m73 0h3m-273 1h3m7 0h3m7 0h3m2 0h3m73 0h3m9 0h3m5 0h3m19 0h3m129 0h3m-259 1h3m22 0h3m26 0h3m17 0h3m20 0h3m11 0h3m10 0h3m5 0h3m18 0h3m91 0h3m-267 1h3m5 0h3m7 0h3m25 0h3m16 0h3m16 0h3m47 0h3m-132 1h3m89 0h3m15 0h3m-84 1h3m136 0h3" stroke="#333" stroke-width="3" fill="none" filter="url(#bl)"/>
<path transform="scale(.2)" d="M0 0m1008 1480h4m-33 3h4m-3 0h4m34 2h4m-69 1h4m21 0h4m3 0h4m0 0h4m-36 1h4m-7 2h4m4 0h4m6 0h4m5 0h4m-3 0h4m-3 0h4m-3 0h4m1 0h4m8 0h4m26 0h4m-72 1h4m32 0h4m-54 1h4m17 0h4m-2 0h4m37 0h4m-56 1h4m8 0h4m0 0h4m9 0h4m-3 0h4m4 0h4m-60 1h4m25 0h4m12 0h4m5 0h4m-45 1h4m7 0h4m21 0h4m1 0h4m-48 1h4m0 0h4m-3 0h4m-3 0h4m12 0h4m1 0h4m-3 0h4m-37 1h4m3 0h4m-1 0h4m0 0h4m-11 1h4m9 0h4m-1 0h4m2 0h4m-30 1h4m9 0h4m4 0h4m15 0h4m17 0h4m-72 1h4m-3 0h4m26 0h4m9 0h4m-31 2h4m7 0h4m27 0h4m8 0h4m-58 1h4m-1 0h4m12 0h4m1 0h4m-3 0h4m23 0h4m-50 1h4m-17 1h4m-1 0h4m13 0h4m-2 0h4m8 0h4m19 0h4m-54 1h4m2 0h4m17 0h4m-42 1h4m7 0h4m11 0h4m3 0h4m-1 0h4m10 0h4m-58 1h4m26 0h4m41 0h4m-64 1h4m10 0h4m-33 1h4m-3 0h4m-2 0h4m5 0h4m-2 0h4m7 0h4m3 0h4m-3 0h4m31 0h4m1 0h4m-74 1h4m7 0h4m23 0h4m-49 1h4m28 0h4m-2 0h4m5 0h4m5 0h4m6 0h4m-69 1h4m3 0h4m20 0h4m20 0h4m-49 1h4m-3 0h4m10 0h4m-2 0h4m2 0h4m12 0h4m-39 1h4m12 0h4m46 0h4m-65 1h4m10 0h4m-2 0h4m14 0h4m-2 0h4m-41 1h4m23 0h4m1 0h4m0 0h4m-38 1h4m9 0h4m-1 0h4m-3 0h4" stroke="#c060e0" stroke-width="4" fill="none" filter="url(#bl)"/>
<rect x="187.20" y="291.60" width="24.40" height="12.70" fill="none" stroke="#666" stroke-width="0.7"/>
<rect x="156.60" y="277.80" width="60.80" height="54.50" fill="none" stroke="#9a9a9a" stroke-width="0.7"/>
<line x1="156.6" y1="277.8" x2="156.6" y2="332.7" stroke="#222" stroke-width="0.9"/>
<line x1="156.2" y1="332.3" x2="217.4" y2="332.3" stroke="#333" stroke-width="0.8"/>
<text x="155.2" y="283.5" font-size="3.3" font-family="Liberation Sans" fill="#333" text-anchor="end" transform="rotate(38 155.2 283.5)">10<tspan dy="-1" font-size="2.2">5</tspan></text>
<line x1="155.4" y1="282.5" x2="156.6" y2="282.5" stroke="#333" stroke-width="0.6"/>
<text x="155.2" y="297.4718181818182" font-size="3.3" font-family="Liberation Sans" fill="#333" text-anchor="end" transform="rotate(38 155.2 297.4718181818182)">10<tspan dy="-1" font-size="2.2">5</tspan></text>
<line x1="155.4" y1="296.4718181818182" x2="156.6" y2="296.4718181818182" stroke="#333" stroke-width="0.6"/>
<text x="155.2" y="311.44363636363636" font-size="3.3" font-family="Liberation Sans" fill="#333" text-anchor="end" transform="rotate(38 155.2 311.44363636363636)">10<tspan dy="-1" font-size="2.2">5</tspan></text>
<line x1="155.4" y1="310.44363636363636" x2="156.6" y2="310.44363636363636" stroke="#333" stroke-width="0.6"/>
<text x="155.2" y="325.41545454545457" font-size="3.3" font-family="Liberation Sans" fill="#333" text-anchor="end" transform="rotate(38 155.2 325.41545454545457)">10<tspan dy="-1" font-size="2.2">5</tspan></text>
<line x1="155.4" y1="324.41545454545457" x2="156.6" y2="324.41545454545457" stroke="#333" stroke-width="0.6"/>
<text x="164.7" y="336.90000000000003" font-size="3.3" font-family="Liberation Sans" fill="#333" text-anchor="middle" transform="rotate(-40 164.7 335.90000000000003)">10<tspan dy="-1" font-size="2.2">5</tspan></text>
<line x1="164.7" y1="332.3" x2="164.7" y2="333.5" stroke="#333" stroke-width="0.6"/>
<text x="179.6" y="336.90000000000003" font-size="3.3" font-family="Liberation Sans" fill="#333" text-anchor="middle" transform="rotate(-40 179.6 335.90000000000003)">10<tspan dy="-1" font-size="2.2">5</tspan></text>
<line x1="179.6" y1="332.3" x2="179.6" y2="333.5" stroke="#333" stroke-width="0.6"/>
<text x="194.5" y="336.90000000000003" font-size="3.3" font-family="Liberation Sans" fill="#333" text-anchor="middle" transform="rotate(-40 194.5 335.90000000000003)">10<tspan dy="-1" font-size="2.2">5</tspan></text>
<line x1="194.5" y1="332.3" x2="194.5" y2="333.5" stroke="#333" stroke-width="0.6"/>
<text x="209.39999999999998" y="336.90000000000003" font-size="3.3" font-family="Liberation Sans" fill="#333" text-anchor="middle" transform="rotate(-40 209.39999999999998 335.90000000000003)">10<tspan dy="-1" font-size="2.2">5</tspan></text>
<line x1="209.39999999999998" y1="332.3" x2="209.39999999999998" y2="333.5" stroke="#333" stroke-width="0.6"/>
<path transform="scale(.2)" d="M0 0m879 1792h3m74 2h3m-107 2h3m79 0h3m-66 1h3m-12 1h3m23 0h3m60 0h3m-112 1h3m22 0h3m75 0h3m18 0h3m2 0h3m-188 1h3m25 0h3m93 0h3m-2 0h3m-59 1h3m35 0h3m15 0h3m25 0h3m-2 0h3m7 0h3m-155 1h3m18 0h3m4 0h3m4 0h3m34 0h3m36 0h3m33 1h3m-153 1h3m31 0h3m4 0h3m35 0h3m30 0h3m23 0h3m19 0h3m-2 0h3m6 0h3m7 0h3m-109 1h3m1 0h3m62 0h3m-137 1h3m41 0h3m3 0h3m23 0h3m-1 0h3m18 0h3m50 0h3m7 0h3m2 0h3m4 0h3m-181 1h3m43 0h3m17 0h3m-1 0h3m2 0h3m5 0h3m22 0h3m8 0h3m13 0h3m0 0h3m17 0h3m19 0h3m41 0h3m-237 1h3m24 0h3m11 0h3m1 0h3m1 0h3m0 0h3m11 0h3m1 0h3m2 0h3m7 0h3m0 0h3m20 0h3m14 0h3m21 0h3m36 0h3m-185 1h3m23 0h3m15 0h3m28 0h3m25 0h3m-1 0h3m13 0h3m16 0h3m49 0h3m-173 1h3m18 0h3m-2 0h3m5 0h3m14 0h3m15 0h3m-1 0h3m-1 0h3m26 0h3m2 0h3m22 0h3m-115 1h3m12 0h3m7 0h3m29 0h3m-2 0h3m-1 0h3m18 0h3m8 0h3m18 0h3m5 0h3m-156 1h3m21 0h3m28 0h3m6 0h3m1 0h3m-2 0h3m6 0h3m-1 0h3m12 0h3m21 0h3m-120 1h3m5 0h3m1 0h3m3 0h3m-1 0h3m5 0h3m-1 0h3m11 0h3m12 0h3m8 0h3m0 0h3m7 0h3m-2 0h3m48 0h3m7 0h3m29 0h3m14 0h3m-215 1h3m17 0h3m0 0h3m29 0h3m4 0h3m-2 0h3m19 0h3m17 0h3m10 0h3m17 0h3m7 0h3m19 0h3m6 0h3m2 0h3m11 0h3m-2 0h3m30 0h3m-221 1h3m24 0h3m24 0h3m1 0h3m9 0h3m0 0h3m27 0h3m4 0h3m5 0h3m0 0h3m5 0h3m39 0h3m-172 1h3m0 0h3m24 0h3m18 0h3m31 0h3m2 0h3m9 0h3m59 0h3m2 0h3m-143 1h3m0 0h3m11 0h3m10 0h3m37 0h3m20 0h3m4 0h3m20 0h3m30 0h3m14 0h3m-184 1h3m-1 0h3m16 0h3m15 0h3m20 0h3m21 0h3m15 0h3m18 0h3m3 0h3m35 0h3m5 0h3m11 0h3m15 0h3m-189 1h3m24 0h3m5 0h3m1 0h3m23 0h3m4 0h3m0 0h3m14 0h3m14 0h3m14 0h3m5 0h3m8 0h3m-207 1h3m58 0h3m13 0h3m39 0h3m3 0h3m-1 0h3m60 0h3m-165 1h3m44 0h3m7 0h3m10 0h3m7 0h3m23 0h3m-2 0h3m5 0h3m26 0h3m-136 1h3m-1 0h3m0 0h3m41 0h3m28 0h3m-90 1h3m44 0h3m11 0h3m14 0h3m18 0h3m6 0h3m1 0h3m3 0h3m6 0h3m9 0h3m2 0h3m-115 1h3m16 0h3m15 0h3m27 0h3m-2 0h3m25 0h3m-102 1h3m5 0h3m39 0h3m21 0h3m32 0h3m8 0h3m-184 1h3m1 0h3m79 0h3m42 0h3m-103 1h3m4 0h3m36 0h3m0 0h3m-43 1h3m9 0h3m72 0h3m-33 1h3m19 0h3m8 0h3m49 0h3m30 0h3m-196 1h3m135 0h3m-133 1h3m88 0h3m-74 1h3m78 0h3m10 2h3m-75 1h3m-18 1h3m-20 1h3m-3 5h3m6 15h3m9 7h3m-52 3h3m-1 1h3m40 2h3m19 1h3m-8 1h3m-51 2h3m-7 6h3m21 0h3m-34 1h3m67 0h3m-72 1h3m4 0h3m36 0h3m-65 1h3m3 0h3m43 0h3m1 0h3m5 1h3m-51 1h3m4 0h3m25 0h3m-2 0h3m-45 3h3m22 0h3m17 1h3m7 0h3m4 0h3m-44 1h3m-1 0h3m20 0h3m8 0h3m-33 1h3m4 0h3m2 0h3m11 0h3m-63 1h3m28 0h3m-13 1h3m15 0h3m33 0h3m-53 1h3m11 0h3m29 0h3m-55 1h3m-2 0h3m5 0h3m14 0h3m38 0h3m-85 1h3m33 0h3m29 0h3m-42 1h3m-2 0h3m9 0h3m17 0h3m26 0h3m-89 1h3m28 0h3m1 0h3m-1 0h3m25 0h3m-57 1h3m23 0h3m6 0h3m29 0h3m-74 1h3m25 0h3m13 0h3m12 0h3m7 0h3m-64 1h3m8 0h3m1 0h3m-1 0h3m5 0h3m5 0h3m24 0h3m7 0h3m-78 1h3m17 0h3m3 0h3m0 0h3m3 0h3m2 0h3m28 0h3m-88 1h3m9 0h3m1 0h3m31 0h3m42 0h3m-67 1h3m6 0h3m3 0h3m-2 0h3m-39 1h3m-1 0h3m21 0h3m-2 0h3m13 0h3m5 0h3m2 0h3m-1 0h3m13 0h3m0 0h3m-82 1h3m15 0h3m6 0h3m-1 0h3m-1 0h3m16 0h3m14 0h3m-83 1h3m8 0h3m-1 0h3m3 0h3m0 0h3m10 0h3m9 0h3m-2 0h3m2 0h3m28 0h3m-2 0h3m-63 1h3m-2 0h3m-2 0h3m3 0h3m1 0h3m0 0h3m-2 0h3m0 0h3m4 0h3m10 0h3m-2 0h3m-61 1h3m12 0h3m14 0h3m6 0h3m-1 0h3m7 0h3m-1 0h3m-70 1h3m0 0h3m12 0h3m4 0h3m5 0h3m8 0h3m0 0h3m7 0h3m-1 0h3m-2 0h3m11 0h3m-1 0h3m-76 1h3m5 0h3m2 0h3m0 0h3m33 0h3m1 0h3m-2 0h3m2 0h3m2 0h3m14 0h3m-80 1h3m0 0h3m2 0h3m3 0h3m5 0h3m8 0h3m-1 0h3m4 0h3m8 0h3m18 0h3m-80 1h3m-2 0h3m27 0h3m-2 0h3m0 0h3m12 0h3m-2 0h3m12 0h3m9 0h3m26 0h3m-110 1h3m6 0h3m4 0h3m4 0h3m1 0h3m2 0h3m9 0h3m14 0h3m35 0h3m1 0h3m-113 1h3m14 0h3m14 0h3m1 0h3m-2 0h3m8 0h3m12 0h3m-1 0h3m-60 1h3m7 0h3m0 0h3m-2 0h3m6 0h3m2 0h3m8 0h3m-2 0h3m13 0h3m-1 0h3m-57 1h3m1 0h3m3 0h3m7 0h3m2 0h3m11 0h3m-2 0h3m14 0h3m0 0h3m9 0h3m-2 0h3m-82 1h3m20 0h3m-2 0h3m-2 0h3m-1 0h3m3 0h3m4 0h3m-2 0h3m6 0h3m16 0h3m-74 1h3m15 0h3m10 0h3m0 0h3m16 0h3m8 0h3m-1 0h3m2 0h3m1 0h3m2 0h3m5 0h3m-92 1h3m29 0h3m3 0h3m-1 0h3m-2 0h3m3 0h3m0 0h3m11 0h3m-70 1h3m3 0h3m-2 0h3m-1 0h3m17 0h3m4 0h3m0 0h3m2 0h3m2 0h3m4 0h3m2 0h3m4 0h3m-1 0h3m9 0h3m-79 1h3m4 0h3m-2 0h3m-2 0h3m5 0h3m-2 0h3m-1 0h3m3 0h3m-1 0h3m3 0h3m1 0h3m-1 0h3m5 0h3m-1 0h3m4 0h3m14 0h3m-69 1h3m-1 0h3m-1 0h3m-2 0h3m0 0h3m-1 0h3m0 0h3m-1 0h3m-2 0h3m-2 0h3m-2 0h3m-2 0h3m9 0h3m7 0h3m22 0h3m2 0h3m9 0h3m2 0h3m-92 1h3m3 0h3m-1 0h3m11 0h3m7 0h3m2 0h3m3 0h3m11 0h3m-2 0h3m-59 1h3m-1 0h3m11 0h3m-2 0h3m-2 0h3m-2 0h3m-1 0h3m1 0h3m1 0h3m5 0h3m3 0h3m1 0h3m6 0h3m-71 1h3m4 0h3m11 0h3m6 0h3m2 0h3m-2 0h3m2 0h3m-2 0h3m0 0h3m-2 0h3m22 0h3m0 0h3m-77 1h3m-1 0h3m9 0h3m-1 0h3m2 0h3m-2 0h3m4 0h3m-1 0h3m-1 0h3m-2 0h3m-2 0h3m-2 0h3m-1 0h3m-1 0h3m4 0h3m2 0h3m2 0h3m0 0h3m0 0h3m0 0h3m-62 1h3m0 0h3m-1 0h3m1 0h3m-2 0h3m-2 0h3m8 0h3m6 0h3m-2 0h3m-2 0h3m-2 0h3m-2 0h3m-2 0h3m20 0h3m-2 0h3m-2 0h3m-1 0h3m12 0h3m3 0h3m-74 1h3m0 0h3m-1 0h3m-1 0h3m11 0h3m1 0h3m4 0h3m0 0h3m0 0h3m1 0h3m-1 0h3m4 0h3m6 0h3m10 0h3m2 0h3m-105 1h3m43 0h3m-2 0h3m-1 0h3m3 0h3m1 0h3m-63 1h3m5 0h3m1 0h3m5 0h3m2 0h3m-2 0h3m1 0h3m-1 0h3m4 0h3m-2 0h3m-1 0h3m1 0h3m0 0h3m-2 0h3m9 0h3m31 0h3m-2 0h3m-98 1h3m5 0h3m5 0h3m8 0h3m1 0h3m-2 0h3m-1 0h3m1 0h3m3 0h3m-2 0h3m1 0h3m-2 0h3m3 0h3m10 0h3m-2 0h3m-1 0h3m0 0h3m5 0h3m-78 1h3m-1 0h3m1 0h3m9 0h3m13 0h3m7 0h3m6 0h3m0 0h3m-1 0h3m1 0h3m9 0h3m2 0h3m-79 1h3m1 0h3m-2 0h3m3 0h3m-2 0h3m10 0h3m0 0h3m-1 0h3m-1 0h3m-2 0h3m1 0h3m-2 0h3m0 0h3m-1 0h3m3 0h3m19 0h3m-83 1h3m1 0h3m-2 0h3m0 0h3m2 0h3m1 0h3m0 0h3m-1 0h3m8 0h3m2 0h3m2 0h3m2 0h3m0 0h3m0 0h3m9 0h3m-2 0h3m0 0h3m0 0h3m15 0h3m6 0h3m-100 1h3m1 0h3m3 0h3m10 0h3m0 0h3m0 0h3m1 0h3m9 0h3m-1 0h3m9 0h3m3 0h3m0 0h3m12 0h3m11 0h3m-88 1h3m13 0h3m-2 0h3m3 0h3m6 0h3m-2 0h3m-1 0h3m4 0h3m2 0h3m2 0h3m6 0h3m1 0h3m5 0h3m-82 1h3m2 0h3m5 0h3m0 0h3m3 0h3m5 0h3m-2 0h3m-1 0h3m-2 0h3m-2 0h3m-2 0h3m14 0h3m19 0h3m-2 0h3m4 0h3m-87 1h3m9 0h3m0 0h3m0 0h3m5 0h3m-1 0h3m4 0h3m2 0h3m-2 0h3m3 0h3m-1 0h3m7 0h3m3 0h3m-60 1h3m-2 0h3m0 0h3m-2 0h3m-2 0h3m-1 0h3m3 0h3m7 0h3m0 0h3m2 0h3m-2 0h3m-2 0h3m-1 0h3m16 0h3m3 0h3m-65 1h3m-2 0h3m-1 0h3m-2 0h3m-2 0h3m-2 0h3m0 0h3m2 0h3m-2 0h3m5 0h3m5 0h3m1 0h3m1 0h3m-2 0h3m6 0h3m3 0h3m-2 0h3m-69 1h3m11 0h3m-2 0h3m11 0h3m0 0h3m0 0h3m5 0h3m-2 0h3m-1 0h3m-1 0h3m-2 0h3m0 0h3m3 0h3m32 0h3m-102 1h3m9 0h3m1 0h3m1 0h3m-2 0h3m3 0h3m13 0h3m2 0h3m-1 0h3m-2 0h3m2 0h3m0 0h3m2 0h3m-1 0h3m11 0h3m-86 1h3m25 0h3m2 0h3m-1 0h3m3 0h3m-1 0h3m9 0h3m-2 0h3m3 0h3m-58 1h3m2 0h3m3 0h3m-1 0h3m-1 0h3m1 0h3m0 0h3m-1 0h3m-2 0h3m1 0h3m-2 0h3m8 0h3m0 0h3m4 0h3m0 0h3m1 0h3m1 0h3m19 0h3m-94 1h3m-1 0h3m8 0h3m2 0h3m0 0h3m-2 0h3m3 0h3m-2 0h3m-2 0h3m-1 0h3m1 0h3m1 0h3m21 0h3m26 0h3m10 0h3m-101 1h3m10 0h3m-1 0h3m0 0h3m5 0h3m0 0h3m3 0h3m-2 0h3m-2 0h3m0 0h3m4 0h3m-2 0h3m5 0h3m4 0h3m8 0h3m9 0h3m-2 0h3m-2 0h3m3 0h3m-93 1h3m1 0h3m5 0h3m3 0h3m1 0h3m7 0h3m-2 0h3m-1 0h3m3 0h3m2 0h3m1 0h3m30 0h3m-80 1h3m1 0h3m5 0h3m0 0h3m0 0h3m-2 0h3m1 0h3m-1 0h3m-1 0h3m3 0h3m-2 0h3m1 0h3m-1 0h3m3 0h3m12 0h3m27 0h3m-108 1h3m5 0h3m9 0h3m-2 0h3m1 0h3m0 0h3m-2 0h3m18 0h3m3 0h3m0 0h3m4 0h3m8 0h3m-82 1h3m19 0h3m-2 0h3m5 0h3m-2 0h3m5 0h3m-1 0h3m0 0h3m-1 0h3m-2 0h3m5 0h3m-2 0h3m-2 0h3m0 0h3m-1 0h3m1 0h3m-2 0h3m8 0h3m6 0h3m-84 1h3m7 0h3m1 0h3m3 0h3m-1 0h3m-2 0h3m2 0h3m7 0h3m10 0h3m38 0h3m9 0h3m-108 1h3m0 0h3m3 0h3m2 0h3m-1 0h3m3 0h3m1 0h3m-1 0h3m6 0h3m0 0h3m2 0h3m-52 1h3m7 0h3m0 0h3m1 0h3m3 0h3m1 0h3m12 0h3m5 0h3m-1 0h3m5 0h3m5 0h3m10 0h3m-82 1h3m2 0h3m-2 0h3m18 0h3m-2 0h3m-1 0h3m-1 0h3m9 0h3m-2 0h3m-2 0h3m-1 0h3m-1 0h3m14 0h3m15 0h3m3 0h3m-2 0h3m-78 1h3m3 0h3m-1 0h3m4 0h3m5 0h3m0 0h3m1 0h3m3 0h3m-2 0h3m4 0h3m-2 0h3m19 0h3m-91 1h3m2 0h3m0 0h3m0 0h3m26 0h3m0 0h3m5 0h3m-2 0h3m5 0h3m6 0h3m1 0h3m11 0h3m-73 1h3m-1 0h3m-2 0h3m6 0h3m0 0h3m-1 0h3m0 0h3m1 0h3m1 0h3m-2 0h3m8 0h3m0 0h3m6 0h3m21 0h3m-80 1h3m5 0h3m15 0h3m0 0h3m9 0h3m0 0h3m2 0h3m-2 0h3m-71 1h3m14 0h3m-2 0h3m6 0h3m12 0h3m7 0h3m0 0h3m-1 0h3m2 0h3m-1 0h3m-2 0h3m-55 1h3m7 0h3m9 0h3m-1 0h3m27 0h3m1 0h3m4 0h3m-79 1h3m11 0h3m6 0h3m7 0h3m14 0h3m67 0h3m-119 1h3m14 0h3m27 0h3m8 0h3m-1 0h3m38 0h3m-94 1h3m1 0h3m-1 0h3m5 0h3m8 0h3m27 0h3m6 0h3m3 0h3m-77 1h3m3 0h3m30 0h3m12 0h3m6 0h3m25 0h3m-93 1h3m41 0h3m-51 1h3m4 0h3m12 0h3m3 0h3m22 0h3m7 0h3m5 0h3m6 0h3m32 0h3m-114 1h3m2 0h3m3 0h3m0 0h3m2 0h3m3 0h3m-2 0h3m20 0h3m4 0h3m19 0h3m-58 1h3m3 0h3m2 0h3m23 0h3m33 0h3m-77 1h3m8 0h3m5 0h3m15 0h3m-45 1h3m12 0h3m3 0h3m10 0h3m-2 0h3m18 0h3m-83 1h3m20 0h3m28 0h3m2 0h3m6 0h3m-66 1h3m2 0h3m12 0h3m14 0h3m-16 1h3m1 0h3m-1 0h3m9 0h3m-1 0h3m7 0h3m35 0h3m-103 1h3m15 0h3m-2 0h3m19 0h3m4 0h3m-1 0h3m29 0h3m-59 1h3m1 0h3m-35 1h3m20 0h3m16 0h3m-1 0h3m9 0h3m14 0h3m-74 1h3m8 0h3m52 0h3m-52 1h3m42 0h3m10 0h3m-1 0h3m-2 0h3m-67 1h3m4 0h3m8 0h3m3 0h3m0 0h3m0 0h3m-1 0h3m2 0h3m-33 1h3m10 0h3m-16 1h3m5 0h3m56 1h3" stroke="#111" stroke-width="3" fill="none" filter="url(#bl)"/>
<path transform="scale(.2)" d="M0 0m911 1790h3m20 0h3m-146 1h3m56 0h3m-1 0h3m5 0h3m32 0h3m29 0h3m-138 1h3m27 0h3m3 0h3m31 1h3m13 0h3m-64 1h3m36 0h3m69 0h3m-49 1h3m68 0h3m13 0h3m65 0h3m2 0h3m-225 1h3m2 0h3m56 0h3m2 0h3m1 0h3m14 0h3m21 0h3m76 0h3m51 0h3m-281 1h3m2 0h3m10 0h3m12 0h3m14 0h3m-1 0h3m77 0h3m0 0h3m-2 0h3m79 0h3m-188 1h3m68 0h3m103 0h3m3 0h3m18 0h3m-2 0h3m36 0h3m-268 1h3m1 0h3m36 0h3m44 0h3m16 0h3m91 0h3m2 0h3m32 0h3m-247 1h3m8 0h3m18 0h3m8 0h3m38 0h3m2 0h3m4 0h3m55 0h3m18 0h3m40 0h3m19 0h3m-239 1h3m-1 0h3m11 0h3m81 0h3m21 0h3m-1 0h3m31 0h3m38 0h3m53 0h3m-221 1h3m73 0h3m20 0h3m6 0h3m41 0h3m29 0h3m21 0h3m10 0h3m-238 1h3m56 0h3m15 0h3m3 0h3m0 0h3m90 0h3m24 0h3m-196 1h3m31 0h3m17 0h3m17 0h3m0 0h3m34 0h3m45 0h3m-181 1h3m48 0h3m3 0h3m23 0h3m90 0h3m4 0h3m24 0h3m-116 1h3m1 0h3m-1 0h3m7 0h3m53 0h3m42 0h3m-2 0h3m5 0h3m-261 1h3m62 0h3m10 0h3m16 0h3m-2 0h3m4 0h3m9 0h3m3 0h3m18 0h3m16 0h3m15 0h3m-185 1h3m-1 0h3m6 0h3m20 0h3m32 0h3m8 0h3m17 0h3m9 0h3m3 0h3m-1 0h3m22 0h3m20 0h3m11 0h3m13 0h3m45 0h3m5 0h3m-253 1h3m46 0h3m-1 0h3m43 0h3m3 0h3m6 0h3m-2 0h3m8 0h3m0 0h3m13 0h3m10 0h3m13 0h3m-2 0h3m56 0h3m-180 1h3m36 0h3m5 0h3m-2 0h3m-1 0h3m3 0h3m13 0h3m47 0h3m26 0h3m19 0h3m54 0h3m-241 1h3m7 0h3m10 0h3m19 0h3m5 0h3m11 0h3m38 0h3m32 0h3m13 0h3m3 0h3m53 0h3m-254 1h3m5 0h3m50 0h3m28 0h3m59 0h3m-166 1h3m17 0h3m11 0h3m15 0h3m-2 0h3m-1 0h3m22 0h3m0 0h3m43 0h3m23 0h3m29 0h3m-204 1h3m13 0h3m2 0h3m5 0h3m82 0h3m-92 1h3m32 0h3m76 0h3m13 0h3m53 0h3m-182 1h3m11 0h3m10 0h3m26 0h3m11 0h3m9 0h3m61 0h3m100 0h3m-275 1h3m39 0h3m68 0h3m0 0h3m12 0h3m0 0h3m24 0h3m14 0h3m1 0h3m51 0h3m-232 1h3m92 0h3m-2 0h3m4 0h3m1 0h3m17 0h3m38 0h3m53 0h3m1 0h3m-235 1h3m25 0h3m-2 0h3m-1 0h3m40 0h3m-2 0h3m50 0h3m117 0h3m11 0h3m-235 1h3m0 0h3m10 0h3m59 0h3m15 0h3m7 0h3m4 0h3m1 0h3m21 0h3m34 0h3m24 0h3m3 0h3m4 0h3m12 0h3m-276 1h3m18 0h3m39 0h3m16 0h3m1 0h3m3 0h3m-1 0h3m4 0h3m-1 0h3m45 0h3m-141 1h3m21 0h3m34 0h3m18 0h3m46 0h3m38 0h3m94 0h3m-266 1h3m33 0h3m25 0h3m5 0h3m11 0h3m11 0h3m133 0h3m31 0h3m-260 1h3m11 0h3m3 0h3m12 0h3m32 0h3m1 0h3m1 0h3m3 0h3m4 0h3m26 0h3m-1 0h3m2 0h3m16 0h3m-148 1h3m19 0h3m1 0h3m2 0h3m-1 0h3m-1 0h3m10 0h3m-1 0h3m-1 0h3m30 0h3m158 0h3m-198 1h3m40 0h3m5 0h3m3 0h3m-1 0h3m80 0h3m53 0h3m-285 1h3m-1 0h3m21 0h3m2 0h3m19 0h3m2 0h3m24 0h3m17 0h3m9 0h3m-2 0h3m2 0h3m12 0h3m-2 0h3m31 0h3m26 0h3m23 0h3m6 0h3m9 0h3m9 0h3m12 0h3m-232 1h3m10 0h3m32 0h3m46 0h3m54 0h3m25 0h3m39 0h3m17 0h3m-246 1h3m1 0h3m13 0h3m8 0h3m81 0h3m32 0h3m-146 1h3m18 0h3m16 0h3m4 0h3m14 0h3m1 0h3m15 0h3m0 0h3m34 0h3m27 0h3m16 0h3m-233 1h3m8 0h3m38 0h3m51 0h3m15 0h3m34 0h3m31 0h3m42 0h3m-199 1h3m34 0h3m3 0h3m17 0h3m1 0h3m20 0h3m6 0h3m0 0h3m11 0h3m-2 0h3m30 0h3m-191 1h3m45 0h3m29 0h3m3 0h3m29 0h3m12 0h3m15 0h3m126 0h3m-222 1h3m37 0h3m18 0h3m108 0h3m-226 1h3m21 0h3m15 0h3m29 0h3m5 0h3m19 0h3m76 0h3m-1 0h3m22 0h3m24 0h3m17 0h3m9 0h3m-282 1h3m10 0h3m-1 0h3m29 0h3m22 0h3m1 0h3m-1 0h3m27 0h3m-2 0h3m16 0h3m39 0h3m2 0h3m6 0h3m30 0h3m49 0h3m-1 0h3m-246 1h3m2 0h3m23 0h3m40 0h3m4 0h3m8 0h3m3 0h3m-2 0h3m124 0h3m-249 1h3m13 0h3m1 0h3m3 0h3m20 0h3m18 0h3m36 0h3m1 0h3m21 0h3m-2 0h3m98 0h3m15 0h3m3 0h3m-284 1h3m39 0h3m1 0h3m48 0h3m19 0h3m39 0h3m103 0h3m-225 1h3m2 0h3m17 0h3m3 0h3m23 0h3m6 0h3m0 0h3m0 0h3m-2 0h3m11 0h3m7 0h3m2 0h3m12 0h3m23 0h3m100 0h3m-293 1h3m93 0h3m5 0h3m3 0h3m1 0h3m13 0h3m6 0h3m27 0h3m54 0h3m9 0h3m21 0h3m12 0h3m-254 1h3m15 0h3m6 0h3m16 0h3m31 0h3m13 0h3m3 0h3m-131 1h3m133 0h3m-1 0h3m2 0h3m6 0h3m-139 1h3m-2 0h3m15 0h3m23 0h3m25 0h3m5 0h3m5 0h3m23 0h3m39 0h3m15 0h3m87 0h3m-271 1h3m0 0h3m5 0h3m20 0h3m13 0h3m12 0h3m28 0h3m43 0h3m5 0h3m1 0h3m-170 1h3m45 0h3m8 0h3m12 0h3m1 0h3m25 0h3m-1 0h3m27 0h3m16 0h3m55 0h3m6 0h3m-224 1h3m35 0h3m17 0h3m-2 0h3m33 0h3m7 0h3m-2 0h3m-1 0h3m4 0h3m1 0h3m58 0h3m17 0h3m39 0h3m19 0h3m-270 1h3m2 0h3m27 0h3m7 0h3m22 0h3m3 0h3m3 0h3m1 0h3m11 0h3m3 0h3m90 0h3m11 0h3m10 0h3m-125 1h3m5 0h3m9 0h3m54 0h3m-1 0h3m48 0h3m3 0h3m11 0h3m17 0h3m-223 1h3m27 0h3m29 0h3m0 0h3m11 0h3m3 0h3m17 0h3m66 0h3m56 0h3m-272 1h3m13 0h3m34 0h3m36 0h3m2 0h3m18 0h3m4 0h3m0 0h3m20 0h3m1 0h3m-2 0h3m40 0h3m26 0h3m-247 1h3m24 0h3m28 0h3m1 0h3m0 0h3m13 0h3m5 0h3m-2 0h3m1 0h3m15 0h3m5 0h3m48 0h3m3 0h3m0 0h3m17 0h3m11 0h3m8 0h3m42 0h3m-234 1h3m-1 0h3m22 0h3m9 0h3m0 0h3m29 0h3m2 0h3m16 0h3m1 0h3m8 0h3m20 0h3m57 0h3m16 0h3m-215 1h3m10 0h3m9 0h3m25 0h3m2 0h3m0 0h3m3 0h3m2 0h3m7 0h3m4 0h3m9 0h3m13 0h3m31 0h3m-1 0h3m23 0h3m-187 1h3m10 0h3m1 0h3m7 0h3m3 0h3m8 0h3m14 0h3m5 0h3m21 0h3m4 0h3m17 0h3m1 0h3m56 0h3m10 0h3m55 0h3m-294 1h3m3 0h3m36 0h3m3 0h3m3 0h3m1 0h3m9 0h3m35 0h3m9 0h3m0 0h3m15 0h3m24 0h3m10 0h3m69 0h3m14 0h3m-264 1h3m8 0h3m11 0h3m35 0h3m-2 0h3m17 0h3m11 0h3m-2 0h3m-2 0h3m30 0h3m9 0h3m33 0h3m-181 1h3m36 0h3m-1 0h3m25 0h3m1 0h3m10 0h3m-1 0h3m72 0h3m14 0h3m12 0h3m23 0h3m-216 1h3m5 0h3m16 0h3m16 0h3m9 0h3m0 0h3m-1 0h3m5 0h3m4 0h3m6 0h3m3 0h3m8 0h3m-1 0h3m58 0h3m37 0h3m30 0h3m18 0h3m-281 1h3m18 0h3m-2 0h3m5 0h3m40 0h3m1 0h3m17 0h3m10 0h3m9 0h3m18 0h3m0 0h3m59 0h3m17 0h3m-1 0h3m8 0h3m0 0h3m9 0h3m14 0h3m-275 1h3m13 0h3m20 0h3m32 0h3m1 0h3m8 0h3m0 0h3m12 0h3m23 0h3m4 0h3m64 0h3m18 0h3m49 0h3m-284 1h3m6 0h3m25 0h3m11 0h3m2 0h3m21 0h3m9 0h3m13 0h3m-1 0h3m-2 0h3m16 0h3m23 0h3m16 0h3m2 0h3m51 0h3m30 0h3m-241 1h3m12 0h3m0 0h3m6 0h3m15 0h3m-2 0h3m24 0h3m-2 0h3m6 0h3m7 0h3m12 0h3m34 0h3m-1 0h3m85 0h3m-275 1h3m39 0h3m6 0h3m35 0h3m3 0h3m14 0h3m-2 0h3m14 0h3m18 0h3m56 0h3m21 0h3m-189 1h3m5 0h3m1 0h3m-1 0h3m18 0h3m3 0h3m4 0h3m27 0h3m10 0h3m31 0h3m-2 0h3m18 0h3m19 0h3m25 0h3m27 0h3m-251 1h3m32 0h3m3 0h3m47 0h3m8 0h3m0 0h3m6 0h3m8 0h3m6 0h3m31 0h3m-198 1h3m11 0h3m2 0h3m12 0h3m20 0h3m1 0h3m6 0h3m2 0h3m2 0h3m-1 0h3m10 0h3m17 0h3m-1 0h3m24 0h3m75 0h3m1 0h3m35 0h3m-250 1h3m23 0h3m1 0h3m3 0h3m8 0h3m3 0h3m12 0h3m27 0h3m2 0h3m31 0h3m2 0h3m9 0h3m58 0h3m-233 1h3m18 0h3m5 0h3m15 0h3m20 0h3m-2 0h3m5 0h3m5 0h3m3 0h3m-1 0h3m9 0h3m1 0h3m15 0h3m14 0h3m-2 0h3m23 0h3m0 0h3m32 0h3m-190 1h3m29 0h3m6 0h3m-2 0h3m4 0h3m-2 0h3m24 0h3m-1 0h3m7 0h3m-2 0h3m11 0h3m-1 0h3m4 0h3m5 0h3m4 0h3m49 0h3m16 0h3m18 0h3m3 0h3m14 0h3m6 0h3m-280 1h3m42 0h3m4 0h3m16 0h3m24 0h3m6 0h3m7 0h3m3 0h3m4 0h3m12 0h3m27 0h3m4 0h3m47 0h3m-206 1h3m2 0h3m17 0h3m27 0h3m12 0h3m-1 0h3m6 0h3m5 0h3m-2 0h3m20 0h3m31 0h3m10 0h3m0 0h3m23 0h3m3 0h3m5 0h3m3 0h3m25 0h3m-252 1h3m12 0h3m21 0h3m-2 0h3m18 0h3m45 0h3m0 0h3m16 0h3m8 0h3m45 0h3m8 0h3m20 0h3m0 0h3m10 0h3m-256 1h3m8 0h3m15 0h3m31 0h3m11 0h3m3 0h3m17 0h3m-1 0h3m-1 0h3m13 0h3m-2 0h3m7 0h3m-2 0h3m18 0h3m8 0h3m1 0h3m14 0h3m9 0h3m36 0h3m46 0h3m-295 1h3m5 0h3m-2 0h3m13 0h3m13 0h3m20 0h3m31 0h3m0 0h3m2 0h3m3 0h3m2 0h3m14 0h3m8 0h3m-2 0h3m1 0h3m-107 1h3m7 0h3m2 0h3m-2 0h3m11 0h3m5 0h3m-2 0h3m22 0h3m25 0h3m2 0h3m0 0h3m5 0h3m5 0h3m89 0h3m5 0h3m10 0h3m-273 1h3m0 0h3m-1 0h3m7 0h3m-2 0h3m3 0h3m0 0h3m15 0h3m7 0h3m6 0h3m4 0h3m4 0h3m15 0h3m2 0h3m3 0h3m20 0h3m-1 0h3m15 0h3m25 0h3m27 0h3m19 0h3m-2 0h3m12 0h3m-224 1h3m40 0h3m-2 0h3m11 0h3m16 0h3m-1 0h3m13 0h3m0 0h3m20 0h3m3 0h3m16 0h3m39 0h3m20 0h3m-233 1h3m12 0h3m2 0h3m1 0h3m15 0h3m8 0h3m5 0h3m0 0h3m24 0h3m1 0h3m25 0h3m22 0h3m18 0h3m103 0h3m-274 1h3m23 0h3m6 0h3m22 0h3m8 0h3m11 0h3m1 0h3m0 0h3m6 0h3m8 0h3m-2 0h3m2 0h3m-2 0h3m4 0h3m0 0h3m19 0h3m27 0h3m4 0h3m11 0h3m26 0h3m10 0h3m27 0h3m-290 1h3m32 0h3m34 0h3m45 0h3m3 0h3m33 0h3m39 0h3m24 0h3m-210 1h3m6 0h3m22 0h3m36 0h3m8 0h3m-1 0h3m22 0h3m-2 0h3m-1 0h3m3 0h3m-2 0h3m27 0h3m38 0h3m53 0h3m-273 1h3m25 0h3m16 0h3m5 0h3m33 0h3m18 0h3m-2 0h3m30 0h3m48 0h3m5 0h3m5 0h3m-205 1h3m36 0h3m0 0h3m27 0h3m10 0h3m13 0h3m5 0h3m13 0h3m10 0h3m0 0h3m2 0h3m5 0h3m7 0h3m-2 0h3m6 0h3m19 0h3m55 0h3m-2 0h3m-250 1h3m15 0h3m3 0h3m20 0h3m0 0h3m6 0h3m4 0h3m-1 0h3m1 0h3m6 0h3m9 0h3m-1 0h3m1 0h3m4 0h3m16 0h3m35 0h3m35 0h3m30 0h3m-249 1h3m7 0h3m5 0h3m10 0h3m18 0h3m16 0h3m3 0h3m50 0h3m14 0h3m27 0h3m20 0h3m7 0h3m-1 0h3m26 0h3m6 0h3m8 0h3m5 0h3m-253 1h3m17 0h3m2 0h3m3 0h3m5 0h3m0 0h3m-2 0h3m17 0h3m21 0h3m30 0h3m4 0h3m4 0h3m2 0h3m11 0h3m43 0h3m25 0h3m10 0h3m-268 1h3m1 0h3m6 0h3m3 0h3m-2 0h3m33 0h3m-1 0h3m19 0h3m-1 0h3m-1 0h3m22 0h3m-2 0h3m-2 0h3m73 0h3m42 0h3m-1 0h3m15 0h3m8 0h3m-255 1h3m2 0h3m-1 0h3m-1 0h3m10 0h3m10 0h3m-1 0h3m0 0h3m-2 0h3m1 0h3m23 0h3m-1 0h3m15 0h3m1 0h3m7 0h3m11 0h3m36 0h3m-1 0h3m12 0h3m18 0h3m-186 1h3m8 0h3m14 0h3m-1 0h3m2 0h3m43 0h3m2 0h3m15 0h3m1 0h3m2 0h3m4 0h3m37 0h3m33 0h3m11 0h3m36 0h3m0 0h3m-254 1h3m9 0h3m-1 0h3m2 0h3m2 0h3m4 0h3m9 0h3m21 0h3m-2 0h3m14 0h3m16 0h3m4 0h3m1 0h3m20 0h3m13 0h3m5 0h3m42 0h3m-224 1h3m10 0h3m1 0h3m39 0h3m2 0h3m-1 0h3m11 0h3m38 0h3m0 0h3m26 0h3m13 0h3m56 0h3m21 0h3m11 0h3m-263 1h3m-1 0h3m21 0h3m71 0h3m13 0h3m13 0h3m10 0h3m4 0h3m26 0h3m3 0h3m11 0h3m9 0h3m10 0h3m22 0h3m-272 1h3m31 0h3m40 0h3m5 0h3m-2 0h3m0 0h3m37 0h3m3 0h3m20 0h3m14 0h3m7 0h3m-1 0h3m21 0h3m18 0h3m24 0h3m9 0h3m-245 1h3m3 0h3m11 0h3m10 0h3m32 0h3m0 0h3m0 0h3m-1 0h3m8 0h3m4 0h3m2 0h3m6 0h3m5 0h3m-1 0h3m16 0h3m20 0h3m21 0h3m-195 1h3m3 0h3m11 0h3m24 0h3m-2 0h3m24 0h3m0 0h3m-1 0h3m-1 0h3m3 0h3m14 0h3m2 0h3m0 0h3m25 0h3m66 0h3m-2 0h3m-205 1h3m3 0h3m10 0h3m17 0h3m3 0h3m16 0h3m-2 0h3m31 0h3m10 0h3m17 0h3m2 0h3m0 0h3m33 0h3m15 0h3m-213 1h3m11 0h3m-2 0h3m-1 0h3m6 0h3m0 0h3m29 0h3m10 0h3m34 0h3m7 0h3m0 0h3m3 0h3m9 0h3m2 0h3m2 0h3m17 0h3m3 0h3m8 0h3m14 0h3m13 0h3m2 0h3m23 0h3m6 0h3m1 0h3m-1 0h3m-255 1h3m-1 0h3m0 0h3m8 0h3m1 0h3m-2 0h3m5 0h3m0 0h3m4 0h3m20 0h3m29 0h3m3 0h3m-2 0h3m-2 0h3m-2 0h3m24 0h3m39 0h3m2 0h3m17 0h3m45 0h3m12 0h3m-267 1h3m44 0h3m25 0h3m22 0h3m0 0h3m-1 0h3m10 0h3m80 0h3m32 0h3m-252 1h3m26 0h3m-2 0h3m12 0h3m-1 0h3m12 0h3m1 0h3m0 0h3m20 0h3m9 0h3m20 0h3m13 0h3m43 0h3m21 0h3m3 0h3m33 0h3m16 0h3m-277 1h3m16 0h3m21 0h3m10 0h3m18 0h3m-2 0h3m0 0h3m3 0h3m-1 0h3m3 0h3m9 0h3m5 0h3m-1 0h3m7 0h3m-2 0h3m2 0h3m8 0h3m32 0h3m2 0h3m2 0h3m14 0h3m13 0h3m10 0h3m12 0h3m-266 1h3m-1 0h3m30 0h3m2 0h3m-2 0h3m5 0h3m24 0h3m4 0h3m29 0h3m-2 0h3m-2 0h3m6 0h3m8 0h3m5 0h3m0 0h3m4 0h3m3 0h3m35 0h3m60 0h3m-251 1h3m0 0h3m-2 0h3m8 0h3m4 0h3m-2 0h3m7 0h3m5 0h3m5 0h3m9 0h3m14 0h3m4 0h3m14 0h3m35 0h3m16 0h3m1 0h3m4 0h3m1 0h3m1 0h3m10 0h3m-1 0h3m3 0h3m5 0h3m9 0h3m15 0h3m5 0h3m-2 0h3m17 0h3m6 0h3m-291 1h3m38 0h3m13 0h3m7 0h3m12 0h3m29 0h3m-1 0h3m14 0h3m28 0h3m5 0h3m33 0h3m13 0h3m22 0h3m33 0h3m-287 1h3m37 0h3m5 0h3m-2 0h3m3 0h3m4 0h3m1 0h3m6 0h3m23 0h3m-1 0h3m-2 0h3m-1 0h3m3 0h3m-2 0h3m0 0h3m4 0h3m4 0h3m4 0h3m32 0h3m-1 0h3m26 0h3m4 0h3m18 0h3m35 0h3m-271 1h3m6 0h3m24 0h3m19 0h3m22 0h3m16 0h3m6 0h3m-1 0h3m-1 0h3m-2 0h3m1 0h3m-2 0h3m0 0h3m4 0h3m78 0h3m25 0h3m-244 1h3m14 0h3m11 0h3m20 0h3m-2 0h3m0 0h3m2 0h3m2 0h3m-1 0h3m12 0h3m10 0h3m-1 0h3m14 0h3m2 0h3m5 0h3m0 0h3m97 0h3m0 0h3m5 0h3m14 0h3m-247 1h3m30 0h3m5 0h3m8 0h3m3 0h3m26 0h3m1 0h3m-1 0h3m2 0h3m15 0h3m14 0h3m49 0h3m2 0h3m8 0h3m48 0h3m-262 1h3m4 0h3m37 0h3m7 0h3m8 0h3m-2 0h3m8 0h3m7 0h3m9 0h3m26 0h3m2 0h3m19 0h3m26 0h3m4 0h3m16 0h3m10 0h3m0 0h3m29 0h3m10 0h3m-284 1h3m16 0h3m49 0h3m7 0h3m-1 0h3m2 0h3m8 0h3m10 0h3m2 0h3m10 0h3m6 0h3m9 0h3m-2 0h3m31 0h3m5 0h3m66 0h3m16 0h3m-293 1h3m26 0h3m-2 0h3m22 0h3m34 0h3m18 0h3m9 0h3m0 0h3m-1 0h3m13 0h3m3 0h3m-2 0h3m29 0h3m23 0h3m18 0h3m-224 1h3m7 0h3m10 0h3m2 0h3m12 0h3m7 0h3m22 0h3m-2 0h3m20 0h3m20 0h3m5 0h3m24 0h3m-2 0h3m-1 0h3m9 0h3m93 0h3m-1 0h3m-277 1h3m6 0h3m12 0h3m4 0h3m9 0h3m5 0h3m2 0h3m34 0h3m25 0h3m9 0h3m7 0h3m41 0h3m4 0h3m0 0h3m6 0h3m1 0h3m41 0h3m-259 1h3m27 0h3m43 0h3m7 0h3m10 0h3m8 0h3m3 0h3m16 0h3m-2 0h3m-1 0h3m19 0h3m28 0h3m1 0h3m12 0h3m-2 0h3m-221 1h3m-1 0h3m1 0h3m12 0h3m33 0h3m21 0h3m2 0h3m4 0h3m4 0h3m-2 0h3m0 0h3m3 0h3m17 0h3m4 0h3m4 0h3m5 0h3m12 0h3m-1 0h3m-2 0h3m32 0h3m21 0h3m17 0h3m35 0h3m-273 1h3m3 0h3m1 0h3m-2 0h3m10 0h3m5 0h3m7 0h3m3 0h3m5 0h3m9 0h3m6 0h3m0 0h3m39 0h3m20 0h3m-1 0h3m18 0h3m0 0h3m2 0h3m80 0h3m-270 1h3m21 0h3m19 0h3m6 0h3m6 0h3m4 0h3m3 0h3m28 0h3m20 0h3m-2 0h3m11 0h3m3 0h3m36 0h3m-1 0h3m15 0h3m69 0h3m-260 1h3m3 0h3m24 0h3m20 0h3m-2 0h3m23 0h3m-2 0h3m3 0h3m17 0h3m8 0h3m0 0h3m4 0h3m3 0h3m2 0h3m0 0h3m18 0h3m20 0h3m36 0h3m18 0h3m-264 1h3m10 0h3m11 0h3m21 0h3m-1 0h3m15 0h3m5 0h3m0 0h3m13 0h3m14 0h3m14 0h3m13 0h3m18 0h3m49 0h3m-239 1h3m9 0h3m7 0h3m-2 0h3m0 0h3m10 0h3m11 0h3m8 0h3m16 0h3m19 0h3m-2 0h3m-2 0h3m2 0h3m2 0h3m-1 0h3m6 0h3m-2 0h3m12 0h3m9 0h3m58 0h3m17 0h3m-237 1h3m38 0h3m4 0h3m7 0h3m16 0h3m-2 0h3m30 0h3m0 0h3m4 0h3m0 0h3m-2 0h3m24 0h3m14 0h3m67 0h3m38 0h3m-273 1h3m6 0h3m2 0h3m2 0h3m-1 0h3m12 0h3m8 0h3m14 0h3m13 0h3m10 0h3m11 0h3m5 0h3m-1 0h3m-1 0h3m6 0h3m-1 0h3m3 0h3m0 0h3m9 0h3m4 0h3m6 0h3m1 0h3m0 0h3m-2 0h3m84 0h3m-273 1h3m11 0h3m-1 0h3m18 0h3m7 0h3m1 0h3m30 0h3m8 0h3m2 0h3m14 0h3m-2 0h3m13 0h3m3 0h3m22 0h3m-1 0h3m32 0h3m17 0h3m25 0h3m-254 1h3m7 0h3m2 0h3m4 0h3m10 0h3m-1 0h3m-2 0h3m12 0h3m14 0h3m-2 0h3m17 0h3m10 0h3m14 0h3m7 0h3m23 0h3m-1 0h3m17 0h3m14 0h3m77 0h3m-271 1h3m11 0h3m19 0h3m8 0h3m-2 0h3m-1 0h3m1 0h3m6 0h3m3 0h3m17 0h3m13 0h3m-1 0h3m8 0h3m0 0h3m7 0h3m38 0h3m-2 0h3m36 0h3m-2 0h3m7 0h3m1 0h3m-250 1h3m14 0h3m27 0h3m19 0h3m1 0h3m51 0h3m3 0h3m2 0h3m3 0h3m-2 0h3m1 0h3m18 0h3m7 0h3m13 0h3m23 0h3m33 0h3m11 0h3m1 0h3m-279 1h3m7 0h3m38 0h3m0 0h3m19 0h3m1 0h3m30 0h3m14 0h3m17 0h3m7 0h3m66 0h3m18 0h3m16 0h3m10 0h3m-280 1h3m21 0h3m18 0h3m7 0h3m19 0h3m-2 0h3m25 0h3m15 0h3m10 0h3m0 0h3m8 0h3m13 0h3m4 0h3m7 0h3m7 0h3m31 0h3m14 0h3m-250 1h3m-1 0h3m-1 0h3m7 0h3m4 0h3m6 0h3m39 0h3m8 0h3m0 0h3m11 0h3m1 0h3m-1 0h3m3 0h3m0 0h3m2 0h3m0 0h3m2 0h3m8 0h3m5 0h3m10 0h3m28 0h3m60 0h3m0 0h3m25 0h3m-286 1h3m7 0h3m45 0h3m1 0h3m29 0h3m18 0h3m1 0h3m25 0h3m-2 0h3m3 0h3m1 0h3m3 0h3m16 0h3m-174 1h3m30 0h3m11 0h3m-2 0h3m3 0h3m5 0h3m7 0h3m22 0h3m0 0h3m19 0h3m15 0h3m21 0h3m19 0h3m27 0h3m6 0h3m-207 1h3m14 0h3m16 0h3m10 0h3m11 0h3m10 0h3m17 0h3m23 0h3m5 0h3m4 0h3m9 0h3m-1 0h3m43 0h3m32 0h3m-271 1h3m-2 0h3m1 0h3m29 0h3m0 0h3m2 0h3m33 0h3m-2 0h3m-1 0h3m0 0h3m2 0h3m21 0h3m20 0h3m19 0h3m32 0h3m32 0h3m34 0h3m6 0h3m4 0h3m-288 1h3m31 0h3m22 0h3m0 0h3m2 0h3m0 0h3m7 0h3m7 0h3m8 0h3m3 0h3m1 0h3m18 0h3m-2 0h3m1 0h3m3 0h3m-2 0h3m14 0h3m19 0h3m18 0h3m8 0h3m-214 1h3m1 0h3m10 0h3m5 0h3m59 0h3m23 0h3m4 0h3m40 0h3m-1 0h3m-2 0h3m4 0h3m4 0h3m18 0h3m8 0h3m23 0h3m18 0h3m-253 1h3m-2 0h3m-1 0h3m18 0h3m4 0h3m7 0h3m21 0h3m8 0h3m6 0h3m1 0h3m3 0h3m-1 0h3m7 0h3m0 0h3m-109 1h3m9 0h3m22 0h3m28 0h3m8 0h3m9 0h3m-2 0h3m7 0h3m4 0h3m7 0h3m7 0h3m18 0h3m103 0h3m-229 1h3m3 0h3m20 0h3m2 0h3m14 0h3m27 0h3m0 0h3m3 0h3m42 0h3m7 0h3m9 0h3m1 0h3m12 0h3m3 0h3m-2 0h3m3 0h3m-2 0h3m4 0h3m20 0h3m1 0h3m-251 1h3m2 0h3m50 0h3m7 0h3m2 0h3m5 0h3m7 0h3m15 0h3m0 0h3m38 0h3m29 0h3m1 0h3m9 0h3m11 0h3m50 0h3m-290 1h3m8 0h3m-1 0h3m14 0h3m18 0h3m70 0h3m2 0h3m7 0h3m0 0h3m6 0h3m1 0h3m-1 0h3m47 0h3m38 0h3m-251 1h3m-2 0h3m59 0h3m18 0h3m1 0h3m35 0h3m2 0h3m30 0h3m13 0h3m56 0h3m-216 1h3m22 0h3m0 0h3m12 0h3m20 0h3m24 0h3m33 0h3m2 0h3m16 0h3m19 0h3m55 0h3m-200 1h3m15 0h3m3 0h3m22 0h3m2 0h3m10 0h3m0 0h3m1 0h3m7 0h3m57 0h3m35 0h3m37 0h3m-290 1h3m8 0h3m5 0h3m13 0h3m17 0h3m-2 0h3m4 0h3m19 0h3m9 0h3m9 0h3m1 0h3m9 0h3m2 0h3m24 0h3m9 0h3m17 0h3m16 0h3m42 0h3m-255 1h3m133 0h3m5 0h3m-2 0h3m8 0h3m13 0h3m26 0h3m2 0h3m10 0h3m47 0h3m8 0h3m-263 1h3m45 0h3m-2 0h3m-1 0h3m4 0h3m-1 0h3m3 0h3m15 0h3m2 0h3m7 0h3m8 0h3m-2 0h3m9 0h3m15 0h3m-2 0h3m1 0h3m4 0h3m-172 1h3m-1 0h3m14 0h3m18 0h3m-1 0h3m32 0h3m7 0h3m-2 0h3m61 0h3m25 0h3m55 0h3m34 0h3m-280 1h3m2 0h3m4 0h3m4 0h3m80 0h3m3 0h3m11 0h3m9 0h3m25 0h3m-2 0h3m0 0h3m38 0h3m11 0h3m-213 1h3m-2 0h3m5 0h3m0 0h3m17 0h3m14 0h3m0 0h3m11 0h3m9 0h3m-2 0h3m17 0h3m8 0h3m23 0h3m15 0h3m41 0h3m-1 0h3m-217 1h3m25 0h3m47 0h3m19 0h3m3 0h3m1 0h3m2 0h3m2 0h3m-1 0h3m3 0h3m32 0h3m25 0h3m21 0h3m2 0h3m24 0h3m-244 1h3m2 0h3m1 0h3m-1 0h3m15 0h3m8 0h3m29 0h3m-2 0h3m10 0h3m-1 0h3m-1 0h3m-2 0h3m14 0h3m6 0h3m-2 0h3m1 0h3m-1 0h3m0 0h3m-2 0h3m76 0h3m10 0h3m17 0h3m-244 1h3m5 0h3m55 0h3m17 0h3m10 0h3m3 0h3m2 0h3m13 0h3m15 0h3m-2 0h3m126 0h3m-278 1h3m31 0h3m54 0h3m10 0h3m5 0h3m9 0h3m11 0h3m35 0h3m46 0h3m2 0h3m-224 1h3m19 0h3m31 0h3m0 0h3m26 0h3m49 0h3m1 0h3m70 0h3m55 0h3m-278 1h3m37 0h3m5 0h3m25 0h3m33 0h3m24 0h3m3 0h3m11 0h3m21 0h3m30 0h3m15 0h3m-226 1h3m15 0h3m18 0h3m40 0h3m32 0h3m-1 0h3m40 0h3m35 0h3m-203 1h3m13 0h3m-2 0h3m14 0h3m2 0h3m20 0h3m-2 0h3m-1 0h3m-2 0h3m-2 0h3m0 0h3m-1 0h3m17 0h3m31 0h3m29 0h3m23 0h3m33 0h3m12 0h3m28 0h3m-275 1h3m7 0h3m2 0h3m20 0h3m10 0h3m20 0h3m2 0h3m5 0h3m6 0h3m14 0h3m22 0h3m41 0h3m58 0h3m22 0h3m-1 0h3m-214 1h3m2 0h3m20 0h3m8 0h3m19 0h3m14 0h3m13 0h3m6 0h3m21 0h3m33 0h3m-218 1h3m46 0h3m1 0h3m3 0h3m9 0h3m0 0h3m-1 0h3m2 0h3m1 0h3m17 0h3m5 0h3m3 0h3m4 0h3m27 0h3m11 0h3m20 0h3m20 0h3m12 0h3m1 0h3m-257 1h3m15 0h3m16 0h3m-1 0h3m15 0h3m26 0h3m-2 0h3m-1 0h3m6 0h3m38 0h3m55 0h3m-182 1h3m14 0h3m0 0h3m11 0h3m46 0h3m1 0h3m-1 0h3m4 0h3m9 0h3m6 0h3m-1 0h3m0 0h3m-1 0h3m30 0h3m14 0h3m18 0h3m13 0h3m16 0h3m-259 1h3m5 0h3m2 0h3m78 0h3m2 0h3m4 0h3m8 0h3m4 0h3m6 0h3m-131 1h3m14 0h3m11 0h3m-2 0h3m4 0h3m-2 0h3m64 0h3m-1 0h3m4 0h3m6 0h3m39 0h3m5 0h3m7 0h3m5 0h3m16 0h3m52 0h3m-263 1h3m11 0h3m28 0h3m-2 0h3m16 0h3m11 0h3m7 0h3m54 0h3m72 0h3m21 0h3m-232 1h3m9 0h3m13 0h3m1 0h3m11 0h3m11 0h3m11 0h3m42 0h3m15 0h3m-2 0h3m14 0h3m24 0h3m19 0h3m-1 0h3m5 0h3m0 0h3m2 0h3m-239 1h3m3 0h3m5 0h3m23 0h3m9 0h3m6 0h3m20 0h3m0 0h3m26 0h3m5 0h3m-2 0h3m1 0h3m4 0h3m16 0h3m8 0h3m65 0h3m33 0h3m-244 1h3m0 0h3m8 0h3m27 0h3m0 0h3m5 0h3m-1 0h3m7 0h3m21 0h3m39 0h3m-177 1h3m46 0h3m32 0h3m23 0h3m28 0h3m4 0h3m17 0h3m-2 0h3m54 0h3m8 0h3m0 0h3m44 0h3m-287 1h3m4 0h3m49 0h3m2 0h3m-2 0h3m0 0h3m15 0h3m3 0h3m4 0h3m3 0h3m21 0h3m15 0h3m30 0h3m0 0h3m-180 1h3m10 0h3m2 0h3m12 0h3m0 0h3m64 0h3m20 0h3m7 0h3m12 0h3m38 0h3m-208 1h3m6 0h3m4 0h3m17 0h3m47 0h3m5 0h3m18 0h3m21 0h3m-2 0h3m24 0h3m11 0h3m17 0h3m16 0h3m-1 0h3m19 0h3m-240 1h3m2 0h3m13 0h3m7 0h3m11 0h3m1 0h3m19 0h3m38 0h3m10 0h3m11 0h3m18 0h3m57 0h3m35 0h3m-182 1h3m2 0h3m0 0h3m30 0h3m13 0h3m14 0h3m15 0h3m20 0h3m10 0h3m2 0h3m2 0h3m25 0h3m34 0h3m-284 1h3m6 0h3m1 0h3m30 0h3m36 0h3m1 0h3m-2 0h3m18 0h3m1 0h3m56 0h3m17 0h3m-184 1h3m8 0h3m39 0h3m22 0h3m30 0h3m11 0h3m73 0h3m51 0h3m4 0h3m-179 1h3m17 0h3m3 0h3m8 0h3m13 0h3m116 0h3m-239 1h3m1 0h3m20 0h3m14 0h3m53 0h3m-1 0h3m13 0h3m24 0h3m23 0h3m13 0h3m8 0h3m-143 1h3m5 0h3m173 0h3m-266 1h3m3 0h3m29 0h3m23 0h3m11 0h3m12 0h3m11 0h3m13 0h3m-2 0h3m23 0h3m59 0h3m7 0h3m-229 1h3m63 0h3m-1 0h3m0 0h3m-1 0h3m-2 0h3m38 0h3m-1 0h3m5 0h3m21 0h3m38 0h3m-202 1h3m7 0h3m7 0h3m5 0h3m-1 0h3m4 0h3m48 0h3m40 0h3m14 0h3m56 0h3m14 0h3m11 0h3m2 0h3" stroke="#333" stroke-width="3" fill="none" filter="url(#bl)"/>
<path transform="scale(.2)" d="M0 0m967 1793h4m-22 6h4m6 2h4m-5 1h4m-19 2h4m-3 0h4m9 1h4m2 0h4m1 1h4m-3 1h4m-22 1h4m22 0h4m-12 1h4m0 0h4m-35 1h4m-3 0h4m5 0h4m-3 0h4m-13 2h4m-2 1h4m36 1h4m-32 1h4m5 1h4m-6 1h4m-24 1h4m4 0h4m-3 0h4m20 0h4m-17 1h4m-23 5h4m6 0h4m2 1h4m1 0h4m-15 3h4m3 2h4m14 0h4m-40 2h4m23 0h4" stroke="#30b060" stroke-width="4" fill="none" filter="url(#bl)"/>
<rect x="187.60" y="356.40" width="24.00" height="12.50" fill="none" stroke="#666" stroke-width="0.7"/>
<rect x="156.60" y="342.80" width="60.80" height="54.50" fill="none" stroke="#9a9a9a" stroke-width="0.7"/>
<line x1="156.6" y1="342.8" x2="156.6" y2="397.7" stroke="#222" stroke-width="0.9"/>
<line x1="156.2" y1="397.3" x2="217.4" y2="397.3" stroke="#333" stroke-width="0.8"/>
<text x="155.2" y="348.5" font-size="3.3" font-family="Liberation Sans" fill="#333" text-anchor="end" transform="rotate(38 155.2 348.5)">10<tspan dy="-1" font-size="2.2">5</tspan></text>
<line x1="155.4" y1="347.5" x2="156.6" y2="347.5" stroke="#333" stroke-width="0.6"/>
<text x="155.2" y="362.4718181818182" font-size="3.3" font-family="Liberation Sans" fill="#333" text-anchor="end" transform="rotate(38 155.2 362.4718181818182)">10<tspan dy="-1" font-size="2.2">5</tspan></text>
<line x1="155.4" y1="361.4718181818182" x2="156.6" y2="361.4718181818182" stroke="#333" stroke-width="0.6"/>
<text x="155.2" y="376.44363636363636" font-size="3.3" font-family="Liberation Sans" fill="#333" text-anchor="end" transform="rotate(38 155.2 376.44363636363636)">10<tspan dy="-1" font-size="2.2">5</tspan></text>
<line x1="155.4" y1="375.44363636363636" x2="156.6" y2="375.44363636363636" stroke="#333" stroke-width="0.6"/>
<text x="155.2" y="390.41545454545457" font-size="3.3" font-family="Liberation Sans" fill="#333" text-anchor="end" transform="rotate(38 155.2 390.41545454545457)">10<tspan dy="-1" font-size="2.2">5</tspan></text>
<line x1="155.4" y1="389.41545454545457" x2="156.6" y2="389.41545454545457" stroke="#333" stroke-width="0.6"/>
<text x="164.7" y="401.90000000000003" font-size="3.3" font-family="Liberation Sans" fill="#333" text-anchor="middle" transform="rotate(-40 164.7 400.90000000000003)">10<tspan dy="-1" font-size="2.2">5</tspan></text>
<line x1="164.7" y1="397.3" x2="164.7" y2="398.5" stroke="#333" stroke-width="0.6"/>
<text x="179.6" y="401.90000000000003" font-size="3.3" font-family="Liberation Sans" fill="#333" text-anchor="middle" transform="rotate(-40 179.6 400.90000000000003)">10<tspan dy="-1" font-size="2.2">5</tspan></text>
<line x1="179.6" y1="397.3" x2="179.6" y2="398.5" stroke="#333" stroke-width="0.6"/>
<text x="194.5" y="401.90000000000003" font-size="3.3" font-family="Liberation Sans" fill="#333" text-anchor="middle" transform="rotate(-40 194.5 400.90000000000003)">10<tspan dy="-1" font-size="2.2">5</tspan></text>
<line x1="194.5" y1="397.3" x2="194.5" y2="398.5" stroke="#333" stroke-width="0.6"/>
<text x="209.39999999999998" y="401.90000000000003" font-size="3.3" font-family="Liberation Sans" fill="#333" text-anchor="middle" transform="rotate(-40 209.39999999999998 400.90000000000003)">10<tspan dy="-1" font-size="2.2">5</tspan></text>
<line x1="209.39999999999998" y1="397.3" x2="209.39999999999998" y2="398.5" stroke="#333" stroke-width="0.6"/>
<path transform="scale(.2)" d="M0 0m952 2167h3m32 4h3m-13 1h3m-35 4h3m1 2h3m30 0h3m-37 1h3m62 1h3m-3 2h3m-52 3h3m21 2h3m-50 1h3m55 1h3m2 0h3m-61 1h3m28 0h3m7 1h3m-57 1h3m25 0h3m-2 0h3m54 0h3m-75 1h3m24 0h3m15 0h3m-140 2h3m108 1h3m25 0h3m1 0h3m-58 1h3m24 1h3m5 0h3m-48 1h3m65 0h3m0 0h3m-133 1h3m98 0h3m-12 1h3m-32 1h3m42 0h3m-58 1h3m22 0h3m7 0h3m10 0h3m4 0h3m9 0h3m7 0h3m-77 1h3m27 0h3m30 0h3m-2 0h3m16 0h3m3 0h3m-63 1h3m2 0h3m18 0h3m3 0h3m5 0h3m-180 1h3m117 0h3m0 0h3m9 0h3m2 0h3m16 0h3m1 0h3m24 0h3m-2 0h3m-56 1h3m11 0h3m2 0h3m0 0h3m8 0h3m17 0h3m-80 1h3m21 0h3m1 0h3m8 0h3m15 0h3m-41 1h3m2 0h3m6 0h3m8 0h3m2 0h3m9 0h3m8 0h3m-120 1h3m41 0h3m33 0h3m5 0h3m22 0h3m11 0h3m-77 1h3m2 0h3m14 0h3m0 0h3m-19 1h3m8 0h3m-2 0h3m-2 0h3m8 0h3m0 0h3m38 0h3m-74 1h3m1 0h3m6 0h3m7 0h3m8 0h3m-32 1h3m3 0h3m19 0h3m4 0h3m-45 1h3m0 0h3m2 0h3m-1 0h3m2 0h3m2 0h3m-1 0h3m8 0h3m13 0h3m-143 1h3m72 0h3m26 0h3m9 0h3m8 0h3m19 0h3m11 0h3m-165 1h3m72 0h3m24 0h3m0 0h3m5 0h3m6 0h3m8 0h3m-91 1h3m42 0h3m7 0h3m1 0h3m5 0h3m3 0h3m9 0h3m13 0h3m-151 1h3m1 0h3m5 0h3m84 0h3m-2 0h3m14 0h3m17 0h3m-2 0h3m9 0h3m-150 1h3m26 0h3m22 0h3m16 0h3m15 0h3m-1 0h3m21 0h3m-1 0h3m0 0h3m2 0h3m-142 1h3m-2 0h3m3 0h3m6 0h3m69 0h3m17 0h3m1 0h3m15 0h3m-1 0h3m32 0h3m-66 1h3m5 0h3m8 0h3m10 0h3m3 0h3m-1 0h3m4 0h3m1 0h3m-187 1h3m2 0h3m34 0h3m78 0h3m10 0h3m-2 0h3m9 0h3m1 0h3m1 0h3m3 0h3m37 0h3m-204 1h3m36 0h3m87 0h3m16 0h3m2 0h3m-2 0h3m6 0h3m-1 0h3m14 0h3m-137 1h3m47 0h3m35 0h3m0 0h3m0 0h3m2 0h3m1 0h3m3 0h3m-1 0h3m-2 0h3m3 0h3m-2 0h3m3 0h3m4 0h3m-1 0h3m-171 1h3m4 0h3m2 0h3m10 0h3m13 0h3m56 0h3m15 0h3m2 0h3m10 0h3m0 0h3m6 0h3m0 0h3m2 0h3m3 0h3m8 0h3m-195 1h3m28 0h3m4 0h3m81 0h3m26 0h3m2 0h3m4 0h3m-1 0h3m3 0h3m4 0h3m-1 0h3m-144 1h3m3 0h3m2 0h3m96 0h3m1 0h3m-2 0h3m4 0h3m-2 0h3m0 0h3m7 0h3m0 0h3m-1 0h3m-181 1h3m38 0h3m6 0h3m95 0h3m0 0h3m5 0h3m1 0h3m2 0h3m4 0h3m4 0h3m-2 0h3m-2 0h3m6 0h3m0 0h3m1 0h3m-2 0h3m11 0h3m-90 1h3m8 0h3m3 0h3m10 0h3m2 0h3m-1 0h3m2 0h3m7 0h3m5 0h3m-215 1h3m21 0h3m-1 0h3m13 0h3m26 0h3m-1 0h3m0 0h3m-2 0h3m-1 0h3m25 0h3m42 0h3m17 0h3m4 0h3m0 0h3m1 0h3m17 0h3m24 0h3m-171 1h3m12 0h3m26 0h3m28 0h3m0 0h3m19 0h3m-1 0h3m9 0h3m9 0h3m24 0h3m-170 1h3m5 0h3m7 0h3m27 0h3m42 0h3m5 0h3m10 0h3m4 0h3m0 0h3m9 0h3m-2 0h3m-2 0h3m-1 0h3m4 0h3m4 0h3m5 0h3m2 0h3m-191 1h3m34 0h3m12 0h3m76 0h3m6 0h3m1 0h3m1 0h3m0 0h3m-2 0h3m-1 0h3m-1 0h3m-1 0h3m5 0h3m2 0h3m0 0h3m-184 1h3m-1 0h3m21 0h3m30 0h3m1 0h3m64 0h3m13 0h3m15 0h3m12 0h3m2 0h3m6 0h3m11 0h3m-196 1h3m1 0h3m11 0h3m28 0h3m2 0h3m29 0h3m23 0h3m7 0h3m15 0h3m19 0h3m-167 1h3m1 0h3m26 0h3m52 0h3m8 0h3m12 0h3m4 0h3m10 0h3m7 0h3m8 0h3m8 0h3m-1 0h3m6 0h3m-2 0h3m19 0h3m-224 1h3m1 0h3m29 0h3m5 0h3m-2 0h3m1 0h3m-2 0h3m17 0h3m8 0h3m54 0h3m-2 0h3m25 0h3m13 0h3m0 0h3m3 0h3m23 0h3m-224 1h3m19 0h3m21 0h3m1 0h3m7 0h3m57 0h3m22 0h3m0 0h3m14 0h3m15 0h3m1 0h3m1 0h3m0 0h3m8 0h3m-2 0h3m0 0h3m-228 1h3m43 0h3m2 0h3m0 0h3m-2 0h3m85 0h3m24 0h3m39 0h3m-181 1h3m1 0h3m12 0h3m0 0h3m2 0h3m2 0h3m2 0h3m-1 0h3m7 0h3m2 0h3m2 0h3m24 0h3m40 0h3m2 0h3m23 0h3m-2 0h3m2 0h3m15 0h3m-221 1h3m19 0h3m9 0h3m4 0h3m5 0h3m14 0h3m-2 0h3m-1 0h3m-2 0h3m-2 0h3m11 0h3m18 0h3m42 0h3m14 0h3m8 0h3m-2 0h3m1 0h3m-2 0h3m17 0h3m10 0h3m-2 0h3m5 0h3m-176 1h3m4 0h3m-2 0h3m0 0h3m7 0h3m29 0h3m26 0h3m0 0h3m-1 0h3m3 0h3m26 0h3m12 0h3m0 0h3m13 0h3m-179 1h3m57 0h3m13 0h3m14 0h3m22 0h3m4 0h3m11 0h3m3 0h3m27 0h3m3 0h3m18 0h3m-197 1h3m15 0h3m13 0h3m16 0h3m25 0h3m39 0h3m0 0h3m12 0h3m2 0h3m5 0h3m1 0h3m-1 0h3m-172 1h3m8 0h3m-1 0h3m7 0h3m2 0h3m1 0h3m1 0h3m2 0h3m66 0h3m3 0h3m3 0h3m32 0h3m0 0h3m12 0h3m2 0h3m-183 1h3m3 0h3m5 0h3m30 0h3m0 0h3m1 0h3m2 0h3m0 0h3m45 0h3m6 0h3m18 0h3m4 0h3m1 0h3m1 0h3m3 0h3m11 0h3m0 0h3m20 0h3m-205 1h3m3 0h3m0 0h3m22 0h3m11 0h3m16 0h3m-2 0h3m69 0h3m7 0h3m7 0h3m15 0h3m-2 0h3m-206 1h3m36 0h3m-2 0h3m5 0h3m0 0h3m-2 0h3m-1 0h3m-1 0h3m15 0h3m19 0h3m4 0h3m11 0h3m48 0h3m1 0h3m-152 1h3m3 0h3m3 0h3m10 0h3m0 0h3m-1 0h3m9 0h3m0 0h3m3 0h3m0 0h3m16 0h3m-1 0h3m48 0h3m7 0h3m26 0h3m9 0h3m-187 1h3m0 0h3m13 0h3m21 0h3m-1 0h3m9 0h3m30 0h3m42 0h3m9 0h3m19 0h3m11 0h3m-2 0h3m7 0h3m-219 1h3m12 0h3m20 0h3m4 0h3m10 0h3m8 0h3m-1 0h3m38 0h3m44 0h3m4 0h3m6 0h3m-2 0h3m-2 0h3m9 0h3m8 0h3m1 0h3m-171 1h3m10 0h3m-2 0h3m-2 0h3m2 0h3m2 0h3m6 0h3m-2 0h3m0 0h3m2 0h3m2 0h3m-1 0h3m56 0h3m22 0h3m11 0h3m0 0h3m-153 1h3m2 0h3m4 0h3m0 0h3m4 0h3m5 0h3m-2 0h3m-1 0h3m7 0h3m8 0h3m15 0h3m60 0h3m2 0h3m38 0h3m22 0h3m-236 1h3m8 0h3m6 0h3m6 0h3m2 0h3m2 0h3m4 0h3m0 0h3m3 0h3m16 0h3m6 0h3m17 0h3m45 0h3m9 0h3m17 0h3m18 0h3m-190 1h3m4 0h3m39 0h3m-1 0h3m-1 0h3m4 0h3m-1 0h3m9 0h3m7 0h3m54 0h3m1 0h3m1 0h3m-2 0h3m22 0h3m11 0h3m-2 0h3m6 0h3m20 0h3m-216 1h3m6 0h3m2 0h3m0 0h3m4 0h3m4 0h3m2 0h3m2 0h3m3 0h3m2 0h3m-2 0h3m31 0h3m7 0h3m-2 0h3m41 0h3m17 0h3m-179 1h3m2 0h3m1 0h3m-2 0h3m-2 0h3m1 0h3m3 0h3m2 0h3m-2 0h3m1 0h3m5 0h3m0 0h3m15 0h3m39 0h3m38 0h3m2 0h3m35 0h3m-169 1h3m6 0h3m-1 0h3m-1 0h3m4 0h3m0 0h3m-2 0h3m4 0h3m2 0h3m2 0h3m8 0h3m11 0h3m90 0h3m0 0h3m-186 1h3m11 0h3m3 0h3m-2 0h3m2 0h3m5 0h3m-1 0h3m-2 0h3m-1 0h3m-2 0h3m5 0h3m10 0h3m-1 0h3m7 0h3m64 0h3m22 0h3m-1 0h3m-168 1h3m9 0h3m16 0h3m-2 0h3m1 0h3m-1 0h3m1 0h3m4 0h3m12 0h3m1 0h3m0 0h3m82 0h3m18 0h3m-193 1h3m20 0h3m9 0h3m13 0h3m56 0h3m72 0h3m5 0h3m22 0h3m17 0h3m-214 1h3m13 0h3m2 0h3m0 0h3m15 0h3m19 0h3m33 0h3m14 0h3m25 0h3m-151 1h3m6 0h3m0 0h3m1 0h3m2 0h3m12 0h3m-1 0h3m2 0h3m2 0h3m74 0h3m29 0h3m-160 1h3m4 0h3m-2 0h3m2 0h3m-1 0h3m14 0h3m-1 0h3m13 0h3m-1 0h3m0 0h3m63 0h3m12 0h3m-165 1h3m3 0h3m5 0h3m3 0h3m36 0h3m-2 0h3m5 0h3m3 0h3m34 0h3m68 0h3m-186 1h3m8 0h3m1 0h3m19 0h3m24 0h3m10 0h3m0 0h3m76 0h3m43 0h3m-192 1h3m2 0h3m4 0h3m0 0h3m9 0h3m-2 0h3m6 0h3m2 0h3m4 0h3m12 0h3m7 0h3m0 0h3m101 0h3m-194 1h3m2 0h3m10 0h3m5 0h3m-2 0h3m7 0h3m-2 0h3m-2 0h3m4 0h3m-1 0h3m0 0h3m9 0h3m1 0h3m19 0h3m0 0h3m13 0h3m47 0h3m2 0h3m-163 1h3m22 0h3m7 0h3m1 0h3m9 0h3m2 0h3m-2 0h3m17 0h3m5 0h3m49 0h3m36 0h3m-176 1h3m6 0h3m6 0h3m1 0h3m5 0h3m2 0h3m-2 0h3m-2 0h3m7 0h3m1 0h3m0 0h3m-1 0h3m0 0h3m17 0h3m-2 0h3m71 0h3m4 0h3m-165 1h3m12 0h3m5 0h3m3 0h3m3 0h3m-2 0h3m2 0h3m-2 0h3m2 0h3m15 0h3m3 0h3m2 0h3m8 0h3m59 0h3m-132 1h3m16 0h3m9 0h3m-1 0h3m1 0h3m2 0h3m1 0h3m-1 0h3m-59 1h3m2 0h3m5 0h3m20 0h3m7 0h3m2 0h3m8 0h3m-1 0h3m-2 0h3m2 0h3m70 0h3m5 0h3m-152 1h3m5 0h3m1 0h3m12 0h3m-2 0h3m-1 0h3m8 0h3m134 0h3m15 0h3m-186 1h3m0 0h3m3 0h3m0 0h3m2 0h3m2 0h3m-2 0h3m0 0h3m1 0h3m4 0h3m4 0h3m-60 1h3m-2 0h3m10 0h3m2 0h3m0 0h3m2 0h3m0 0h3m3 0h3m2 0h3m0 0h3m4 0h3m1 0h3m38 0h3m39 0h3m-150 1h3m1 0h3m16 0h3m-2 0h3m-2 0h3m0 0h3m1 0h3m16 0h3m12 0h3m6 0h3m0 0h3m0 0h3m68 0h3m-124 1h3m-2 0h3m7 0h3m1 0h3m4 0h3m5 0h3m7 0h3m-51 1h3m13 0h3m11 0h3m-1 0h3m0 0h3m1 0h3m10 0h3m22 0h3m-110 1h3m18 0h3m-1 0h3m46 0h3m81 0h3m-140 1h3m7 0h3m19 0h3m13 0h3m-2 0h3m4 0h3m62 0h3m1 0h3m54 0h3m-196 1h3m13 0h3m1 0h3m7 0h3m-1 0h3m9 0h3m1 0h3m32 0h3m-92 1h3m11 0h3m14 0h3m1 0h3m12 0h3m-38 1h3m29 0h3m2 0h3m-2 0h3m-2 0h3m0 0h3m-52 1h3m2 0h3m1 0h3m17 0h3m-2 0h3m-23 1h3m0 0h3m3 0h3m8 0h3m2 0h3m4 0h3m-2 0h3m10 0h3m31 0h3m-81 1h3m10 0h3m21 0h3m6 0h3m-32 1h3m1 0h3m-16 1h3m21 0h3m-31 1h3m-1 0h3m48 0h3m-44 1h3m-2 0h3m-11 1h3m-10 1h3m-2 0h3m-28 1h3m10 0h3m0 0h3m14 0h3m7 0h3m12 0h3m-50 1h3m21 0h3m-1 0h3m-18 1h3m4 1h3m11 0h3m-17 1h3m12 0h3m-13 1h3m35 0h3m-74 2h3m2 2h3m164 0h3m-162 1h3m-2 1h3m3 0h3m-17 1h3m45 0h3m14 0h3m-12 7h3" stroke="#111" stroke-width="3" fill="none" filter="url(#bl)"/>
<path transform="scale(.2)" d="M0 0m931 2060h3m-91 8h3m67 16h3m7 1h3m-99 1h3m228 3h3m-208 3h3m73 1h3m-123 1h3m113 1h3m81 0h3m-43 1h3m-161 4h3m105 0h3m-119 1h3m28 0h3m100 0h3m42 0h3m-144 1h3m71 1h3m-53 2h3m-45 1h3m50 0h3m9 0h3m87 0h3m53 0h3m-63 1h3m-4 1h3m34 1h3m-180 1h3m59 0h3m6 1h3m53 0h3m23 0h3m-55 1h3m20 0h3m-151 1h3m23 0h3m116 0h3m37 1h3m-194 1h3m71 0h3m0 0h3m8 0h3m119 0h3m-89 1h3m6 0h3m59 0h3m-102 1h3m33 0h3m8 0h3m25 0h3m-171 1h3m13 0h3m94 0h3m17 0h3m91 0h3m-234 1h3m44 0h3m47 0h3m62 1h3m12 0h3m-2 0h3m-171 1h3m95 0h3m-16 1h3m27 0h3m7 0h3m2 0h3m7 0h3m109 0h3m-243 1h3m22 0h3m9 0h3m8 0h3m7 0h3m46 0h3m-113 1h3m58 0h3m29 0h3m32 0h3m27 0h3m-177 1h3m93 0h3m0 0h3m40 0h3m34 0h3m5 0h3m44 0h3m-164 1h3m-59 1h3m95 0h3m1 0h3m68 0h3m58 0h3m-262 2h3m92 0h3m5 0h3m21 0h3m16 0h3m19 1h3m29 0h3m29 0h3m-202 1h3m107 0h3m10 0h3m19 0h3m-1 0h3m11 0h3m-149 1h3m6 0h3m17 0h3m4 0h3m-2 0h3m12 0h3m-77 1h3m20 0h3m79 0h3m28 0h3m10 0h3m94 0h3m-262 1h3m53 0h3m3 0h3m0 0h3m12 0h3m23 0h3m30 0h3m40 0h3m-164 1h3m26 0h3m28 0h3m25 0h3m14 0h3m4 0h3m5 0h3m-103 1h3m-2 0h3m4 0h3m12 0h3m49 0h3m-91 1h3m4 0h3m50 0h3m56 0h3m-2 0h3m-168 1h3m66 0h3m23 0h3m39 0h3m23 0h3m12 0h3m-2 0h3m7 0h3m15 0h3m16 0h3m-184 1h3m6 0h3m29 0h3m9 0h3m-2 0h3m11 0h3m18 0h3m-1 0h3m20 0h3m6 0h3m36 0h3m43 0h3m-210 1h3m41 0h3m24 0h3m30 0h3m77 0h3m-233 1h3m54 0h3m66 0h3m6 0h3m9 0h3m15 0h3m18 0h3m-143 1h3m60 0h3m110 0h3m-201 1h3m78 0h3m31 0h3m-110 1h3m31 0h3m8 0h3m17 0h3m19 0h3m55 0h3m16 0h3m72 0h3m11 0h3m-273 1h3m23 0h3m9 0h3m32 0h3m38 0h3m1 0h3m16 0h3m7 0h3m21 0h3m7 0h3m32 0h3m-177 1h3m3 0h3m13 0h3m42 0h3m0 0h3m6 0h3m30 0h3m-2 0h3m36 0h3m31 0h3m-2 0h3m1 0h3m-213 1h3m25 0h3m42 0h3m20 0h3m15 0h3m-2 0h3m-1 0h3m-1 0h3m-2 0h3m-149 1h3m86 0h3m91 0h3m10 0h3m-111 1h3m5 0h3m11 0h3m13 0h3m-2 0h3m9 0h3m-2 0h3m14 0h3m10 0h3m1 0h3m-178 1h3m0 0h3m34 0h3m-2 0h3m7 0h3m5 0h3m-1 0h3m8 0h3m30 0h3m4 0h3m3 0h3m-106 1h3m-2 0h3m26 0h3m-1 0h3m13 0h3m6 0h3m3 0h3m13 0h3m4 0h3m16 0h3m1 0h3m9 0h3m24 0h3m18 0h3m61 0h3m-183 1h3m6 0h3m11 0h3m9 0h3m16 0h3m16 0h3m56 0h3m-1 0h3m14 0h3m-231 1h3m-1 0h3m31 0h3m8 0h3m1 0h3m6 0h3m2 0h3m0 0h3m8 0h3m12 0h3m3 0h3m7 0h3m56 0h3m16 0h3m-2 0h3m35 0h3m-164 1h3m16 0h3m12 0h3m18 0h3m4 0h3m14 0h3m12 0h3m-1 0h3m7 0h3m17 0h3m3 0h3m6 0h3m11 0h3m-129 1h3m23 0h3m-1 0h3m10 0h3m-1 0h3m8 0h3m-2 0h3m49 0h3m4 0h3m-185 1h3m17 0h3m9 0h3m20 0h3m-2 0h3m12 0h3m13 0h3m2 0h3m62 0h3m-1 0h3m72 0h3m-248 1h3m50 0h3m2 0h3m3 0h3m-2 0h3m6 0h3m-1 0h3m7 0h3m5 0h3m73 0h3m31 0h3m-218 1h3m49 0h3m10 0h3m0 0h3m27 0h3m-1 0h3m1 0h3m19 0h3m16 0h3m6 0h3m-2 0h3m17 0h3m3 0h3m17 0h3m40 0h3m-220 1h3m55 0h3m35 0h3m1 0h3m4 0h3m17 0h3m4 0h3m-1 0h3m0 0h3m-110 1h3m1 0h3m9 0h3m26 0h3m9 0h3m19 0h3m24 0h3m7 0h3m5 0h3m63 0h3m-251 1h3m22 0h3m15 0h3m14 0h3m14 0h3m7 0h3m-2 0h3m37 0h3m0 0h3m-2 0h3m48 0h3m7 0h3m-2 0h3m20 0h3m27 0h3m-258 1h3m16 0h3m37 0h3m37 0h3m0 0h3m4 0h3m10 0h3m12 0h3m1 0h3m-1 0h3m12 0h3m12 0h3m17 0h3m-2 0h3m35 0h3m-218 1h3m2 0h3m12 0h3m10 0h3m15 0h3m16 0h3m1 0h3m4 0h3m2 0h3m26 0h3m23 0h3m2 0h3m23 0h3m40 0h3m-1 0h3m-201 1h3m-1 0h3m40 0h3m27 0h3m2 0h3m23 0h3m9 0h3m5 0h3m22 0h3m65 0h3m-234 1h3m21 0h3m28 0h3m13 0h3m19 0h3m-2 0h3m17 0h3m8 0h3m10 0h3m17 0h3m11 0h3m77 0h3m-236 1h3m33 0h3m2 0h3m33 0h3m2 0h3m11 0h3m9 0h3m12 0h3m0 0h3m5 0h3m-1 0h3m10 0h3m10 0h3m4 0h3m30 0h3m18 0h3m-256 1h3m30 0h3m11 0h3m13 0h3m0 0h3m-2 0h3m-2 0h3m2 0h3m14 0h3m0 0h3m1 0h3m18 0h3m3 0h3m20 0h3m2 0h3m2 0h3m53 0h3m19 0h3m23 0h3m-227 1h3m17 0h3m14 0h3m11 0h3m0 0h3m2 0h3m-1 0h3m31 0h3m2 0h3m6 0h3m4 0h3m6 0h3m9 0h3m4 0h3m-167 1h3m38 0h3m0 0h3m1 0h3m-2 0h3m2 0h3m5 0h3m1 0h3m-1 0h3m-1 0h3m2 0h3m-1 0h3m-2 0h3m2 0h3m0 0h3m11 0h3m-1 0h3m14 0h3m3 0h3m16 0h3m28 0h3m22 0h3m-199 1h3m8 0h3m4 0h3m23 0h3m0 0h3m12 0h3m0 0h3m3 0h3m1 0h3m18 0h3m6 0h3m5 0h3m8 0h3m6 0h3m17 0h3m-2 0h3m8 0h3m-139 1h3m8 0h3m-1 0h3m7 0h3m11 0h3m-2 0h3m15 0h3m9 0h3m-1 0h3m-2 0h3m-1 0h3m4 0h3m7 0h3m2 0h3m7 0h3m37 0h3m70 0h3m-238 1h3m22 0h3m1 0h3m19 0h3m-1 0h3m0 0h3m7 0h3m5 0h3m2 0h3m-1 0h3m1 0h3m0 0h3m8 0h3m8 0h3m14 0h3m9 0h3m6 0h3m21 0h3m17 0h3m-227 1h3m17 0h3m-2 0h3m34 0h3m21 0h3m17 0h3m7 0h3m-1 0h3m3 0h3m2 0h3m-1 0h3m18 0h3m3 0h3m2 0h3m3 0h3m-1 0h3m-1 0h3m32 0h3m-217 1h3m14 0h3m15 0h3m59 0h3m-2 0h3m13 0h3m5 0h3m0 0h3m1 0h3m9 0h3m15 0h3m3 0h3m6 0h3m9 0h3m-1 0h3m17 0h3m3 0h3m15 0h3m-219 1h3m19 0h3m2 0h3m1 0h3m-2 0h3m4 0h3m10 0h3m1 0h3m-2 0h3m1 0h3m1 0h3m1 0h3m16 0h3m1 0h3m9 0h3m9 0h3m21 0h3m31 0h3m27 0h3m7 0h3m-239 1h3m6 0h3m62 0h3m13 0h3m6 0h3m-2 0h3m3 0h3m2 0h3m46 0h3m-1 0h3m1 0h3m10 0h3m0 0h3m7 0h3m24 0h3m8 0h3m-169 1h3m30 0h3m4 0h3m1 0h3m19 0h3m2 0h3m25 0h3m2 0h3m9 0h3m7 0h3m5 0h3m6 0h3m-2 0h3m-1 0h3m3 0h3m-2 0h3m5 0h3m-202 1h3m5 0h3m25 0h3m1 0h3m28 0h3m-1 0h3m-1 0h3m1 0h3m3 0h3m2 0h3m19 0h3m3 0h3m7 0h3m14 0h3m2 0h3m0 0h3m-1 0h3m1 0h3m5 0h3m2 0h3m3 0h3m62 0h3m-245 1h3m-2 0h3m0 0h3m7 0h3m32 0h3m4 0h3m-2 0h3m32 0h3m5 0h3m2 0h3m27 0h3m11 0h3m0 0h3m36 0h3m35 0h3m-196 1h3m30 0h3m11 0h3m6 0h3m1 0h3m1 0h3m9 0h3m-1 0h3m-2 0h3m5 0h3m-2 0h3m0 0h3m10 0h3m8 0h3m22 0h3m15 0h3m7 0h3m-219 1h3m26 0h3m7 0h3m22 0h3m3 0h3m3 0h3m3 0h3m12 0h3m-2 0h3m13 0h3m-2 0h3m-2 0h3m6 0h3m-1 0h3m-1 0h3m4 0h3m47 0h3m30 0h3m-190 1h3m12 0h3m7 0h3m-2 0h3m1 0h3m0 0h3m1 0h3m4 0h3m28 0h3m25 0h3m6 0h3m-2 0h3m1 0h3m35 0h3m-186 1h3m6 0h3m19 0h3m4 0h3m24 0h3m9 0h3m15 0h3m-2 0h3m1 0h3m5 0h3m3 0h3m0 0h3m7 0h3m7 0h3m0 0h3m13 0h3m1 0h3m-2 0h3m16 0h3m14 0h3m22 0h3m-237 1h3m9 0h3m24 0h3m6 0h3m0 0h3m-1 0h3m3 0h3m8 0h3m3 0h3m4 0h3m-1 0h3m0 0h3m14 0h3m16 0h3m-1 0h3m-1 0h3m1 0h3m2 0h3m-2 0h3m4 0h3m12 0h3m2 0h3m12 0h3m12 0h3m16 0h3m-1 0h3m4 0h3m-1 0h3m-174 1h3m2 0h3m2 0h3m-2 0h3m6 0h3m-1 0h3m0 0h3m-1 0h3m15 0h3m-2 0h3m21 0h3m-1 0h3m2 0h3m-2 0h3m5 0h3m1 0h3m14 0h3m8 0h3m-2 0h3m-1 0h3m29 0h3m-191 1h3m-2 0h3m22 0h3m-1 0h3m3 0h3m-2 0h3m0 0h3m4 0h3m4 0h3m12 0h3m-1 0h3m0 0h3m6 0h3m-2 0h3m0 0h3m-1 0h3m15 0h3m1 0h3m15 0h3m1 0h3m25 0h3m17 0h3m1 0h3m-1 0h3m4 0h3m17 0h3m-201 1h3m4 0h3m13 0h3m5 0h3m-2 0h3m0 0h3m9 0h3m23 0h3m-1 0h3m11 0h3m0 0h3m-1 0h3m1 0h3m5 0h3m1 0h3m11 0h3m51 0h3m-2 0h3m9 0h3m3 0h3m-230 1h3m1 0h3m0 0h3m2 0h3m26 0h3m3 0h3m15 0h3m3 0h3m1 0h3m10 0h3m1 0h3m1 0h3m27 0h3m-1 0h3m-2 0h3m2 0h3m-1 0h3m6 0h3m-2 0h3m17 0h3m-1 0h3m1 0h3m-1 0h3m2 0h3m-2 0h3m21 0h3m32 0h3m7 0h3m6 0h3m-255 1h3m20 0h3m7 0h3m-2 0h3m10 0h3m-2 0h3m16 0h3m4 0h3m0 0h3m10 0h3m3 0h3m0 0h3m22 0h3m3 0h3m3 0h3m-1 0h3m44 0h3m1 0h3m47 0h3m-1 0h3m-259 1h3m34 0h3m16 0h3m8 0h3m11 0h3m27 0h3m-2 0h3m9 0h3m-1 0h3m11 0h3m14 0h3m10 0h3m4 0h3m1 0h3m2 0h3m6 0h3m29 0h3m34 0h3m-243 1h3m0 0h3m-2 0h3m30 0h3m-1 0h3m3 0h3m0 0h3m9 0h3m4 0h3m1 0h3m0 0h3m3 0h3m7 0h3m22 0h3m3 0h3m2 0h3m8 0h3m-1 0h3m6 0h3m12 0h3m14 0h3m1 0h3m-1 0h3m30 0h3m-223 1h3m39 0h3m-1 0h3m12 0h3m4 0h3m1 0h3m11 0h3m-2 0h3m5 0h3m3 0h3m-1 0h3m9 0h3m1 0h3m0 0h3m-1 0h3m5 0h3m4 0h3m-1 0h3m2 0h3m11 0h3m0 0h3m4 0h3m46 0h3m-1 0h3m-212 1h3m14 0h3m27 0h3m0 0h3m3 0h3m-2 0h3m4 0h3m-1 0h3m17 0h3m-1 0h3m4 0h3m5 0h3m12 0h3m-2 0h3m-1 0h3m-2 0h3m-2 0h3m3 0h3m6 0h3m2 0h3m39 0h3m12 0h3m-214 1h3m1 0h3m15 0h3m3 0h3m2 0h3m-2 0h3m10 0h3m5 0h3m6 0h3m-2 0h3m1 0h3m-1 0h3m2 0h3m26 0h3m-2 0h3m6 0h3m4 0h3m6 0h3m2 0h3m5 0h3m3 0h3m8 0h3m1 0h3m-134 1h3m9 0h3m17 0h3m2 0h3m-2 0h3m-2 0h3m2 0h3m25 0h3m7 0h3m2 0h3m0 0h3m-2 0h3m0 0h3m8 0h3m-1 0h3m1 0h3m2 0h3m81 0h3m-227 1h3m11 0h3m20 0h3m14 0h3m0 0h3m4 0h3m4 0h3m-2 0h3m4 0h3m-1 0h3m-2 0h3m0 0h3m-2 0h3m0 0h3m-2 0h3m-1 0h3m0 0h3m0 0h3m-2 0h3m0 0h3m-2 0h3m1 0h3m0 0h3m10 0h3m8 0h3m3 0h3m-1 0h3m0 0h3m7 0h3m-1 0h3m5 0h3m48 0h3m-239 1h3m19 0h3m19 0h3m11 0h3m14 0h3m7 0h3m4 0h3m-1 0h3m-2 0h3m2 0h3m-1 0h3m4 0h3m-1 0h3m-2 0h3m-1 0h3m3 0h3m-1 0h3m18 0h3m1 0h3m-1 0h3m-1 0h3m2 0h3m7 0h3m4 0h3m5 0h3m18 0h3m20 0h3m-219 1h3m6 0h3m-2 0h3m38 0h3m-2 0h3m8 0h3m8 0h3m17 0h3m-1 0h3m1 0h3m1 0h3m-1 0h3m8 0h3m0 0h3m1 0h3m-1 0h3m33 0h3m16 0h3m27 0h3m4 0h3m2 0h3m2 0h3m3 0h3m-234 1h3m11 0h3m2 0h3m17 0h3m0 0h3m1 0h3m22 0h3m0 0h3m12 0h3m5 0h3m2 0h3m10 0h3m-1 0h3m-2 0h3m-1 0h3m6 0h3m-2 0h3m-2 0h3m7 0h3m12 0h3m4 0h3m-1 0h3m14 0h3m2 0h3m7 0h3m16 0h3m-204 1h3m12 0h3m3 0h3m1 0h3m7 0h3m21 0h3m4 0h3m-2 0h3m2 0h3m6 0h3m-1 0h3m11 0h3m4 0h3m7 0h3m4 0h3m0 0h3m6 0h3m-1 0h3m-1 0h3m10 0h3m0 0h3m10 0h3m6 0h3m-148 1h3m-2 0h3m-2 0h3m11 0h3m2 0h3m4 0h3m2 0h3m-2 0h3m8 0h3m0 0h3m8 0h3m8 0h3m11 0h3m7 0h3m-2 0h3m-2 0h3m7 0h3m2 0h3m3 0h3m-1 0h3m1 0h3m-189 1h3m7 0h3m12 0h3m-2 0h3m13 0h3m19 0h3m0 0h3m6 0h3m-1 0h3m5 0h3m-1 0h3m3 0h3m9 0h3m0 0h3m0 0h3m1 0h3m7 0h3m-2 0h3m1 0h3m-1 0h3m8 0h3m-2 0h3m0 0h3m15 0h3m2 0h3m-1 0h3m5 0h3m32 0h3m40 0h3m11 0h3m-2 0h3m-287 1h3m32 0h3m7 0h3m3 0h3m10 0h3m3 0h3m5 0h3m-1 0h3m12 0h3m5 0h3m4 0h3m17 0h3m8 0h3m7 0h3m0 0h3m12 0h3m15 0h3m16 0h3m6 0h3m1 0h3m1 0h3m57 0h3m-275 1h3m43 0h3m-1 0h3m9 0h3m0 0h3m3 0h3m6 0h3m-1 0h3m2 0h3m11 0h3m-2 0h3m-2 0h3m6 0h3m0 0h3m1 0h3m2 0h3m-2 0h3m4 0h3m5 0h3m0 0h3m-2 0h3m-1 0h3m6 0h3m14 0h3m-1 0h3m2 0h3m-1 0h3m-2 0h3m-2 0h3m7 0h3m5 0h3m-1 0h3m24 0h3m9 0h3m-238 1h3m-1 0h3m8 0h3m6 0h3m-2 0h3m6 0h3m2 0h3m26 0h3m-2 0h3m-1 0h3m-2 0h3m11 0h3m-1 0h3m11 0h3m13 0h3m15 0h3m2 0h3m2 0h3m0 0h3m-2 0h3m2 0h3m-2 0h3m0 0h3m-1 0h3m11 0h3m-2 0h3m3 0h3m-2 0h3m2 0h3m13 0h3m-219 1h3m48 0h3m3 0h3m5 0h3m-1 0h3m3 0h3m-1 0h3m5 0h3m5 0h3m-2 0h3m3 0h3m0 0h3m0 0h3m-1 0h3m3 0h3m1 0h3m10 0h3m11 0h3m3 0h3m5 0h3m19 0h3m0 0h3m5 0h3m0 0h3m82 0h3m-256 1h3m4 0h3m2 0h3m3 0h3m1 0h3m4 0h3m3 0h3m7 0h3m15 0h3m4 0h3m1 0h3m7 0h3m16 0h3m17 0h3m-1 0h3m-1 0h3m1 0h3m7 0h3m9 0h3m-2 0h3m15 0h3m12 0h3m3 0h3m-223 1h3m27 0h3m17 0h3m-2 0h3m30 0h3m4 0h3m0 0h3m-2 0h3m-1 0h3m16 0h3m-2 0h3m-2 0h3m4 0h3m-1 0h3m4 0h3m8 0h3m8 0h3m-1 0h3m-1 0h3m-1 0h3m3 0h3m4 0h3m6 0h3m1 0h3m1 0h3m14 0h3m4 0h3m11 0h3m1 0h3m0 0h3m-1 0h3m13 0h3m-230 1h3m22 0h3m10 0h3m4 0h3m13 0h3m10 0h3m-1 0h3m-2 0h3m1 0h3m1 0h3m3 0h3m-1 0h3m13 0h3m4 0h3m0 0h3m2 0h3m-2 0h3m20 0h3m-2 0h3m5 0h3m7 0h3m0 0h3m0 0h3m-2 0h3m0 0h3m16 0h3m8 0h3m-213 1h3m13 0h3m16 0h3m-1 0h3m3 0h3m0 0h3m-1 0h3m8 0h3m-1 0h3m0 0h3m1 0h3m5 0h3m5 0h3m1 0h3m1 0h3m-1 0h3m-1 0h3m1 0h3m-2 0h3m-1 0h3m8 0h3m4 0h3m-1 0h3m0 0h3m2 0h3m-1 0h3m2 0h3m1 0h3m15 0h3m0 0h3m-1 0h3m15 0h3m21 0h3m36 0h3m-212 1h3m5 0h3m5 0h3m-1 0h3m2 0h3m4 0h3m9 0h3m1 0h3m-2 0h3m14 0h3m13 0h3m5 0h3m1 0h3m2 0h3m0 0h3m3 0h3m-1 0h3m-2 0h3m-1 0h3m2 0h3m9 0h3m6 0h3m2 0h3m8 0h3m-200 1h3m4 0h3m11 0h3m1 0h3m7 0h3m11 0h3m3 0h3m9 0h3m0 0h3m7 0h3m2 0h3m-2 0h3m6 0h3m17 0h3m1 0h3m0 0h3m12 0h3m0 0h3m2 0h3m0 0h3m2 0h3m-1 0h3m3 0h3m-1 0h3m-1 0h3m3 0h3m-2 0h3m10 0h3m-166 1h3m3 0h3m19 0h3m0 0h3m6 0h3m2 0h3m27 0h3m2 0h3m2 0h3m-2 0h3m2 0h3m3 0h3m5 0h3m4 0h3m-2 0h3m4 0h3m6 0h3m6 0h3m23 0h3m-2 0h3m4 0h3m35 0h3m-1 0h3m6 0h3m9 0h3m1 0h3m-269 1h3m26 0h3m5 0h3m0 0h3m-2 0h3m-1 0h3m1 0h3m-2 0h3m2 0h3m21 0h3m-2 0h3m5 0h3m0 0h3m6 0h3m9 0h3m0 0h3m3 0h3m-1 0h3m0 0h3m-2 0h3m1 0h3m2 0h3m6 0h3m-2 0h3m-1 0h3m-2 0h3m-2 0h3m12 0h3m9 0h3m32 0h3m2 0h3m23 0h3m5 0h3m-254 1h3m-2 0h3m7 0h3m52 0h3m10 0h3m4 0h3m4 0h3m2 0h3m2 0h3m5 0h3m-1 0h3m-2 0h3m1 0h3m0 0h3m-1 0h3m0 0h3m9 0h3m13 0h3m-1 0h3m-2 0h3m1 0h3m-2 0h3m12 0h3m10 0h3m1 0h3m-1 0h3m-1 0h3m7 0h3m10 0h3m0 0h3m2 0h3m-237 1h3m6 0h3m21 0h3m5 0h3m16 0h3m-2 0h3m0 0h3m-1 0h3m-1 0h3m5 0h3m7 0h3m3 0h3m5 0h3m0 0h3m7 0h3m4 0h3m-2 0h3m2 0h3m0 0h3m2 0h3m8 0h3m1 0h3m-2 0h3m5 0h3m1 0h3m-2 0h3m2 0h3m26 0h3m2 0h3m-2 0h3m-190 1h3m1 0h3m2 0h3m11 0h3m2 0h3m5 0h3m18 0h3m-2 0h3m-2 0h3m-1 0h3m8 0h3m-1 0h3m0 0h3m-2 0h3m0 0h3m4 0h3m6 0h3m1 0h3m1 0h3m1 0h3m1 0h3m-2 0h3m-1 0h3m0 0h3m-2 0h3m6 0h3m5 0h3m-1 0h3m0 0h3m12 0h3m10 0h3m-1 0h3m0 0h3m-1 0h3m0 0h3m43 0h3m6 0h3m17 0h3m-276 1h3m6 0h3m13 0h3m1 0h3m6 0h3m14 0h3m6 0h3m0 0h3m-1 0h3m-2 0h3m5 0h3m-1 0h3m4 0h3m-1 0h3m1 0h3m1 0h3m-2 0h3m4 0h3m15 0h3m8 0h3m8 0h3m-1 0h3m-2 0h3m-2 0h3m0 0h3m2 0h3m4 0h3m-1 0h3m-2 0h3m7 0h3m9 0h3m10 0h3m0 0h3m9 0h3m1 0h3m14 0h3m-213 1h3m10 0h3m-1 0h3m11 0h3m19 0h3m4 0h3m-1 0h3m12 0h3m18 0h3m-2 0h3m0 0h3m1 0h3m5 0h3m1 0h3m21 0h3m9 0h3m12 0h3m13 0h3m9 0h3m49 0h3m-269 1h3m-2 0h3m7 0h3m0 0h3m6 0h3m4 0h3m0 0h3m6 0h3m2 0h3m25 0h3m9 0h3m1 0h3m1 0h3m-2 0h3m-2 0h3m-2 0h3m0 0h3m-1 0h3m-2 0h3m3 0h3m5 0h3m16 0h3m0 0h3m-1 0h3m-2 0h3m1 0h3m10 0h3m6 0h3m7 0h3m15 0h3m-1 0h3m2 0h3m5 0h3m17 0h3m-227 1h3m17 0h3m3 0h3m-2 0h3m1 0h3m2 0h3m-2 0h3m3 0h3m4 0h3m9 0h3m-2 0h3m4 0h3m4 0h3m-2 0h3m-1 0h3m-2 0h3m13 0h3m1 0h3m-1 0h3m2 0h3m-1 0h3m0 0h3m-2 0h3m4 0h3m0 0h3m4 0h3m-2 0h3m2 0h3m1 0h3m16 0h3m4 0h3m0 0h3m4 0h3m1 0h3m3 0h3m9 0h3m18 0h3m-2 0h3m-234 1h3m1 0h3m-1 0h3m6 0h3m7 0h3m1 0h3m50 0h3m-2 0h3m-2 0h3m16 0h3m3 0h3m-1 0h3m11 0h3m10 0h3m1 0h3m14 0h3m3 0h3m6 0h3m5 0h3m1 0h3m0 0h3m1 0h3m8 0h3m-2 0h3m47 0h3m1 0h3m-261 1h3m34 0h3m1 0h3m-1 0h3m24 0h3m-2 0h3m16 0h3m9 0h3m13 0h3m3 0h3m-2 0h3m8 0h3m3 0h3m2 0h3m12 0h3m-2 0h3m-2 0h3m1 0h3m-1 0h3m-1 0h3m5 0h3m-1 0h3m8 0h3m-2 0h3m1 0h3m10 0h3m-207 1h3m5 0h3m0 0h3m2 0h3m16 0h3m14 0h3m6 0h3m-1 0h3m5 0h3m1 0h3m13 0h3m3 0h3m-1 0h3m-1 0h3m-2 0h3m1 0h3m0 0h3m1 0h3m21 0h3m3 0h3m11 0h3m1 0h3m0 0h3m-1 0h3m1 0h3m7 0h3m-1 0h3m5 0h3m-197 1h3m13 0h3m21 0h3m3 0h3m0 0h3m7 0h3m2 0h3m4 0h3m23 0h3m-2 0h3m3 0h3m8 0h3m-2 0h3m3 0h3m4 0h3m13 0h3m2 0h3m-2 0h3m0 0h3m-2 0h3m3 0h3m-2 0h3m5 0h3m13 0h3m-2 0h3m-199 1h3m23 0h3m1 0h3m17 0h3m0 0h3m1 0h3m5 0h3m10 0h3m5 0h3m17 0h3m-1 0h3m10 0h3m3 0h3m8 0h3m2 0h3m-2 0h3m26 0h3m-2 0h3m9 0h3m4 0h3m10 0h3m3 0h3m2 0h3m-218 1h3m9 0h3m6 0h3m8 0h3m13 0h3m1 0h3m7 0h3m0 0h3m2 0h3m1 0h3m1 0h3m-1 0h3m3 0h3m11 0h3m-1 0h3m0 0h3m-1 0h3m9 0h3m7 0h3m-1 0h3m4 0h3m-2 0h3m-1 0h3m1 0h3m2 0h3m5 0h3m0 0h3m-1 0h3m5 0h3m1 0h3m4 0h3m10 0h3m-2 0h3m2 0h3m19 0h3m6 0h3m23 0h3m17 0h3m-265 1h3m24 0h3m-1 0h3m-1 0h3m13 0h3m3 0h3m7 0h3m16 0h3m12 0h3m2 0h3m-1 0h3m-2 0h3m-2 0h3m1 0h3m-1 0h3m10 0h3m-1 0h3m-2 0h3m-2 0h3m14 0h3m12 0h3m0 0h3m3 0h3m18 0h3m41 0h3m-217 1h3m6 0h3m-2 0h3m5 0h3m3 0h3m10 0h3m11 0h3m-2 0h3m7 0h3m6 0h3m1 0h3m8 0h3m28 0h3m6 0h3m-2 0h3m-1 0h3m-2 0h3m-2 0h3m-2 0h3m13 0h3m-2 0h3m19 0h3m-208 1h3m21 0h3m3 0h3m4 0h3m9 0h3m-2 0h3m-2 0h3m11 0h3m21 0h3m2 0h3m1 0h3m-2 0h3m-2 0h3m1 0h3m7 0h3m6 0h3m0 0h3m7 0h3m1 0h3m1 0h3m-1 0h3m2 0h3m-1 0h3m-1 0h3m19 0h3m5 0h3m9 0h3m-1 0h3m7 0h3m3 0h3m47 0h3m-274 1h3m23 0h3m0 0h3m0 0h3m5 0h3m2 0h3m18 0h3m2 0h3m2 0h3m13 0h3m5 0h3m11 0h3m-2 0h3m1 0h3m17 0h3m-2 0h3m5 0h3m1 0h3m1 0h3m0 0h3m3 0h3m9 0h3m2 0h3m12 0h3m0 0h3m-193 1h3m8 0h3m12 0h3m15 0h3m1 0h3m2 0h3m8 0h3m1 0h3m12 0h3m8 0h3m-2 0h3m-2 0h3m4 0h3m-2 0h3m4 0h3m0 0h3m0 0h3m4 0h3m2 0h3m10 0h3m5 0h3m2 0h3m6 0h3m0 0h3m2 0h3m2 0h3m6 0h3m1 0h3m0 0h3m11 0h3m13 0h3m26 0h3m20 0h3m-271 1h3m5 0h3m4 0h3m8 0h3m0 0h3m-1 0h3m4 0h3m7 0h3m3 0h3m0 0h3m3 0h3m-2 0h3m13 0h3m-2 0h3m3 0h3m7 0h3m-2 0h3m1 0h3m5 0h3m2 0h3m4 0h3m2 0h3m-1 0h3m4 0h3m12 0h3m12 0h3m10 0h3m-1 0h3m8 0h3m7 0h3m10 0h3m2 0h3m3 0h3m-188 1h3m3 0h3m25 0h3m2 0h3m-2 0h3m17 0h3m2 0h3m1 0h3m4 0h3m1 0h3m11 0h3m3 0h3m0 0h3m18 0h3m1 0h3m-1 0h3m-2 0h3m15 0h3m42 0h3m19 0h3m-249 1h3m10 0h3m23 0h3m14 0h3m1 0h3m5 0h3m-2 0h3m5 0h3m24 0h3m6 0h3m3 0h3m-2 0h3m1 0h3m18 0h3m-2 0h3m15 0h3m3 0h3m36 0h3m-232 1h3m18 0h3m0 0h3m7 0h3m8 0h3m4 0h3m2 0h3m5 0h3m-2 0h3m13 0h3m-1 0h3m-2 0h3m1 0h3m8 0h3m11 0h3m1 0h3m1 0h3m-2 0h3m3 0h3m-2 0h3m13 0h3m0 0h3m-1 0h3m10 0h3m6 0h3m5 0h3m53 0h3m28 0h3m-251 1h3m-2 0h3m15 0h3m-1 0h3m27 0h3m1 0h3m3 0h3m1 0h3m10 0h3m3 0h3m-1 0h3m0 0h3m10 0h3m0 0h3m2 0h3m0 0h3m1 0h3m27 0h3m0 0h3m1 0h3m1 0h3m-2 0h3m3 0h3m0 0h3m1 0h3m14 0h3m19 0h3m17 0h3m-235 1h3m-1 0h3m-2 0h3m8 0h3m19 0h3m0 0h3m5 0h3m5 0h3m2 0h3m-2 0h3m0 0h3m-1 0h3m4 0h3m-2 0h3m3 0h3m-1 0h3m3 0h3m-1 0h3m4 0h3m-1 0h3m3 0h3m18 0h3m2 0h3m4 0h3m33 0h3m10 0h3m37 0h3m-249 1h3m31 0h3m3 0h3m-1 0h3m0 0h3m0 0h3m7 0h3m0 0h3m7 0h3m0 0h3m-2 0h3m4 0h3m-1 0h3m1 0h3m6 0h3m2 0h3m6 0h3m-1 0h3m-1 0h3m10 0h3m-1 0h3m-1 0h3m-2 0h3m0 0h3m3 0h3m46 0h3m-151 1h3m3 0h3m4 0h3m0 0h3m1 0h3m5 0h3m4 0h3m5 0h3m-2 0h3m13 0h3m3 0h3m10 0h3m1 0h3m11 0h3m-2 0h3m3 0h3m4 0h3m21 0h3m8 0h3m19 0h3m12 0h3m-193 1h3m-1 0h3m23 0h3m-2 0h3m10 0h3m0 0h3m-1 0h3m7 0h3m1 0h3m5 0h3m3 0h3m-2 0h3m9 0h3m-1 0h3m1 0h3m21 0h3m0 0h3m-1 0h3m-2 0h3m3 0h3m-1 0h3m5 0h3m6 0h3m1 0h3m3 0h3m3 0h3m0 0h3m-205 1h3m25 0h3m11 0h3m2 0h3m-2 0h3m-1 0h3m2 0h3m3 0h3m0 0h3m3 0h3m0 0h3m1 0h3m1 0h3m0 0h3m2 0h3m-2 0h3m3 0h3m7 0h3m23 0h3m2 0h3m-1 0h3m1 0h3m0 0h3m12 0h3m-1 0h3m0 0h3m1 0h3m2 0h3m3 0h3m21 0h3m58 0h3m-230 1h3m22 0h3m6 0h3m5 0h3m-2 0h3m2 0h3m1 0h3m-2 0h3m5 0h3m-2 0h3m0 0h3m1 0h3m1 0h3m-2 0h3m5 0h3m2 0h3m1 0h3m2 0h3m-1 0h3m-2 0h3m2 0h3m4 0h3m12 0h3m19 0h3m0 0h3m-163 1h3m18 0h3m4 0h3m-2 0h3m-2 0h3m-2 0h3m31 0h3m6 0h3m0 0h3m2 0h3m-2 0h3m-2 0h3m1 0h3m15 0h3m5 0h3m5 0h3m-1 0h3m3 0h3m-1 0h3m-2 0h3m49 0h3m26 0h3m-255 1h3m3 0h3m15 0h3m-2 0h3m15 0h3m2 0h3m-2 0h3m0 0h3m-1 0h3m35 0h3m5 0h3m-1 0h3m2 0h3m-1 0h3m4 0h3m2 0h3m2 0h3m-1 0h3m3 0h3m12 0h3m-2 0h3m0 0h3m3 0h3m1 0h3m-2 0h3m-2 0h3m2 0h3m5 0h3m7 0h3m2 0h3m3 0h3m5 0h3m26 0h3m-243 1h3m37 0h3m22 0h3m-1 0h3m20 0h3m14 0h3m-2 0h3m-1 0h3m4 0h3m0 0h3m0 0h3m3 0h3m0 0h3m0 0h3m3 0h3m3 0h3m4 0h3m4 0h3m-2 0h3m-2 0h3m-1 0h3m1 0h3m3 0h3m-2 0h3m20 0h3m1 0h3m0 0h3m35 0h3m12 0h3m-250 1h3m3 0h3m-2 0h3m19 0h3m25 0h3m19 0h3m7 0h3m6 0h3m17 0h3m4 0h3m-1 0h3m-1 0h3m-2 0h3m-1 0h3m19 0h3m-2 0h3m5 0h3m-2 0h3m-157 1h3m17 0h3m45 0h3m15 0h3m21 0h3m6 0h3m1 0h3m18 0h3m-2 0h3m0 0h3m-2 0h3m-2 0h3m1 0h3m2 0h3m2 0h3m25 0h3m1 0h3m-2 0h3m13 0h3m13 0h3m-225 1h3m20 0h3m4 0h3m-2 0h3m-1 0h3m1 0h3m7 0h3m7 0h3m-2 0h3m2 0h3m-2 0h3m12 0h3m2 0h3m7 0h3m1 0h3m9 0h3m1 0h3m5 0h3m2 0h3m1 0h3m5 0h3m6 0h3m4 0h3m20 0h3m-209 1h3m8 0h3m29 0h3m5 0h3m10 0h3m6 0h3m14 0h3m37 0h3m8 0h3m17 0h3m8 0h3m0 0h3m0 0h3m12 0h3m16 0h3m7 0h3m23 0h3m15 0h3m5 0h3m-268 1h3m29 0h3m15 0h3m-2 0h3m-2 0h3m22 0h3m-2 0h3m-2 0h3m-1 0h3m-1 0h3m0 0h3m19 0h3m-2 0h3m5 0h3m7 0h3m2 0h3m3 0h3m-2 0h3m2 0h3m0 0h3m0 0h3m-2 0h3m1 0h3m-1 0h3m8 0h3m15 0h3m8 0h3m10 0h3m-218 1h3m33 0h3m8 0h3m2 0h3m-1 0h3m7 0h3m17 0h3m-1 0h3m0 0h3m1 0h3m2 0h3m4 0h3m1 0h3m9 0h3m-2 0h3m7 0h3m13 0h3m9 0h3m8 0h3m59 0h3m-220 1h3m32 0h3m1 0h3m34 0h3m-2 0h3m1 0h3m-2 0h3m-2 0h3m-1 0h3m5 0h3m-1 0h3m12 0h3m16 0h3m14 0h3m10 0h3m3 0h3m5 0h3m26 0h3m13 0h3m-245 1h3m-2 0h3m37 0h3m3 0h3m17 0h3m6 0h3m-1 0h3m8 0h3m8 0h3m30 0h3m0 0h3m9 0h3m-2 0h3m3 0h3m1 0h3m0 0h3m4 0h3m31 0h3m51 0h3m-241 1h3m2 0h3m11 0h3m35 0h3m0 0h3m14 0h3m3 0h3m1 0h3m6 0h3m-1 0h3m21 0h3m14 0h3m9 0h3m0 0h3m-2 0h3m14 0h3m1 0h3m13 0h3m-1 0h3m2 0h3m69 0h3m-277 1h3m12 0h3m12 0h3m3 0h3m4 0h3m15 0h3m24 0h3m1 0h3m2 0h3m7 0h3m1 0h3m18 0h3m-1 0h3m4 0h3m30 0h3m39 0h3m2 0h3m-197 1h3m22 0h3m16 0h3m43 0h3m5 0h3m11 0h3m3 0h3m15 0h3m15 0h3m-174 1h3m3 0h3m12 0h3m34 0h3m1 0h3m-1 0h3m9 0h3m24 0h3m1 0h3m-2 0h3m9 0h3m39 0h3m4 0h3m7 0h3m7 0h3m2 0h3m-1 0h3m24 0h3m10 0h3m3 0h3m-229 1h3m29 0h3m10 0h3m17 0h3m-2 0h3m5 0h3m2 0h3m0 0h3m14 0h3m13 0h3m9 0h3m0 0h3m9 0h3m6 0h3m-1 0h3m-2 0h3m57 0h3m-253 1h3m42 0h3m22 0h3m7 0h3m0 0h3m1 0h3m8 0h3m4 0h3m5 0h3m1 0h3m0 0h3m-2 0h3m-2 0h3m-1 0h3m0 0h3m4 0h3m2 0h3m0 0h3m18 0h3m10 0h3m27 0h3m3 0h3m73 0h3m-242 1h3m22 0h3m-2 0h3m-2 0h3m6 0h3m-1 0h3m1 0h3m-2 0h3m0 0h3m0 0h3m10 0h3m0 0h3m1 0h3m2 0h3m10 0h3m16 0h3m2 0h3m-1 0h3m9 0h3m86 0h3m-217 1h3m-2 0h3m6 0h3m-2 0h3m12 0h3m12 0h3m-2 0h3m-1 0h3m-2 0h3m16 0h3m0 0h3m14 0h3m4 0h3m-2 0h3m-1 0h3m38 0h3m7 0h3m-2 0h3m-2 0h3m18 0h3m10 0h3m10 0h3m-218 1h3m31 0h3m7 0h3m3 0h3m7 0h3m1 0h3m1 0h3m0 0h3m-1 0h3m15 0h3m27 0h3m1 0h3m5 0h3m22 0h3m2 0h3m16 0h3m-181 1h3m20 0h3m-2 0h3m4 0h3m-2 0h3m26 0h3m10 0h3m6 0h3m9 0h3m4 0h3m-2 0h3m5 0h3m17 0h3m1 0h3m6 0h3m31 0h3m-218 1h3m30 0h3m29 0h3m10 0h3m6 0h3m0 0h3m13 0h3m-2 0h3m-2 0h3m20 0h3m6 0h3m2 0h3m9 0h3m28 0h3m-1 0h3m-1 0h3m5 0h3m21 0h3m4 0h3m-1 0h3m-231 1h3m40 0h3m32 0h3m9 0h3m3 0h3m20 0h3m4 0h3m7 0h3m15 0h3m9 0h3m-1 0h3m51 0h3m4 0h3m-1 0h3m17 0h3m3 0h3m5 0h3m-253 1h3m5 0h3m10 0h3m3 0h3m-1 0h3m7 0h3m14 0h3m1 0h3m9 0h3m15 0h3m0 0h3m3 0h3m17 0h3m24 0h3m3 0h3m9 0h3m0 0h3m-183 1h3m21 0h3m36 0h3m8 0h3m-2 0h3m5 0h3m9 0h3m-2 0h3m9 0h3m4 0h3m3 0h3m0 0h3m7 0h3m24 0h3m39 0h3m-174 1h3m24 0h3m3 0h3m1 0h3m20 0h3m4 0h3m-1 0h3m3 0h3m2 0h3m56 0h3m7 0h3m0 0h3m15 0h3m-185 1h3m23 0h3m10 0h3m13 0h3m16 0h3m14 0h3m-1 0h3m42 0h3m-2 0h3m-2 0h3m11 0h3m5 0h3m44 0h3m-205 1h3m4 0h3m12 0h3m11 0h3m14 0h3m13 0h3m6 0h3m0 0h3m3 0h3m1 0h3m-2 0h3m8 0h3m0 0h3m0 0h3m11 0h3m-2 0h3m-1 0h3m-2 0h3m0 0h3m47 0h3m-131 1h3m8 0h3m2 0h3m2 0h3m2 0h3m0 0h3m2 0h3m16 0h3m30 0h3m5 0h3m3 0h3m-1 0h3m9 0h3m4 0h3m-194 1h3m44 0h3m5 0h3m-2 0h3m23 0h3m0 0h3m3 0h3m-2 0h3m10 0h3m5 0h3m4 0h3m-1 0h3m1 0h3m3 0h3m5 0h3m3 0h3m23 0h3m7 0h3m7 0h3m57 0h3m-233 1h3m13 0h3m-2 0h3m-2 0h3m35 0h3m0 0h3m9 0h3m8 0h3m22 0h3m20 0h3m-112 1h3m9 0h3m-1 0h3m3 0h3m5 0h3m1 0h3m2 0h3m2 0h3m7 0h3m-2 0h3m3 0h3m6 0h3m19 0h3m33 0h3m23 0h3m31 0h3m-224 1h3m34 0h3m21 0h3m15 0h3m5 0h3m-1 0h3m-2 0h3m6 0h3m17 0h3m16 0h3m3 0h3m-1 0h3m82 0h3m-245 1h3m32 0h3m20 0h3m25 0h3m10 0h3m-2 0h3m1 0h3m4 0h3m13 0h3m23 0h3m15 0h3m9 0h3m-1 0h3m-202 1h3m30 0h3m27 0h3m63 0h3m4 0h3m12 0h3m11 0h3m-1 0h3m-160 1h3m37 0h3m2 0h3m42 0h3m6 0h3m0 0h3m3 0h3m0 0h3m30 0h3m20 0h3m0 0h3m-1 0h3m13 0h3m-193 1h3m101 0h3m7 0h3m12 0h3m1 0h3m12 0h3m5 0h3m-2 0h3m6 0h3m-1 0h3m13 0h3m16 0h3m-187 1h3m-2 0h3m15 0h3m29 0h3m5 0h3m2 0h3m10 0h3m15 0h3m2 0h3m5 0h3m13 0h3m-1 0h3m3 0h3m-1 0h3m7 0h3m24 0h3m43 0h3m-202 1h3m13 0h3m14 0h3m-1 0h3m10 0h3m3 0h3m14 0h3m0 0h3m3 0h3m0 0h3m5 0h3m18 0h3m11 0h3m17 0h3m-1 0h3m20 0h3m5 0h3m11 0h3m11 0h3m37 0h3m-273 1h3m12 0h3m7 0h3m3 0h3m-1 0h3m42 0h3m6 0h3m-2 0h3m9 0h3m6 0h3m-1 0h3m5 0h3m22 0h3m27 0h3m12 0h3m49 0h3m-216 1h3m9 0h3m17 0h3m15 0h3m9 0h3m15 0h3m-1 0h3m8 0h3m2 0h3m-2 0h3m7 0h3m8 0h3m0 0h3m6 0h3m-1 0h3m-1 0h3m9 0h3m-134 1h3m31 0h3m0 0h3m16 0h3m20 0h3m8 0h3m69 0h3m38 0h3m-237 1h3m27 0h3m16 0h3m1 0h3m21 0h3m35 0h3m2 0h3m-2 0h3m3 0h3m29 0h3m19 0h3m8 0h3m-206 1h3m53 0h3m8 0h3m4 0h3m32 0h3m5 0h3m14 0h3m32 0h3m-175 1h3m19 0h3m35 0h3m3 0h3m1 0h3m9 0h3m29 0h3m17 0h3m8 0h3m12 0h3m8 0h3m8 0h3m51 0h3m-259 1h3m55 0h3m-1 0h3m2 0h3m31 0h3m12 0h3m5 0h3m15 0h3m7 0h3m35 0h3m40 0h3m-157 1h3m10 0h3m18 0h3m-2 0h3m10 0h3m5 0h3m14 0h3m0 0h3m3 0h3m12 0h3m26 0h3m50 0h3m-233 1h3m37 0h3m2 0h3m-2 0h3m10 0h3m64 0h3m17 0h3m-1 0h3m-1 0h3m3 0h3m0 0h3m2 0h3m5 0h3m-186 1h3m43 0h3m45 0h3m-1 0h3m41 0h3m2 0h3m-2 0h3m-2 0h3m4 0h3m-146 1h3m72 0h3m13 0h3m11 0h3m4 0h3m69 0h3m-159 1h3m33 0h3m16 0h3m9 0h3m-1 0h3m17 0h3m14 0h3m74 0h3m-238 1h3m41 0h3m64 0h3m5 0h3m12 0h3m1 0h3m9 0h3m31 0h3m23 0h3m11 0h3m-199 1h3m8 0h3m20 0h3m2 0h3m16 0h3m6 0h3m20 0h3m10 0h3m1 0h3m2 0h3m22 0h3m5 0h3m23 0h3m-165 1h3m47 0h3m-1 0h3m11 0h3m11 0h3m8 0h3m5 0h3m7 0h3m9 0h3m3 0h3m5 0h3m9 0h3m30 0h3m-136 1h3m16 0h3m1 0h3m35 0h3m10 0h3m3 0h3m27 0h3m-74 1h3m38 0h3m42 0h3m-138 1h3m14 0h3m10 0h3m153 0h3m-198 1h3m4 0h3m40 0h3m3 0h3m1 0h3m49 0h3m19 0h3m-155 1h3m41 0h3m19 0h3m45 0h3m42 0h3m-152 1h3m3 0h3m0 0h3m7 0h3m0 0h3m2 0h3m6 0h3m0 0h3m41 0h3m15 0h3m32 0h3m18 0h3m3 0h3m-132 1h3m3 0h3m16 0h3m13 0h3m7 0h3m6 0h3m-103 1h3m16 0h3m13 0h3m24 0h3m24 0h3m3 0h3m1 0h3m12 0h3m-1 0h3m15 0h3m-73 1h3m15 0h3m-68 1h3m46 0h3m36 0h3m22 0h3m43 0h3m-181 1h3m29 0h3m10 0h3m46 0h3m-66 1h3m-1 0h3m49 0h3m28 0h3m24 0h3m-85 1h3m25 0h3m-96 1h3m55 0h3m44 0h3m-3 1h3m6 0h3m-140 1h3m148 0h3m104 0h3m-258 1h3m6 0h3m59 0h3m13 0h3" stroke="#333" stroke-width="3" fill="none" filter="url(#bl)"/>
<path transform="scale(.2)" d="M0 0m961 2122h4m-18 3h4m46 0h4m-62 2h4m11 1h4m1 0h4m38 2h4m-30 1h4m2 0h4m-2 0h4m23 1h4m-80 1h4m37 0h4m19 0h4m23 0h4m-81 1h4m11 0h4m21 0h4m-19 1h4m-1 0h4m5 0h4m3 0h4m19 0h4m-78 1h4m9 0h4m29 0h4m7 0h4m-40 1h4m2 0h4m-35 2h4m11 0h4m7 0h4m1 0h4m0 0h4m5 0h4m-1 0h4m-52 1h4m16 0h4m-3 0h4m27 0h4m-1 0h4m3 0h4m25 0h4m-84 1h4m13 0h4m29 1h4m29 0h4m-91 1h4m8 0h4m12 0h4m11 0h4m-42 1h4m0 0h4m9 0h4m6 0h4m-38 1h4m21 0h4m24 0h4m-54 1h4m9 0h4m-3 0h4m5 0h4m3 0h4m2 0h4m-2 0h4m-1 0h4m1 0h4m-24 1h4m12 0h4m-43 1h4m4 0h4m39 0h4m-23 1h4m4 0h4m11 0h4m-66 1h4m23 0h4m42 0h4m-67 1h4m18 0h4m-2 0h4m24 0h4m-66 1h4m8 0h4m13 0h4m3 0h4m8 0h4m10 0h4m-55 1h4m4 0h4m18 0h4m21 0h4m-58 1h4m3 0h4m1 0h4m14 0h4m-2 0h4m-1 0h4m-30 1h4m2 0h4m-1 0h4m14 0h4m33 0h4m-68 1h4m10 0h4m-3 0h4m-3 0h4m5 0h4m4 0h4m-3 0h4m-35 1h4m-6 1h4m2 0h4m11 0h4m1 0h4m-30 1h4m27 0h4m2 0h4m-25 1h4m6 0h4m-1 0h4m23 0h4m-50 1h4m0 0h4m16 0h4m16 0h4m-54 1h4m16 0h4m-49 1h4m34 0h4m-15 1h4m5 0h4m-3 0h4m-3 1h4m-51 1h4m21 0h4m44 0h4m-45 1h4m3 0h4m2 1h4m2 0h4m18 1h4m-69 1h4m18 0h4m23 0h4m4 0h4m-33 1h4m-3 0h4m-7 1h4m-9 2h4m23 0h4" stroke="#50b888" stroke-width="4" fill="none" filter="url(#bl)"/>
<rect x="185.80" y="423.20" width="25.80" height="12.60" fill="none" stroke="#666" stroke-width="0.7"/>
<rect x="156.60" y="408.80" width="60.80" height="54.70" fill="none" stroke="#9a9a9a" stroke-width="0.7"/>
<line x1="156.6" y1="408.8" x2="156.6" y2="463.9" stroke="#222" stroke-width="0.9"/>
<line x1="156.2" y1="463.5" x2="217.4" y2="463.5" stroke="#333" stroke-width="0.8"/>
<text x="155.2" y="414.5" font-size="3.3" font-family="Liberation Sans" fill="#333" text-anchor="end" transform="rotate(38 155.2 414.5)">10<tspan dy="-1" font-size="2.2">5</tspan></text>
<line x1="155.4" y1="413.5" x2="156.6" y2="413.5" stroke="#333" stroke-width="0.6"/>
<text x="155.2" y="428.5230909090909" font-size="3.3" font-family="Liberation Sans" fill="#333" text-anchor="end" transform="rotate(38 155.2 428.5230909090909)">10<tspan dy="-1" font-size="2.2">5</tspan></text>
<line x1="155.4" y1="427.5230909090909" x2="156.6" y2="427.5230909090909" stroke="#333" stroke-width="0.6"/>
<text x="155.2" y="442.5461818181818" font-size="3.3" font-family="Liberation Sans" fill="#333" text-anchor="end" transform="rotate(38 155.2 442.5461818181818)">10<tspan dy="-1" font-size="2.2">5</tspan></text>
<line x1="155.4" y1="441.5461818181818" x2="156.6" y2="441.5461818181818" stroke="#333" stroke-width="0.6"/>
<text x="155.2" y="456.56927272727273" font-size="3.3" font-family="Liberation Sans" fill="#333" text-anchor="end" transform="rotate(38 155.2 456.56927272727273)">10<tspan dy="-1" font-size="2.2">5</tspan></text>
<line x1="155.4" y1="455.56927272727273" x2="156.6" y2="455.56927272727273" stroke="#333" stroke-width="0.6"/>
<text x="164.7" y="468.1" font-size="3.3" font-family="Liberation Sans" fill="#333" text-anchor="middle" transform="rotate(-40 164.7 467.1)">10<tspan dy="-1" font-size="2.2">5</tspan></text>
<line x1="164.7" y1="463.5" x2="164.7" y2="464.7" stroke="#333" stroke-width="0.6"/>
<text x="179.6" y="468.1" font-size="3.3" font-family="Liberation Sans" fill="#333" text-anchor="middle" transform="rotate(-40 179.6 467.1)">10<tspan dy="-1" font-size="2.2">5</tspan></text>
<line x1="179.6" y1="463.5" x2="179.6" y2="464.7" stroke="#333" stroke-width="0.6"/>
<text x="194.5" y="468.1" font-size="3.3" font-family="Liberation Sans" fill="#333" text-anchor="middle" transform="rotate(-40 194.5 467.1)">10<tspan dy="-1" font-size="2.2">5</tspan></text>
<line x1="194.5" y1="463.5" x2="194.5" y2="464.7" stroke="#333" stroke-width="0.6"/>
<text x="209.39999999999998" y="468.1" font-size="3.3" font-family="Liberation Sans" fill="#333" text-anchor="middle" transform="rotate(-40 209.39999999999998 467.1)">10<tspan dy="-1" font-size="2.2">5</tspan></text>
<line x1="209.39999999999998" y1="463.5" x2="209.39999999999998" y2="464.7" stroke="#333" stroke-width="0.6"/>
<path transform="scale(.2)" d="M0 0m1340 1165h3m17 0h3m-24 3h3m5 0h3m-3 1h3m18 0h3m-21 5h3m6 1h3m-23 2h3m-6 1h3m15 1h3m-12 4h3m9 1h3m-33 1h3m22 1h3m-1 1h3m-23 1h3m40 0h3m-28 1h3m14 0h3m-5 1h3m3 0h3m-43 1h3m0 0h3m21 1h3m1 1h3m-38 1h3m21 0h3m15 0h3m-28 2h3m8 0h3m11 1h3m-46 1h3m18 0h3m5 0h3m-17 1h3m38 0h3m-61 1h3m2 0h3m12 0h3m0 0h3m19 0h3m-58 1h3m13 0h3m36 0h3m2 0h3m-38 1h3m10 0h3m11 0h3m16 0h3m-73 1h3m23 0h3m5 0h3m16 0h3m-1 0h3m7 0h3m3 0h3m-56 1h3m24 0h3m-34 1h3m8 0h3m-2 0h3m1 0h3m7 0h3m-21 1h3m4 0h3m3 0h3m-4 2h3m1 0h3m-9 1h3m-14 1h3m-41 1h3m20 0h3m23 0h3m4 1h3m12 0h3m-50 1h3m18 1h3m4 0h3m5 0h3m2 0h3m-34 2h3m27 0h3m13 0h3m-77 1h3m13 0h3m-14 1h3m62 0h3m-35 1h3m-16 1h3m49 0h3m-41 1h3m8 0h3m-31 1h3m19 0h3m2 0h3m8 0h3m-28 1h3m7 0h3m-1 0h3m7 1h3m-46 1h3m17 0h3m14 0h3m-10 1h3m-33 3h3m32 0h3m-18 1h3m8 0h3m-6 4h3m4 2h3m0 0h3m-8 2h3m14 0h3m-39 3h3m17 2h3m-6 1h3m9 9h3" stroke="#f0a0f0" stroke-width="3" fill="none" filter="url(#bl)"/>
<path transform="scale(.2)" d="M0 0m1352 1163h3m5 11h3m-45 3h3m34 0h3m-3 3h3m16 0h3m-45 1h3m10 0h3m1 0h3m15 0h3m-24 1h3m9 2h3m14 0h3m-29 3h3m4 0h3m-2 0h3m0 0h3m-38 1h3m2 0h3m19 0h3m-5 1h3m4 0h3m-32 1h3m13 0h3m6 0h3m-34 1h3m19 0h3m6 0h3m3 0h3m-1 0h3m-39 1h3m20 0h3m-2 0h3m9 0h3m3 0h3m-49 1h3m-1 0h3m3 0h3m15 0h3m12 0h3m-35 1h3m17 0h3m1 0h3m2 0h3m14 0h3m-37 1h3m13 1h3m2 0h3m0 0h3m-31 1h3m4 0h3m1 0h3m2 0h3m3 0h3m-36 1h3m6 0h3m-2 0h3m6 0h3m2 0h3m0 0h3m-30 1h3m21 0h3m1 0h3m1 0h3m0 0h3m-35 1h3m-1 0h3m-1 0h3m-2 0h3m-2 0h3m-1 0h3m7 0h3m-1 0h3m-2 0h3m-2 0h3m-30 1h3m8 0h3m0 0h3m4 0h3m0 0h3m-2 0h3m3 0h3m-1 0h3m12 0h3m-44 1h3m-2 0h3m-2 0h3m0 0h3m5 0h3m-1 0h3m4 0h3m1 0h3m2 0h3m-2 0h3m-1 0h3m-37 1h3m-2 0h3m2 0h3m-2 0h3m10 0h3m0 0h3m4 0h3m1 0h3m-47 1h3m10 0h3m2 0h3m0 0h3m1 0h3m0 0h3m-2 0h3m-2 0h3m-2 0h3m-1 0h3m0 0h3m-31 1h3m3 0h3m9 0h3m0 0h3m-2 0h3m4 0h3m-2 0h3m-30 1h3m3 0h3m1 0h3m1 0h3m-2 0h3m4 0h3m5 0h3m1 0h3m-22 1h3m0 0h3m-2 0h3m0 0h3m-2 0h3m-23 1h3m-1 0h3m-1 0h3m1 0h3m2 0h3m-1 0h3m16 0h3m6 0h3m-35 1h3m2 0h3m-1 0h3m-1 0h3m2 0h3m-28 1h3m6 0h3m3 0h3m16 0h3m0 0h3m-44 1h3m2 0h3m1 0h3m-2 0h3m0 0h3m3 0h3m12 0h3m5 0h3m-63 1h3m0 0h3m11 0h3m1 0h3m0 0h3m1 0h3m-1 0h3m3 0h3m-1 0h3m-1 0h3m7 0h3m-35 1h3m7 0h3m-2 0h3m-2 0h3m-2 0h3m2 0h3m2 0h3m-1 0h3m-2 0h3m4 0h3m3 0h3m-50 1h3m2 0h3m-1 0h3m9 0h3m-2 0h3m1 0h3m-1 0h3m8 0h3m-1 0h3m4 0h3m-52 1h3m11 0h3m0 0h3m-2 0h3m0 0h3m4 0h3m1 0h3m-2 0h3m-2 0h3m-2 0h3m8 0h3m-1 0h3m-63 1h3m32 0h3m8 0h3m0 0h3m3 0h3m-36 1h3m5 0h3m3 0h3m1 0h3m0 0h3m-1 0h3m-2 0h3m-1 0h3m0 0h3m2 0h3m2 0h3m-51 1h3m9 0h3m12 0h3m1 0h3m-2 0h3m4 0h3m4 0h3m-1 0h3m-1 0h3m0 0h3m-35 1h3m3 0h3m-1 0h3m2 0h3m-1 0h3m-22 1h3m3 0h3m-2 0h3m0 0h3m1 0h3m11 0h3m-46 1h3m10 0h3m4 0h3m-1 0h3m4 0h3m5 0h3m-34 1h3m0 0h3m-2 0h3m18 0h3m-1 0h3m2 0h3m0 0h3m-62 1h3m30 0h3m1 0h3m1 0h3m0 0h3m-2 0h3m27 0h3m-52 1h3m2 0h3m3 0h3m28 0h3m4 0h3m-76 1h3m44 0h3m-13 1h3m2 0h3m-21 1h3m1 0h3m-4 1h3m7 0h3m1 0h3m13 0h3m-39 1h3m4 0h3m1 0h3m4 0h3m-1 0h3m3 0h3m3 0h3m-38 1h3m20 0h3m7 0h3m-5 1h3m1 1h3m-28 1h3m14 1h3m-23 3h3m1 0h3m10 0h3m7 1h3" stroke="#e040e0" stroke-width="3" fill="none" filter="url(#bl)"/>
<path transform="scale(.2)" d="M0 0m1352 1207h3m-10 7h3m-29 3h3m36 6h3m-37 3h3m6 0h3m-7 12h3m28 1h3m-10 2h3m-19 1h3m-5 3h3m-8 1h3m2 0h3m9 1h3m2 0h3m6 0h3m-13 1h3m3 0h3m3 0h3m-27 1h3m8 2h3m12 0h3m-32 2h3m9 0h3m12 0h3m-9 1h3m-7 1h3m-2 2h3m4 0h3m4 0h3m-37 1h3m15 1h3m0 0h3m7 0h3m-29 1h3m8 0h3m6 0h3m-28 2h3m4 1h3m10 0h3m-23 1h3m2 0h3m0 0h3m1 0h3m-2 0h3m21 0h3m-1 1h3m-39 1h3m8 0h3m-6 1h3m15 0h3m-32 1h3m10 0h3m-3 2h3m5 0h3m-2 0h3m-19 1h3m-2 0h3m17 0h3m-46 1h3m8 0h3m3 0h3m4 0h3m12 0h3m-9 1h3m0 0h3m5 0h3m0 0h3m-20 1h3m20 0h3m18 1h3m-53 2h3m-1 0h3m-2 0h3m12 0h3m-2 1h3m-1 1h3m-24 1h3m-2 0h3m1 1h3m-2 2h3m16 0h3m-24 1h3m6 0h3m4 0h3m18 0h3m-55 1h3m12 0h3m19 0h3m-10 1h3m-11 1h3m-11 2h3m-4 1h3m-6 2h3m25 0h3m-49 2h3m17 2h3m20 0h3m-11 4h3m-18 1h3m1 1h3m-11 1h3m-2 0h3m29 4h3m-39 1h3m18 0h3m-6 8h3" stroke="#40a840" stroke-width="3" fill="none" filter="url(#bl)"/>
<path transform="scale(.2)" d="M0 0m1295 1186h3m-16 5h3m-18 1h3m20 5h3m24 0h3m-10 1h3m8 0h3m-32 1h3m19 0h3m-52 1h3m17 0h3m5 3h3m11 0h3m2 1h3m-23 2h3m-1 4h3m-8 1h3m5 1h3m-16 2h3m15 0h3m-23 1h3m10 0h3m-2 0h3m6 1h3m-1 0h3m8 0h3m1 1h3m-31 1h3m-10 1h3m0 2h3m0 0h3m-8 1h3m6 0h3m8 1h3m-27 1h3m4 0h3m8 0h3m-4 1h3m-8 7h3m-6 1h3" stroke="#666" stroke-width="3" fill="none" filter="url(#bl)"/>
<rect x="263.90" y="247.60" width="14.70" height="20.40" fill="none" stroke="#555" stroke-width="0.7"/>
<line x1="250.2" y1="247.6" x2="263.9" y2="247.6" stroke="#777" stroke-width="0.7"/>
<rect x="263.90" y="234.20" width="14.70" height="13.40" fill="none" stroke="#333" stroke-width="0.75"/>
<text x="272.4" y="232.0" font-size="2.7" font-family="Liberation Sans" font-weight="bold" text-anchor="middle" fill="#444">MPP</text>
<text x="251.9" y="266.5" font-size="3.3" font-family="Liberation Sans" fill="#333" textLength="10.6" lengthAdjust="spacingAndGlyphs">LT-HSC</text>
<text x="265.4" y="266.5" font-size="3.3" font-family="Liberation Sans" fill="#333" textLength="12" lengthAdjust="spacingAndGlyphs">ST-HSC</text>
<rect x="250.20" y="213.10" width="60.50" height="54.90" fill="none" stroke="#9a9a9a" stroke-width="0.7"/>
<line x1="250.2" y1="213.1" x2="250.2" y2="268.4" stroke="#222" stroke-width="0.9"/>
<line x1="249.79999999999998" y1="268" x2="310.7" y2="268" stroke="#333" stroke-width="0.8"/>
<text x="248.79999999999998" y="218.79999999999998" font-size="3.3" font-family="Liberation Sans" fill="#333" text-anchor="end" transform="rotate(38 248.79999999999998 218.79999999999998)">10<tspan dy="-1" font-size="2.2">5</tspan></text>
<line x1="249.0" y1="217.79999999999998" x2="250.2" y2="217.79999999999998" stroke="#333" stroke-width="0.6"/>
<text x="248.79999999999998" y="232.87436363636363" font-size="3.3" font-family="Liberation Sans" fill="#333" text-anchor="end" transform="rotate(38 248.79999999999998 232.87436363636363)">10<tspan dy="-1" font-size="2.2">5</tspan></text>
<line x1="249.0" y1="231.87436363636363" x2="250.2" y2="231.87436363636363" stroke="#333" stroke-width="0.6"/>
<text x="248.79999999999998" y="246.94872727272727" font-size="3.3" font-family="Liberation Sans" fill="#333" text-anchor="end" transform="rotate(38 248.79999999999998 246.94872727272727)">10<tspan dy="-1" font-size="2.2">5</tspan></text>
<line x1="249.0" y1="245.94872727272727" x2="250.2" y2="245.94872727272727" stroke="#333" stroke-width="0.6"/>
<text x="248.79999999999998" y="261.0230909090909" font-size="3.3" font-family="Liberation Sans" fill="#333" text-anchor="end" transform="rotate(38 248.79999999999998 261.0230909090909)">10<tspan dy="-1" font-size="2.2">5</tspan></text>
<line x1="249.0" y1="260.0230909090909" x2="250.2" y2="260.0230909090909" stroke="#333" stroke-width="0.6"/>
<text x="258.3" y="272.6" font-size="3.3" font-family="Liberation Sans" fill="#333" text-anchor="middle" transform="rotate(-40 258.3 271.6)">10<tspan dy="-1" font-size="2.2">5</tspan></text>
<line x1="258.3" y1="268" x2="258.3" y2="269.2" stroke="#333" stroke-width="0.6"/>
<text x="273.2" y="272.6" font-size="3.3" font-family="Liberation Sans" fill="#333" text-anchor="middle" transform="rotate(-40 273.2 271.6)">10<tspan dy="-1" font-size="2.2">5</tspan></text>
<line x1="273.2" y1="268" x2="273.2" y2="269.2" stroke="#333" stroke-width="0.6"/>
<text x="288.1" y="272.6" font-size="3.3" font-family="Liberation Sans" fill="#333" text-anchor="middle" transform="rotate(-40 288.1 271.6)">10<tspan dy="-1" font-size="2.2">5</tspan></text>
<line x1="288.1" y1="268" x2="288.1" y2="269.2" stroke="#333" stroke-width="0.6"/>
<text x="303.0" y="272.6" font-size="3.3" font-family="Liberation Sans" fill="#333" text-anchor="middle" transform="rotate(-40 303.0 271.6)">10<tspan dy="-1" font-size="2.2">5</tspan></text>
<line x1="303.0" y1="268" x2="303.0" y2="269.2" stroke="#333" stroke-width="0.6"/>
<path transform="scale(.2)" d="M0 0m1348 1486h3m-25 2h3m28 4h3m-12 1h3m13 0h3m-36 1h3m9 0h3m3 1h3m26 0h3m-45 2h3m17 0h3m23 2h3m-10 2h3m-38 2h3m8 0h3m22 0h3m-74 1h3m64 0h3m-59 1h3m56 1h3m-24 1h3m33 0h3m-40 2h3m-23 1h3m34 0h3m-53 1h3m-1 0h3m13 0h3m1 0h3m22 0h3m-44 1h3m9 0h3m7 0h3m15 0h3m-58 1h3m36 1h3m-15 1h3m18 1h3m1 0h3m10 0h3m17 0h3m-79 1h3m17 0h3m3 0h3m37 0h3m-50 1h3m4 0h3m4 1h3m-20 1h3m22 0h3m1 0h3m-44 1h3m18 0h3m0 0h3m-5 1h3m1 0h3m6 1h3m1 0h3m-45 1h3m21 0h3m0 0h3m1 0h3m-2 0h3m-2 0h3m28 0h3m-58 1h3m1 0h3m5 0h3m-1 0h3m6 0h3m23 0h3m-67 1h3m8 0h3m9 0h3m11 0h3m2 0h3m12 0h3m1 0h3m-84 1h3m29 0h3m-2 0h3m31 0h3m1 0h3m8 0h3m3 0h3m-2 0h3m-53 1h3m5 0h3m-29 2h3m16 0h3m15 0h3m-24 1h3m19 0h3m9 0h3m-52 1h3m21 0h3m-2 0h3m7 0h3m1 0h3m8 1h3m3 0h3m-43 1h3m-1 0h3m10 0h3m1 0h3m1 0h3m-27 1h3m8 0h3m17 0h3m6 0h3m7 0h3m-49 1h3m4 0h3m-22 1h3m37 0h3m3 0h3m-11 1h3m-52 1h3m11 0h3m24 0h3m19 0h3m-57 1h3m35 1h3m9 0h3m-26 1h3m15 0h3m-70 1h3m34 0h3m42 0h3m20 0h3m-69 1h3m-7 1h3m17 0h3m2 0h3m-1 0h3m-10 1h3m12 0h3m-65 2h3m35 0h3m13 1h3m5 0h3m-42 1h3m16 0h3m28 0h3m-32 1h3m2 0h3m-42 1h3m27 2h3m-22 1h3m1 0h3m30 0h3m-64 1h3m56 0h3m-19 1h3m11 5h3m-55 5h3m51 11h3" stroke="#f0a0f0" stroke-width="3" fill="none" filter="url(#bl)"/>
<path transform="scale(.2)" d="M0 0m1339 1488h3m-22 9h3m29 3h3m-27 3h3m8 1h3m-4 1h3m38 0h3m-23 1h3m-2 0h3m-19 1h3m5 1h3m1 0h3m21 0h3m-40 1h3m10 0h3m-34 1h3m11 1h3m4 0h3m-2 0h3m2 1h3m3 0h3m3 0h3m-33 1h3m1 0h3m4 0h3m0 0h3m18 0h3m-51 1h3m13 0h3m28 0h3m0 0h3m-44 1h3m-1 0h3m-2 0h3m13 0h3m2 0h3m-27 1h3m1 0h3m3 0h3m5 0h3m-7 1h3m-2 0h3m4 0h3m0 0h3m6 0h3m1 0h3m-61 1h3m23 0h3m2 0h3m0 0h3m-2 0h3m1 0h3m9 0h3m-2 0h3m2 0h3m-44 1h3m-1 0h3m3 0h3m0 0h3m0 0h3m0 0h3m2 0h3m1 0h3m1 0h3m-1 0h3m-2 0h3m5 0h3m-38 1h3m4 0h3m-2 0h3m0 0h3m1 0h3m-1 0h3m-1 0h3m-1 0h3m4 0h3m-43 1h3m4 0h3m7 0h3m-2 0h3m1 0h3m-2 0h3m0 0h3m-2 0h3m-2 0h3m-2 0h3m-1 0h3m0 0h3m8 0h3m-1 0h3m-37 1h3m-2 0h3m5 0h3m-2 0h3m4 0h3m2 0h3m8 0h3m6 0h3m-52 1h3m7 0h3m3 0h3m0 0h3m-1 0h3m-1 0h3m0 0h3m-1 0h3m-2 0h3m2 0h3m2 0h3m6 0h3m-51 1h3m11 0h3m2 0h3m4 0h3m0 0h3m1 0h3m15 0h3m-58 1h3m-1 0h3m1 0h3m6 0h3m0 0h3m0 0h3m-1 0h3m-1 0h3m1 0h3m7 0h3m11 0h3m-64 1h3m5 0h3m7 0h3m2 0h3m-1 0h3m10 0h3m-1 0h3m-2 0h3m13 0h3m2 0h3m-2 0h3m-50 1h3m2 0h3m0 0h3m-2 0h3m-1 0h3m-2 0h3m1 0h3m-1 0h3m-2 0h3m-2 0h3m-2 0h3m-2 0h3m-1 0h3m0 0h3m1 0h3m-47 1h3m-1 0h3m0 0h3m-1 0h3m9 0h3m-2 0h3m0 0h3m-1 0h3m3 0h3m0 0h3m-1 0h3m7 0h3m-2 0h3m0 0h3m-42 1h3m0 0h3m-2 0h3m4 0h3m-2 0h3m1 0h3m-2 0h3m1 0h3m2 0h3m5 0h3m-2 0h3m-2 0h3m-2 0h3m11 0h3m1 0h3m-58 1h3m2 0h3m-1 0h3m-2 0h3m-1 0h3m-1 0h3m-1 0h3m-2 0h3m-2 0h3m-2 0h3m-2 0h3m-2 0h3m-1 0h3m4 0h3m-2 0h3m-2 0h3m0 0h3m-2 0h3m-2 0h3m20 0h3m-56 1h3m-2 0h3m-1 0h3m5 0h3m-2 0h3m-2 0h3m-1 0h3m1 0h3m3 0h3m6 0h3m16 0h3m-68 1h3m17 0h3m3 0h3m1 0h3m1 0h3m-1 0h3m-2 0h3m-2 0h3m-1 0h3m6 0h3m-62 1h3m16 0h3m-1 0h3m9 0h3m0 0h3m1 0h3m-1 0h3m3 0h3m-2 0h3m-39 1h3m3 0h3m1 0h3m-2 0h3m0 0h3m4 0h3m-1 0h3m-1 0h3m5 0h3m-2 0h3m0 0h3m0 0h3m-2 0h3m3 0h3m-47 1h3m-1 0h3m6 0h3m-1 0h3m1 0h3m0 0h3m0 0h3m4 0h3m-2 0h3m-1 0h3m-1 0h3m0 0h3m11 0h3m-65 1h3m3 0h3m7 0h3m4 0h3m-1 0h3m-1 0h3m1 0h3m-1 0h3m-2 0h3m-2 0h3m0 0h3m1 0h3m-1 0h3m24 0h3m-77 1h3m8 0h3m5 0h3m2 0h3m7 0h3m-2 0h3m-2 0h3m-1 0h3m3 0h3m-2 0h3m-1 0h3m0 0h3m8 0h3m-82 1h3m32 0h3m4 0h3m-2 0h3m-2 0h3m-2 0h3m-2 0h3m6 0h3m-1 0h3m2 0h3m1 0h3m5 0h3m-47 1h3m2 0h3m1 0h3m-1 0h3m-1 0h3m0 0h3m-2 0h3m-2 0h3m0 0h3m0 0h3m10 0h3m-45 1h3m4 0h3m1 0h3m-2 0h3m9 0h3m-1 0h3m-2 0h3m0 0h3m1 0h3m-1 0h3m-1 0h3m-1 0h3m-1 0h3m7 0h3m-81 1h3m1 0h3m23 0h3m-2 0h3m4 0h3m8 0h3m-2 0h3m3 0h3m1 0h3m7 0h3m3 0h3m-56 1h3m-1 0h3m3 0h3m9 0h3m-1 0h3m0 0h3m3 0h3m6 0h3m-1 0h3m0 0h3m-45 1h3m9 0h3m-2 0h3m5 0h3m2 0h3m-1 0h3m0 0h3m3 0h3m-46 1h3m11 0h3m4 0h3m-1 0h3m1 0h3m2 0h3m1 0h3m-2 0h3m4 0h3m-2 0h3m21 0h3m-65 1h3m9 0h3m2 0h3m4 0h3m-1 0h3m2 0h3m-2 0h3m4 0h3m-45 1h3m16 0h3m8 0h3m-2 0h3m-1 0h3m1 0h3m3 0h3m2 0h3m-1 0h3m-61 1h3m17 0h3m6 0h3m2 0h3m-2 0h3m3 0h3m-2 0h3m0 0h3m-2 0h3m-1 0h3m-2 0h3m13 0h3m-55 1h3m3 0h3m4 0h3m3 0h3m0 0h3m5 0h3m-2 0h3m3 0h3m3 0h3m-2 0h3m-47 1h3m10 0h3m-1 0h3m5 0h3m4 0h3m-31 1h3m6 0h3m11 0h3m-1 0h3m1 0h3m-2 0h3m-1 0h3m1 0h3m4 0h3m-1 0h3m0 0h3m-42 1h3m12 0h3m-1 0h3m8 0h3m1 0h3m-45 1h3m13 0h3m0 0h3m-6 1h3m1 0h3m1 2h3m6 0h3m7 0h3m-38 1h3m7 0h3m7 0h3m1 0h3m16 0h3m-37 2h3m4 0h3m-30 1h3m10 1h3m7 0h3m2 0h3m1 0h3m-41 4h3m12 0h3m26 1h3m-25 1h3m10 1h3m22 3h3" stroke="#e030e0" stroke-width="3" fill="none" filter="url(#bl)"/>
<path transform="scale(.2)" d="M0 0m1314 1491h3m-23 14h3m9 5h3m-22 1h3m12 0h3m25 0h3m-15 3h3m9 0h3m-25 1h3m-11 1h3m-7 1h3m2 0h3m-1 0h3m17 0h3m-36 1h3m2 0h3m2 0h3m6 0h3m-7 1h3m15 0h3m-25 1h3m-10 1h3m3 0h3m2 0h3m-8 1h3m-2 0h3m-2 0h3m10 0h3m-24 1h3m7 0h3m3 0h3m-18 1h3m2 0h3m3 0h3m-26 2h3m6 0h3m-1 0h3m5 0h3m12 0h3m-9 1h3m-30 1h3m32 0h3m-27 1h3m7 0h3m0 0h3m-1 0h3m-20 1h3m3 0h3m-1 0h3m-2 0h3m-9 1h3m-1 0h3m-1 0h3m21 0h3m-25 1h3m4 0h3m-17 1h3m14 0h3m-1 0h3m-28 1h3m-2 0h3m10 0h3m6 0h3m-16 1h3m7 0h3m0 0h3m5 0h3m-21 1h3m14 0h3m-24 1h3m9 0h3m-15 1h3m1 0h3m-11 1h3m17 0h3m-14 2h3m3 0h3m0 0h3m-19 2h3m-5 1h3m9 0h3m-9 1h3m12 0h3m-15 1h3m-2 2h3m-3 2h3m4 2h3m-4 3h3" stroke="#334" stroke-width="3" fill="none" filter="url(#bl)"/>
<path transform="scale(.2)" d="M0 0m1329 1557h3m11 2h3m0 2h3m-2 2h3m-4 2h3m9 1h3m-2 0h3m-16 1h3m4 0h3m3 1h3m-21 2h3m12 0h3m3 0h3m-2 0h3m-11 2h3m-16 1h3m-2 0h3m7 1h3m18 0h3m-22 1h3m10 0h3m0 0h3m1 0h3m-29 1h3m-8 1h3m0 1h3m2 1h3m0 0h3m4 0h3m-17 1h3m16 0h3m-42 1h3m1 0h3m7 2h3m5 3h3m-11 1h3m5 1h3m23 0h3m-32 1h3m7 1h3m-5 2h3m2 0h3m3 1h3m-22 1h3m10 1h3m-1 0h3m-14 2h3m9 2h3m-20 3h3" stroke="#40a840" stroke-width="3" fill="none" filter="url(#bl)"/>
<rect x="263.90" y="312.10" width="14.70" height="21.00" fill="none" stroke="#555" stroke-width="0.7"/>
<line x1="250.2" y1="312.1" x2="263.9" y2="312.1" stroke="#777" stroke-width="0.7"/>
<rect x="263.90" y="298.30" width="14.70" height="13.80" fill="none" stroke="#333" stroke-width="0.75"/>
<text x="272.4" y="296.1" font-size="2.7" font-family="Liberation Sans" font-weight="bold" text-anchor="middle" fill="#444">MPP</text>
<text x="251.9" y="331.6" font-size="3.3" font-family="Liberation Sans" fill="#333" textLength="10.6" lengthAdjust="spacingAndGlyphs">LT-HSC</text>
<text x="265.4" y="331.6" font-size="3.3" font-family="Liberation Sans" fill="#333" textLength="12" lengthAdjust="spacingAndGlyphs">ST-HSC</text>
<rect x="250.20" y="277.80" width="60.50" height="55.30" fill="none" stroke="#9a9a9a" stroke-width="0.7"/>
<line x1="250.2" y1="277.8" x2="250.2" y2="333.5" stroke="#222" stroke-width="0.9"/>
<line x1="249.79999999999998" y1="333.1" x2="310.7" y2="333.1" stroke="#333" stroke-width="0.8"/>
<text x="248.79999999999998" y="283.5" font-size="3.3" font-family="Liberation Sans" fill="#333" text-anchor="end" transform="rotate(38 248.79999999999998 283.5)">10<tspan dy="-1" font-size="2.2">5</tspan></text>
<line x1="249.0" y1="282.5" x2="250.2" y2="282.5" stroke="#333" stroke-width="0.6"/>
<text x="248.79999999999998" y="297.6769090909091" font-size="3.3" font-family="Liberation Sans" fill="#333" text-anchor="end" transform="rotate(38 248.79999999999998 297.6769090909091)">10<tspan dy="-1" font-size="2.2">5</tspan></text>
<line x1="249.0" y1="296.6769090909091" x2="250.2" y2="296.6769090909091" stroke="#333" stroke-width="0.6"/>
<text x="248.79999999999998" y="311.85381818181816" font-size="3.3" font-family="Liberation Sans" fill="#333" text-anchor="end" transform="rotate(38 248.79999999999998 311.85381818181816)">10<tspan dy="-1" font-size="2.2">5</tspan></text>
<line x1="249.0" y1="310.85381818181816" x2="250.2" y2="310.85381818181816" stroke="#333" stroke-width="0.6"/>
<text x="248.79999999999998" y="326.0307272727273" font-size="3.3" font-family="Liberation Sans" fill="#333" text-anchor="end" transform="rotate(38 248.79999999999998 326.0307272727273)">10<tspan dy="-1" font-size="2.2">5</tspan></text>
<line x1="249.0" y1="325.0307272727273" x2="250.2" y2="325.0307272727273" stroke="#333" stroke-width="0.6"/>
<text x="258.3" y="337.70000000000005" font-size="3.3" font-family="Liberation Sans" fill="#333" text-anchor="middle" transform="rotate(-40 258.3 336.70000000000005)">10<tspan dy="-1" font-size="2.2">5</tspan></text>
<line x1="258.3" y1="333.1" x2="258.3" y2="334.3" stroke="#333" stroke-width="0.6"/>
<text x="273.2" y="337.70000000000005" font-size="3.3" font-family="Liberation Sans" fill="#333" text-anchor="middle" transform="rotate(-40 273.2 336.70000000000005)">10<tspan dy="-1" font-size="2.2">5</tspan></text>
<line x1="273.2" y1="333.1" x2="273.2" y2="334.3" stroke="#333" stroke-width="0.6"/>
<text x="288.1" y="337.70000000000005" font-size="3.3" font-family="Liberation Sans" fill="#333" text-anchor="middle" transform="rotate(-40 288.1 336.70000000000005)">10<tspan dy="-1" font-size="2.2">5</tspan></text>
<line x1="288.1" y1="333.1" x2="288.1" y2="334.3" stroke="#333" stroke-width="0.6"/>
<text x="303.0" y="337.70000000000005" font-size="3.3" font-family="Liberation Sans" fill="#333" text-anchor="middle" transform="rotate(-40 303.0 336.70000000000005)">10<tspan dy="-1" font-size="2.2">5</tspan></text>
<line x1="303.0" y1="333.1" x2="303.0" y2="334.3" stroke="#333" stroke-width="0.6"/>
<path transform="scale(.2)" d="M0 0m1326 1811h3m1 3h3m9 0h3m-31 1h3m42 4h3m1 1h3m-2 5h3m-11 1h3m-20 1h3m15 0h3m26 2h3m-45 1h3m24 1h3m-44 3h3m-21 1h3m15 1h3m51 1h3m-82 1h3m37 1h3m-2 0h3m12 0h3m-1 1h3m-25 1h3m1 0h3m3 0h3m-41 1h3m26 0h3m14 0h3m-47 1h3m20 0h3m-2 0h3m3 0h3m10 0h3m25 0h3m-54 1h3m-1 0h3m-2 0h3m-1 0h3m-1 0h3m10 0h3m-2 0h3m-27 1h3m0 0h3m14 1h3m27 2h3m-31 1h3m7 0h3m-32 1h3m8 0h3m26 0h3m-44 1h3m16 0h3m-15 2h3m10 0h3m9 0h3m-39 1h3m4 0h3m22 0h3m10 0h3m-59 1h3m29 0h3m-32 1h3m5 0h3m6 0h3m0 2h3m22 0h3m-1 0h3m-49 1h3m12 0h3m10 0h3m-10 1h3m28 0h3m-30 1h3m4 0h3m3 0h3m8 1h3m-50 1h3m29 0h3m-2 0h3m2 1h3m-52 1h3m13 2h3m-5 2h3m2 2h3m-10 3h3m15 12h3m22 7h3" stroke="#f0b0f0" stroke-width="3" fill="none" filter="url(#bl)"/>
<path transform="scale(.2)" d="M0 0m1341 1815h3m13 0h3m-33 3h3m30 0h3m8 0h3m-20 1h3m5 0h3m-25 2h3m21 0h3m-21 3h3m-22 1h3m9 1h3m6 1h3m3 0h3m-12 1h3m7 0h3m4 1h3m-17 1h3m-26 1h3m12 0h3m-5 1h3m14 0h3m0 1h3m1 0h3m-24 1h3m1 0h3m-35 1h3m40 0h3m-22 1h3m15 0h3m-25 1h3m4 0h3m29 0h3m-50 1h3m8 0h3m-1 0h3m1 0h3m1 0h3m4 0h3m-14 1h3m2 0h3m6 0h3m8 0h3m-39 1h3m4 0h3m-1 0h3m4 0h3m-6 1h3m4 0h3m-8 1h3m0 0h3m0 0h3m2 0h3m-32 1h3m18 0h3m-2 0h3m0 0h3m-19 1h3m4 0h3m-16 1h3m1 0h3m0 0h3m3 0h3m-2 0h3m-2 0h3m4 0h3m3 0h3m-26 1h3m2 0h3m5 0h3m-15 1h3m1 0h3m13 0h3m0 0h3m-26 1h3m-2 0h3m8 0h3m-19 1h3m-2 0h3m6 0h3m7 0h3m-2 0h3m7 0h3m-1 0h3m-51 1h3m4 0h3m15 0h3m-1 0h3m2 0h3m-1 0h3m0 0h3m0 0h3m-1 0h3m0 0h3m-31 1h3m7 0h3m4 0h3m-1 0h3m6 0h3m-28 1h3m0 0h3m5 0h3m8 0h3m-35 1h3m3 0h3m12 0h3m10 0h3m-22 1h3m4 0h3m-1 0h3m-17 1h3m3 0h3m8 0h3m6 0h3m-28 1h3m-2 0h3m3 1h3m-1 0h3m8 0h3m-29 1h3m16 0h3m-27 1h3m12 1h3m1 0h3m8 0h3m-27 1h3m6 0h3m-1 0h3m2 0h3m2 0h3m5 0h3m-37 1h3m25 0h3m-1 0h3m-2 0h3m-26 2h3m13 0h3m1 0h3m-36 1h3m2 0h3m18 0h3m2 0h3m2 0h3m-26 1h3m10 0h3m14 0h3m-17 1h3m-6 1h3m7 0h3m-2 1h3m-16 1h3m-15 3h3m-3 4h3m-4 2h3m4 0h3m-17 2h3" stroke="#e080e8" stroke-width="3" fill="none" filter="url(#bl)"/>
<path transform="scale(.2)" d="M0 0m1357 1832h3m-14 17h3m3 9h3m-1 3h3m3 3h3m-19 3h3m-4 6h3m2 0h3m6 0h3m-24 2h3m18 0h3m-1 1h3m-7 1h3m-19 1h3m22 0h3m-18 1h3m2 0h3m-19 1h3m-16 1h3m8 0h3m4 0h3m4 0h3m3 0h3m-17 1h3m18 0h3m-29 1h3m40 0h3m-24 1h3m-11 1h3m4 0h3m-21 1h3m-16 1h3m11 0h3m4 0h3m27 0h3m-33 1h3m4 0h3m-32 1h3m26 1h3m11 0h3m-28 1h3m1 0h3m0 0h3m12 0h3m-29 1h3m8 0h3m0 0h3m-15 1h3m18 0h3m6 0h3m1 0h3m-37 1h3m21 0h3m3 0h3m-2 0h3m-49 1h3m15 1h3m5 0h3m0 0h3m-30 1h3m3 0h3m4 0h3m0 0h3m0 0h3m1 0h3m-2 0h3m-1 0h3m5 0h3m1 0h3m-20 1h3m-18 2h3m11 0h3m14 0h3m-38 1h3m22 0h3m-25 1h3m5 0h3m4 0h3m7 0h3m-25 1h3m27 0h3m-32 1h3m5 0h3m-25 1h3m11 0h3m3 0h3m0 0h3m23 0h3m-39 1h3m-8 1h3m9 0h3m-6 1h3m19 0h3m-31 1h3m18 0h3m-13 1h3m25 0h3m-22 1h3m16 0h3m-44 1h3m34 0h3m-11 2h3m-19 1h3m1 0h3m2 0h3m10 0h3m1 0h3m-34 1h3m4 0h3m14 0h3m-30 1h3m16 1h3m-26 1h3m9 0h3m8 0h3m-27 1h3m-2 0h3m22 0h3m2 0h3m-18 2h3m-15 1h3m-1 0h3m5 0h3m-17 1h3m18 1h3m-7 1h3m1 0h3m24 1h3m-43 1h3m16 0h3m-11 1h3m1 0h3m8 0h3m-24 1h3m14 0h3m-17 1h3m-2 0h3m10 1h3m-17 1h3m-30 7h3m5 0h3m10 6h3m6 2h3m-2 2h3m0 2h3m-12 8h3" stroke="#40a860" stroke-width="3" fill="none" filter="url(#bl)"/>
<path transform="scale(.2)" d="M0 0m1293 1819h3m-33 4h3m10 5h3m-1 5h3m4 0h3m11 0h3m-24 2h3m7 6h3m15 0h3m-27 1h3m-7 3h3m-2 2h3m7 1h3m-11 1h3m6 8h3m-36 2h3m20 6h3m1 7h3m11 0h3m19 0h3" stroke="#888" stroke-width="3" fill="none" filter="url(#bl)"/>
<rect x="263.90" y="375.20" width="14.70" height="20.40" fill="none" stroke="#555" stroke-width="0.7"/>
<line x1="250.2" y1="375.2" x2="263.9" y2="375.2" stroke="#777" stroke-width="0.7"/>
<rect x="263.90" y="362.30" width="14.70" height="12.90" fill="none" stroke="#333" stroke-width="0.75"/>
<text x="272.4" y="360.1" font-size="2.7" font-family="Liberation Sans" font-weight="bold" text-anchor="middle" fill="#444">MPP</text>
<text x="251.9" y="394.1" font-size="3.3" font-family="Liberation Sans" fill="#333" textLength="10.6" lengthAdjust="spacingAndGlyphs">LT-HSC</text>
<text x="265.4" y="394.1" font-size="3.3" font-family="Liberation Sans" fill="#333" textLength="12" lengthAdjust="spacingAndGlyphs">ST-HSC</text>
<rect x="250.20" y="342.50" width="60.50" height="53.10" fill="none" stroke="#9a9a9a" stroke-width="0.7"/>
<line x1="250.2" y1="342.5" x2="250.2" y2="396.0" stroke="#222" stroke-width="0.9"/>
<line x1="249.79999999999998" y1="395.6" x2="310.7" y2="395.6" stroke="#333" stroke-width="0.8"/>
<text x="248.79999999999998" y="348.2" font-size="3.3" font-family="Liberation Sans" fill="#333" text-anchor="end" transform="rotate(38 248.79999999999998 348.2)">10<tspan dy="-1" font-size="2.2">5</tspan></text>
<line x1="249.0" y1="347.2" x2="250.2" y2="347.2" stroke="#333" stroke-width="0.6"/>
<text x="248.79999999999998" y="361.8129090909091" font-size="3.3" font-family="Liberation Sans" fill="#333" text-anchor="end" transform="rotate(38 248.79999999999998 361.8129090909091)">10<tspan dy="-1" font-size="2.2">5</tspan></text>
<line x1="249.0" y1="360.8129090909091" x2="250.2" y2="360.8129090909091" stroke="#333" stroke-width="0.6"/>
<text x="248.79999999999998" y="375.42581818181816" font-size="3.3" font-family="Liberation Sans" fill="#333" text-anchor="end" transform="rotate(38 248.79999999999998 375.42581818181816)">10<tspan dy="-1" font-size="2.2">5</tspan></text>
<line x1="249.0" y1="374.42581818181816" x2="250.2" y2="374.42581818181816" stroke="#333" stroke-width="0.6"/>
<text x="248.79999999999998" y="389.0387272727273" font-size="3.3" font-family="Liberation Sans" fill="#333" text-anchor="end" transform="rotate(38 248.79999999999998 389.0387272727273)">10<tspan dy="-1" font-size="2.2">5</tspan></text>
<line x1="249.0" y1="388.0387272727273" x2="250.2" y2="388.0387272727273" stroke="#333" stroke-width="0.6"/>
<text x="258.3" y="400.20000000000005" font-size="3.3" font-family="Liberation Sans" fill="#333" text-anchor="middle" transform="rotate(-40 258.3 399.20000000000005)">10<tspan dy="-1" font-size="2.2">5</tspan></text>
<line x1="258.3" y1="395.6" x2="258.3" y2="396.8" stroke="#333" stroke-width="0.6"/>
<text x="273.2" y="400.20000000000005" font-size="3.3" font-family="Liberation Sans" fill="#333" text-anchor="middle" transform="rotate(-40 273.2 399.20000000000005)">10<tspan dy="-1" font-size="2.2">5</tspan></text>
<line x1="273.2" y1="395.6" x2="273.2" y2="396.8" stroke="#333" stroke-width="0.6"/>
<text x="288.1" y="400.20000000000005" font-size="3.3" font-family="Liberation Sans" fill="#333" text-anchor="middle" transform="rotate(-40 288.1 399.20000000000005)">10<tspan dy="-1" font-size="2.2">5</tspan></text>
<line x1="288.1" y1="395.6" x2="288.1" y2="396.8" stroke="#333" stroke-width="0.6"/>
<text x="303.0" y="400.20000000000005" font-size="3.3" font-family="Liberation Sans" fill="#333" text-anchor="middle" transform="rotate(-40 303.0 399.20000000000005)">10<tspan dy="-1" font-size="2.2">5</tspan></text>
<line x1="303.0" y1="395.6" x2="303.0" y2="396.8" stroke="#333" stroke-width="0.6"/>
<path transform="scale(.2)" d="M0 0m1344 2179h3m19 4h3m-33 1h3m1 2h3m-11 1h3m3 0h3m23 0h3m-4 1h3m9 0h3m-15 1h3m-27 1h3m0 0h3m-2 0h3m13 0h3m-23 1h3m4 0h3m4 0h3m3 0h3m-32 2h3m6 0h3m28 0h3m-40 1h3m3 0h3m7 1h3m-31 1h3m4 0h3m16 0h3m-19 1h3m0 0h3m26 0h3m-28 1h3m13 1h3m6 0h3m1 0h3m4 1h3m-18 1h3m26 0h3m-58 1h3m7 0h3m13 0h3m0 0h3m-46 1h3m6 0h3m3 0h3m9 0h3m1 0h3m4 0h3m-41 1h3m5 0h3m65 0h3m-78 1h3m38 0h3m-36 1h3m24 1h3m14 0h3m-49 1h3m13 0h3m15 0h3m-28 1h3m21 0h3m-48 1h3m3 0h3m23 0h3m0 0h3m0 0h3m7 0h3m-23 1h3m14 0h3m-20 1h3m8 0h3m-10 1h3m8 0h3m-34 1h3m-1 0h3m24 0h3m-19 1h3m-4 1h3m6 0h3m6 1h3m-38 1h3m23 0h3m21 0h3m-14 2h3m-14 1h3m10 1h3m-41 1h3m0 0h3m-15 1h3m18 0h3m15 0h3m5 1h3m35 0h3m-60 1h3m-8 1h3m11 0h3m-36 2h3m19 2h3m14 1h3m-2 5h3m-31 3h3" stroke="#f0a0f0" stroke-width="3" fill="none" filter="url(#bl)"/>
<path transform="scale(.2)" d="M0 0m1371 2179h3m-29 4h3m-7 4h3m-2 1h3m-9 2h3m4 1h3m13 0h3m-34 1h3m9 0h3m7 0h3m-13 1h3m28 1h3m-42 1h3m12 0h3m-2 0h3m-15 1h3m11 0h3m6 0h3m6 0h3m-23 1h3m2 0h3m3 0h3m-21 1h3m-24 1h3m15 0h3m7 0h3m-1 0h3m4 0h3m-22 1h3m1 0h3m-1 0h3m19 0h3m-30 1h3m0 0h3m0 0h3m-2 0h3m6 0h3m-1 0h3m-1 0h3m-51 1h3m13 0h3m-1 0h3m-1 0h3m1 0h3m3 0h3m1 0h3m-2 0h3m-2 0h3m3 0h3m3 0h3m2 0h3m-50 1h3m7 0h3m0 0h3m3 0h3m14 0h3m3 0h3m-29 1h3m3 0h3m-1 0h3m-2 0h3m5 0h3m-21 1h3m3 0h3m4 0h3m4 0h3m6 0h3m-1 0h3m-40 1h3m19 0h3m0 0h3m-2 0h3m-1 0h3m5 0h3m-2 0h3m5 0h3m-54 1h3m1 0h3m15 0h3m-2 0h3m-2 0h3m-2 0h3m2 0h3m7 0h3m-40 1h3m1 0h3m2 0h3m-1 0h3m1 0h3m0 0h3m2 0h3m1 0h3m8 0h3m-42 1h3m4 0h3m-1 0h3m1 0h3m2 0h3m-1 0h3m-1 0h3m-2 0h3m-1 0h3m-1 0h3m4 0h3m-30 1h3m15 0h3m1 0h3m-1 0h3m1 0h3m3 0h3m6 0h3m-51 1h3m1 0h3m2 0h3m-2 0h3m-2 0h3m1 0h3m0 0h3m3 0h3m1 0h3m2 0h3m-1 0h3m-1 0h3m2 0h3m-55 1h3m15 0h3m3 0h3m-1 0h3m2 0h3m6 0h3m-1 0h3m-1 0h3m-38 1h3m3 0h3m2 0h3m-1 0h3m-2 0h3m-1 0h3m4 0h3m2 0h3m0 0h3m6 0h3m7 0h3m-2 0h3m-41 1h3m-1 0h3m0 0h3m-1 0h3m0 0h3m-2 0h3m-1 0h3m3 0h3m7 0h3m-30 1h3m5 0h3m-1 0h3m-1 0h3m1 0h3m3 0h3m3 0h3m10 0h3m-53 1h3m3 0h3m0 0h3m-2 0h3m3 0h3m4 0h3m-2 0h3m-2 0h3m-2 0h3m2 0h3m16 0h3m-60 1h3m11 0h3m2 0h3m4 0h3m1 0h3m2 0h3m-2 0h3m-1 0h3m-1 0h3m0 0h3m-30 1h3m-1 0h3m1 0h3m-1 0h3m-2 0h3m-1 0h3m-2 0h3m10 0h3m-27 1h3m4 0h3m-1 0h3m22 0h3m-37 1h3m-2 0h3m0 0h3m3 0h3m8 0h3m-1 0h3m-35 1h3m4 0h3m5 0h3m-2 0h3m16 0h3m16 0h3m-60 1h3m8 0h3m3 0h3m3 0h3m-2 0h3m-2 0h3m-1 0h3m-1 0h3m-28 1h3m7 0h3m3 0h3m7 0h3m5 0h3m-20 1h3m14 0h3m1 0h3m-41 1h3m7 0h3m3 0h3m-1 0h3m-21 1h3m12 0h3m13 0h3m-29 1h3m-1 0h3m16 0h3m-21 2h3m7 0h3m-10 1h3m0 0h3m2 0h3m-29 2h3m7 0h3m7 0h3" stroke="#e040e0" stroke-width="3" fill="none" filter="url(#bl)"/>
<path transform="scale(.2)" d="M0 0m1377 2177h3m-7 34h3m-42 2h3m46 1h3m-24 3h3m9 2h3m-11 2h3m-27 2h3m37 1h3m-19 1h3m-20 1h3m36 2h3m-7 1h3m-49 4h3m-9 4h3m28 0h3m-18 1h3m-4 1h3m2 0h3m-30 2h3m65 1h3m-37 1h3m6 0h3m1 0h3m-8 1h3m4 0h3m-39 2h3m18 1h3m19 0h3m2 0h3m-38 1h3m-1 0h3m-1 0h3m12 0h3m10 0h3m-53 1h3m32 0h3m-37 1h3m-2 0h3m-2 0h3m1 0h3m17 0h3m4 0h3m-24 1h3m2 0h3m1 0h3m14 0h3m-33 1h3m15 0h3m-18 2h3m11 0h3m6 0h3m-20 1h3m-9 1h3m-10 2h3m-2 0h3m-1 0h3m28 0h3m9 0h3m-63 1h3m-2 0h3m10 0h3m13 0h3m16 0h3m-41 1h3m8 0h3m8 0h3m7 0h3m20 0h3m-39 1h3m-20 1h3m15 0h3m0 0h3m6 0h3m-16 1h3m9 0h3m-14 1h3m8 1h3m-1 0h3m-43 1h3m21 0h3m-34 1h3m14 0h3m2 0h3m2 0h3m20 0h3m-57 1h3m35 0h3m3 0h3m-13 1h3m9 0h3m-36 1h3m31 0h3m1 0h3m6 0h3m17 0h3m-65 1h3m5 0h3m5 0h3m0 0h3m4 0h3m18 0h3m-56 1h3m32 0h3m9 0h3m27 0h3m-90 1h3m14 0h3m-2 0h3m2 0h3m8 0h3m8 0h3m-18 1h3m0 0h3m-1 0h3m15 0h3m25 0h3m-61 1h3m1 0h3m0 0h3m7 0h3m-2 0h3m-35 1h3m5 0h3m1 0h3m8 0h3m6 0h3m-17 2h3m-1 0h3m-9 1h3m-18 1h3m4 0h3m15 0h3m7 0h3m-23 1h3m1 0h3m2 0h3m-2 0h3m21 0h3m-41 1h3m19 0h3m12 0h3m-18 1h3m1 0h3m14 0h3m-37 1h3m2 0h3m14 0h3m7 0h3m-46 1h3m8 0h3m-26 2h3m42 0h3m-33 1h3m6 0h3m-48 1h3m37 0h3m35 0h3m-50 1h3m5 0h3m0 0h3m27 0h3m10 0h3m-61 1h3m2 0h3m0 0h3m9 0h3m7 0h3m2 0h3m-58 1h3m43 0h3m-2 0h3m2 0h3m-22 2h3m-1 0h3m3 0h3m-2 0h3m1 0h3m17 0h3m-43 1h3m11 0h3m2 0h3m9 0h3m-29 1h3m-1 0h3m7 0h3m-10 1h3m15 0h3m3 0h3m12 0h3m-27 1h3m-6 1h3m6 0h3m-27 1h3m1 0h3m10 0h3m4 0h3m16 0h3m-34 1h3m9 0h3m-24 1h3m-14 1h3m16 0h3m-1 1h3m10 0h3m-30 1h3m-3 1h3m6 0h3m31 0h3m-25 1h3m15 0h3m-16 2h3m-6 1h3m-27 1h3m7 0h3m26 0h3m-49 1h3m22 0h3m0 0h3m-2 0h3m0 0h3m-18 1h3m11 0h3m-39 3h3m8 0h3m12 0h3m-1 0h3m12 0h3m-16 1h3m3 0h3m-3 2h3m12 0h3m-23 2h3m-19 6h3" stroke="#90c890" stroke-width="3" fill="none" filter="url(#bl)"/>
<path transform="scale(.2)" d="M0 0m1330 2194h3m22 5h3m1 8h3m16 2h3m-28 11h3m-14 4h3m12 0h3m-2 2h3m-30 1h3m8 1h3m10 2h3m-25 1h3m7 0h3m1 0h3m-14 1h3m9 0h3m3 0h3m-8 1h3m2 0h3m-29 1h3m26 1h3m8 0h3m-35 1h3m43 0h3m-47 1h3m16 0h3m8 2h3m-8 1h3m-10 1h3m-24 1h3m12 0h3m5 0h3m3 0h3m-3 1h3m10 0h3m-28 1h3m-2 0h3m-7 1h3m1 0h3m7 0h3m1 0h3m1 0h3m3 0h3m-37 1h3m15 0h3m12 0h3m-2 0h3m2 0h3m-64 1h3m13 0h3m11 0h3m13 0h3m14 0h3m-52 1h3m5 0h3m9 1h3m11 0h3m-38 1h3m0 0h3m6 0h3m3 0h3m15 0h3m-38 1h3m7 0h3m0 0h3m32 0h3m-1 0h3m-43 1h3m3 0h3m4 0h3m-54 1h3m33 0h3m-1 0h3m5 0h3m2 0h3m4 0h3m14 0h3m-29 1h3m-1 0h3m3 0h3m12 0h3m-82 1h3m34 0h3m8 0h3m1 0h3m11 0h3m-31 1h3m6 0h3m6 0h3m-24 1h3m4 0h3m4 0h3m-1 0h3m-2 0h3m1 0h3m5 0h3m2 0h3m2 0h3m2 0h3m-45 1h3m9 0h3m39 0h3m-48 1h3m2 0h3m1 0h3m0 0h3m28 0h3m-74 1h3m26 0h3m0 0h3m6 0h3m2 0h3m11 0h3m-39 1h3m-2 0h3m3 0h3m-2 0h3m-1 0h3m3 0h3m-1 0h3m-2 0h3m0 0h3m1 0h3m11 0h3m1 0h3m-51 1h3m12 0h3m7 0h3m-2 0h3m3 0h3m13 0h3m-51 1h3m4 0h3m2 0h3m-2 0h3m3 0h3m13 0h3m-63 1h3m60 0h3m0 0h3m-36 1h3m-1 0h3m4 0h3m3 0h3m-2 0h3m-1 0h3m3 0h3m7 0h3m-50 1h3m1 0h3m0 0h3m22 0h3m15 0h3m-53 1h3m5 0h3m-2 0h3m3 0h3m5 0h3m0 0h3m-2 0h3m-16 1h3m-1 0h3m6 0h3m12 0h3m3 0h3m20 0h3m-58 1h3m1 0h3m2 0h3m-1 0h3m-40 1h3m27 0h3m6 0h3m2 0h3m18 0h3m-59 1h3m8 0h3m0 0h3m2 0h3m0 0h3m-1 0h3m-1 0h3m16 0h3m8 0h3m-58 1h3m9 0h3m1 0h3m2 0h3m2 0h3m-60 1h3m29 0h3m7 0h3m1 0h3m-2 0h3m9 0h3m0 0h3m8 0h3m-9 1h3m-25 1h3m-1 0h3m0 0h3m25 0h3m-45 1h3m6 0h3m6 0h3m-2 0h3m5 0h3m1 0h3m-2 0h3m-40 1h3m2 0h3m8 0h3m5 0h3m-1 0h3m3 0h3m-2 0h3m-1 0h3m0 0h3m8 0h3m-1 0h3m-40 1h3m6 0h3m1 0h3m0 0h3m0 0h3m5 0h3m-1 0h3m4 0h3m-61 1h3m19 0h3m1 0h3m4 0h3m10 0h3m10 0h3m-51 1h3m2 0h3m15 0h3m17 0h3m2 0h3m-47 1h3m9 0h3m4 0h3m-2 0h3m5 0h3m10 0h3m-33 1h3m2 0h3m0 0h3m-2 0h3m5 0h3m3 0h3m11 0h3m-51 1h3m9 0h3m5 0h3m10 0h3m-57 1h3m2 0h3m11 0h3m4 0h3m-2 0h3m7 0h3m7 0h3m-1 0h3m13 0h3m-1 0h3m-2 0h3m-49 1h3m11 0h3m0 0h3m-2 0h3m-1 0h3m2 0h3m8 0h3m-36 1h3m17 0h3m6 0h3m-35 1h3m6 0h3m21 0h3m-2 0h3m2 0h3m-27 1h3m1 0h3m33 0h3m-60 1h3m-1 0h3m1 0h3m3 0h3m2 0h3m1 0h3m4 0h3m-1 0h3m-19 1h3m3 0h3m5 0h3m0 0h3m19 0h3m-70 1h3m3 0h3m1 0h3m15 0h3m-1 0h3m-30 1h3m-1 0h3m-2 0h3m11 0h3m0 0h3m20 0h3m1 0h3m-42 1h3m-2 0h3m6 0h3m3 0h3m0 0h3m4 0h3m-28 1h3m2 0h3m1 0h3m4 0h3m0 0h3m4 0h3m9 0h3m-1 0h3m7 0h3m-45 1h3m6 0h3m9 0h3m-2 0h3m8 0h3m-25 1h3m5 0h3m-1 0h3m10 0h3m7 0h3m-52 1h3m8 0h3m0 0h3m-2 0h3m0 0h3m8 0h3m1 0h3m9 0h3m-46 1h3m0 0h3m12 0h3m6 0h3m6 0h3m-37 1h3m9 0h3m-39 1h3m38 0h3m0 0h3m17 0h3m-29 1h3m5 0h3m0 0h3m4 0h3m-1 0h3m3 0h3m-31 1h3m0 0h3m39 0h3m-64 1h3m21 0h3m4 0h3m-28 1h3m1 0h3m3 0h3m10 0h3m-36 1h3m26 0h3m20 0h3m-49 1h3m27 0h3m4 0h3m-27 1h3m10 0h3m2 0h3m8 0h3m-23 1h3m22 0h3m-33 1h3m15 0h3m-43 1h3m2 0h3m24 0h3m21 0h3m-67 1h3m21 0h3m12 0h3m-1 0h3m-14 1h3m-1 0h3m21 0h3m-23 1h3m3 0h3m-32 2h3m-1 0h3m2 0h3m11 0h3m-26 1h3m13 0h3m-33 1h3m27 0h3m20 2h3m-32 2h3m32 0h3m-49 1h3m16 0h3m5 0h3m26 0h3m-34 1h3m-2 0h3m4 0h3m-2 0h3m-27 2h3m1 1h3m26 1h3" stroke="#48a448" stroke-width="3" fill="none" filter="url(#bl)"/>
<path transform="scale(.2)" d="M0 0m1287 2185h3m-9 22h3m0 2h3m-14 7h3m12 2h3m16 9h3m-38 3h3m16 3h3m-36 5h3m10 0h3m-8 2h3m-1 3h3m19 0h3m-14 2h3m-5 3h3m0 0h3m19 0h3m-45 1h3m31 0h3m-25 1h3m14 0h3m4 0h3m-20 1h3m-1 0h3m7 1h3m-27 1h3m-1 0h3m19 0h3m9 0h3m7 0h3m-47 1h3m-2 0h3m33 0h3m-30 1h3m24 0h3m-45 1h3m6 0h3m3 0h3m5 0h3m8 0h3m-1 0h3m-11 1h3m2 0h3m-2 0h3m6 0h3m-29 1h3m26 0h3m-27 1h3m3 0h3m16 0h3m-36 2h3m0 0h3m0 0h3m8 0h3m12 0h3m4 0h3m-48 1h3m10 0h3m10 0h3m-38 1h3m15 0h3m2 0h3m-2 0h3m-2 0h3m11 0h3m-28 1h3m-20 1h3m11 0h3m20 0h3m-20 1h3m6 0h3m-31 1h3m38 1h3m-39 1h3m10 0h3m6 0h3m-21 1h3m-9 1h3m19 0h3m0 0h3m-37 1h3m21 0h3m5 1h3m6 0h3m-1 0h3m-2 0h3m-13 1h3m30 0h3m-65 1h3m2 0h3m22 0h3m7 0h3m14 0h3m-44 1h3m9 0h3m7 0h3m2 0h3m-37 1h3m5 0h3m4 0h3m36 0h3m-55 1h3m10 0h3m-15 1h3m7 0h3m3 0h3m6 0h3m23 0h3m-53 1h3m-2 0h3m2 0h3m4 0h3m11 0h3m0 0h3m2 1h3m-26 1h3m7 1h3m-18 1h3m6 1h3m1 0h3m13 0h3m-52 1h3m17 0h3m33 0h3m-22 1h3m-5 1h3m-16 1h3m-28 1h3m13 0h3m7 0h3m0 0h3m-1 0h3m-7 1h3m-2 0h3m9 0h3m-41 2h3m0 0h3m5 0h3m2 0h3m0 1h3m1 0h3m-28 1h3m39 0h3m4 0h3m-2 0h3m-46 1h3m15 0h3m6 0h3m5 0h3m-34 1h3m6 0h3m19 0h3m-43 1h3m9 0h3m37 0h3m-28 2h3m-12 2h3m36 1h3m-9 5h3m-9 3h3m-25 2h3m8 0h3m-5 1h3m10 0h3m-19 1h3m3 3h3m-2 1h3m-4 2h3m-5 1h3" stroke="#9ab0d0" stroke-width="3" fill="none" filter="url(#bl)"/>
<path transform="scale(.2)" d="M0 0m1300 2148h3m-33 4h3m19 4h3m-2 2h3m-17 1h3m-19 7h3m39 3h3m-13 1h3m1 1h3m-28 1h3m18 0h3m0 0h3m-7 3h3m37 0h3m-67 1h3m14 0h3m6 0h3m-7 1h3m-13 5h3m2 1h3m12 1h3m-4 1h3m-1 0h3m-38 1h3m-2 2h3m18 1h3m0 0h3m0 1h3m-1 0h3m7 1h3m-10 2h3m-35 1h3m12 0h3m-6 2h3m-1 3h3m12 0h3m-19 4h3m5 2h3m-2 0h3m3 0h3m6 0h3m-50 2h3m37 1h3m14 0h3m-33 2h3m-16 1h3m18 2h3m-8 14h3" stroke="#8a9" stroke-width="3" fill="none" filter="url(#bl)"/>
<rect x="263.90" y="445.90" width="14.70" height="20.10" fill="none" stroke="#555" stroke-width="0.7"/>
<line x1="250.2" y1="445.9" x2="263.9" y2="445.9" stroke="#777" stroke-width="0.7"/>
<rect x="263.90" y="432.00" width="14.70" height="13.90" fill="none" stroke="#333" stroke-width="0.75"/>
<text x="272.4" y="429.8" font-size="2.7" font-family="Liberation Sans" font-weight="bold" text-anchor="middle" fill="#444">MPP</text>
<text x="251.9" y="464.5" font-size="3.3" font-family="Liberation Sans" fill="#333" textLength="10.6" lengthAdjust="spacingAndGlyphs">LT-HSC</text>
<text x="265.4" y="464.5" font-size="3.3" font-family="Liberation Sans" fill="#333" textLength="12" lengthAdjust="spacingAndGlyphs">ST-HSC</text>
<rect x="250.20" y="411.00" width="60.50" height="55.00" fill="none" stroke="#9a9a9a" stroke-width="0.7"/>
<line x1="250.2" y1="411" x2="250.2" y2="466.4" stroke="#222" stroke-width="0.9"/>
<line x1="249.79999999999998" y1="466" x2="310.7" y2="466" stroke="#333" stroke-width="0.8"/>
<text x="248.79999999999998" y="416.7" font-size="3.3" font-family="Liberation Sans" fill="#333" text-anchor="end" transform="rotate(38 248.79999999999998 416.7)">10<tspan dy="-1" font-size="2.2">5</tspan></text>
<line x1="249.0" y1="415.7" x2="250.2" y2="415.7" stroke="#333" stroke-width="0.6"/>
<text x="248.79999999999998" y="430.8" font-size="3.3" font-family="Liberation Sans" fill="#333" text-anchor="end" transform="rotate(38 248.79999999999998 430.8)">10<tspan dy="-1" font-size="2.2">5</tspan></text>
<line x1="249.0" y1="429.8" x2="250.2" y2="429.8" stroke="#333" stroke-width="0.6"/>
<text x="248.79999999999998" y="444.9" font-size="3.3" font-family="Liberation Sans" fill="#333" text-anchor="end" transform="rotate(38 248.79999999999998 444.9)">10<tspan dy="-1" font-size="2.2">5</tspan></text>
<line x1="249.0" y1="443.9" x2="250.2" y2="443.9" stroke="#333" stroke-width="0.6"/>
<text x="248.79999999999998" y="459.0" font-size="3.3" font-family="Liberation Sans" fill="#333" text-anchor="end" transform="rotate(38 248.79999999999998 459.0)">10<tspan dy="-1" font-size="2.2">5</tspan></text>
<line x1="249.0" y1="458.0" x2="250.2" y2="458.0" stroke="#333" stroke-width="0.6"/>
<text x="258.3" y="470.6" font-size="3.3" font-family="Liberation Sans" fill="#333" text-anchor="middle" transform="rotate(-40 258.3 469.6)">10<tspan dy="-1" font-size="2.2">5</tspan></text>
<line x1="258.3" y1="466" x2="258.3" y2="467.2" stroke="#333" stroke-width="0.6"/>
<text x="273.2" y="470.6" font-size="3.3" font-family="Liberation Sans" fill="#333" text-anchor="middle" transform="rotate(-40 273.2 469.6)">10<tspan dy="-1" font-size="2.2">5</tspan></text>
<line x1="273.2" y1="466" x2="273.2" y2="467.2" stroke="#333" stroke-width="0.6"/>
<text x="288.1" y="470.6" font-size="3.3" font-family="Liberation Sans" fill="#333" text-anchor="middle" transform="rotate(-40 288.1 469.6)">10<tspan dy="-1" font-size="2.2">5</tspan></text>
<line x1="288.1" y1="466" x2="288.1" y2="467.2" stroke="#333" stroke-width="0.6"/>
<text x="303.0" y="470.6" font-size="3.3" font-family="Liberation Sans" fill="#333" text-anchor="middle" transform="rotate(-40 303.0 469.6)">10<tspan dy="-1" font-size="2.2">5</tspan></text>
<line x1="303.0" y1="466" x2="303.0" y2="467.2" stroke="#333" stroke-width="0.6"/>
</svg>
</body></html>
